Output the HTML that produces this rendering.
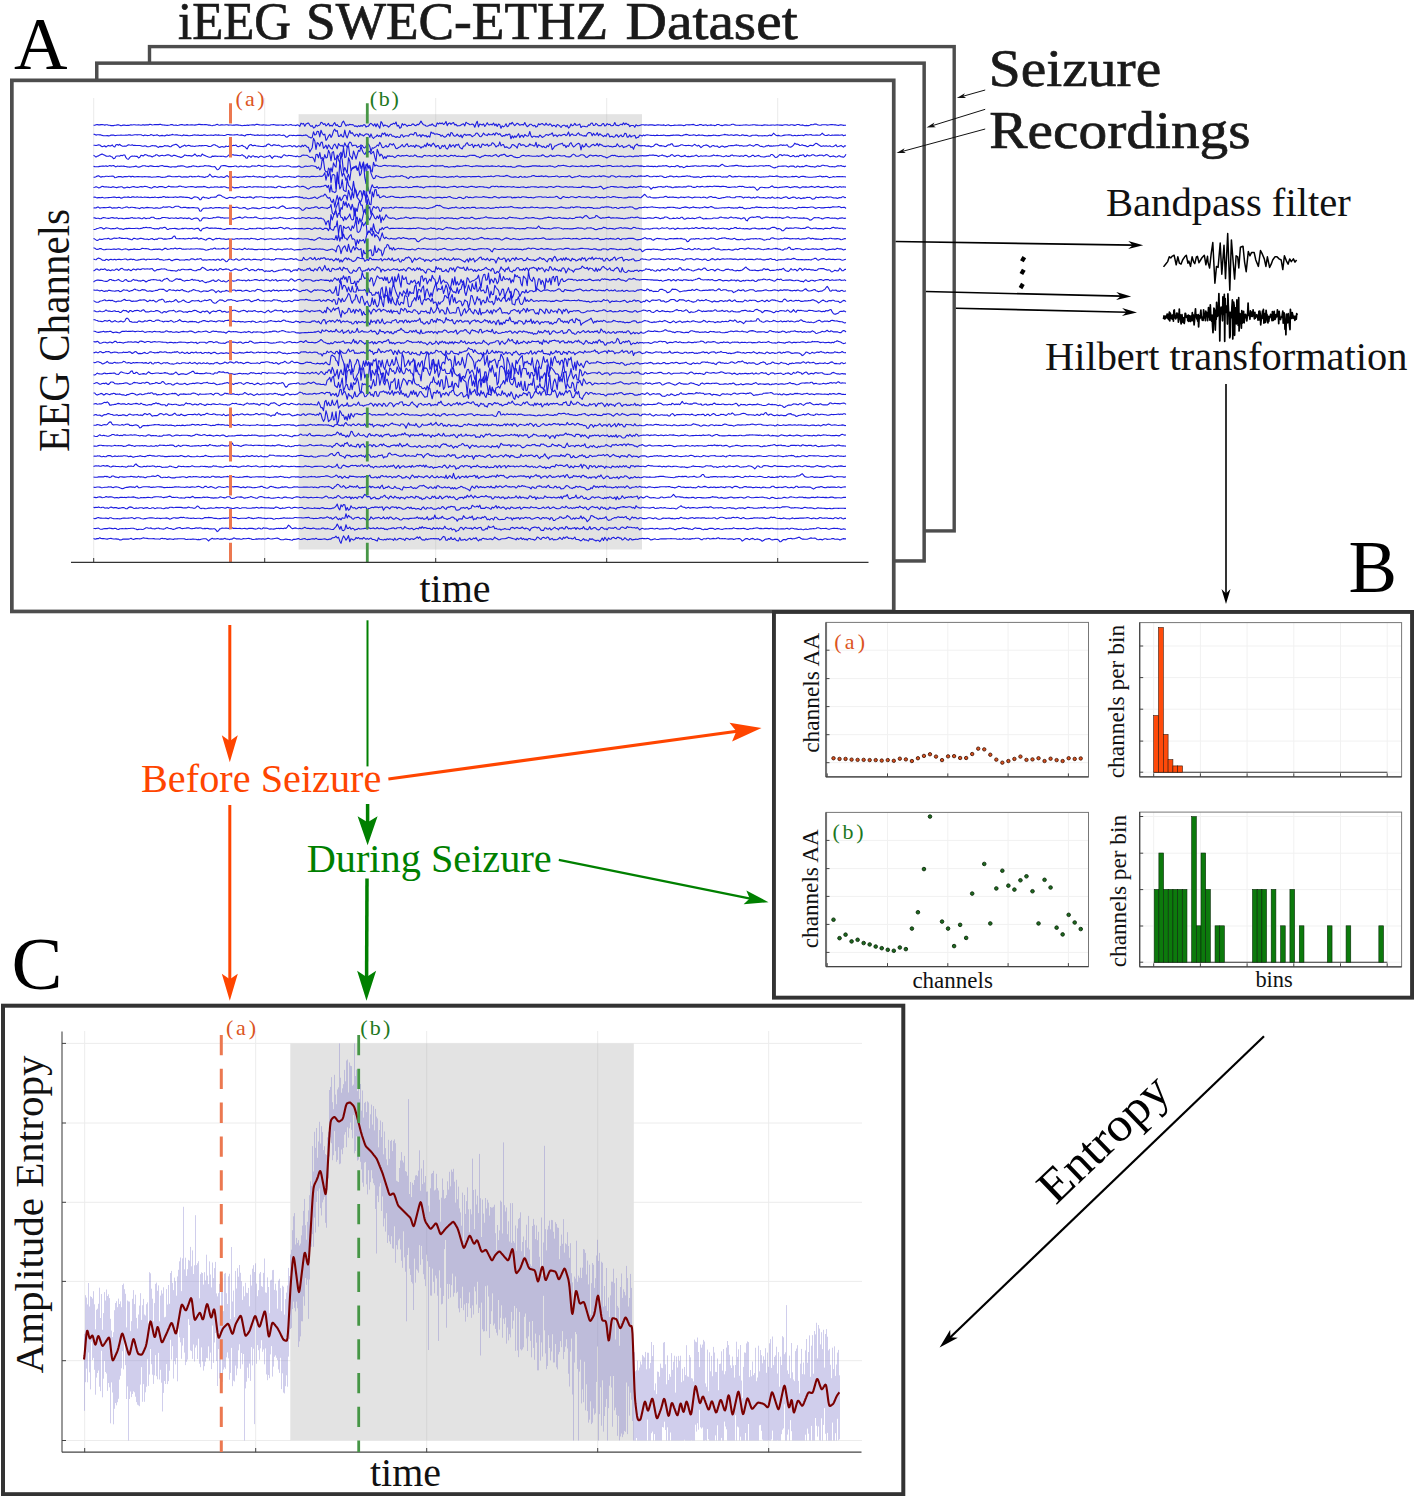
<!DOCTYPE html>
<html><head><meta charset="utf-8"><style>
html,body{margin:0;padding:0;background:#fff;overflow:hidden;}
svg{display:block;}
text{font-family:"Liberation Serif",serif;}
</style></head><body>
<svg width="1414" height="1496" viewBox="0 0 1414 1496">
<rect width="1414" height="1496" fill="#fff"/>
<rect x="149.50" y="46.60" width="804.70" height="484.30" fill="#fff" stroke="#4d4d4d" stroke-width="3.4"/>
<rect x="96.75" y="63.15" width="827.40" height="497.80" fill="#fff" stroke="#4d4d4d" stroke-width="3.5"/>
<rect x="11.85" y="80.35" width="881.90" height="531.10" fill="#fff" stroke="#4d4d4d" stroke-width="3.7"/>
<text x="178" y="38.5" font-size="53" fill="#1a1a1a" text-anchor="start" textLength="113" lengthAdjust="spacingAndGlyphs" stroke="#1a1a1a" stroke-width="0.7">iEEG</text>
<text x="306" y="38.5" font-size="53" fill="#1a1a1a" text-anchor="start" textLength="302" lengthAdjust="spacingAndGlyphs" stroke="#1a1a1a" stroke-width="0.7">SWEC-ETHZ</text>
<text x="625.6" y="38.5" font-size="53" fill="#1a1a1a" text-anchor="start" textLength="172" lengthAdjust="spacingAndGlyphs" stroke="#1a1a1a" stroke-width="0.7">Dataset</text>
<text x="14" y="69" font-size="74" fill="#000" text-anchor="start" textLength="53.5" lengthAdjust="spacingAndGlyphs" >A</text>
<text x="988.8" y="85.8" font-size="53" fill="#1a1a1a" text-anchor="start" textLength="172.4" lengthAdjust="spacingAndGlyphs" stroke="#1a1a1a" stroke-width="0.7">Seizure</text>
<text x="989.3" y="147.8" font-size="53" fill="#1a1a1a" text-anchor="start" textLength="261.3" lengthAdjust="spacingAndGlyphs" stroke="#1a1a1a" stroke-width="0.7">Recordings</text>
<line x1="93.70" y1="98.00" x2="93.70" y2="562.00" stroke="#ebebeb" stroke-width="1" />
<line x1="264.70" y1="98.00" x2="264.70" y2="562.00" stroke="#ebebeb" stroke-width="1" />
<line x1="435.70" y1="98.00" x2="435.70" y2="562.00" stroke="#ebebeb" stroke-width="1" />
<line x1="606.70" y1="98.00" x2="606.70" y2="562.00" stroke="#ebebeb" stroke-width="1" />
<line x1="777.70" y1="98.00" x2="777.70" y2="562.00" stroke="#ebebeb" stroke-width="1" />
<rect x="298.6" y="114.2" width="343.4" height="435.3" fill="#e3e3e3"/>
<line x1="435.70" y1="114.20" x2="435.70" y2="549.50" stroke="#d6d6d6" stroke-width="1" />
<line x1="606.70" y1="114.20" x2="606.70" y2="549.50" stroke="#d6d6d6" stroke-width="1" />
<g fill="none" stroke="#1c1ce0" stroke-width="1.1" stroke-linejoin="round">
<path d="M93.5 125.3l1.3-.1 1.2-.4 1.2-.3 1.3 .4 1.3 0 1.2-.3 1.2 0 1.3 .2 1.3 .3 1.2-.3 1.2-.1 1.3 .5 1.3 .1 1.2 .3 1.2 0 1.3 0 1.3-.3 1.2-.1 1.2-.3 1.3-.1 1.3 .4 1.2 .6 1.2-.4 1.3-.4 1.3 .1 1.2 .4 1.2-.1 1.3 0 1.3-.3 1.2-.4 1.2 .3 1.3-.2 1.3-.1 1.2 .3 1.2 0 1.3-.1 1.3 .1 1.2 .3 1.2-.4 1.3-.2 1.3 .4 1.2-.3 1.2 .1 1.3 0 1.3-.7 1.2 .3 1.2 .5 1.3-.2 1.3-.3 1.2 .1 1.2-.1 1.3 .1 1.3-.2 1.2 0 1.2 .5 1.3 .1 1.3 .1 1.2 .1 1.2 .2 1.3-.1 1.3-.3 1.2-.4 1.2 0 1.3 .7 1.3-.1 1.2-.2 1.2 .5 1.3-.2 1.3-.4 1.2-.4 1.2 .1 1.3 .4 1.3 .1 1.2-.2 1.2-.3 1.3 .4 1.3 0 1.2-.2 1.2 .1 1.3 .1 1.3 .1 1.2-.2 1.2-.2 1.3-.3 1.3 0 1.2 .2 1.2 0 1.3 .1 1.3-.2 1.2 .1 1.2 .1 1.3 .4 1.3-.1 1.2 .5 1.2 .2 1.3-.4 1.3-.1 1.2-.5 1.2-.4 1.3 .7 1.3 .2 1.2-.3 1.2 0 1.3 .1 1.3 0 1.2-.3 1.2 .1 1.3 .3 1.3-.1 1.2 0 1.2 .2 1.3-.2 1.3 .1 1.2-.3 1.2 .1 1.3 .2 1.3 .2 1.2 .1 1.2 .4 1.3-.3 1.3-.3 1.2 .3 1.2-.4 1.3 .3 1.3-.4 1.2 0 1.2-.3 1.3 .2 1.3 .2 1.2-.7 1.2-.2 1.3 .4 1.3 .3 1.2 .1 1.2 .1 1.3-.4 1.3 .3 1.2 .1 1.2 .2 1.3 0 1.3-.1 1.2-.5 1.2 0 1.3-.1 1.3 .2 1.2 .3 1.2 0 1.3 0 1.3-.1 1.2 0 1.2 .1 1.3 .3 1.3-.4 1.2-.5 1.2 .5 1.3 .3 1.3-.5 1.2-.2 1.2 .6 1.3 0 1.3 .1 1.2 .3 1.2-.8 1.3 .4 1.3 1.1 1.2-3.2 1.2 1 1.3-.7 1.3 2.8 1.2-2.2 1.2-.6 1.3-.4 1.3 2.1 1.2 1.4 1.2-.9 1.3 2.4 1.3-.6 1.2-2.4 1.2 1.2 1.3-.8 1.3-.5 1.2-2.7 1.2 .6 1.3 1.7 1.3-.9 1.2 2.3 1.2-1 1.3-1.5 1.3 2.7 1.2-.9 1.2 .9 1.3-1.9 1.3-1.6 1.2 2.9 1.2-.8 1.3 1.7 1.3 .2 1.2-.3 1.2-3.6 1.3-1.6 1.3 2.6 1.2 2.3 1.2-1.3 1.3 .5 1.3-.9 1.2 .4 1.2-.1 1.3 .4 1.3 1.5 1.2-.7 1.2 1.1 1.3-1.3 1.3 .9 1.2-1.1 1.2 .9 1.3-1.4 1.3-.1 1.2 2.3 1.2-.9 1.3-.1 1.3-2 1.2-.8 1.2 1.1 1.3 1.4 1.3-2 1.2 3 1.2-3.1 1.3 2.3 1.3 2.1 1.2-6.5 1.2 1.6 1.3 3 1.3-1.2 1.2 .6 1.2 .1 1.3 1.5 1.3-1.4 1.2-1.5 1.2 .1 1.3-1.2 1.3 .8 1.2-2 1.2 4.1 1.3-.8 1.3 2.9 1.2-.7 1.2-3.9 1.3 1.6 1.3-1.1 1.2 1.1 1.2 1.2 1.3-1.2 1.3 .2 1.2 .1 1.2-1.4 1.3 0 1.3 1.3 1.2 .3 1.2-1.3 1.3 .4 1.3-1.7 1.2-2 1.2 2 1.3 1.7 1.3 .2 1.2 1 1.2 .3 1.3-.6 1.3-.8 1.2 .3 1.2-1.4 1.3 1.6 1.3 .6 1.2 .4 1.2-3.5 1.3 1.1 1.3-1.1 1.2 .9 1.2-.9 1.3 1.6 1.3-1 1.2-2.1 1.2 4.2 1.3-2.2 1.3-.5 1.2 1.5 1.2-1.2 1.3-.6 1.3 2.4 1.2-.7 1.2 1.6 1.3-.1 1.3-.1 1.2-.7 1.2-.7 1.3-.6 1.3 2.2 1.2-3.7 1.2 1 1.3 .6 1.3 .9 1.2-.2 1.2-.5 1.3 .6 1.3 2.6 1.2-3.4 1.2-2.6 1.3 5.7 1.3-2.9 1.2 .5 1.2 .5 1.3-1.2 1.3 2.7 1.2-1.8 1.2-2 1.3 2.1 1.3 .1 1.2-.8 1.2 .9 1.3-2 1.3 2.6 1.2-1.6 1.2 2.5 1.3-2.5 1.3 .7 1.2 3.6 1.2-2.5 1.3 1.1 1.3-1.1 1.2-2 1.2 2.9 1.3-.6 1.3-2.8 1.2 .8 1.2-1.7 1.3 1.9 1.3 1.4 1.2-1.3 1.2-1.2 1.3 .8 1.3 1.3 1.2-.5 1.2-.3 1.3 .4 1.3-2.3 1.2 2.6 1.2 1.5 1.3-.9 1.3-1.5 1.2-.1 1.2 1 1.3 .7 1.3-.7 1.2 1.9 1.2-.5 1.3-2.9 1.3 1 1.2-.6 1.2-.6 1.3 1.2 1.3 .5 1.2-2 1.2 1.6 1.3 .5 1.3-1.5 1.2 .7 1.2 1.9 1.3-1.2 1.3 .3 1.2 1.5 1.2-2.4 1.3 .5 1.3 .9 1.2 1.5 1.2-1.8 1.3-.5 1.3 .1 1.2 1.3 1.2-1.2 1.3 2.7 1.3-1.3 1.2-2.8 1.2 1.8 1.3-.6 1.3-1.8 1.2 1.7 1.2 .1 1.3-.4 1.3-.7 1.2 3.4 1.2-1.2 1.3 0 1.3 .1 1.2 .4 1.2-.1 1.3-1.8 1.3 .4 1.2-2.1 1.2-.2 1.3 2.5 1.3-.2 1.2-1.9 1.2 1 1.3 1.4 1.3-.2 1.2 .2 1.2-1.7 1.3-.6 1.3 2.5 1.2-.6 1.2-1.8 1.3 1 1.3-.4 1.2 1.4 1.2 .2 1.3-.5 1.3-2.7 1.2 2.6 1.2 .2 1.3 .4 1.3-.9 1.2-.8 1.2 .8 1.3-2 1.3 1.7 1.2-1.4 1.2 1.2 1.3 0 1.3 2.2 1.2-1.1 1.2 0 1.3 0 1.3 1.8 1.2-2.6 1.2 .9 1.3 .1 1.3-.3 1.2-.5 1.2-.2 1.3 .1 1.3 .3 1.2-.2 1.2 .1 1.3 .1 1.3-.2 1.2 0 1.2 0 1.3 .2 1.3 .3 1.2-.2 1.2-.3 1.3-.2 1.3 .3 1.2 .1 1.2 .2 1.3-.4 1.3 .4 1.2 .3 1.2-.6 1.3-.2 1.3 .7 1.2 .1 1.2-.1 1.3-.1 1.3-.3 1.2 .2 1.2-.1 1.3-.2 1.3 .1 1.2-.1 1.2 .3 1.3 .3 1.3-.1 1.2-.8 1.2 .1 1.3 .1 1.3 0 1.2-.1 1.2-.2 1.3-.2 1.3 .7 1.2 .4 1.2-.1 1.3-.2 1.3-.6 1.2-.1 1.2 .6 1.3 .3 1.3-.4 1.2-.2 1.2 .8 1.3-.4 1.3-.1 1.2-.2 1.2 .3 1.3 .1 1.3 .3 1.2-.3 1.2-.8 1.3 0 1.3 .5 1.2 .4 1.2 .2 1.3-.4 1.3-.3 1.2 0 1.2 .2 1.3 .2 1.3-.2 1.2-.3 1.2-.5 1.3 0 1.3 .6 1.2 .3 1.2 0 1.3 .1 1.3 .1 1.2-.1 1.2 0 1.3-.3 1.3 0 1.2-.1 1.2 .1 1.3 .2 1.3 0 1.2-.2 1.2-.1 1.3-.2 1.3 .1 1.2 .3 1.2-.1 1.3 .2 1.3 0 1.2 .1 1.2 .3 1.3-.5 1.3-.2 1.2 .1 1.2 .1 1.3 .1 1.3 0 1.2-.1 1.2-.1 1.3 0 1.3 .2 1.2-.2 1.2-.1 1.3 .1 1.3 .1 1.2 0 1.2 .3 1.3-.4 1.3-.2 1.2 0 1.2 .1 1.3 .3 1.3-.1 1.2-.3 1.2 0 1.3 .3 1.3 .3 1.2-.5 1.2-.4 1.3 0 1.3 .4 1.2 .4 1.2-.4 1.3 .3 1.3 .6 1.2-.4 1.2 .2 1.3 0 1.3-.4 1.2-.6 1.2 .2 1.3-.2 1.3-.6 1.2 .1 1.2 .5 1.3 .4 1.3 .3 1.2-.2 1.2-.3 1.3-.1 1.3 .1 1.2 0 1.2 .3 1.3-.1 1.3-.3 1.2-.1 1.2-.1 1.3 .2 1.3 .2 1.2 0 1.2 .4 1.3 .1 1.3-.5 1.2-.1 1.2 .2 1.3 .4 1.3-.1 1.2 0"/>
<path d="M93.5 134.3l1.3 .1 1.2 .7 1.2-.3 1.3 0 1.3 .1 1.2 0 1.2 .5 1.3 .3 1.3 .1 1.2-.1 1.2-.1 1.3 .3 1.3-.2 1.2-.6 1.2-.1 1.3 .1 1.3 .5 1.2-.1 1.2-.2 1.3-.1 1.3 0 1.2-.2 1.2 .2 1.3 .1 1.3-.1 1.2-.2 1.2 .2 1.3-.4 1.3 .1 1.2 .2 1.2 .1 1.3-.2 1.3-.2 1.2 0 1.2 .1 1.3-.1 1.3 0 1.2-.1 1.2 .5 1.3 .5 1.3-.7 1.2 .2 1.2 .4 1.3-.1 1.3-.2 1.2-.7 1.2 .4 1.3 .6 1.3-.4 1.2-.1 1.2-.3 1.3 .8 1.3 .5 1.2-.5 1.2-.2 1.3 .3 1.3 .2 1.2-.7 1.2-.3 1.3 .6 1.3-.4 1.2-.1 1.2-.6 1.3 .4 1.3 .2 1.2-.3 1.2 .2 1.3 .3 1.3 0 1.2 .4 1.2 .1 1.3-.8 1.3 .3 1.2 .2 1.2 0 1.3 .4 1.3 0 1.2-.3 1.2-.1 1.3-.4 1.3-.2 1.2 .4 1.2-.1 1.3 0 1.3 .4 1.2-.1 1.2 0 1.3-.5 1.3 0 1.2 .3 1.2 .3 1.3-.3 1.3 0 1.2-.2 1.2 .2 1.3 .2 1.3-.5 1.2 0 1.2 .3 1.3-.3 1.3 .3 1.2 .1 1.2 0 1.3 .2 1.3 0 1.2-.4 1.2-.6 1.3 0 1.3 .4 1.2-.2 1.2 .3 1.3 0 1.3-.1 1.2-.1 1.2-.4 1.3 .6 1.3 .3 1.2-.4 1.2 .2 1.3 .4 1.3 .5 1.2-1 1.2-.4 1.3 0 1.3-.1 1.2-.1 1.2 .5 1.3 .1 1.3 .4 1.2-.1 1.2-.4 1.3 .2 1.3 .4 1.2-.4 1.2 0 1.3 .1 1.3-.2 1.2 .3 1.2 .4 1.3-.3 1.3-.6 1.2 .5 1.2-.2 1.3-.4 1.3 .2 1.2 .5 1.2-.2 1.3-.3 1.3 0 1.2 .4 1.2 .2 1.3-.4 1.3 .5 1.2 1.3 1.2 .2 1.3-1.1 1.3-.7 1.2-.1 1.2 .4 1.3-.2 1.3 .1 1.2 .2 1.2-.3 1.3-.1 1.3 .1 1.2 0 1.2 .3 1.3-.3 1.3-.2 1.2-.3 1.2 .6 1.3 1.4 1.3 .3 1.2 .7 1.2-.5 1.3-5.6 1.3 3.3 1.2-.5 1.2-3.3 1.3 .2 1.3 5.4 1.2-6.7 1.2 3.1 1.3 1.7 1.3-.9 1.2 6.3 1.2-1.6 1.3-2.7 1.3-1.8 1.2 3.1 1.2-2 1.3-4.6 1.3-1.6 1.2 2.2 1.2-.9 1.3 6 1.3-.4 1.2-1.8 1.2 2.3 1.3 .3 1.3-6.8 1.2 5.5 1.2 2.3 1.3-3.8 1.3-3.6 1.2 3 1.2-.9 1.3 2 1.3 1.6 1.2-1.9 1.2-.1 1.3 2.6 1.3-3.4 1.2 1.6 1.2-.2 1.3 1.2 1.3-1.2 1.2-.9 1.2 .1 1.3 .4 1.3 2.9 1.2-3.4 1.2 3.1 1.3 1.5 1.3-1.5 1.2-.4 1.2-1.7 1.3 1.6 1.3-1 1.2 1.5 1.2-3.9 1.3 1.2 1.3-1.5 1.2 3.2 1.2-1.8 1.3 2 1.3-2 1.2 0 1.2 2.1 1.3-.3 1.3 .7 1.2 .8 1.2-1 1.3 .8 1.3 .2 1.2-2.4 1.2-.4 1.3 2.4 1.3-1 1.2-.4 1.2 .1 1.3 .5 1.3-1.9 1.2-.4 1.2 .3 1.3 .6 1.3-2.4 1.2 .2 1.2 3.3 1.3-.2 1.3-1.2 1.2 2.3 1.2-2 1.3 .2 1.3 1.1 1.2-.8 1.2 1.7 1.3-1.2 1.3 1.2 1.2-5.1 1.2 1.1 1.3-.1 1.3 1.3 1.2-.3 1.2-.1 1.3 .6 1.3 .1 1.2 1.7 1.2-1.2 1.3 1.4 1.3 .7 1.2-.6 1.2-1.8 1.3-.7 1.3 2.2 1.2-3.8 1.2 .4 1.3 2.7 1.3 .7 1.2-.6 1.2-1.5 1.3 1.6 1.3 .8 1.2-1.7 1.2 2.8 1.3-2.6 1.3-1 1.2 1.4 1.2-.8 1.3 .2 1.3-.3 1.2 .7 1.2 1.4 1.3-.8 1.3-.8 1.2-1.8 1.2-.3 1.3 1.6 1.3 1.9 1.2 .2 1.2-1.3 1.3-2.4 1.3 1.7 1.2 .4 1.2 .5 1.3-1.9 1.3 1 1.2 .1 1.2 0 1.3-1.5 1.3 1.9 1.2-2.4 1.2 .5 1.3 1.4 1.3-1.1 1.2 1.8 1.2 1.1 1.3-1 1.3 .4 1.2-1.6 1.2 .9 1.3-1 1.3-.1 1.2 4.7 1.2-3 1.3 2.1 1.3-2 1.2 1.4 1.2-1.6 1.3-2 1.3 3.9 1.2-2 1.2-.2 1.3 1.9 1.3-2.8 1.2 1.1 1.2 .6 1.3-.4 1.3-4.3 1.2 4.3 1.2 1.5 1.3-1.1 1.3 .1 1.2 .7 1.2-.5 1.3 .7 1.3-2.2 1.2 1 1.2 1.4 1.3-.6 1.3-.9 1.2-1.4 1.2 .2 1.3 .7 1.3-1.2 1.2 0 1.2-1.4 1.3 3.4 1.3-1.1 1.2-.1 1.2 1.7 1.3-1.5 1.3-.4 1.2 1.1 1.2-.9 1.3-.5 1.3-.2 1.2 1.3 1.2-.9 1.3-2.8 1.3 4.3 1.2-1.6 1.2-.7 1.3 1.2 1.3 .1 1.2 .3 1.2-1.6 1.3-1 1.3 2.1 1.2-.2 1.2 .6 1.3 .6 1.3-.4 1.2 .7 1.2-2.4 1.3-1.3 1.3-.1 1.2 .4 1.2 2.8 1.3-2.5 1.3 2.1 1.2-.5 1.2-2.1 1.3 3.1 1.3-2 1.2 .9 1.2 .8 1.3 1.2 1.3-1.3 1.2 .9 1.2-2.5 1.3 .2 1.3 3 1.2-.6 1.2-.1 1.3 .9 1.3-.4 1.2-1.9 1.2 .2 1.3 2.1 1.3-1.3 1.2-1 1.2 1.8 1.3-.4 1.3-3.1 1.2 .3 1.2 3.7 1.3-.3 1.3-2 1.2 2.1 1.2-1 1.3-.3 1.3-.5 1.2 3.1 1.2-.8 1.3-.4 1.3-2.1 1.2 .4 1.2 .7 1.3-1.1 1.3 .7 1.2-.6 1.2-.4 1.3 .3 1.3 .3 1.2 .1 1.2 .1 1.3-.2 1.3 .3 1.2-.2 1.2-.3 1.3 .4 1.3 0 1.2-.1 1.2 .1 1.3-.5 1.3 .2 1.2 .5 1.2-.2 1.3 .1 1.3 0 1.2-.2 1.2 0 1.3-.3 1.3 .2 1.2-.2 1.2 0 1.3 0 1.3 .3 1.2 .2 1.2 .1 1.3-.6 1.3-.4 1.2-.3 1.2 .2 1.3 .5 1.3 .3 1.2-.1 1.2-.1 1.3-.4 1.3 .2 1.2 .6 1.2-.1 1.3-.6 1.3 .2 1.2 .1 1.2-.2 1.3 .4 1.3 .2 1.2 .2 1.2 .1 1.3-.5 1.3 .2 1.2 0 1.2-.1 1.3-.4 1.3 .1 1.2 .2 1.2 .4 1.3-.2 1.3 0 1.2-.4 1.2-.2 1.3-.2 1.3-.4 1.2 .3 1.2 .2 1.3 .2 1.3 .1 1.2-.4 1.2 .2 1.3 .5 1.3-.4 1.2-.2 1.2 0 1.3 .3 1.3 .5 1.2-.2 1.2-.7 1.3 .3 1.3 .5 1.2-.3 1.2 .1 1.3 .6 1.3 .2 1.2-.3 1.2-.7 1.3 0 1.3 0 1.2-.1 1.2 .2 1.3 .6 1.3-.2 1.2 .1 1.2 .1 1.3-.2 1.3-.1 1.2 .1 1.2 .3 1.3-.5 1.3-.5 1.2 .7 1.2-.7 1.3-1.8 1.3 1.2 1.2 .9 1.2 .3 1.3-.2 1.3 .4 1.2 .2 1.2-.2 1.3-.4 1.3-.3 1.2-.1 1.2 0 1.3-.2 1.3 .1 1.2 .1 1.2 .7 1.3 .1 1.3-.5 1.2 .4 1.2-.1 1.3-.2 1.3 .1 1.2-.2 1.2-.1 1.3 .6 1.3-.8 1.2-.6 1.2 .5 1.3 .1 1.3-.3 1.2-.1 1.2 .7 1.3 0 1.3-.1 1.2-.1 1.2 0 1.3 .1 1.3 .1 1.2-.8 1.2-1.3 1.3 1.3 1.3 .8 1.2 .2 1.2-.1 1.3-.6 1.3 .4 1.2 .3 1.2-.5 1.3 .2 1.3-.2 1.2 .1 1.2-.1 1.3 .1 1.3 .2 1.2-.3 1.2-.2 1.3 .9 1.3-.4 1.2-.2"/>
<path d="M93.5 145.3l1.3 0 1.2 .2 1.2-.3 1.3-.3 1.3 .1 1.2 1.1 1.2 .7 1.3-.5 1.3-.4 1.2 1.1 1.2-.9 1.3-.7 1.3 .5 1.2 0 1.2-1 1.3 1.6 1.3 .4 1.2-2.1 1.2-.3 1.3 .8 1.3-1 1.2 1.3 1.2 .5 1.3 .2 1.3-.3 1.2 .2 1.2-.7 1.3-.8 1.3 .3 1.2 .2 1.2-.4 1.3 .7 1.3-.3 1.2 .3 1.2 0 1.3 0 1.3 0 1.2 .3 1.2 .4 1.3 0 1.3-.5 1.2 .4 1.2 .7 1.3 0 1.3-.3 1.2-.5 1.2-.4 1.3 .1 1.3 .2 1.2 0 1.2 .9 1.3 .6 1.3-1 1.2 .2 1.2 0 1.3-.3 1.3-.7 1.2 .4 1.2-.3 1.3 .4 1.3 .6 1.2-.1 1.2-1.1 1.3-.5 1.3-.4 1.2-.4 1.2 .8 1.3 1.1 1.3 1.6 1.2-.7 1.2-.8 1.3-.3 1.3-.9 1.2 1.3 1.2-.6 1.3-.4 1.3 .3 1.2 .6 1.2-.1 1.3 .2 1.3 .2 1.2-.5 1.2 0 1.3-.1 1.3-.4 1.2 .4 1.2-.3 1.3 .2 1.3-.3 1.2 0 1.2 .2 1.3 .7 1.3 .1 1.2-.3 1.2-.7 1.3-.7 1.3 0 1.2 .7 1.2 .4 1.3 1.1 1.3 .4 1.2-.7 1.2-.1 1.3 .5 1.3-.1 1.2-1 1.2 .5 1.3 0 1.3-1.8 1.2 .6 1.2 .4 1.3-.3 1.3 .1 1.2-.5 1.2 1.4 1.3 .3 1.3-.6 1.2-.3 1.2-.6 1.3 1.3 1.3 .2 1.2 1.3 1.2 1 1.3-2.8 1.3-1.2 1.2-.5 1.2 1.1 1.3 0 1.3-.4 1.2 .5 1.2 .3 1.3 .1 1.3 .2 1.2 .2 1.2 0 1.3 .1 1.3-.6 1.2 .1 1.2-1.7 1.3-.5 1.3 .7 1.2 1 1.2 .1 1.3-.9 1.3 .1 1.2 .3 1.2 .3 1.3-.4 1.3 .6 1.2 .4 1.2 .9 1.3-.4 1.3-.6 1.2 .3 1.2-.1 1.3-.5 1.3-.1 1.2 .2 1.2 1.1 1.3-1 1.3-.2 1.2 1.2 1.2 0 1.3-1.1 1.3 .5 1.2 .6 1.2-1.7 1.3 1.3 1.3-1.5 1.2 .8 1.2 1.4 1.3 .2 1.3 4.7 1.2-2.4 1.2-2 1.3-9.4 1.3 2.7 1.2 8.5 1.2-6.9 1.3 .9 1.3 2.7 1.2-3.8 1.2-.3 1.3 6.2 1.3-1.3 1.2-1.9 1.2 3.9 1.3-4.2 1.3 1.6 1.2 2.1 1.2 .5 1.3-3.6 1.3-1.4 1.2 2.2 1.2 2.6 1.3-5.2 1.3 1.7 1.2 .6 1.2-.6 1.3 2.1 1.3-4.5 1.2 2.8 1.2 1.3 1.3-2.7 1.3-2.3 1.2 .7 1.2 3.2 1.3-.5 1.3-.1 1.2 0 1.2 2.2 1.3-.9 1.3-.4 1.2-1.3 1.2 .5 1.3 2.1 1.3 .5 1.2-1.7 1.2-2.4 1.3 .1 1.3 2.4 1.2 5.2 1.2-3.8 1.3 .5 1.3-1.1 1.2-.5 1.2-1.7 1.3 .9 1.3-3.7 1.2 2.3 1.2 2.9 1.3 .3 1.3-1.1 1.2-1.2 1.2 1.7 1.3-.6 1.3-2.8 1.2 .4 1.2 1 1.3-1.4 1.3 2.3 1.2 2.4 1.2 .2 1.3-1.1 1.3-.5 1.2-1 1.2-1.5 1.3 2.3 1.3-.2 1.2-2.1 1.2-.8 1.3 2.9 1.3-.3 1.2-.8 1.2 .9 1.3-.8 1.3 1.8 1.2-2.5 1.2 1.1 1.3-.1 1.3 .7 1.2 1.5 1.2-1.4 1.3 .3 1.3-2.1 1.2 1.8 1.2-3.7 1.3 2.5 1.3-1.1 1.2 2.2 1.2-2.4 1.3-1 1.3 2.2 1.2 1.7 1.2-1.5 1.3 0 1.3 3.2 1.2-.7 1.2-2.7 1.3 1.2 1.3-1.5 1.2 3 1.2 1 1.3-1.6 1.3-3.2 1.2 2.7 1.2-1.5 1.3-.6 1.3 2.4 1.2-2.7 1.2 .7 1.3-1.1 1.3 3.2 1.2 .8 1.2 .8 1.3-3 1.3-.1 1.2-2.2 1.2-1 1.3 2.2 1.3 .6 1.2-.6 1.2-.8 1.3 3.5 1.3-2.6 1.2 .8 1.2-.2 1.3-1.2 1.3 2.7 1.2 .3 1.2-3.4 1.3 .4 1.3 1 1.2-.3 1.2-1 1.3 2.2 1.3-1.1 1.2 .1 1.2-2.5 1.3 .5 1.3 1.6 1.2 2.1 1.2-1.1 1.3-.1 1.3-3.9 1.2 4 1.2-1.1 1.3-.3 1.3 3.1 1.2-.7 1.2 .2 1.3 1.1 1.3 0 1.2-1.2 1.2-2.5 1.3 .3 1.3 1 1.2 .7 1.2 1.6 1.3-4.2 1.3-.5 1.2 2.2 1.2-.7 1.3-.1 1.3 .7 1.2 1.3 1.2-.6 1.3-.3 1.3-2 1.2 1.1 1.2 0 1.3 .9 1.3 0 1.2-3.7 1.2 5.2 1.3-2.6 1.3 .7 1.2 .5 1.2 1.2 1.3-1 1.3 1.3 1.2 .2 1.2-2.1 1.3 1 1.3-2.6 1.2 0 1.2 5.6 1.3-1.5 1.3-2.1 1.2-.1 1.2-.9 1.3-.6 1.3-.4 1.2-.1 1.2-.8 1.3 2.7 1.3-.7 1.2 2.5 1.2-2 1.3 .8 1.3-2.7 1.2-1 1.2 2.4 1.3 1.9 1.3-.9 1.2-1.2 1.2-1 1.3-.6 1.3 .9 1.2 5.8 1.2-5.2 1.3 2.3 1.3-.8 1.2-2.8 1.2 2.4 1.3 1 1.3 .1 1.2-1.3 1.2-.9 1.3-.4 1.3 1.3 1.2-.6 1.2-1.7 1.3 2.7 1.3-2.2 1.2 1 1.2 .2 1.3 1.2 1.3 .1 1.2 .2 1.2-.6 1.3-.2 1.3 .8 1.2-.3 1.2 .8 1.3-.5 1.3-.4 1.2 .2 1.2-2.7 1.3 2 1.3 1.2 1.2-.8 1.2-.6 1.3 2.1 1.3-.7 1.2-.1 1.2-.7 1.3-1 1.3 .1 1.2 2.2 1.2-.6 1.3 2.5 1.3-3.5 1.2-1 1.2-.7 1.3 1.7 1.3-.2 1.2 .3 1.2-.3 1.3 .1 1.3-.1 1.2 .7 1.2-.2 1.3-.2 1.3 .4 1.2 .7 1.2-.5 1.3-.3 1.3-1.4 1.2-.7 1.2 .2 1.3 .9 1.3 .7 1.2-.3 1.2 .3 1.3 .1 1.3 .6 1.2-.1 1.2-1 1.3-.7 1.3 .2 1.2-1.1 1.2 0 1.3 2.1 1.3 .3 1.2 .1 1.2-.3 1.3 0 1.3-.5 1.2-.8 1.2-.1 1.3 .5 1.3 .3 1.2 .1 1.2-.1 1.3-.2 1.3 .2 1.2 .2 1.2 .5 1.3-1.1 1.3-.8 1.2 1.1 1.2 .7 1.3-.8 1.3 1 1.2 1.4 1.2-1.1 1.3-1 1.3-.3 1.2-.4 1.2 .3 1.3 .8 1.3 1.2 1.2-.4 1.2-1.1 1.3-.2 1.3 .8 1.2-.1 1.2-.2 1.3 1.2 1.3 .2 1.2-1.1 1.2-.4 1.3 .7 1.3 .7 1.2-.7 1.2 0 1.3-.8 1.3-.1 1.2-.1 1.2-.1 1.3 .3 1.3-.5 1.2-.4 1.2 .2 1.3 .1 1.3 .7 1.2-.4 1.2 .2 1.3 .6 1.3-.3 1.2 0 1.2-.1 1.3-.6 1.3-.5 1.2 .5 1.2 .4 1.3 .5 1.3-.8 1.2-.9 1.2 .1 1.3 .5 1.3 .9 1.2 .4 1.2 0 1.3 .6 1.3-.2 1.2-.9 1.2 0 1.3-.6 1.3 .9 1.2-.3 1.2 .3 1.3-.3 1.3 .1 1.2-.3 1.2 0 1.3 0 1.3-.7 1.2-.3 1.2 .7 1.3-.3 1.3 .2 1.2-.2 1.2-.3 1.3 1.9 1.3 .3 1.2 .1 1.2-.8 1.3-1.2 1.3-1.9 1.2 .9 1.2 0 1.3 .4 1.3 1 1.2-.3 1.2-.5 1.3 .8 1.3 .1 1.2 .3 1.2 .9 1.3-.4 1.3-1 1.2-.1 1.2 .5 1.3-.4 1.3-1.3 1.2-.8 1.2 .4 1.3 1 1.3 .8 1.2 .9 1.2-.2 1.3-.5 1.3 .5 1.2-.4 1.2 .3 1.3 .1 1.3-.4 1.2 .6 1.2 .4 1.3-.3 1.3-.9 1.2-.8 1.2 1.9 1.3-.2 1.3-.6 1.2-.5 1.2 .9 1.3 .8 1.3-1.4 1.2 .4"/>
<path d="M93.5 155.3l1.3 .8 1.2 1 1.2-.8 1.3-.4 1.3-.9 1.2-.6 1.2-.3 1.3 .6 1.3 .6 1.2 .8 1.2 .1 1.3 .1 1.3-.5 1.2 .6 1.2 .5 1.3 1.8 1.3-.5 1.2-2 1.2-.2 1.3 0 1.3 .1 1.2-.8 1.2 .4 1.3-.7 1.3 0 1.2 2.7 1.2 1.3 1.3 .2 1.3-1.8 1.2-.9 1.2-.5 1.3 .2 1.3-.2 1.2 .4 1.2 0 1.3 1.5 1.3-.6 1.2-2 1.2 .3 1.3 .3 1.3-1.3 1.2 .1 1.2 .5 1.3 .8 1.3-.1 1.2 .3 1.2 .8 1.3-.9 1.3-.4 1.2-.9 1.2 0 1.3 1.1 1.3 .2 1.2-.6 1.2-.2 1.3 .5 1.3 0 1.2-.6 1.2-.3 1.3-.2 1.3 .5 1.2 .9 1.2 .2 1.3-1.1 1.3 .2 1.2 .3 1.2 .5 1.3 .6 1.3 .1 1.2 .7 1.2-.7 1.3-.7 1.3-1.3 1.2 .4 1.2 .5 1.3-.2 1.3-.1 1.2 .6 1.2-.2 1.3-.6 1.3-1.3 1.2 1.2 1.2 1.1 1.3-.8 1.3 .4 1.2 .2 1.2-2.1 1.3 1 1.3 .4 1.2 .7 1.2 .4 1.3 .5 1.3 .3 1.2 0 1.2-1.2 1.3 .3 1.3-.3 1.2-.1 1.2 .4 1.3-.1 1.3 0 1.2 .1 1.2-.2 1.3 0 1.3 .5 1.2 .2 1.2-.5 1.3-1.1 1.3-1.1 1.2 0 1.2 .6 1.3 .1 1.3 .3 1.2-.2 1.2 .4 1.3 .1 1.3 .3 1.2-.5 1.2-.6 1.3 1.2 1.3 .3 1.2 1.7 1.2 .4 1.3-2.6 1.3 .6 1.2 1.1 1.2-1.4 1.3-.2 1.3 1.1 1.2-.3 1.2 .2 1.3 .8 1.3-1.2 1.2-.4 1.2 .4 1.3 .8 1.3 0 1.2-.5 1.2-.5 1.3 0 1.3-.8 1.2 1.4 1.2 1.6 1.3-1.7 1.3-.7 1.2 .2 1.2 .1 1.3 .7 1.3-.2 1.2 .9 1.2-.9 1.3-1.8 1.3-.2 1.2 1 1.2 .2 1.3-.6 1.3 .1 1.2 .1 1.2 .1 1.3 .6 1.3-.1 1.2 .6 1.2-.9 1.3 .8 1.3 0 1.2-.5 1.2-.9 1.3-.2 1.3 .2 1.2 0 1.2 .1 1.3 1 1.3 1 1.2 .1 1.2-.4 1.3 1.3 1.3 3.5 1.2-7.4 1.2-.2 1.3 3.5 1.3-5.2 1.2 6.2 1.2-1.3 1.3 2.2 1.3-5.1 1.2 3.4 1.2-.5 1.3-7.2 1.3 3.1 1.2 7.4 1.2-8.4 1.3-.8 1.3 8.2 1.2-1.2 1.2-2.1 1.3 .4 1.3-3 1.2-1.7 1.2 4.3 1.3-8.6 1.3 9.7 1.2-.6 1.2-9.7 1.3-1.5 1.3 9.9 1.2 1.4 1.2 2.2 1.3-8.3 1.3 3.9 1.2 4.3 1.2-4.4 1.3-4.4 1.3 1 1.2-5.4 1.2 4.3 1.3 2.7 1.3 1.5 1.2-2.2 1.2-1.9 1.3 1.8 1.3-.9 1.2 2.6 1.2-1.3 1.3-1.1 1.3 5.7 1.2 4.1 1.2-12 1.3 3.5 1.3 3.3 1.2-2 1.2 1.2 1.3 3.4 1.3-2.2 1.2 2 1.2-2.6 1.3 .2 1.3-.2 1.2 .6 1.2-.4 1.3 .6 1.3 .9 1.2-.9 1.2-1.1 1.3-.3 1.3 .8 1.2 .2 1.2-.8 1.3 .4 1.3-.1 1.2-.4 1.2 0 1.3 .6 1.3 .5 1.2-.7 1.2 .4 1.3-.1 1.3-1.2 1.2 .6 1.2 1.2 1.3 0 1.3-.2 1.2 .4 1.2 .3 1.3-1.4 1.3-.5 1.2 .4 1.2 .3 1.3-.3 1.3-.1 1.2 .7 1.2-.1 1.3-.4 1.3-.5 1.2 .4 1.2 .9 1.3-.4 1.3-.9 1.2 .9 1.2 0 1.3-.2 1.3-.7 1.2 .4 1.2 .6 1.3 .3 1.3-.6 1.2-.8 1.2 .3 1.3 .6 1.3-.9 1.2 .7 1.2 .6 1.3-.4 1.3 .2 1.2 .2 1.2-.1 1.3-.2 1.3 .4 1.2 .4 1.2-.9 1.3-.1 1.3-.7 1.2 0 1.2 .1 1.3 0 1.3-.2 1.2 .9 1.2 .6 1.3 0 1.3 1.1 1.2-.8 1.2-.7 1.3-.2 1.3-.8 1.2 .1 1.2 .4 1.3 .1 1.3-.4 1.2 .8 1.2-.1 1.3-.7 1.3-.5 1.2-.4 1.2 1.3 1.3 .9 1.3-1.3 1.2-.6 1.2 .2 1.3-.7 1.3 0 1.2 1.4 1.2 .6 1.3 0 1.3-.9 1.2-.3 1.2 .5 1.3 1.1 1.3 .3 1.2 .3 1.2 .2 1.3-.1 1.3-.3 1.2-1 1.2-.7 1.3-.2 1.3 .5 1.2 .3 1.2-.3 1.3-.3 1.3 .4 1.2 .1 1.2 .2 1.3 .1 1.3-.1 1.2 .1 1.2-.5 1.3 .6 1.3-.4 1.2 0 1.2-1.1 1.3 .2 1.3 1.1 1.2 .5 1.2 .2 1.3-.4 1.3-.9 1.2-.5 1.2 1.3 1.3-.5 1.3 .3 1.2-.4 1.2-.5 1.3 0 1.3 .3 1.2 .4 1.2 0 1.3-.3 1.3-.1 1.2 1.1 1.2 .1 1.3 .1 1.3 0 1.2-.6 1.2-1.4 1.3-.8 1.3 .8 1.2 1.3 1.2 .1 1.3 0 1.3-.8 1.2-.8 1.2 .1 1.3 .2 1.3 1 1.2 1.3 1.2 .1 1.3-1.2 1.3-.9 1.2-.2 1.2 .8 1.3 0 1.3-.4 1.2-.3 1.2 .7 1.3 .4 1.3-.8 1.2 0 1.2 .5 1.3 .8 1.3 0 1.2 .8 1.2 .3 1.3-1 1.3-.5 1.2-.7 1.2-.4 1.3 .3 1.3-.4 1.2 .8 1.2 .1 1.3 .6 1.3-.3 1.2 0 1.2-.2 1.3 0 1.3 .9 1.2-.4 1.2-.2 1.3-.3 1.3-.2 1.2 .3 1.2 .3 1.3 .1 1.3-.7 1.2 .1 1.2-.1 1.3 .4 1.3-.8 1.2 .4 1.2-.5 1.3 .4 1.3-.1 1.2 .1 1.2-.3 1.3 0 1.3-.5 1.2 .1 1.2-.1 1.3-.1 1.3 .6 1.2-.4 1.2 .6 1.3 .7 1.3-.7 1.2-.4 1.2-.5 1.3 .9 1.3 .1 1.2 .3 1.2 .8 1.3-.7 1.3-.1 1.2-1.2 1.2-.4 1.3 1.1 1.3 .8 1.2-.8 1.2-.4 1.3-.1 1.3 .7 1.2 .7 1.2-.2 1.3-.2 1.3-.9 1.2 .9 1.2 .4 1.3-.2 1.3 .3 1.2-.3 1.2-.3 1.3 .1 1.3-.4 1.2-.7 1.2 .6 1.3 .9 1.3-.3 1.2-.5 1.2 .4 1.3-.2 1.3-.1 1.2-.2 1.2 .3 1.3 .2 1.3 .1 1.2-.4 1.2 0 1.3-1 1.3 .6 1.2 .2 1.2-.3 1.3 .2 1.3 .1 1.2 .3 1.2 .5 1.3 .2 1.3-.4 1.2-.7 1.2 .6 1.3 .2 1.3-.2 1.2-.9 1.2-.4 1.3 1 1.3-.2 1.2 .1 1.2 .2 1.3 0 1.3 .4 1.2-.6 1.2 .2 1.3 .4 1.3-1 1.2-.1 1.2 .5 1.3 1.1 1.3-.1 1.2-.5 1.2-.9 1.3-.1 1.3 1.3 1.2-.4 1.2-.4 1.3-.4 1.3 .7 1.2 .7 1.2 0 1.3 .2 1.3-.1 1.2-.5 1.2-.2 1.3-.1 1.3 .1 1.2-1.7 1.2 0 1.3 .9 1.3 1.5 1.2 .7 1.2-.6 1.3-1.1 1.3-1.4 1.2 .3 1.2 .9 1.3-.7 1.3-.1 1.2 .4 1.2-.2 1.3 .4 1.3 .8 1.2 .3 1.2-.7 1.3-.4 1.3 1.1 1.2 .1 1.2-.6 1.3 .6 1.3-1.5 1.2 .2 1.2-.4 1.3-.1 1.3 1.7 1.2-.2 1.2-1.5 1.3 .8 1.3 .2 1.2-.4 1.2-.7 1.3 0 1.3 .7 1.2 .5 1.2-.1 1.3-.4 1.3-.4 1.2 .2 1.2-.2 1.3 .9 1.3-.5 1.2-.9 1.2 .2 1.3 .8 1.3 1 1.2 0 1.2-.4 1.3-.3 1.3 .6 1.2 .6 1.2-.4 1.3-.8 1.3-.1 1.2 1 1.2 .1 1.3 .4 1.3-1.2 1.2-1.8"/>
<path d="M93.5 166.4l1.3 .2 1.2 .1 1.2 0 1.3-.1 1.3-.2 1.2-.2 1.2-.2 1.3 .1 1.3 .1 1.2-.4 1.2 .6 1.3-.4 1.3-.5 1.2 .6 1.2-.3 1.3-.2 1.3 .7 1.2 .6 1.2-.8 1.3 .2 1.3 .1 1.2-.4 1.2 .2 1.3-.1 1.3 .3 1.2 .1 1.2 .4 1.3 .1 1.3 .1 1.2-.1 1.2-.3 1.3-.1 1.3-.2 1.2-.3 1.2 .6 1.3 .6 1.3-.4 1.2-.5 1.2-.5 1.3-.2 1.3 .1 1.2 .3 1.2 .1 1.3 .4 1.3-.7 1.2 0 1.2 .2 1.3 .3 1.3 .1 1.2 0 1.2-.1 1.3 .2 1.3-.6 1.2-.3 1.2-.2 1.3 .6 1.3 .3 1.2-.1 1.2 .1 1.3 .2 1.3 .4 1.2 .1 1.2-.3 1.3-.1 1.3 .2 1.2 0 1.2-.5 1.3-.4 1.3 .1 1.2-.2 1.2-.1 1.3 .2 1.3 .5 1.2 .4 1.2 .4 1.3-.4 1.3-.3 1.2 .1 1.2-.7 1.3-.2 1.3 .4 1.2 0 1.2 .6 1.3 0 1.3-.4 1.2-.2 1.2 .1 1.3-.1 1.3-.7 1.2 .2 1.2 .3 1.3-.1 1.3 .2 1.2 .3 1.2 .4 1.3 0 1.3-.3 1.2 1.6 1.2 1.7 1.3-.3 1.3-1.6 1.2-1.9 1.2-.2 1.3-.2 1.3 0 1.2 .3 1.2 .3 1.3 .4 1.3 0 1.2 0 1.2-.1 1.3 0 1.3-.5 1.2 0 1.2 .7 1.3 .3 1.3-.7 1.2-.3 1.2 .5 1.3 .3 1.3-.5 1.2 0 1.2 .6 1.3-.2 1.3 .3 1.2-.6 1.2-.7 1.3 .3 1.3 .1 1.2 .2 1.2-.3 1.3-.8 1.3 .3 1.2 .7 1.2 .2 1.3-.4 1.3-.6 1.2 .4 1.2 .1 1.3 .6 1.3 .2 1.2-.6 1.2 .2 1.3 .4 1.3 .1 1.2-.1 1.2 .1 1.3 0 1.3-.7 1.2-.1 1.2 0 1.3 .3 1.3-.1 1.2-.1 1.2-.3 1.3 0 1.3 .4 1.2 .5 1.2 .3 1.3-.1 1.3 0 1.2 0 1.2-.1 1.3-.8 1.3 .4 1.2 .9 1.2 0 1.3-.3 1.3-.7 1.2-.2 1.2 .4 1.3-.2 1.3-.1 1.2-.4 1.2 0 1.3 .2 1.3 .3 1.2 .3 1.2 1.9 1.3-1.5 1.3 2.9 1.2-1.9 1.2-8.7 1.3 1.3 1.3 9.4 1.2 2 1.2-.4 1.3 4.5 1.3-4.5 1.2-3.8 1.2 4.2 1.3-9.1 1.3 3 1.2 1.3 1.2-12.2 1.3 4.7 1.3 3.2 1.2-8.6 1.2 5.3 1.3 12.5 1.3-4.6 1.2 2.8 1.2 3.1 1.3-15.7 1.3 3.6 1.2 9.1 1.2-1.5 1.3-1.8 1.3-.2 1.2-1.1 1.2 2.4 1.3 .6 1.3-7 1.2 6.8 1.2-3.1 1.3-3.6 1.3 9.5 1.2-6.9 1.2 1.1 1.3 .9 1.3-.8 1.2 4.5 1.2 1.7 1.3-9.7 1.3 4 1.2-1.2 1.2 .5 1.3 .7 1.3 .1 1.2 .1 1.2-.4 1.3-.5 1.3-.2 1.2 .3 1.2 .5 1.3-.3 1.3 0 1.2 0 1.2 .5 1.3-.4 1.3 .2 1.2-.2 1.2 .1 1.3-.1 1.3 .5 1.2 .7 1.2-.2 1.3-.4 1.3 .1 1.2 .6 1.2-.1 1.3-.3 1.3-.4 1.2-.1 1.2 .4 1.3 .1 1.3-.4 1.2-.2 1.2-.2 1.3 .3 1.3 0 1.2 .4 1.2-.2 1.3-.1 1.3 .1 1.2 .3 1.2-.1 1.3 .1 1.3-.3 1.2-.7 1.2-.6 1.3 .7 1.3 .2 1.2 0 1.2-.2 1.3 .1 1.3-.1 1.2 0 1.2-.5 1.3 .5 1.3 1 1.2-.4 1.2 .1 1.3 .7 1.3-.3 1.2-.3 1.2 0 1.3-.1 1.3 .3 1.2-.7 1.2-.3 1.3 .2 1.3 .3 1.2-.1 1.2-.1 1.3-.5 1.3-.1 1.2-.2 1.2 .4 1.3 0 1.3 .5 1.2 .2 1.2 .1 1.3-.4 1.3 0 1.2-.3 1.2-.2 1.3 .4 1.3 0 1.2-.1 1.2 .4 1.3 .2 1.3-.3 1.2-.2 1.2-.1 1.3 .1 1.3 .4 1.2-.4 1.2-.2 1.3 .3 1.3 .1 1.2 .2 1.2-.3 1.3-.4 1.3 .5 1.2 .4 1.2-.3 1.3-.3 1.3 0 1.2 .6 1.2 0 1.3-.1 1.3 .1 1.2-.3 1.2 .7 1.3 .1 1.3 0 1.2-.4 1.2-.7 1.3-.2 1.3-.1 1.2 .3 1.2 .7 1.3-.2 1.3 .4 1.2-.2 1.2-.2 1.3 0 1.3-.2 1.2 0 1.2-.6 1.3 .1 1.3-.1 1.2 .1 1.2 .2 1.3 0 1.3-.2 1.2 .6 1.2-.1 1.3-.1 1.3 0 1.2 0 1.2 .1 1.3-.4 1.3-.1 1.2 .2 1.2 .1 1.3 .6 1.3 .4 1.2-.4 1.2-.6 1.3-.8 1.3 .5 1.2-.1 1.2-.3 1.3-.2 1.3 .4 1.2 .2 1.2 .3 1.3 .3 1.3 .2 1.2-.3 1.2-.6 1.3 .2 1.3 .3 1.2 .1 1.2 .1 1.3-.2 1.3-.1 1.2-.3 1.2 .2 1.3 .6 1.3-.4 1.2-.3 1.2 .6 1.3 0 1.3-.4 1.2-.4 1.2 .1 1.3 .3 1.3-.3 1.2-.3 1.2 0 1.3-.3 1.3 .5 1.2 .7 1.2 .1 1.3-.2 1.3-.2 1.2-.2 1.2-.1 1.3-.3 1.3 0 1.2 .2 1.2 .7 1.3 0 1.3-.3 1.2 0 1.2-.1 1.3 .2 1.3 0 1.2-.6 1.2 .2 1.3 .9 1.3-.1 1.2-.4 1.2-.2 1.3 .3 1.3 .3 1.2-.5 1.2-.1 1.3-.2 1.3 0 1.2-.1 1.2 0 1.3 .1 1.3 .2 1.2-.2 1.2 .2 1.3 .5 1.3-.1 1.2-.2 1.2-.3 1.3 .1 1.3 .4 1.2-.3 1.2 .2 1.3 .2 1.3-.3 1.2 .3 1.2 .2 1.3-.7 1.3-.1 1.2 .3 1.2-.4 1.3-.1 1.3 .2 1.2-.4 1.2 .3 1.3 .5 1.3 .6 1.2-.6 1.2 .1 1.3 0 1.3 .3 1.2-.8 1.2-.4 1.3 .4 1.3 1.2 1.2-.6 1.2 .1 1.3 .9 1.3-.4 1.2-.8 1.2-.3 1.3 .4 1.3-.1 1.2-.2 1.2-.1 1.3 0 1.3-.4 1.2 .1 1.2 .5 1.3-.3 1.3 .3 1.2-.1 1.2-.4 1.3 .1 1.3-.1 1.2-.1 1.2 .2 1.3 .4 1.3 .1 1.2-.5 1.2-.2 1.3 .2 1.3 .2 1.2-.2 1.2 .3 1.3 .4 1.3-.6 1.2-1 1.2-.7 1.3 .8 1.3 1 1.2 .2 1.2 .2 1.3-.2 1.3-.3 1.2 0 1.2-.3 1.3 .2 1.3-.3 1.2-.2 1.2-.2 1.3 .7 1.3 .1 1.2-.2 1.2 .5 1.3 .1 1.3-.2 1.2 .1 1.2 .4 1.3-.3 1.3 0 1.2-.1 1.2-.1 1.3 0 1.3-.3 1.2 .1 1.2 .3 1.3-.2 1.3-.3 1.2-.1 1.2 0 1.3 .4 1.3-.1 1.2-.4 1.2 .2 1.3-.2 1.3 .2 1.2 .7 1.2 .6 1.3 .6 1.3 .2 1.2-.7 1.2-.2 1.3-.8 1.3 0 1.2 .1 1.2-.2 1.3 0 1.3-.1 1.2 0 1.2 .5 1.3 .6 1.3-.8 1.2-.2 1.2 0 1.3-.1 1.3 1 1.2 .3 1.2-1.2 1.3 .1 1.3 .7 1.2-.2 1.2-.3 1.3 .3 1.3-.6 1.2-.7 1.2 .3 1.3 .5 1.3 .2 1.2 .3 1.2-.1 1.3 .2 1.3 .3 1.2-.3 1.2-1 1.3 .3 1.3 .4 1.2-.4 1.2-.8 1.3-.1 1.3 .6 1.2 0 1.2-.1 1.3 .5 1.3 .5 1.2 0 1.2-.2 1.3 .2 1.3 .2 1.2-.4 1.2-.6 1.3 0 1.3 .1 1.2-.4 1.2 .6 1.3 .2 1.3 .2 1.2-.5"/>
<path d="M93.5 177.3l1.3-.2 1.2-.3 1.2-.7 1.3-.4 1.3 .8 1.2 .7 1.2-.6 1.3 .1 1.3-.1 1.2-.4 1.2 .1 1.3 .2 1.3-.2 1.2-.1 1.2-.2 1.3 .2 1.3 1.5 1.2-.2 1.2-.5 1.3-.4 1.3-.1 1.2 .1 1.2 .6 1.3-.3 1.3-.4 1.2 .1 1.2 .1 1.3-.4 1.3-.1 1.2 .8 1.2-.7 1.3 .3 1.3 .4 1.2-.3 1.2-.1 1.3-.1 1.3 .3 1.2-.1 1.2 .2 1.3-.2 1.3-.1 1.2 .1 1.2 0 1.3 .2 1.3-.2 1.2 .4 1.2 .2 1.3-.3 1.3 0 1.2 0 1.2-.4 1.3-.1 1.3 .2 1.2 .6 1.2 .1 1.3-.2 1.3 0 1.2-.3 1.2-.5 1.3-.3 1.3-.1 1.2 .4 1.2 .4 1.3-.1 1.3 0 1.2-.1 1.2 .2 1.3-.6 1.3 .1 1.2 .6 1.2 .3 1.3-.3 1.3 0 1.2 0 1.2 .2 1.3-.1 1.3-.7 1.2-.1 1.2 .7 1.3-.1 1.3-.2 1.2 .1 1.2-.2 1.3-.5 1.3 .7 1.2 0 1.2 .2 1.3 .2 1.3 .4 1.2-.7 1.2-.1 1.3-.7 1.3-1.8 1.2 1.3 1.2 1.4 1.3 0 1.3-.6 1.2 .2 1.2 .4 1.3 .4 1.3-.2 1.2-.4 1.2 .2 1.3 .6 1.3-.4 1.2-.9 1.2-.6 1.3 1.2 1.3 .7 1.2-.6 1.2 .2 1.3 .2 1.3-.4 1.2 .1 1.2 .4 1.3 0 1.3-.4 1.2 0 1.2 .3 1.3-.5 1.3 .1 1.2-.6 1.2 0 1.3 .3 1.3 0 1.2 .2 1.2-.3 1.3-.4 1.3 .6 1.2 0 1.2 .4 1.3-.2 1.3-.3 1.2 .5 1.2 0 1.3 .5 1.3-.2 1.2-.6 1.2-.6 1.3 .1 1.3 .6 1.2-.1 1.2 0 1.3 .4 1.3-.6 1.2-.6 1.2 .1 1.3 .7 1.3 .3 1.2 .1 1.2-.1 1.3-.3 1.3-.3 1.2 .2 1.2 .3 1.3-.5 1.3-.1 1.2 .5 1.2 .1 1.3 .1 1.3 .3 1.2-.5 1.2-.6 1.3-.3 1.3 .5 1.2 .4 1.2 0 1.3-.4 1.3 0 1.2 .4 1.2-.3 1.3 .1 1.3 .4 1.2-.7 1.2 0 1.3 0 1.3 .1 1.2 .2 1.2-.2 1.3-.2 1.3-.3 1.2 .4 1.2-.1 1.3-1.1 1.3-2.4 1.2 7.3 1.2-5.2 1.3-6.9 1.3 1.5 1.2 13.1 1.2-7.5 1.3-.7 1.3 1.1 1.2 13.2 1.2-16.6 1.3 11.7 1.3-22.4 1.2 8.4 1.2 6.4 1.3-3.5 1.3 3.2 1.2 4.5 1.2-3 1.3-3.1 1.3 5.8 1.2-9.3 1.2-2.9 1.3 .4 1.3-1 1.2 0 1.2 3.1 1.3-2.6 1.3 7.9 1.2-1.9 1.2-7 1.3-3 1.3 13.9 1.2 5.9 1.2-20.2 1.3 4.7 1.3-.6 1.2 5.6 1.2 3.3 1.3 2.3 1.3-.5 1.2-2.6 1.2 .4 1.3 .4 1.3 .8 1.2 .2 1.2 .3 1.3 0 1.3-.5 1.2-.3 1.2-.1 1.3-.3 1.3-.5 1.2 .7 1.2 .1 1.3 .1 1.3-.2 1.2-.6 1.2 .1 1.3 0 1.3 .3 1.2-.8 1.2-.1 1.3 .9 1.3 .2 1.2 .3 1.2 1.1 1.3 .5 1.3-1.5 1.2-.6 1.2 .6 1.3 .6 1.3-.4 1.2-.4 1.2-.3 1.3 .4 1.3 .1 1.2-.5 1.2-.2 1.3-.1 1.3 .1 1.2-.2 1.2 .4 1.3 .6 1.3-.4 1.2-.4 1.2 0 1.3-.2 1.3 .3 1.2 .1 1.2 .4 1.3-.2 1.3 .2 1.2 .3 1.2 0 1.3-.5 1.3-.2 1.2 .5 1.2 .3 1.3-.3 1.3-.4 1.2 .2 1.2-.3 1.3 .5 1.3-.4 1.2-.5 1.2-.1 1.3 .6 1.3 .4 1.2 0 1.2-.6 1.3 .1 1.3 .3 1.2 0 1.2-.2 1.3-.2 1.3 0 1.2 .6 1.2-.5 1.3 0 1.3 0 1.2 0 1.2-.1 1.3-.3 1.3 .4 1.2 .6 1.2-.2 1.3-.3 1.3-.1 1.2 .1 1.2-.2 1.3-.1 1.3 .1 1.2-.6 1.2 .6 1.3 .3 1.3-.6 1.2-.4 1.2-.1 1.3 0 1.3 .4 1.2 .2 1.2 0 1.3 .1 1.3-.1 1.2-.7 1.2-.2 1.3 .7 1.3 .5 1.2 .3 1.2 .4 1.3-.2 1.3-.2 1.2 0 1.2 .4 1.3 .2 1.3-1 1.2-.2 1.2 1 1.3-.3 1.3-.4 1.2 .6 1.2 .1 1.3-.5 1.3-.1 1.2-.2 1.2-.8 1.3-.2 1.3 .4 1.2 .5 1.2 .1 1.3-.2 1.3 .1 1.2-.5 1.2 .2 1.3 .5 1.3-.4 1.2-.3 1.2 .4 1.3 .6 1.3-.1 1.2-.1 1.2-.2 1.3 0 1.3 0 1.2-.5 1.2 0 1.3 .7 1.3 .4 1.2-.5 1.2-.1 1.3 0 1.3 .2 1.2-.1 1.2 .1 1.3-.7 1.3-.1 1.2 1.2 1.2 .7 1.3-.6 1.3-.3 1.2-.2 1.2-.2 1.3-.4 1.3-.5 1.2 .8 1.2 .3 1.3-.1 1.3 .4 1.2-.5 1.2 .3 1.3 .4 1.3-.3 1.2-.5 1.2-.4 1.3 0 1.3 .4 1.2 .3 1.2-.2 1.3-.3 1.3-.3 1.2 .8 1.2-.7 1.3-.2 1.3 .3 1.2 .4 1.2 .3 1.3 .3 1.3-.1 1.2-1.2 1.2 0 1.3 .2 1.3 .5 1.2 .7 1.2-.4 1.3-.5 1.3-.2 1.2 .6 1.2 0 1.3 0 1.3 .1 1.2 .1 1.2-.3 1.3 .2 1.3 .3 1.2-1 1.2-.5 1.3 .8 1.3-.1 1.2 .5 1.2-.1 1.3-.7 1.3 .1 1.2-.2 1.2 .3 1.3 0 1.3 .2 1.2-.5 1.2-.3 1.3 .5 1.3 .6 1.2 .1 1.2-.1 1.3-.5 1.3 0 1.2 .4 1.2-.2 1.3 .1 1.3-.5 1.2 0 1.2 .2 1.3 .9 1.3 .4 1.2 0 1.2-.7 1.3 0 1.3-.7 1.2 0 1.2 .2 1.3 .6 1.3-.1 1.2-.4 1.2 0 1.3 .5 1.3-.2 1.2 0 1.2-.4 1.3 .1 1.3 0 1.2-.4 1.2-.2 1.3 .4 1.3-.1 1.2 .6 1.2 .1 1.3 .3 1.3-.1 1.2 .1 1.2-.2 1.3-.2 1.3 .6 1.2 .3 1.2-.6 1.3-.5 1.3 0 1.2 .2 1.2-.3 1.3 0 1.3 0 1.2 .2 1.2-.4 1.3-.2 1.3 .6 1.2 0 1.2-.4 1.3 0 1.3 .1 1.2 .5 1.2 .4 1.3-.3 1.3 .1 1.2-.1 1.2 .3 1.3-1.1 1.3-.5 1.2 .7 1.2 .7 1.3-.1 1.3-.5 1.2 .2 1.2 .2 1.3-.5 1.3-.1 1.2 .3 1.2 .3 1.3 0 1.3 .1 1.2 0 1.2-.1 1.3-.4 1.3 .2 1.2 .1 1.2-.1 1.3 .2 1.3 .3 1.2-.7 1.2 .1 1.3 .4 1.3 .3 1.2-.1 1.2-.1 1.3-.1 1.3 .1 1.2-.2 1.2-.1 1.3-.1 1.3-.7 1.2 .4 1.2 .1 1.3 .1 1.3 0 1.2-.4 1.2-.2 1.3 .6 1.3 .4 1.2-.1 1.2 .5 1.3-.5 1.3-.2 1.2 0 1.2 .5 1.3-.1 1.3 0 1.2-.2 1.2-.4 1.3 .2 1.3 0 1.2-.4 1.2 .4 1.3 .8 1.3-.3 1.2-.6 1.2-.2 1.3 .1 1.3 .2 1.2 .3 1.2 .1 1.3 .2 1.3 .1 1.2-.1 1.2 0 1.3-.2 1.3 0 1.2-.1 1.2-.4 1.3 0 1.3-.5 1.2 .2 1.2 .7 1.3-.3 1.3 .2 1.2-.6 1.2 .3 1.3 .7 1.3 .4 1.2-.4 1.2-.2 1.3-.5 1.3 .5 1.2-.2 1.2-.3 1.3 .1 1.3 0 1.2 .1 1.2-.1 1.3 .2 1.3-.1 1.2 .3"/>
<path d="M93.5 187.5l1.3-.2 1.2-.6 1.2 .4 1.3 .8 1.3-.2 1.2-.8 1.2-.6 1.3 .3 1.3 .4 1.2-.2 1.2 .2 1.3 .1 1.3 .1 1.2 .4 1.2-.7 1.3-.1 1.3 .4 1.2 .4 1.2 0 1.3-.5 1.3-.1 1.2-.2 1.2 0 1.3 1.1 1.3 0 1.2-.4 1.2-.4 1.3 .3 1.3 .2 1.2-.4 1.2-.4 1.3-.3 1.3 .4 1.2 .4 1.2 .1 1.3-.1 1.3-.5 1.2-.2 1.2 .3 1.3-.1 1.3-.5 1.2 .2 1.2 .3 1.3 .5 1.3 .3 1.2 .5 1.2-.3 1.3-.9 1.3-.3 1.2 .5 1.2 .4 1.3-.6 1.3-.4 1.2 .1 1.2 0 1.3 .4 1.3 .6 1.2-.1 1.2-.6 1.3-.8 1.3 .4 1.2 .4 1.2-.1 1.3 .1 1.3 .1 1.2 0 1.2-.1 1.3-.5 1.3-.4 1.2 .2 1.2 .5 1.3 .1 1.3 .4 1.2 .2 1.2-.4 1.3-.3 1.3 .1 1.2-.2 1.2 0 1.3 .1 1.3 .5 1.2 .2 1.2-.7 1.3 .2 1.3-.1 1.2 .1 1.2 0 1.3-.5 1.3 .2 1.2 .4 1.2 .4 1.3 .3 1.3-.1 1.2-.5 1.2 .1 1.3 0 1.3-.3 1.2 .1 1.2-.1 1.3 .3 1.3 0 1.2-.3 1.2 .2 1.3-.3 1.3 0 1.2 .4 1.2 .6 1.3 .1 1.3-.1 1.2-.1 1.2-.6 1.3 .5 1.3 .3 1.2-.3 1.2-.1 1.3 .2 1.3-.7 1.2-.3 1.2 .3 1.3-.1 1.3 .6 1.2-.1 1.2-.3 1.3-.3 1.3-.3 1.2 .5 1.2 .3 1.3-.4 1.3-.2 1.2 0 1.2 .2 1.3 0 1.3 .1 1.2-.1 1.2 .3 1.3-.1 1.3-.4 1.2 .5 1.2-.1 1.3-.2 1.3 .1 1.2-.1 1.2 .2 1.3-.1 1.3 .7 1.2 .1 1.2-.8 1.3-.7 1.3 0 1.2 .8 1.2 .1 1.3 .3 1.3 .3 1.2-.7 1.2-.3 1.3-.4 1.3 .3 1.2 .4 1.2 .1 1.3-.2 1.3-.3 1.2-.1 1.2-.8 1.3 .7 1.3 .6 1.2-.4 1.2-.5 1.3 .2 1.3 .5 1.2 .7 1.2 1 1.3 .5 1.3-1 1.2-.8 1.2-.3 1.3-.5 1.3 .3 1.2 .3 1.2-.2 1.3-.3 1.3 .5 1.2-.5 1.2-.3 1.3 0 1.3-.9 1.2-.2 1.2 2.4 1.3-2.2 1.3 6.7 1.2-7.2 1.2 6.7 1.3 .1 1.3 .9 1.2-1.1 1.2-13.6 1.3 1.1 1.3 9.9 1.2-1.9 1.2-7.5 1.3 10.6 1.3 .9 1.2 .6 1.2-12.9 1.3 6.5 1.3 1.6 1.2 2.5 1.2 1.6 1.3-9.6 1.3 9 1.2-.2 1.2 6.3 1.3-2.7 1.3-2.9 1.2 .3 1.2 5.5 1.3-4 1.3-1.6 1.2 11.4 1.2-16.9 1.3 3.4 1.3 4.9 1.2-5.5 1.2-3.5 1.3 2.4 1.3 .4 1.2-.1 1.2-1 1.3 1.9 1.3-.9 1.2 .2 1.2-.1 1.3-.1 1.3 .3 1.2-.2 1.2 0 1.3-.4 1.3-.3 1.2-.1 1.2 .6 1.3 .4 1.3-.4 1.2-.3 1.2-.1 1.3-.1 1.3-.2 1.2 .4 1.2 .3 1.3 .1 1.3-.2 1.2-.6 1.2 .4 1.3 .7 1.3-.6 1.2 .4 1.2-.4 1.3-.6 1.3 0 1.2 0 1.2-.2 1.3 .4 1.3 .4 1.2-.3 1.2 .4 1.3 .6 1.3-.7 1.2-.5 1.2 .1 1.3 0 1.3-.4 1.2 .3 1.2 0 1.3-.1 1.3-.2 1.2 .4 1.2-.4 1.3-.1 1.3 .5 1.2 .1 1.2 .5 1.3-.3 1.3-.2 1.2 .6 1.2 .2 1.3-.5 1.3-.2 1.2-.2 1.2-.1 1.3-.3 1.3-.2 1.2 .6 1.2 .6 1.3-.5 1.3-.2 1.2-.1 1.2-.3 1.3 .3 1.3 .4 1.2 .1 1.2 .4 1.3-.6 1.3-.2 1.2-.4 1.2 .1 1.3 .3 1.3 .2 1.2 .5 1.2-.3 1.3-.3 1.3-.2 1.2 .1 1.2 0 1.3 .2 1.3 .4 1.2-.1 1.2 .2 1.3 .5 1.3-.2 1.2-.9 1.2-.6 1.3 .1 1.3 .5 1.2-.5 1.2 0 1.3 .7 1.3-.3 1.2-.3 1.2 .2 1.3 0 1.3 .5 1.2-.1 1.2-.4 1.3 .2 1.3 0 1.2 .2 1.2 .1 1.3-.5 1.3 .4 1.2 .3 1.2 .1 1.3 0 1.3 .1 1.2-.5 1.2 0 1.3-.1 1.3 .4 1.2 .3 1.2-.2 1.3-.3 1.3 .2 1.2-.5 1.2 0 1.3-.1 1.3 .2 1.2-.1 1.2 .5 1.3 .1 1.3-.5 1.2 0 1.2-.2 1.3 .3 1.3 0 1.2 .4 1.2 .2 1.3-.9 1.3 0 1.2-.1 1.2 .4 1.3 .5 1.3-.6 1.2-.5 1.2-.2 1.3 0 1.3 .4 1.2 .3 1.2 .2 1.3 .1 1.3-.5 1.2-.2 1.2 .4 1.3 .3 1.3-.3 1.2 .1 1.2-.3 1.3 .4 1.3 .2 1.2 0 1.2 .2 1.3-.1 1.3 0 1.2 .1 1.2-1.2 1.3 .1 1.3 .3 1.2 .3 1.2-.2 1.3 .1 1.3 .2 1.2 .5 1.2-.1 1.3 .3 1.3-.3 1.2-.1 1.2-.1 1.3-.3 1.3-.6 1.2 0 1.2 1.3 1.3 1.4 1.3-.7 1.2-.5 1.2-.5 1.3-.2 1.3-.2 1.2-.5 1.2 0 1.3 .1 1.3 .3 1.2-.1 1.2 .3 1.3 .1 1.3-.2 1.2-.1 1.2 0 1.3 .3 1.3 .4 1.2 0 1.2 .4 1.3-.6 1.3-.3 1.2 0 1.2 .5 1.3-1 1.3 .4 1.2 .5 1.2-.5 1.3-.4 1.3-.2 1.2-.3 1.2 .8 1.3 0 1.3 .1 1.2 .2 1.2-.4 1.3-.1 1.3 .9 1.2 1.7 1.2-1.1 1.3-1 1.3 .5 1.2-.3 1.2-.3 1.3-.4 1.3 0 1.2-.2 1.2 .6 1.3 0 1.3-.1 1.2-.7 1.2 0 1.3 .7 1.3-.1 1.2 .2 1.2 .7 1.3-.2 1.3-.5 1.2-.2 1.2 .2 1.3-.2 1.3-.1 1.2 .2 1.2 .3 1.3-.4 1.3-.1 1.2 .3 1.2-.8 1.3-.3 1.3 .3 1.2-.1 1.2 .8 1.3 .4 1.3 0 1.2-.4 1.2-.7 1.3 .4 1.3 .2 1.2-.3 1.2-.3 1.3 .4 1.3 .3 1.2-.3 1.2-.3 1.3 .2 1.3-.3 1.2 .2 1.2 .2 1.3-.4 1.3-.3 1.2 .4 1.2-.2 1.3 .2 1.3 .2 1.2 0 1.2-.2 1.3 0 1.3 .1 1.2 .1 1.2 .6 1.3 .2 1.3 0 1.2-.2 1.2-.2 1.3 0 1.3-.1 1.2 .3 1.2-.2 1.3-.5 1.3-.3 1.2 .4 1.2-.2 1.3 .1 1.3 .7 1.2 .1 1.2 .2 1.3-.2 1.3-.2 1.2 .3 1.2-.4 1.3 .1 1.3 .5 1.2 1.4 1.2 1.3 1.3-.9 1.3-1.7 1.2-.4 1.2 0 1.3 .2 1.3 .1 1.2 .1 1.2 0 1.3-.1 1.3-.3 1.2-.7 1.2-.8 1.3 1.2 1.3 .6 1.2-.4 1.2 .4 1.3 .1 1.3-.3 1.2-.2 1.2-.1 1.3-.1 1.3-.1 1.2-.4 1.2 .1 1.3 .5 1.3 .3 1.2 .2 1.2-.5 1.3-.2 1.3-.4 1.2 .4 1.2-.2 1.3 .8 1.3 .4 1.2-.3 1.2-.7 1.3-.1 1.3 .3 1.2-.2 1.2 .3 1.3 .1 1.3-.4 1.2-.5 1.2 .2 1.3 .4 1.3 .5 1.2-.5 1.2-.4 1.3-.2 1.3 .7 1.2 .3 1.2 0 1.3-.2 1.3-.4 1.2 0 1.2-.4 1.3 .3 1.3 .5 1.2 .2 1.2 .2 1.3-.1 1.3-.8 1.2 0 1.2 .7 1.3-.2 1.3-.6 1.2 .5 1.2-.1 1.3-.1 1.3 .1 1.2 .1"/>
<path d="M93.5 197.4l1.3-.4 1.2 .5 1.2 .4 1.3-.3 1.3 0 1.2 .2 1.2-.5 1.3 .4 1.3 .3 1.2-.3 1.2 0 1.3-.1 1.3-.1 1.2 0 1.2-.3 1.3-.1 1.3 0 1.2 .5 1.2-.1 1.3-.3 1.3 .2 1.2 .8 1.2-.3 1.3-.6 1.3-.2 1.2 .1 1.2-.1 1.3-.2 1.3 .6 1.2 0 1.2-.7 1.3 .1 1.3 .4 1.2 0 1.2-.6 1.3 .5 1.3 .1 1.2-.4 1.2 .6 1.3-.2 1.3-.3 1.2 .3 1.2 .1 1.3 0 1.3 .4 1.2-.3 1.2-.3 1.3 .3 1.3-.5 1.2 .3 1.2 .2 1.3 .1 1.3-.3 1.2 .1 1.2-.3 1.3-.5 1.3 .2 1.2 .8 1.2-.5 1.3 .3 1.3-.1 1.2 0 1.2 0 1.3 .1 1.3-.4 1.2-.1 1.2 .5 1.3-.1 1.3-.4 1.2-.1 1.2 .3 1.3 0 1.3 .1 1.2 .2 1.2-.1 1.3 .2 1.3 .4 1.2 .7 1.2-.2 1.3-1.1 1.3-.4 1.2 .1 1.2 .2 1.3 .7 1.3 1.8 1.2-.1 1.2-2.1 1.3-.6 1.3 .8 1.2 .1 1.2 .1 1.3 .5 1.3-.4 1.2-.8 1.2 0 1.3 .1 1.3-.2 1.2 0 1.2-1.3 1.3-.7 1.3 0 1.2 .4 1.2 .9 1.3 .7 1.3 .5 1.2 .8 1.2 .1 1.3-.8 1.3-.5 1.2 .3 1.2 .1 1.3 .5 1.3-.1 1.2-.7 1.2-.5 1.3-.1 1.3 .1 1.2 .7 1.2-.1 1.3-.2 1.3 .5 1.2-.1 1.2-.2 1.3-.2 1.3-.3 1.2 .2 1.2 .7 1.3 .4 1.3-1 1.2-.5 1.2 .2 1.3 .1 1.3-.2 1.2-.1 1.2 .4 1.3 .2 1.3 .2 1.2 0 1.2 .1 1.3 .3 1.3 .3 1.2-.7 1.2-.1 1.3 .8 1.3-1 1.2 0 1.2 .4 1.3-.2 1.3 .2 1.2-.2 1.2-.4 1.3 .3 1.3 .1 1.2 .2 1.2 .1 1.3 .1 1.3-.2 1.2-.2 1.2-.5 1.3 .2 1.3-.3 1.2-.3 1.2 .2 1.3 .4 1.3-.2 1.2 .7 1.2-.3 1.3 .9 1.3-.1 1.2-.4 1.2 .5 1.3 .5 1.3-.2 1.2-.5 1.2 .1 1.3-.7 1.3-.5 1.2 1 1.2 .7 1.3-1 1.3-.5 1.2-1 1.2-.1 1.3-.1 1.3-1.9 1.2 1.2 1.2 2.1 1.3 1 1.3-.7 1.2 3.4 1.2 1.6 1.3-3.3 1.3 7.9 1.2-6.7 1.2-5.2 1.3 5.5 1.3-3.8 1.2 3.8 1.2-1.7 1.3-3.1 1.3-1 1.2 .4 1.2 4.7 1.3-9.9 1.3 4.9 1.2 4.7 1.2-8.3 1.3 6.5 1.3-10.1 1.2 4.9 1.2 4.9 1.3 1.4 1.3 2.3 1.2 .1 1.2-3.5 1.3-7.5 1.3 4.8 1.2 1.9 1.2-2.2 1.3 4.4 1.3 5.1 1.2 .3 1.2-13 1.3 5.1 1.3-7.1 1.2-.3 1.2 6.3 1.3-1 1.3 2.9 1.2-.3 1.2-.8 1.3-.7 1.3 .3 1.2 1.1 1.2 .2 1.3-.5 1.3-.1 1.2-.7 1.2 0 1.3 .4 1.3 .6 1.2 .2 1.2 0 1.3 0 1.3 .2 1.2 .1 1.2-.3 1.3 0 1.3-.1 1.2-.5 1.2 0 1.3 .2 1.3-.6 1.2 .2 1.2-.1 1.3 .1 1.3 .9 1.2-.4 1.2-.4 1.3-.1 1.3 0 1.2 .3 1.2 .9 1.3-.1 1.3-.3 1.2 .6 1.2-.3 1.3-.4 1.3-.3 1.2-.1 1.2 .5 1.3 .6 1.3 .1 1.2-.5 1.2-.2 1.3 0 1.3 0 1.2 .2 1.2 .3 1.3-.5 1.3-.2 1.2 .4 1.2-.3 1.3-.5 1.3-.3 1.2 .7 1.2 .6 1.3 .3 1.3 .2 1.2 .2 1.2-.2 1.3-.9 1.3-.2 1.2 .3 1.2 .7 1.3 .4 1.3-.5 1.2-1.4 1.2 .1 1.3 .8 1.3-.2 1.2 0 1.2 .4 1.3-.2 1.3-.6 1.2-.1 1.2 .1 1.3 .2 1.3 0 1.2 0 1.2-.1 1.3-.5 1.3 .3 1.2 .2 1.2 .2 1.3 .3 1.3-.1 1.2 .2 1.2 0 1.3-.8 1.3-.4 1.2 .5 1.2 .5 1.3 .4 1.3 0 1.2-.8 1.2-.1 1.3 .4 1.3 0 1.2 0 1.2-.6 1.3 .2 1.3 0 1.2 0 1.2 1.1 1.3-.5 1.3-.2 1.2 .2 1.2-.3 1.3-.2 1.3 .5 1.2-.1 1.2-.8 1.3 0 1.3 .3 1.2 .1 1.2 .3 1.3 .2 1.3-.1 1.2-.1 1.2 .3 1.3 .2 1.3-.5 1.2-.4 1.2 0 1.3-.2 1.3 0 1.2 0 1.2 .3 1.3 .1 1.3-.2 1.2 0 1.2 .5 1.3 0 1.3-.5 1.2 .2 1.2 0 1.3 .1 1.3-.3 1.2-.6 1.2 .1 1.3 1.2 1.3 .7 1.2 .3 1.2-1.4 1.3-.7 1.3 .5 1.2 .4 1.2-.2 1.3 .4 1.3-.5 1.2-.5 1.2 0 1.3 .3 1.3 .5 1.2 .1 1.2-.2 1.3-.8 1.3 0 1.2 .5 1.2 .2 1.3 0 1.3 .2 1.2-.4 1.2-.2 1.3 .1 1.3 .4 1.2 .7 1.2-.4 1.3 .1 1.3-.2 1.2-1.1 1.2 .5 1.3 .4 1.3 .2 1.2 0 1.2-.4 1.3 .7 1.3-.4 1.2-.2 1.2-.5 1.3-.1 1.3 .5 1.2 .4 1.2-.7 1.3-.4 1.3 .3 1.2 .3 1.2 .1 1.3 .4 1.3-.1 1.2 0 1.2 .3 1.3 .2 1.3-.1 1.2 0 1.2-.2 1.3-.7 1.3 .1 1.2 .3 1.2-.1 1.3-.3 1.3 .2 1.2 .2 1.2-.3 1.3 .2 1.3 .4 1.2-.1 1.2-1.1 1.3-1.2 1.3-1 1.2 1.4 1.2 1.3 1.3 .2 1.3-.4 1.2 .7 1.2 .2 1.3 .2 1.3-.1 1.2 .1 1.2-.2 1.3 .1 1.3-.5 1.2-.1 1.2 .1 1.3 0 1.3-.7 1.2-.3 1.2 .8 1.3 .4 1.3-.4 1.2 .1 1.2-.1 1.3-.1 1.3 .5 1.2-.2 1.2 .4 1.3 .2 1.3-.4 1.2-.6 1.2 .4 1.3 .1 1.3 .2 1.2-.4 1.2-.2 1.3-.1 1.3 .3 1.2 .4 1.2 .5 1.3-.6 1.3-.4 1.2 .1 1.2 .1 1.3-.1 1.3 0 1.2 .5 1.2-.2 1.3-.4 1.3 .1 1.2 .6 1.2 .3 1.3-.8 1.3-.6 1.2-.2 1.2 .6 1.3 .4 1.3-.2 1.2 .1 1.2 .5 1.3 .5 1.3 .1 1.2-.4 1.2-.3 1.3-.2 1.3-.1 1.2-.4 1.2-.4 1.3 .3 1.3-.1 1.2 .6 1.2 .2 1.3 .1 1.3-.1 1.2-.9 1.2 0 1.3 0 1.3-.2 1.2 .2 1.2 .3 1.3 1 1.3-.8 1.2 0 1.2 .2 1.3-.5 1.3 .3 1.2 .6 1.2 .1 1.3-.7 1.3 .8 1.2-.6 1.2-.8 1.3 .3 1.3 .7 1.2 0 1.2 0 1.3-.2 1.3 .2 1.2 .5 1.2-.1 1.3-.6 1.3 .6 1.2-.2 1.2-1 1.3 .8 1.3 .6 1.2-.3 1.2-.6 1.3 .3 1.3 .2 1.2 .5 1.2-.5 1.3-.5 1.3-.3 1.2-.4 1.2 .6 1.3 1.2 1.3-.1 1.2-.6 1.2-.4 1.3-.3 1.3 .1 1.2 1 1.2 .2 1.3-.8 1.3 .5 1.2 .7 1.2-.5 1.3-.4 1.3 .2 1.2-.3 1.2-.6 1.3 .3 1.3-.1 1.2 .7 1.2 1 1.3-.1 1.3-.4 1.2-1.6 1.2 .5 1.3 .1 1.3-.3 1.2-.3 1.2 .2 1.3 .4 1.3-.1 1.2-.6 1.2-.1 1.3 .5 1.3-.3 1.2 0 1.2 .4 1.3 .5 1.3 .1 1.2-.2 1.2 .7 1.3-.6 1.3-.3 1.2 .2 1.2-1 1.3-.1 1.3 .9 1.2-.1"/>
<path d="M93.5 208l1.3-.1 1.2 .1 1.2-.9 1.3 0 1.3 1.1 1.2-.5 1.2 0 1.3-.2 1.3 .1 1.2 .1 1.2-.2 1.3-.1 1.3-.3 1.2 .5 1.2 .6 1.3-.3 1.3-.2 1.2 .3 1.2-.1 1.3-.7 1.3 .3 1.2 .5 1.2 .2 1.3-.5 1.3-.2 1.2-.5 1.2-.1 1.3 .8 1.3 .1 1.2-.5 1.2-.1 1.3 .3 1.3 .1 1.2 .3 1.2 .1 1.3 .2 1.3 .4 1.2-.8 1.2-.2 1.3 .5 1.3-.1 1.2-.4 1.2-.2 1.3 .2 1.3 .2 1.2-.1 1.2 .1 1.3 .4 1.3-.1 1.2-.2 1.2-.1 1.3 .5 1.3-.1 1.2-.3 1.2-.5 1.3-.6 1.3 .4 1.2-.1 1.2 0 1.3-.3 1.3-.1 1.2 .5 1.2 .6 1.3-.3 1.3-.9 1.2-.4 1.2 .1 1.3 0 1.3 .8 1.2 .7 1.2-.1 1.3-.3 1.3-.2 1.2 .2 1.2 .5 1.3-.3 1.3 .3 1.2-.1 1.2-.2 1.3-.1 1.3 .2 1.2 .3 1.2-.1 1.3 .3 1.3 2.8 1.2 .3 1.2-1.9 1.3-1.1 1.3-.1 1.2-.1 1.2 .2 1.3-.1 1.3-.3 1.2-.3 1.2 .5 1.3 .1 1.3-.5 1.2-.2 1.2 .3 1.3-.2 1.3-.1 1.2 .2 1.2 .6 1.3-.4 1.3-.1 1.2 0 1.2 .2 1.3 .1 1.3 .5 1.2-.7 1.2-.7 1.3 .2 1.3 .1 1.2-.2 1.2-.2 1.3 .8 1.3 .4 1.2 0 1.2-.3 1.3-.4 1.3-.1 1.2 .9 1.2 .7 1.3-.1 1.3-.5 1.2-.2 1.2-.5 1.3 .1 1.3 .2 1.2 0 1.2 .3 1.3 .3 1.3-.1 1.2-.4 1.2-.5 1.3-.2 1.3 0 1.2 .4 1.2 .1 1.3 .4 1.3-.2 1.2-.7 1.2-.1 1.3-.4 1.3 .3 1.2 .6 1.2 .4 1.3 0 1.3-1 1.2-.7 1.2-.7 1.3 .4 1.3 1 1.2 .9 1.2 .3 1.3-.3 1.3-.1 1.2 .2 1.2-.6 1.3-.1 1.3 .5 1.2 0 1.2 0 1.3-.5 1.3 .5 1.2 .9 1.2 1.3 1.3-.2 1.3-1.1 1.2-1.2 1.2 0 1.3 .6 1.3 0 1.2-.5 1.2-.1 1.3 0 1.3-.7 1.2-.3 1.2 .2 1.3 1.4 1.3-.1 1.2-.8 1.2-.1 1.3 .3 1.3 .3 1.2 0 1.2 .6 1.3-1.1 1.3-.1 1.2-2.9 1.2 8.2 1.3 1.6 1.3-.2 1.2-6.2 1.2-3.2 1.3-3.4 1.3 12.6 1.2-6.3 1.2 1.6 1.3-8 1.3 4.3 1.2-3.7 1.2 5.6 1.3-3.8 1.3 2.6 1.2 3.7 1.2-5.7 1.3 4.7 1.3 7.1 1.2-7.7 1.2 3.2 1.3-7 1.3-4.1 1.2 4.9 1.2-.2 1.3 7.5 1.3-1.2 1.2-2.4 1.2-9.5 1.3 9 1.3-1.7 1.2 7.5 1.2-4.8 1.3-3 1.3 1 1.2 .8 1.2-1.6 1.3 .7 1.3 3.9 1.2-.2 1.2-3.3 1.3-.2 1.3 .7 1.2-.5 1.2 .2 1.3 0 1.3-.4 1.2-.3 1.2 .7 1.3 .2 1.3-1 1.2-.1 1.2 .4 1.3 .2 1.3-.2 1.2 .1 1.2-.2 1.3 .4 1.3 .2 1.2-.2 1.2 .2 1.3-.2 1.3 .3 1.2-.1 1.2-.3 1.3 0 1.3-.4 1.2 .1 1.2 .4 1.3 .5 1.3-.4 1.2 .1 1.2 .6 1.3-.6 1.3-.1 1.2 .4 1.2 .3 1.3-.1 1.3-.5 1.2-.2 1.2-.2 1.3-.7 1.3-.2 1.2-1.2 1.2-.3 1.3 .5 1.3-.3 1.2 .7 1.2 .8 1.3 .9 1.3 .1 1.2 .1 1.2 .3 1.3 .4 1.3-.7 1.2 .1 1.2-.6 1.3 .3 1.3-.2 1.2-.7 1.2 .8 1.3 .3 1.3 .2 1.2-.3 1.2-.5 1.3 .1 1.3 1.1 1.2-.5 1.2-.6 1.3 .1 1.3 .5 1.2-.3 1.2-.5 1.3 .1 1.3-.1 1.2 .9 1.2 .1 1.3-.3 1.3 0 1.2-.4 1.2 .3 1.3-.1 1.3 .4 1.2 0 1.2-.5 1.3-.1 1.3 .6 1.2 .2 1.2-.4 1.3 .1 1.3-.4 1.2-.5 1.2 .3 1.3 .4 1.3-.8 1.2-.1 1.2 .5 1.3-.1 1.3-.4 1.2 .2 1.2 .1 1.3-.2 1.3-.1 1.2-.6 1.2 .4 1.3 .7 1.3 .2 1.2 0 1.2-.2 1.3 .4 1.3-.2 1.2 .4 1.2 .2 1.3-.8 1.3-.2 1.2 .3 1.2 .1 1.3 .1 1.3-.1 1.2-.6 1.2-.1 1.3 .5 1.3 .2 1.2-.2 1.2-.1 1.3 .3 1.3 .3 1.2 0 1.2-.2 1.3 .1 1.3-.1 1.2-.5 1.2 0 1.3 .2 1.3 .4 1.2-.3 1.2 .1 1.3 .3 1.3 .2 1.2 0 1.2-.2 1.3-.3 1.3-.3 1.2-.5 1.2 .3 1.3 .4 1.3 .2 1.2 .3 1.2-.1 1.3-.1 1.3 .1 1.2-1 1.2 0 1.3 .8 1.3-.6 1.2-.3 1.2 0 1.3 .1 1.3 0 1.2 .8 1.2 0 1.3-.3 1.3 .3 1.2 .3 1.2-.6 1.3-.2 1.3 .3 1.2-.1 1.2 .1 1.3 .9 1.3-.2 1.2-.1 1.2-.2 1.3 .3 1.3-.1 1.2-.7 1.2-.4 1.3 .5 1.3-.6 1.2-.1 1.2 0 1.3 0 1.3 .4 1.2 0 1.2 .7 1.3 0 1.3-.5 1.2 0 1.2 .8 1.3 .2 1.3-.7 1.2-.3 1.2-.1 1.3 .3 1.3 .2 1.2-.6 1.2-.1 1.3 0 1.3-.5 1.2 .3 1.2 0 1.3 .9 1.3 1 1.2-.1 1.2 .1 1.3-.9 1.3-.5 1.2 .5 1.2-.5 1.3-.1 1.3-.3 1.2 .2 1.2 .3 1.3-.3 1.3 0 1.2-.3 1.2-.2 1.3 .5 1.3-.1 1.2 .3 1.2 0 1.3 .2 1.3 .2 1.2-.1 1.2-.1 1.3-.1 1.3 .5 1.2-.1 1.2-.6 1.3 0 1.3 0 1.2-.1 1.2 0 1.3 .1 1.3 .1 1.2 .5 1.2-.1 1.3 .3 1.3 .2 1.2-.5 1.2-.4 1.3-.1 1.3-.5 1.2 .2 1.2 .3 1.3 .3 1.3 .4 1.2-.5 1.2-.3 1.3-.4 1.3 .6 1.2 .1 1.2 .1 1.3 0 1.3 .4 1.2-.4 1.2-.1 1.3-.3 1.3-.5 1.2 .6 1.2 .2 1.3 0 1.3-.5 1.2-.5 1.2 .3 1.3 .7 1.3 .6 1.2-.2 1.2 .3 1.3-.1 1.3-.2 1.2 0 1.2-.3 1.3 .1 1.3 .1 1.2-.1 1.2 0 1.3-.4 1.3 .1 1.2 .4 1.2-.1 1.3 .3 1.3-.1 1.2-.3 1.2 .5 1.3-.7 1.3-.4 1.2 .7 1.2-.6 1.3 1 1.3 .6 1.2-.1 1.2-.4 1.3 0 1.3 .2 1.2-.6 1.2-.4 1.3 .3 1.3-.2 1.2-.5 1.2-.2 1.3 .5 1.3-.1 1.2 .1 1.2 .3 1.3 .1 1.3-.3 1.2 0 1.2 .5 1.3-.2 1.3-.3 1.2 0 1.2-.1 1.3-.4 1.3 .4 1.2 .6 1.2-.4 1.3 .5 1.3 .1 1.2-.5 1.2 .4 1.3 .3 1.3-.6 1.2-.2 1.2 .2 1.3 .4 1.3-.4 1.2 0 1.2-.1 1.3 .6 1.3 .2 1.2 .2 1.2-.6 1.3-.8 1.3 .2 1.2 .2 1.2-.4 1.3 .1 1.3 0 1.2 .1 1.2 .1 1.3-.1 1.3-.3 1.2-.2 1.2 0 1.3 .3 1.3 .8 1.2 .3 1.2-.7 1.3-.2 1.3 0 1.2 .4 1.2-.2 1.3 .2 1.3-.3 1.2-.1 1.2 0 1.3-.1 1.3 .2 1.2-.2 1.2-.5 1.3-.2 1.3 .3 1.2 0 1.2 0 1.3-.4 1.3 .2 1.2 .8 1.2-.1 1.3-.2 1.3 .1 1.2 1.1"/>
<path d="M93.5 217.9l1.3-.1 1.2 .7 1.2-.3 1.3 0 1.3 .6 1.2 0 1.2-.7 1.3-.6 1.3 .2 1.2 .3 1.2 .2 1.3 .2 1.3-.1 1.2-.5 1.2-.2 1.3 .3 1.3 .4 1.2-.4 1.2 0 1.3 .8 1.3-.4 1.2 0 1.2 .1 1.3 .4 1.3-.1 1.2-.4 1.2 .1 1.3 0 1.3-.1 1.2-.6 1.2-.1 1.3 .6 1.3-.1 1.2 .1 1.2-.2 1.3-.3 1.3 .4 1.2 .5 1.2 .1 1.3-.8 1.3 0 1.2 .9 1.2-.5 1.3 0 1.3 .1 1.2-1 1.2-.1 1.3 0 1.3 .9 1.2 .4 1.2 .1 1.3-.2 1.3 .3 1.2-.5 1.2-.7 1.3-.1 1.3 0 1.2 .2 1.2 .1 1.3 .3 1.3 .4 1.2-.5 1.2 0 1.3 .3 1.3 0 1.2-.5 1.2 .7 1.3-.1 1.3-.5 1.2-.2 1.2 .4 1.3 .5 1.3-.6 1.2 .3 1.2 .3 1.3-.7 1.3 .3 1.2 1 1.2 .2 1.3-.8 1.3-.3 1.2-.2 1.2 0 1.3 .9 1.3 2 1.2-.2 1.2-2 1.3-1 1.3 .1 1.2 .1 1.2 0 1.3 .4 1.3 .1 1.2-.2 1.2-.1 1.3-.6 1.3 .1 1.2-.1 1.2-.5 1.3-.1 1.3 .2 1.2 .7 1.2-.4 1.3 .5 1.3 .1 1.2-.1 1.2 0 1.3 0 1.3-.3 1.2 0 1.2 1.2 1.3 .2 1.3-.5 1.2-.6 1.2-.3 1.3-.3 1.3-.3 1.2 .7 1.2 .5 1.3-.6 1.3-.8 1.2 .1 1.2 .6 1.3 .2 1.3-.1 1.2-.1 1.2 .2 1.3 0 1.3-.7 1.2 0 1.2 .7 1.3 .5 1.3 .2 1.2 .3 1.2-.1 1.3-.3 1.3-.2 1.2-.2 1.2 .2 1.3 .3 1.3 .1 1.2 .5 1.2-.8 1.3-.3 1.3-.3 1.2 .4 1.2 .2 1.3-.2 1.3-.8 1.2 .3 1.2 .1 1.3 .4 1.3 .1 1.2 .4 1.2 .1 1.3-.2 1.3 0 1.2-.6 1.2-.2 1.3 .1 1.3 .8 1.2 .1 1.2-.4 1.3-.2 1.3 .5 1.2-.4 1.2-.6 1.3 .1 1.3 .3 1.2 .4 1.2-.3 1.3-.5 1.3 .1 1.2 .8 1.2-.3 1.3 .1 1.3 0 1.2-.9 1.2 .4 1.3 1 1.3-.4 1.2-.3 1.2 .6 1.3 .3 1.3 2.2 1.2 3.7 1.2-3.5 1.3-.7 1.3 7.3 1.2-13.4 1.2 5.4 1.3-4.1 1.3-4 1.2-1.1 1.2 6.7 1.3-4.3 1.3 .4 1.2 3.8 1.2 .1 1.3 3.3 1.3-4.2 1.2 3.1 1.2-1.6 1.3-1.4 1.3-2.8 1.2 4.6 1.2 1.4 1.3-.5 1.3-11.6 1.2 11.1 1.2-1.8 1.3 6.9 1.3-5.6 1.2 3.7 1.2-2.8 1.3-6 1.3-4 1.2 5.2 1.2 0 1.3 3.7 1.3 1.6 1.2-3 1.2-3.8 1.3 2.6 1.3 2.7 1.2 .6 1.2-2.9 1.3 2.5 1.3-3.6 1.2 7.7 1.2-5.5 1.3 3 1.3-2.4 1.2-3 1.2 1.6 1.3 1.5 1.3 .3 1.2 .3 1.2-.5 1.3 .1 1.3 .4 1.2 .8 1.2-.2 1.3-.4 1.3-.1 1.2-.6 1.2 .4 1.3-.3 1.3-.4 1.2-.5 1.2 .6 1.3 0 1.3 .7 1.2 .2 1.2-.6 1.3-.4 1.3 .3 1.2-.2 1.2 0 1.3 .2 1.3 .1 1.2 .1 1.2 .2 1.3-.2 1.3 0 1.2 .6 1.2 .5 1.3-.9 1.3-.1 1.2-.1 1.2 .2 1.3-.2 1.3 .1 1.2 .1 1.2-.1 1.3 0 1.3 .4 1.2-.9 1.2-.1 1.3 .5 1.3 .6 1.2-.6 1.2-.2 1.3-.2 1.3 .5 1.2-.1 1.2-.1 1.3 .8 1.3-.3 1.2-.1 1.2 .6 1.3-.4 1.3-.6 1.2-.4 1.2-.3 1.3 .4 1.3 .7 1.2-.3 1.2-.1 1.3 .3 1.3 .1 1.2-1 1.2-.2 1.3 .8 1.3 .7 1.2 .2 1.2-.2 1.3-.5 1.3 .4 1.2-.6 1.2 0 1.3-.2 1.3-.5 1.2-.5 1.2 .6 1.3 .5 1.3 0 1.2 0 1.2 .1 1.3 .2 1.3 .3 1.2-.1 1.2 .1 1.3-.5 1.3 .3 1.2 .2 1.2-.6 1.3-.2 1.3 .5 1.2 .6 1.2-.1 1.3-1 1.3-.7 1.2 .5 1.2 .1 1.3 .1 1.3 .3 1.2-.3 1.2 .4 1.3 .1 1.3 .4 1.2 .2 1.2-.1 1.3-.1 1.3-.5 1.2-.7 1.2 .3 1.3 .4 1.3-.1 1.2 0 1.2-.4 1.3 0 1.3 .5 1.2 .1 1.2 .1 1.3 .5 1.3 .1 1.2-.2 1.2 0 1.3-.5 1.3-.3 1.2 0 1.2-.4 1.3-.4 1.3 .4 1.2-.1 1.2 .7 1.3 .3 1.3-.4 1.2 .2 1.2 .2 1.3-.8 1.3 0 1.2 .6 1.2 0 1.3-.1 1.3 .3 1.2-.2 1.2 .5 1.3 0 1.3-.8 1.2 .4 1.2 .3 1.3-.1 1.3-.3 1.2-1 1.2 .2 1.3-.1 1.3-.2 1.2 0 1.2 1.1 1.3-.9 1.3-1.4 1.2-.5 1.2 .9 1.3 1.4 1.3 .9 1.2-.4 1.2-.3 1.3-.2 1.3-.2 1.2-2.1 1.2 .4 1.3 1.3 1.3 .7 1.2 .7 1.2-.6 1.3 0 1.3 .1 1.2-.4 1.2-.1 1.3-.4 1.3 .3 1.2 .8 1.2-.3 1.3 0 1.3 .1 1.2-.1 1.2-.2 1.3 .4 1.3 0 1.2 .4 1.2-.2 1.3 .4 1.3 0 1.2-.4 1.2 0 1.3-.4 1.3 .1 1.2-.7 1.2 0 1.3 .4 1.3-.1 1.2-.2 1.2-.5 1.3 .7 1.3 .6 1.2-.1 1.2 .2 1.3 .1 1.3 .1 1.2-.1 1.2-.5 1.3 0 1.3 0 1.2 .2 1.2 .2 1.3-.1 1.3-.7 1.2-.2 1.2 .5 1.3 .1 1.3 .7 1.2 0 1.2-.6 1.3 .1 1.3-1.1 1.2 0 1.2 .2 1.3 .9 1.3 .7 1.2 0 1.2-.3 1.3-.4 1.3 .4 1.2-.2 1.2-.5 1.3 .7 1.3-.1 1.2-1.1 1.2-.1 1.3 1.5 1.3 .6 1.2-.6 1.2-.6 1.3 0 1.3 .4 1.2 0 1.2-.4 1.3 .3 1.3 .2 1.2-.4 1.2-.5 1.3-.1 1.3-.5 1.2 .7 1.2 .4 1.3 .8 1.3-.3 1.2-.3 1.2 .2 1.3 .1 1.3 0 1.2 0 1.2-.2 1.3-.5 1.3 0 1.2 .3 1.2-.1 1.3-.1 1.3-.8 1.2-.3 1.2 .5 1.3 .2 1.3 .2 1.2-.1 1.2 .3 1.3 .2 1.3-.9 1.2-.5 1.2 .6 1.3 .5 1.3-.2 1.2-.2 1.2 .5 1.3-.1 1.3 .3 1.2 .7 1.2-.6 1.3-.7 1.3 .4 1.2 2.1 1.2 .7 1.3-2.2 1.3-1 1.2-.4 1.2-.3 1.3 .4 1.3-.1 1.2-.2 1.2-.5 1.3 .3 1.3 0 1.2 1.2 1.2 .3 1.3-.6 1.3-.2 1.2-.5 1.2 0 1.3 .2 1.3 .5 1.2-.1 1.2-.3 1.3 .4 1.3-.1 1.2-.3 1.2 .3 1.3 0 1.3-.3 1.2 .4 1.2 .6 1.3-.3 1.3-.3 1.2-.4 1.2-.7 1.3 .4 1.3 .7 1.2 .4 1.2-.4 1.3-.1 1.3-.2 1.2 .2 1.2 .1 1.3 .4 1.3-.1 1.2 0 1.2 .1 1.3-.3 1.3 .2 1.2 .1 1.2 .2 1.3 .5 1.3 1.2 1.2-.1 1.2-.8 1.3-1.1 1.3-.6 1.2 .2 1.2 .1 1.3-.3 1.3 .5 1.2 .3 1.2 .7 1.3-.4 1.3-.5 1.2-.4 1.2-.1 1.3 0 1.3 .5 1.2 .1 1.2-.2 1.3 .2 1.3-.1 1.2 .1 1.2 .7 1.3-.1 1.3-.7 1.2 0 1.2-.3 1.3 .4 1.3 .2 1.2-.4"/>
<path d="M93.5 229.5l1.3 0 1.2-.4 1.2-.6 1.3-.3 1.3-.4 1.2-.3 1.2 .5 1.3 1 1.3-.4 1.2-.8 1.2 .2 1.3 .2 1.3 .3 1.2 .4 1.2-.4 1.3 .1 1.3 .2 1.2-.6 1.2-.5 1.3 .7 1.3 .5 1.2-.2 1.2 .4 1.3 .4 1.3-.7 1.2-.4 1.2 .2 1.3-.2 1.3 0 1.2 .1 1.2 0 1.3 0 1.3 0 1.2-.2 1.2-.1 1.3 .4 1.3 .1 1.2-.3 1.2-.2 1.3-.7 1.3 .2 1.2-.4 1.2 .3 1.3 .1 1.3-.2 1.2 .3 1.2 .4 1.3 .3 1.3 .4 1.2-.1 1.2-.2 1.3 .5 1.3-1.1 1.2-.1 1.2 .3 1.3-.7 1.3-.3 1.2 .8 1.2 1.5 1.3-.1 1.3-.8 1.2 .1 1.2-.2 1.3 0 1.3-.1 1.2 .2 1.2 .3 1.3 .4 1.3-.3 1.2-.2 1.2-.4 1.3 .2 1.3-.3 1.2-.1 1.2 .4 1.3 .2 1.3-.2 1.2-.1 1.2-.1 1.3 .6 1.3 .1 1.2-.6 1.2-.2 1.3 .1 1.3 1.9 1.2 .7 1.2-2 1.3-.6 1.3-.2 1.2-.5 1.2-.3 1.3 .7 1.3 .3 1.2-.3 1.2 0 1.3 .2 1.3-.2 1.2-.1 1.2 .5 1.3-.2 1.3 .3 1.2-.2 1.2 .6 1.3 .3 1.3 .1 1.2-.5 1.2-.3 1.3 0 1.3 0 1.2 .1 1.2 0 1.3-.1 1.3-.1 1.2 .2 1.2 0 1.3 .5 1.3 0 1.2-.6 1.2 .1 1.3 .1 1.3 .4 1.2 .3 1.2-.1 1.3-.4 1.3-.7 1.2 .4 1.2-.1 1.3 .1 1.3 0 1.2 .1 1.2-.7 1.3 .1 1.3 .2 1.2 0 1.2 .7 1.3-.2 1.3-.6 1.2-.3 1.2 .3 1.3-.5 1.3 .3 1.2 .7 1.2-.4 1.3-.2 1.3 .4 1.2-.4 1.2 .4 1.3-.7 1.3-.4 1.2-.1 1.2 .4 1.3 .7 1.3 .4 1.2-1 1.2-.1 1.3 .3 1.3 .7 1.2 .5 1.2-.6 1.3 0 1.3-.2 1.2-.1 1.2 .4 1.3-.3 1.3 .1 1.2 0 1.2-.2 1.3 .6 1.3-.1 1.2-.4 1.2-.3 1.3 .2 1.3 .1 1.2 .7 1.2 .2 1.3-.8 1.3-.7 1.2 .3 1.2 .6 1.3-.1 1.3-.6 1.2 .3 1.2 1 1.3 0 1.3-1.2 1.2 .2 1.2 .2 1.3 2 1.3-3.2 1.2 1.7 1.2 .8 1.3 .4 1.3-3.8 1.2 .3 1.2-6 1.3 13.2 1.3-8.5 1.2-.1 1.2 12.1 1.3-11.2 1.3 1.6 1.2 .6 1.2-.9 1.3-.8 1.3 2.5 1.2 1.4 1.2-4.8 1.3 2.4 1.3-3.7 1.2-6.1 1.2 13.3 1.3 .6 1.3-1.1 1.2-3.2 1.2-5.9 1.3 3.7 1.3-2.2 1.2-1.9 1.2 12.7 1.3-3.5 1.3 .9 1.2-4.2 1.2 4 1.3-7.9 1.3 6.1 1.2 1.7 1.2 1.2 1.3 .9 1.3-4.7 1.2 .8 1.2-2.2 1.3 1.9 1.3-1.8 1.2-.3 1.2-.5 1.3 1.2 1.3 .8 1.2-.7 1.2 .2 1.3-.1 1.3 .2 1.2-.2 1.2-.1 1.3 .2 1.3-.1 1.2 .2 1.2-.5 1.3 .3 1.3 .2 1.2 0 1.2 .1 1.3 0 1.3-.2 1.2 .2 1.2-.1 1.3-.1 1.3 .1 1.2 .1 1.2-.6 1.3-.3 1.3 .6 1.2 0 1.2 .4 1.3 .2 1.3 .2 1.2-.1 1.2-.1 1.3-.2 1.3-.4 1.2-.5 1.2 .7 1.3-.2 1.3 .1 1.2 .9 1.2 0 1.3-.8 1.3 .3 1.2 .3 1.2 .5 1.3-.4 1.3-.8 1.2-.8 1.2-.2 1.3 .6 1.3-.2 1.2 .3 1.2 .4 1.3 .1 1.3 .2 1.2 .4 1.2-.2 1.3-.1 1.3-.8 1.2-.6 1.2 .8 1.3-.2 1.3 .6 1.2-.1 1.2-.5 1.3-.1 1.3-.2 1.2 .1 1.2 .5 1.3 .2 1.3-.5 1.2-.3 1.2 0 1.3 1 1.3-.6 1.2-.1 1.2 .5 1.3 .4 1.3 .1 1.2-.4 1.2-.7 1.3 .3 1.3 .2 1.2-.3 1.2-.3 1.3-.1 1.3 .2 1.2 .3 1.2 .2 1.3-.2 1.3 0 1.2 .3 1.2-.3 1.3-.6 1.3 .1 1.2 .2 1.2-.1 1.3 .2 1.3-.2 1.2 .2 1.2-.4 1.3 .3 1.3 .6 1.2 .3 1.2-.4 1.3 0 1.3 .4 1.2-.2 1.2-.1 1.3 0 1.3 .3 1.2-.6 1.2-.8 1.3 .2 1.3 .3 1.2-.2 1.2 .4 1.3-.1 1.3 .1 1.2 .3 1.2-.7 1.3-1.8 1.3 1.3 1.2 1.3 1.2-.6 1.3 .5 1.3 .1 1.2 .1 1.2 0 1.3-.2 1.3 .4 1.2 .1 1.2-.4 1.3-.5 1.3-.3 1.2 .3 1.2-.3 1.3-.1 1.3 .3 1.2 .2 1.2 .5 1.3 .4 1.3-.5 1.2 .1 1.2-.2 1.3 .3 1.3 .1 1.2-.1 1.2 .1 1.3-.3 1.3-.1 1.2-.1 1.2-.6 1.3 .1 1.3 .4 1.2-.2 1.2 .1 1.3 .5 1.3 .4 1.2-.4 1.2-1 1.3 .3 1.3-.1 1.2-.2 1.2 .6 1.3 .2 1.3 1 1.2 .1 1.2-.1 1.3-.7 1.3-.2 1.2 .2 1.2-.5 1.3-1.1 1.3 .4 1.2 .5 1.2 .6 1.3 0 1.3-.3 1.2 .1 1.2 .1 1.3 .3 1.3 .3 1.2-.6 1.2-.4 1.3-.1 1.3-.3 1.2-.2 1.2 .6 1.3-.1 1.3-.3 1.2 .3 1.2-.1 1.3 .4 1.3 .3 1.2 .2 1.2-.6 1.3-.9 1.3 .1 1.2 .6 1.2 .1 1.3 0 1.3 .6 1.2 0 1.2 .1 1.3 .4 1.3-.2 1.2-.3 1.2-.1 1.3 .2 1.3 .4 1.2-.6 1.2-.1 1.3-.3 1.3-.1 1.2 0 1.2-.1 1.3 .9 1.3-.3 1.2-.4 1.2-.5 1.3 .4 1.3 0 1.2-.2 1.2-.4 1.3 .8 1.3 .5 1.2-.2 1.2-.5 1.3 0 1.3 1.2 1.2-.3 1.2-1 1.3 .3 1.3 .3 1.2 0 1.2 .1 1.3-.1 1.3-.3 1.2-.2 1.2-.2 1.3 .9 1.3-.4 1.2-.2 1.2-.4 1.3 .6 1.3-.4 1.2-.5 1.2 .3 1.3 .6 1.3-.1 1.2-.4 1.2-.4 1.3 .3 1.3 .3 1.2 .5 1.2-.4 1.3-.4 1.3 .4 1.2 .3 1.2-.2 1.3-.5 1.3 .1 1.2 .3 1.2 .7 1.3 .2 1.3-.7 1.2 0 1.2-.3 1.3 .1 1.3 .5 1.2 0 1.2-.3 1.3 .9 1.3 0 1.2-1.2 1.2 .3 1.3-.2 1.3-.7 1.2-.1 1.2 1 1.3 0 1.3-.4 1.2 .4 1.2 .2 1.3-.2 1.3 .5 1.2-.5 1.2 .1 1.3 .3 1.3 .2 1.2-.2 1.2-.6 1.3 0 1.3-.2 1.2 .3 1.2 .4 1.3 .1 1.3 0 1.2-.2 1.2-.3 1.3 .4 1.3-.5 1.2 .5 1.2 .3 1.3-.2 1.3 0 1.2-1.1 1.2-.4 1.3 0 1.3 0 1.2 .6 1.2 1 1.3-.4 1.3 .2 1.2 .6 1.2 1.4 1.3-.2 1.3-1.2 1.2-1.3 1.2-.2 1.3 .5 1.3-.3 1.2-.1 1.2 .3 1.3 0 1.3-.5 1.2-.1 1.2 .3 1.3 .1 1.3 .2 1.2 .4 1.2-.2 1.3-.1 1.3 .1 1.2-.8 1.2-.7 1.3 .1 1.3 1 1.2 .6 1.2 0 1.3-.4 1.3-.1 1.2-.1 1.2 .6 1.3-.1 1.3 0 1.2-.1 1.2 .3 1.3 .4 1.3-.8 1.2-.1 1.2 .1 1.3 .1 1.3 .2 1.2-.5 1.2-.6 1.3-.3 1.3 .6 1.2 .2 1.2-.3 1.3 .4 1.3 .2 1.2-.1 1.2 0 1.3 .6 1.3-.2 1.2 0"/>
<path d="M93.5 238.6l1.3 .5 1.2 .8 1.2 .6 1.3-.6 1.3-.9 1.2 .4 1.2 .1 1.3-.5 1.3-.2 1.2 0 1.2-.2 1.3-.3 1.3 .8 1.2 .1 1.2-.3 1.3-.6 1.3-.3 1.2 .4 1.2-.1 1.3-.3 1.3-.4 1.2 .8 1.2-.2 1.3 .3 1.3 0 1.2-.3 1.2 0 1.3 .7 1.3 .2 1.2 .5 1.2 .1 1.3-1.4 1.3 .1 1.2 .4 1.2 .3 1.3-.2 1.3-.5 1.2-.2 1.2 .3 1.3 .4 1.3 .4 1.2-.1 1.2-.1 1.3 .5 1.3-.3 1.2-.6 1.2-.2 1.3 1 1.3 .1 1.2-.5 1.2 .3 1.3-1.2 1.3 0 1.2 0 1.2 .4 1.3 .6 1.3-.3 1.2 .2 1.2-.1 1.3-.2 1.3-.2 1.2-.2 1.2-.3 1.3-1.9 1.3-.1 1.2 2.3 1.2 .4 1.3 0 1.3-.2 1.2 .1 1.2 0 1.3-.2 1.3 .6 1.2-.3 1.2-.1 1.3-.3 1.3 .1 1.2 .4 1.2-.5 1.3-.4 1.3 .4 1.2-.3 1.2-.2 1.3 1.3 1.3-.3 1.2-.7 1.2 .6 1.3 .4 1.3 .6 1.2 .3 1.2-1.1 1.3-.6 1.3-.1 1.2 .5 1.2 .8 1.3 .3 1.3-.8 1.2-.7 1.2 .2 1.3-.1 1.3-.2 1.2 .6 1.2 .1 1.3-.3 1.3 .4 1.2 .3 1.2-.2 1.3-.3 1.3 .4 1.2-.1 1.2-.2 1.3 .2 1.3-.1 1.2-.4 1.2-.1 1.3 .4 1.3-.1 1.2-.4 1.2 .3 1.3 0 1.3 .1 1.2 0 1.2-.4 1.3 .4 1.3 .2 1.2-.8 1.2 .2 1.3 .2 1.3 .1 1.2 .3 1.2 .5 1.3-.1 1.3-.4 1.2-.5 1.2 .1 1.3 .1 1.3 .9 1.2-.3 1.2-.4 1.3 0 1.3-.3 1.2 .1 1.2 .3 1.3 .2 1.3 0 1.2 0 1.2-.6 1.3 0 1.3 .4 1.2 .2 1.2-.3 1.3 0 1.3-.5 1.2 .1 1.2 .6 1.3-.2 1.3-.7 1.2 .1 1.2 .2 1.3 .3 1.3-.1 1.2 .4 1.2-.6 1.3-.2 1.3 .3 1.2 .1 1.2 .2 1.3 0 1.3-.2 1.2-.1 1.2 0 1.3 .2 1.3 .6 1.2 .1 1.2-.2 1.3 .7 1.3 0 1.2-.5 1.2-1 1.3-.6 1.3-.5 1.2 1 1.2 .4 1.3 .1 1.3 .2 1.2-.5 1.2 .5 1.3 .2 1.3-.4 1.2 0 1.2-.2 1.3 .7 1.3 .1 1.2-4 1.2 4.7 1.3-6 1.3 6.9 1.2-4 1.2 1.7 1.3-4.9 1.3 4.1 1.2 .1 1.2 1.8 1.3-2.4 1.3-1.9 1.2-1 1.2 4.4 1.3-.4 1.3 1.1 1.2 6.5 1.2-6.6 1.3 3.7 1.3-3.8 1.2 1.4 1.2-.4 1.3-1.1 1.3 3.6 1.2-4.9 1.2-5.3 1.3-.5 1.3-.6 1.2 1.9 1.2 2.1 1.3-4.6 1.3 5.9 1.2-2.5 1.2 1.2 1.3 1.5 1.3 3.6 1.2-3.7 1.2-4.4 1.3 4.6 1.3 1.3 1.2-1.5 1.2 1 1.3 .6 1.3 .2 1.2-.8 1.2 .4 1.3 .3 1.3-.1 1.2 .3 1.2-.9 1.3-.5 1.3 .2 1.2 .8 1.2-.6 1.3-.5 1.3 .6 1.2 .2 1.2 0 1.3 .7 1.3-.2 1.2-.3 1.2 .2 1.3-.2 1.3-.1 1.2 1.1 1.2 1.8 1.3 .4 1.3-1.2 1.2-1 1.2-.5 1.3-.4 1.3-1 1.2 .6 1.2 .4 1.3 0 1.3 .7 1.2-.2 1.2-.3 1.3 .1 1.3-.3 1.2 .2 1.2-.4 1.3-.6 1.3 .1 1.2 .5 1.2 .1 1.3-.1 1.3 .6 1.2 .1 1.2-.7 1.3-.3 1.3 .3 1.2 .4 1.2 .3 1.3-.2 1.3-.2 1.2-.4 1.2-.1 1.3 .2 1.3 .2 1.2 .5 1.2-.5 1.3-.4 1.3 .7 1.2 .4 1.2-.9 1.3-.6 1.3 .4 1.2 .5 1.2 .2 1.3 .6 1.3-.3 1.2-.2 1.2-.4 1.3 .2 1.3-1 1.2-.5 1.2 .2 1.3 .6 1.3 .7 1.2-.1 1.2-.4 1.3 .2 1.3 .4 1.2 .1 1.2 .1 1.3-.4 1.3-.1 1.2-.3 1.2 .2 1.3 .3 1.3 0 1.2 1 1.2 .1 1.3-.7 1.3-.8 1.2-.6 1.2 .2 1.3 .4 1.3 .5 1.2 .6 1.2-.5 1.3-.6 1.3 .3 1.2 .3 1.2 .1 1.3 .2 1.3 .3 1.2-.5 1.2-.1 1.3 .1 1.3-.4 1.2-.1 1.2-.1 1.3 0 1.3 .1 1.2 .3 1.2 .1 1.3-.2 1.3-.3 1.2-.3 1.2 .3 1.3 .2 1.3-.3 1.2 0 1.2-.4 1.3-.4 1.3 .7 1.2 .9 1.2-.1 1.3-.2 1.3 .4 1.2-.3 1.2-.3 1.3 .2 1.3 .2 1.2-.2 1.2 0 1.3 0 1.3-.2 1.2 .2 1.2-.2 1.3-.6 1.3 0 1.2 .3 1.2 0 1.3-.2 1.3 .2 1.2 .5 1.2-.1 1.3-.4 1.3 .3 1.2-.4 1.2 .2 1.3 .5 1.3 .2 1.2-.3 1.2-.4 1.3-.1 1.3-.3 1.2 .2 1.2 .4 1.3-.4 1.3-.1 1.2 .4 1.2 .4 1.3-.1 1.3-.3 1.2 .1 1.2-.6 1.3 .4 1.3 1 1.2 0 1.2-.3 1.3 .2 1.3-.4 1.2-.6 1.2 .2 1.3 .4 1.3-.5 1.2-.2 1.2 .5 1.3-.1 1.3 .4 1.2 .1 1.2-.9 1.3-.1 1.3 1 1.2 .4 1.2-.9 1.3 0 1.3 0 1.2 .3 1.2-.5 1.3-.4 1.3 .2 1.2-.1 1.2 .1 1.3 0 1.3 .6 1.2 .5 1.2 .4 1.3-.3 1.3-.1 1.2-.1 1.2-.6 1.3-.4 1.3-.8 1.2 .6 1.2 .7 1.3-.1 1.3-.3 1.2 .3 1.2 .9 1.3 .6 1.3-1 1.2-.6 1.2-.4 1.3 .3 1.3 0 1.2 .1 1.2 .3 1.3 0 1.3 0 1.2 .7 1.2-.3 1.3-.4 1.3-.5 1.2 .1 1.2 .2 1.3 .1 1.3-.3 1.2 0 1.2-.2 1.3 .3 1.3 0 1.2-.3 1.2 .3 1.3 .5 1.3-.1 1.2 .8 1.2 1.7 1.3-.2 1.3-1.7 1.2-.8 1.2 .1 1.3-.2 1.3 .4 1.2-.6 1.2 .1 1.3-.2 1.3 .5 1.2 .2 1.2-.2 1.3-.2 1.3-.4 1.2 .1 1.2 .4 1.3 0 1.3-.3 1.2-.6 1.2 .3 1.3 0 1.3 .4 1.2 .6 1.2 .2 1.3-.6 1.3-.4 1.2-.1 1.2-.3 1.3-.1 1.3-.3 1.2 .5 1.2 .5 1.3-.2 1.3 .5 1.2 .1 1.2 .1 1.3-.7 1.3-.1 1.2 1 1.2 .2 1.3 0 1.3 .2 1.2-.5 1.2-.1 1.3 .5 1.3 .3 1.2-.4 1.2-.5 1.3 .3 1.3-.3 1.2-.3 1.2-.1 1.3 .2 1.3-.1 1.2-.3 1.2 .5 1.3-.2 1.3-.3 1.2 .5 1.2 .1 1.3 .9 1.3 .1 1.2-.4 1.2-.5 1.3 .1 1.3 .2 1.2-1.3 1.2-.5 1.3 .4 1.3 .6 1.2 0 1.2 .3 1.3 .1 1.3-.1 1.2-.4 1.2 .1 1.3-.2 1.3-.6 1.2 .5 1.2 0 1.3 .1 1.3 .4 1.2 0 1.2-.4 1.3 .3 1.3-.1 1.2 .2 1.2-.1 1.3-.4 1.3 .8 1.2 0 1.2-.3 1.3-.2 1.3 .2 1.2-.2 1.2-.5 1.3-.5 1.3 .6 1.2 .6 1.2-.7 1.3 .4 1.3 .5 1.2-.2 1.2 .2 1.3 0 1.3 .2 1.2 .1 1.2 .2 1.3-1 1.3 0 1.2-.1 1.2 .2 1.3 .1 1.3-.5 1.2 0 1.2 .5 1.3-.1 1.3 .2 1.2 0 1.2-.3 1.3 .1 1.3 .4 1.2 .7 1.2-.3 1.3-.5 1.3-.4 1.2 .2"/>
<path d="M93.5 247.8l1.3 .4 1.2 1 1.2 .2 1.3-.1 1.3-.8 1.2 .1 1.2 .6 1.3 .5 1.3 0 1.2-.3 1.2-.1 1.3 0 1.3 0 1.2 .2 1.2-.3 1.3-.2 1.3 .1 1.2 .4 1.2-.5 1.3-.3 1.3 .4 1.2 .5 1.2 .1 1.3-.4 1.3-.3 1.2-.1 1.2 .4 1.3 .6 1.3-.3 1.2-.2 1.2 .1 1.3-.4 1.3-.2 1.2 .6 1.2-.3 1.3 .3 1.3 0 1.2-.5 1.2-.8 1.3 .3 1.3 .3 1.2-.3 1.2 .2 1.3 .2 1.3 .6 1.2 .3 1.2-.1 1.3-.5 1.3 .2 1.2-.5 1.2 .5 1.3-.3 1.3-.1 1.2 .6 1.2 .3 1.3-.7 1.3-1 1.2 .2 1.2 1 1.3-.2 1.3-.2 1.2-.5 1.2 .2 1.3 .2 1.3-.8 1.2 .3 1.2 .6 1.3-.5 1.3-.1 1.2 .1 1.2 .7 1.3-.1 1.3 .1 1.2-.1 1.2-.1 1.3 0 1.3 .2 1.2-.3 1.2 .1 1.3 0 1.3 0 1.2-.2 1.2-.1 1.3 .3 1.3-.2 1.2 .3 1.2-.1 1.3 .3 1.3 .5 1.2 .5 1.2-.3 1.3-.4 1.3-.4 1.2-.4 1.2 .4 1.3-.6 1.3-.6 1.2 1 1.2 0 1.3-.2 1.3 .2 1.2 0 1.2-.4 1.3-.4 1.3 .8 1.2 0 1.2-.3 1.3-.7 1.3-.1 1.2 .1 1.2 .5 1.3 .3 1.3 .3 1.2 .2 1.2 .1 1.3-.4 1.3-.1 1.2 .4 1.2 .5 1.3-.8 1.3-.9 1.2 .9 1.2 .4 1.3-.6 1.3 .4 1.2-.1 1.2-.1 1.3 .4 1.3 .2 1.2-.1 1.2 .1 1.3-.3 1.3-.1 1.2 .3 1.2-.2 1.3 .3 1.3-.3 1.2 .2 1.2 .2 1.3-.3 1.3-.5 1.2-.3 1.2 .1 1.3 .6 1.3 .2 1.2 .5 1.2-.9 1.3-.1 1.3 .2 1.2 .3 1.2 .4 1.3-.6 1.3-.2 1.2 0 1.2-.3 1.3 .4 1.3 .1 1.2-.5 1.2 .4 1.3 .6 1.3 .3 1.2-.4 1.2-.2 1.3 .1 1.3-.2 1.2 .4 1.2-.4 1.3-.5 1.3-.2 1.2 .2 1.2 .1 1.3-.5 1.3-.1 1.2 .5 1.2 .5 1.3-.2 1.3 .2 1.2-.6 1.2 .2 1.3 .2 1.3-.4 1.2 .5 1.2-.2 1.3 .2 1.3 .5 1.2 .5 1.2 .1 1.3-.5 1.3-.1 1.2-.5 1.2-.2 1.3 .7 1.3 .5 1.2 1.7 1.2-4.9 1.3-1.8 1.3 2.2 1.2 6.2 1.2-4.4 1.3-2.2 1.3-1.3 1.2 3.4 1.2 2.2 1.3-7.2 1.3 5.6 1.2 2.6 1.2-3.6 1.3-2.4 1.3 3.6 1.2-2.6 1.2 .7 1.3 1.6 1.3-.1 1.2-1 1.2 9.4 1.3-7.8 1.3 3.6 1.2-.4 1.2-4 1.3 1.9 1.3-1.2 1.2-.3 1.2 6 1.3-.8 1.3-9.3 1.2 6.8 1.2-.8 1.3-3.4 1.3 1.9 1.2-.2 1.2 5.9 1.3-3 1.3-4.8 1.2-.5 1.2-3.2 1.3 .8 1.3 3.8 1.2-1.1 1.2 2.2 1.3-2.5 1.3 2.4 1.2-.9 1.2-.3 1.3-.5 1.3 .6 1.2-.5 1.2 .3 1.3 .1 1.3 .3 1.2 .2 1.2 .4 1.3-.2 1.3 .1 1.2 0 1.2-.6 1.3 .5 1.3 .4 1.2-.2 1.2-1 1.3-.4 1.3 .4 1.2 .3 1.2-.3 1.3-.1 1.3 .1 1.2 .3 1.2 .4 1.3-.3 1.3-.1 1.2 0 1.2 .2 1.3 .3 1.3-.5 1.2 .1 1.2 1 1.3-.2 1.3-.8 1.2 .4 1.2-.5 1.3-.5 1.3-.1 1.2 .7 1.2 .5 1.3 .1 1.3 .1 1.2 .3 1.2-.2 1.3-.3 1.3-.3 1.2-.4 1.2-.1 1.3 .5 1.3 .5 1.2-.6 1.2 .2 1.3 .6 1.3-.4 1.2-.2 1.2-.3 1.3-.4 1.3-.3 1.2 .6 1.2 .2 1.3 .4 1.3 0 1.2 .1 1.2-.5 1.3-.3 1.3 0 1.2-.4 1.2 .2 1.3 0 1.3 .3 1.2-.2 1.2-.3 1.3 .6 1.3 .2 1.2 1.7 1.2 .9 1.3-2.6 1.3-.9 1.2 .5 1.2 .4 1.3 .2 1.3-.1 1.2-.2 1.2-.3 1.3-.1 1.3 .7 1.2 0 1.2-.6 1.3 .1 1.3 .4 1.2 0 1.2-.3 1.3 .2 1.3 .1 1.2-.3 1.2-.2 1.3 .5 1.3 0 1.2-.1 1.2 .6 1.3-.5 1.3-.4 1.2 .3 1.2-.7 1.3-.6 1.3 .6 1.2 .4 1.2-.8 1.3 .1 1.3 .2 1.2 .4 1.2 .5 1.3 0 1.3-.4 1.2-.6 1.2 .2 1.3 .7 1.3-.1 1.2-.3 1.2-.3 1.3 .3 1.3 .4 1.2-.3 1.2 .5 1.3 .2 1.3 .1 1.2-.4 1.2-.4 1.3 0 1.3-.3 1.2 0 1.2 .5 1.3 0 1.3-.6 1.2-.2 1.2-.1 1.3 .1 1.3 .6 1.2 .2 1.2-.2 1.3 .1 1.3 .2 1.2-.1 1.2-.2 1.3-.1 1.3-.3 1.2-.2 1.2-.2 1.3 .3 1.3 .2 1.2 0 1.2 .1 1.3 .1 1.3 .4 1.2 .1 1.2 .1 1.3-.6 1.3 0 1.2 .2 1.2 .7 1.3 .1 1.3 0 1.2 .1 1.2-1 1.3-.1 1.3 .1 1.2 0 1.2 .9 1.3-.3 1.3-.9 1.2-.1 1.2 .3 1.3 0 1.3 .1 1.2 .3 1.2 .3 1.3 .1 1.3-.3 1.2-.1 1.2-.1 1.3 .6 1.3-.3 1.2-.1 1.2 0 1.3-.4 1.3-.7 1.2 .1 1.2 1.2 1.3-.3 1.3 .6 1.2 .2 1.2-.1 1.3-.2 1.3-.8 1.2 .8 1.2 1.9 1.3-.7 1.3-1.1 1.2-.4 1.2-.1 1.3 0 1.3 0 1.2 .2 1.2-.3 1.3-.2 1.3 .1 1.2 .3 1.2-.2 1.3 .4 1.3 .1 1.2 .3 1.2 .1 1.3-.6 1.3-.1 1.2-.5 1.2 .2 1.3 0 1.3 .4 1.2 0 1.2-.4 1.3 .2 1.3 .1 1.2-.5 1.2-.5 1.3 .1 1.3-.2 1.2-.5 1.2 .5 1.3 .7 1.3 .1 1.2 .4 1.2-.4 1.3-.7 1.3 .4 1.2 .7 1.2 .1 1.3-.3 1.3-1 1.2 .6 1.2 .3 1.3-.7 1.3 .4 1.2 .6 1.2 .1 1.3 0 1.3-.3 1.2-.2 1.2 0 1.3 .4 1.3-.2 1.2-.6 1.2-.6 1.3-.4 1.3 .5 1.2 1 1.2-.2 1.3-.2 1.3 .6 1.2 .5 1.2 0 1.3-.4 1.3 0 1.2 .1 1.2 0 1.3-.4 1.3 .3 1.2 .4 1.2 .1 1.3-.2 1.3-.7 1.2-.1 1.2 .5 1.3-.1 1.3-1 1.2 0 1.2 0 1.3 .3 1.3 .3 1.2-.2 1.2-.7 1.3-.2 1.3 .7 1.2 .2 1.2-.2 1.3 0 1.3 .4 1.2 .2 1.2-.3 1.3-.6 1.3 .5 1.2 .3 1.2 .3 1.3 .2 1.3-.5 1.2 0 1.2-.3 1.3-.3 1.3 .4 1.2 .2 1.2 0 1.3-.5 1.3-.1 1.2-.2 1.2 .2 1.3 .7 1.3-.3 1.2 .7 1.2 .4 1.3-.2 1.3-1 1.2 .1 1.2-.3 1.3-1.3 1.3-.2 1.2 2 1.2 .2 1.3 .2 1.3-.5 1.2-.6 1.2 .1 1.3 .1 1.3 .1 1.2 .5 1.2 .5 1.3 0 1.3-.5 1.2-.5 1.2 .3 1.3 .3 1.3-.1 1.2 0 1.2-.5 1.3 .1 1.3 .3 1.2-.4 1.2 .6 1.3-.2 1.3-.1 1.2-.4 1.2-.1 1.3 .3 1.3 .4 1.2 .7 1.2 .1 1.3-.5 1.3-.2 1.2 .1 1.2-.4 1.3-.1 1.3 .6 1.2-.7 1.2-.7 1.3 .5 1.3 .2 1.2 0 1.2 .3 1.3 .7 1.3-.5 1.2-.2"/>
<path d="M93.5 258.9l1.3 .5 1.2 .4 1.2-1.1 1.3-.6 1.3 .4 1.2 .6 1.2 1 1.3 .2 1.3 .2 1.2-1.1 1.2 .1 1.3 .9 1.3-.9 1.2-.3 1.2 .6 1.3-.2 1.3-.4 1.2 .7 1.2-.4 1.3-.3 1.3 .2 1.2 .3 1.2-.2 1.3-.2 1.3-.3 1.2 0 1.2 .9 1.3-.1 1.3-.4 1.2-.3 1.2 .5 1.3-.4 1.3 .6 1.2 .5 1.2 0 1.3-.4 1.3-.2 1.2-.3 1.2-.1 1.3-.3 1.3 .4 1.2 .7 1.2-.9 1.3 0 1.3 .2 1.2 .1 1.2-.3 1.3 .1 1.3-.1 1.2 .3 1.2-.8 1.3 .2 1.3 .8 1.2-.2 1.2 .3 1.3 .4 1.3-.2 1.2-.3 1.2 .1 1.3-.4 1.3-.1 1.2 1.1 1.2 .3 1.3-.7 1.3-.4 1.2-.2 1.2-.2 1.3 .3 1.3 .8 1.2-.3 1.2 0 1.3 0 1.3 .1 1.2-.5 1.2 0 1.3 .4 1.3-.1 1.2-1 1.2-.2 1.3 .4 1.3 .6 1.2-.1 1.2-.7 1.3 .3 1.3-.5 1.2-.1 1.2 1.4 1.3 .1 1.3-.4 1.2 .4 1.2-.1 1.3-.3 1.3-.2 1.2 .5 1.2-.3 1.3-.2 1.3 .6 1.2 0 1.2-.9 1.3 .1 1.3 1 1.2-.2 1.2-1.1 1.3 .3 1.3 1.1 1.2 1.3 1.2-.2 1.3-1.8 1.3-1 1.2 .2 1.2 .9 1.3 .2 1.3-.4 1.2-.8 1.2 .4 1.3 1.1 1.3-.2 1.2-.4 1.2-.8 1.3 0 1.3 .7 1.2 .2 1.2-.5 1.3-.2 1.3 .3 1.2 .6 1.2-.2 1.3-.4 1.3-.1 1.2 .1 1.2 .4 1.3-.1 1.3 0 1.2 .7 1.2-.9 1.3-.7 1.3 .1 1.2 .4 1.2 0 1.3-.3 1.3 .5 1.2 .4 1.2-.3 1.3 .5 1.3-.5 1.2-1.1 1.2 .3 1.3 0 1.3 .1 1.2 0 1.2 .2 1.3 0 1.3 .3 1.2 .4 1.2-.4 1.3-.2 1.3-.3 1.2-.3 1.2 .1 1.3 .8 1.3-.4 1.2-.4 1.2 .8 1.3 .6 1.3 .1 1.2 .2 1.2 0 1.3-3 1.3 1.9 1.2 .4 1.2 .2 1.3-1 1.3-1.1 1.2 .1 1.2 1.5 1.3-.1 1.3-1.9 1.2 2.5 1.2-.4 1.3-1.1 1.3 1.3 1.2-1.8 1.2 .7 1.3-.9 1.3 .2 1.2 1.7 1.2-.5 1.3-.3 1.3 1.2 1.2-1 1.2 .3 1.3 1.7 1.3-1 1.2-1.6 1.2 1.7 1.3-1.5 1.3 3.5 1.2-2.4 1.2 2.2 1.3-1.8 1.3-1.7 1.2-.6 1.2 2 1.3-1.7 1.3 1.6 1.2 0 1.2 1.5 1.3 .2 1.3-.7 1.2-.9 1.2-2.4 1.3 .2 1.3 .7 1.2 .2 1.2 .2 1.3-.4 1.3 3.1 1.2-1.1 1.2-.9 1.3 1.1 1.3-2.8 1.2 .7 1.2 1.4 1.3-.4 1.3 .2 1.2 0 1.2 .2 1.3 .1 1.3-.5 1.2-.9 1.2 2.4 1.3-1.3 1.3-.7 1.2 .9 1.2 0 1.3-1.6 1.3 1.3 1.2 .8 1.2-2.3 1.3 3.1 1.3-.7 1.2-.1 1.2-.7 1.3-1 1.3 3.2 1.2 .2 1.2-2.4 1.3 .9 1.3-1.3 1.2-1.6 1.2 .5 1.3-1.2 1.3 1.1 1.2 1.1 1.2 3.4 1.3-2.3 1.3-2.1 1.2 1.9 1.2-.4 1.3-1.2 1.3-.7 1.2 1 1.2 .6 1.3 .1 1.3 2.1 1.2-2.1 1.2 .8 1.3-.4 1.3 .9 1.2 .8 1.2-1.4 1.3-.9 1.3-.2 1.2 1.6 1.2-.5 1.3 .2 1.3-1.3 1.2-.8 1.2 1.2 1.3 .3 1.3-1.9 1.2 1.5 1.2 .6 1.3-1 1.3 1.5 1.2-.1 1.2-.8 1.3-1.6 1.3 2.1 1.2-1.2 1.2 .6 1.3-.7 1.3 .5 1.2 .6 1.2 .8 1.3 .6 1.3 .9 1.2-1.8 1.2-1.3 1.3 3 1.3-3.9 1.2 2.2 1.2-1 1.3-.9 1.3 3.6 1.2-1.5 1.2-.5 1.3-1.4 1.3-1.1 1.2-.5 1.2 2.7 1.3-1.1 1.3 1 1.2 .3 1.2-1.7 1.3 1.7 1.3 .9 1.2-1.9 1.2 .5 1.3 0 1.3 .8 1.2 2.9 1.2-3.2 1.3-2.5 1.3 1.8 1.2 .1 1.2 .1 1.3-1.4 1.3 .2 1.2 3.7 1.2-2.5 1.3-.6 1.3 2.6 1.2-1.4 1.2-1.6 1.3-.2 1.3 2.1 1.2-2.9 1.2 1.7 1.3 .4 1.3-.7 1.2-.3 1.2 .2 1.3 1.9 1.3-.2 1.2-.3 1.2-2.4 1.3 1.6 1.3 .3 1.2 .4 1.2 0 1.3-.2 1.3 1 1.2-.5 1.2-1.3 1.3 .1 1.3-1.7 1.2 .8 1.2 1.3 1.3-1 1.3 1.2 1.2 1.1 1.2 1 1.3-2.5 1.3-.7 1.2-.1 1.2 2.8 1.3-3.5 1.3-1.4 1.2 1.8 1.2 2.9 1.3-1.4 1.3-.2 1.2-1.2 1.2 2.1 1.3-2.4 1.3 2.2 1.2-2.6 1.2 1.8 1.3-.5 1.3 1.4 1.2 .7 1.2-2.8 1.3 1.3 1.3-.3 1.2 1.7 1.2-.4 1.3-1 1.3-.8 1.2 1.6 1.2-2.8 1.3 1.5 1.3-1.1 1.2 3.1 1.2-1.1 1.3-1.3 1.3-.5 1.2 1 1.2-2.1 1.3 2.8 1.3-1 1.2-.9 1.2 .6 1.3 .3 1.3-.8 1.2 1.3 1.2-1 1.3 2.7 1.3-.1 1.2-2.4 1.2-.2 1.3 1.7 1.3 .9 1.2-1.5 1.2 .2 1.3-1.8 1.3-.7 1.2 3.2 1.2-1.3 1.3-.7 1.3-.5 1.2-.4 1.2 0 1.3 3.6 1.3-1.2 1.2-.3 1.2 0 1.3 .9 1.3-.7 1.2 0 1.2-.7 1.3-.1 1.3 1.7 1.2 .3 1.2-.1 1.3-.3 1.3-.3 1.2-1.2 1.2-.3 1.3 .6 1.3 0 1.2 .1 1.2 .4 1.3 .2 1.3 0 1.2-.7 1.2-.5 1.3 0 1.3 .3 1.2-.1 1.2 .2 1.3-.3 1.3-.1 1.2 .6 1.2 .1 1.3 .1 1.3 .1 1.2-.4 1.2-.5 1.3 0 1.3 .6 1.2-.2 1.2-.6 1.3 .6 1.3-.1 1.2-.7 1.2 .5 1.3 0 1.3 .5 1.2 .4 1.2-.3 1.3 .7 1.3-.2 1.2-1.1 1.2-.1 1.3 .2 1.3-.3 1.2-.2 1.2 .5 1.3 .8 1.3-.1 1.2-.8 1.2 0 1.3 0 1.3 .5 1.2 .1 1.2 .4 1.3-.5 1.3-.3 1.2 .2 1.2 1.1 1.3 .1 1.3-.5 1.2-.8 1.2-.6 1.3 .4 1.3 .9 1.2-.2 1.2-.8 1.3 .2 1.3 .6 1.2-.5 1.2-.3 1.3 0 1.3 .3 1.2-.2 1.2-.1 1.3 .1 1.3-.1 1.2 0 1.2 .2 1.3 .3 1.3-.3 1.2-.1 1.2 .6 1.3 .1 1.3-.6 1.2-.1 1.2 .4 1.3-.4 1.3-.3 1.2 1.1 1.2-.3 1.3-.2 1.3 .1 1.2 0 1.2 0 1.3 .2 1.3 .1 1.2-.6 1.2-.3 1.3 .5 1.3-.2 1.2 0 1.2 .7 1.3 .1 1.3 0 1.2-.4 1.2-.3 1.3 .2 1.3-.7 1.2-.1 1.2 .9 1.3 0 1.3-.1 1.2 .8 1.2 .3 1.3-.7 1.3-.1 1.2-.2 1.2 .2 1.3 0 1.3-.1 1.2-.4 1.2-.3 1.3 .2 1.3 .2 1.2 .2 1.2-.8 1.3-.3 1.3 .2 1.2 .7 1.2 .4 1.3-.2 1.3 .3 1.2-.2 1.2-.1 1.3 .2 1.3 .2 1.2-.5 1.2 .4 1.3-.3 1.3 .2 1.2 .4 1.2-.8 1.3-.3 1.3-.7 1.2 .1 1.2 1.3 1.3 .5 1.3-.8 1.2-.5 1.2 0 1.3-.4 1.3 .6 1.2 .5 1.2-.1 1.3-.4 1.3-.1 1.2 .5 1.2-.1 1.3-.1 1.3 .3 1.2-.1 1.2-.3 1.3 0 1.3 0 1.2 .6 1.2 .4 1.3-.2 1.3-.5 1.2-.3"/>
<path d="M93.5 271l1.3-.7 1.2-1.2 1.2-.1 1.3 1 1.3 .1 1.2-1.1 1.2 .4 1.3 .1 1.3-.8 1.2 1.1 1.2 .7 1.3-.8 1.3 .7 1.2 .3 1.2-1 1.3 .5 1.3-.1 1.2-1 1.2 0 1.3 1.4 1.3-1 1.2-1 1.2-.1 1.3 1 1.3 .6 1.2-.2 1.2 .4 1.3-1 1.3 .9 1.2 .7 1.2-1 1.3-.8 1.3 .5 1.2 .6 1.2-1.1 1.3 .1 1.3 .5 1.2-.2 1.2-.7 1.3 .1 1.3 .3 1.2-.1 1.2-.1 1.3 .1 1.3 .1 1.2-.3 1.2-.2 1.3 1.6 1.3 .9 1.2-.7 1.2-.9 1.3 .1 1.3-.2 1.2-.5 1.2 .1 1.3 0 1.3-.1 1.2 .4 1.2 .7 1.3 .2 1.3 .1 1.2 .3 1.2-.1 1.3 .2 1.3 .1 1.2 .5 1.2-.5 1.3-1.2 1.3 .8 1.2-.6 1.2-.6 1.3 0 1.3 .6 1.2-.1 1.2 .1 1.3-.2 1.3-.2 1.2-.1 1.2 .6 1.3 .6 1.3 .3 1.2 0 1.2-.8 1.3-.5 1.3 .2 1.2-.9 1.2-1.5 1.3 .5 1.3 .7 1.2 1 1.2 .9 1.3-.1 1.3-.7 1.2-.2 1.2 .3 1.3 .8 1.3-1.2 1.2-.1 1.2 1.4 1.3-.5 1.3-1.6 1.2 .3 1.2 .8 1.3 0 1.3-.4 1.2-.3 1.2 .3 1.3 .1 1.3 1 1.2 .7 1.2-.9 1.3-.4 1.3-.8 1.2 .2 1.2 .4 1.3 .8 1.3-.3 1.2 .6 1.2-1 1.3-.3 1.3-.6 1.2-.5 1.2 .6 1.3 1.4 1.3 .4 1.2-.8 1.2-.3 1.3 .3 1.3 .9 1.2 .1 1.2-1.1 1.3-.7 1.3 1 1.2-.4 1.2-.1 1.3 1.1 1.3 1.1 1.2-.9 1.2 .5 1.3-.3 1.3 .4 1.2-.6 1.2-.5 1.3 1.4 1.3 .1 1.2-.6 1.2-.3 1.3-.5 1.3-.2 1.2-.2 1.2 0 1.3-.5 1.3-.5 1.2 1.1 1.2-.2 1.3-.2 1.3 .4 1.2 1.8 1.2-.7 1.3-1.1 1.3 0 1.2-.3 1.2 .9 1.3-2.3 1.3 .5 1.2 1.4 1.2-.7 1.3 1 1.3-.6 1.2 0 1.2-1.4 1.3 .6 1.3-1.2 1.2 2.4 1.2-.3 1.3 1 1.3-2.3 1.2 .5 1.2 1.3 1.3-2.7 1.3-.9 1.2 2.2 1.2 1.7 1.3-2.3 1.3-3.2 1.2 3.5 1.2 1.2 1.3-1.7 1.3 2.8 1.2 .4 1.2-3.2 1.3 .1 1.3 1.1 1.2 .1 1.2-.8 1.3 .4 1.3-2 1.2 2.4 1.2 1 1.3-3.4 1.3 1 1.2 .6 1.2-.5 1.3 2.5 1.3 1.8 1.2 .6 1.2-.6 1.3-2.8 1.3 1.1 1.2 .6 1.2-1.4 1.3-2.5 1.3-.4 1.2 3 1.2 1.1 1.3-.5 1.3 .1 1.2-1.2 1.2 .3 1.3-1.9 1.3 2.6 1.2-1.2 1.2-1.1 1.3 .8 1.3 1.1 1.2-1.9 1.2-1.6 1.3 1 1.3 .3 1.2 3.9 1.2-2.8 1.3 .3 1.3 1.5 1.2-.5 1.2-1 1.3-.5 1.3 1.4 1.2-.4 1.2-.5 1.3-.8 1.3 .4 1.2 .6 1.2-1 1.3 1.5 1.3 .3 1.2-1.1 1.2 .8 1.3-1.5 1.3 1.1 1.2 1.2 1.2-2.2 1.3-1.3 1.3 .4 1.2 1.2 1.2 .9 1.3-1.6 1.3 2.1 1.2-.7 1.2-2.2 1.3 1.9 1.3-1.7 1.2 2.5 1.2-.9 1.3 .9 1.3 1.9 1.2 .9 1.2-3.6 1.3-.5 1.3 .5 1.2 1 1.2 1.2 1.3-.5 1.3 .9 1.2-5.7 1.2 2.9 1.3-1.5 1.3 1.5 1.2-.9 1.2 3 1.3 0 1.3-.7 1.2-1.4 1.2 2 1.3 .7 1.3-3.8 1.2-.5 1.2 2.2 1.3-2 1.3 3.7 1.2-2.7 1.2-2.1 1.3 .1 1.3 1.2 1.2-.3 1.2 .6 1.3-1.4 1.3 2.9 1.2 .6 1.2-3.6 1.3 3 1.3-.3 1.2-.6 1.2 .4 1.3 1.8 1.3-1.7 1.2 1.8 1.2-.5 1.3-1.6 1.3 1 1.2 .2 1.2-.9 1.3-.1 1.3-1.2 1.2-.9 1.2 1.4 1.3 .8 1.3 .1 1.2 1.4 1.2-2.8 1.3 1 1.3 4.1 1.2-.3 1.2-1.7 1.3 1.3 1.3-2.4 1.2-3.4 1.2 2 1.3 .7 1.3 2.1 1.2-3.1 1.2 1 1.3-2.5 1.3 3.8 1.2 .5 1.2 .8 1.3-2.2 1.3 .8 1.2-1.7 1.2-1.4 1.3 .1 1.3 2.5 1.2-.7 1.2 .7 1.3-1.7 1.3 1.8 1.2-2.3 1.2 .3 1.3 2.9 1.3-3.1 1.2-.1 1.2-.2 1.3-.7 1.3 1 1.2 .1 1.2 2.7 1.3-3.4 1.3 1.7 1.2-1 1.2-.6 1.3 1.8 1.3 2.4 1.2-2.8 1.2 1 1.3 .7 1.3-4.2 1.2 .7 1.2 2.4 1.3 .4 1.3-2.1 1.2 2.1 1.2-.6 1.3 1.5 1.3-1.2 1.2 1.6 1.2-3.2 1.3-.4 1.3 1.5 1.2 3.7 1.2-2.2 1.3-2.8 1.3 1.8 1.2 .2 1.2 .4 1.3 1.7 1.3-2.3 1.2-.7 1.2 0 1.3 .1 1.3-.6 1.2-.3 1.2-2.2 1.3 1.2 1.3 .9 1.2 .3 1.2-1.2 1.3 2.7 1.3-2 1.2 .3 1.2 .2 1.3 1.9 1.3 .8 1.2-3.3 1.2 3.5 1.3-2.5 1.3 1.4 1.2-1.4 1.2-1.9 1.3-.6 1.3 1.6 1.2 .5 1.2 1.5 1.3-.9 1.3-1.2 1.2 2.3 1.2 0 1.3 .8 1.3-2.1 1.2-.7 1.2-.9 1.3 1.5 1.3 3 1.2 .2 1.2-4.4 1.3 3.5 1.3 1.1 1.2 .4 1.2-.9 1.3-1.4 1.3 .6 1.2 .7 1.2-.6 1.3 .5 1.3-1.1 1.2 .1 1.2-.5 1.3 1.5 1.3-1.2 1.2 .3 1.2 .3 1.3-.6 1.3-.3 1.2-1.3 1.2 .5 1.3 .2 1.3 0 1.2 1.1 1.2-.9 1.3 .8 1.3 .6 1.2 .2 1.2-1.4 1.3 .3 1.3 .9 1.2-1 1.2-.7 1.3 .6 1.3 0 1.2 .3 1.2-.7 1.3-1.1 1.3 .9 1.2 .5 1.2-.3 1.3 1.1 1.3-.7 1.2-.5 1.2 .8 1.3-1.3 1.3-1.4 1.2 .8 1.2 1.6 1.3-.1 1.3 .5 1.2-.3 1.2-1 1.3 .4 1.3 .4 1.2 .2 1.2 .8 1.3 .2 1.3-.7 1.2-.4 1.2-.3 1.3-.7 1.3 .4 1.2 .8 1.2-.5 1.3-1.4 1.3-.2 1.2 1.1 1.2 1.3 1.3 .1 1.3-.5 1.2-.5 1.2 0 1.3 .4 1.3 1.1 1.2-1 1.2-.9 1.3 .2 1.3 .6 1.2 .4 1.2 .3 1.3 .2 1.3-.7 1.2-.8 1.2 .1 1.3-.3 1.3 .8 1.2 .1 1.2-.5 1.3 1 1.3 .2 1.2 .2 1.2-.6 1.3 .3 1.3 0 1.2-.2 1.2-.4 1.3-1 1.3-1.2 1.2-.8 1.2 1.5 1.3 .8 1.3 1 1.2 0 1.2 .1 1.3-.2 1.3-.1 1.2 .3 1.2 .2 1.3 0 1.3-.3 1.2-.3 1.2 .3 1.3-1.6 1.3 .2 1.2 .9 1.2-.7 1.3 .3 1.3 1.1 1.2 .1 1.2-.4 1.3 .2 1.3-.2 1.2-.2 1.2-.6 1.3 .7 1.3-.9 1.2 .5 1.2-.7 1.3-.7 1.3 1.7 1.2 .8 1.2 .3 1.3 .4 1.3-1.4 1.2-1.6 1.2 1.3 1.3 .2 1.3-.7 1.2 .5 1.2 1.2 1.3-1.4 1.3-1.4 1.2 .6 1.2 1.6 1.3-.7 1.3-1 1.2 .3 1.2 .8 1.3-.4 1.3 0 1.2 .5 1.2-.1 1.3 .1 1.3 .5 1.2 0 1.2-.4 1.3-1.2 1.3 0 1.2-.2 1.2-.1 1.3 .1 1.3 .7 1.2 .3 1.2 .6 1.3-.5 1.3 .3 1.2 1.4 1.2 .5 1.3-.8 1.3-.9 1.2 .4 1.2 .3 1.3-.3 1.3-2.4 1.2 1.2 1.2 1.4 1.3-.2 1.3-1.3 1.2 .1"/>
<path d="M93.5 282.1l1.3-1.2 1.2-.5 1.2-.4 1.3 .1 1.3 .3 1.2 0 1.2 .1 1.3 .5 1.3 .2 1.2 .2 1.2 0 1.3-.9 1.3-1 1.2 0 1.2 .8 1.3 .1 1.3 .4 1.2-.3 1.2-.4 1.3-.7 1.3 1 1.2 .7 1.2 .4 1.3-.3 1.3-1.3 1.2-.4 1.2 1.2 1.3 .7 1.3-.1 1.2 0 1.2-1.1 1.3-.8 1.3 .9 1.2-.2 1.2 .1 1.3 .8 1.3-.1 1.2 .2 1.2-.7 1.3-.1 1.3 .7 1.2 1 1.2-.8 1.3-.8 1.3 0 1.2-.6 1.2-.1 1.3-.1 1.3 .2 1.2-.1 1.2 .6 1.3 0 1.3-.3 1.2 1 1.2 .2 1.3-1.4 1.3-.7 1.2-.3 1.2-.5 1.3 1.3 1.3 1.4 1.2 0 1.2 .4 1.3-.8 1.3-.8 1.2-.9 1.2-.1 1.3 .6 1.3-.3 1.2 .3 1.2 1 1.3 .4 1.3 .3 1.2-.6 1.2-.2 1.3 .2 1.3-.3 1.2-.4 1.2-.6 1.3 1 1.3-.4 1.2 .4 1.2 .1 1.3 .1 1.3 1.1 1.2-.5 1.2-.5 1.3 1.1 1.3 .8 1.2 .3 1.2-.7 1.3-.1 1.3-.5 1.2-.3 1.2-.9 1.3-.2 1.3 1.3 1.2 .1 1.2-.7 1.3-1.1 1.3 .8 1.2 .9 1.2 .2 1.3-.8 1.3 .7 1.2 .6 1.2-.6 1.3-.9 1.3-.6 1.2 0 1.2 .8 1.3 .4 1.3-.1 1.2-.2 1.2-.9 1.3-.1 1.3 .3 1.2 .1 1.2 .4 1.3-.3 1.3-.1 1.2 .9 1.2-.7 1.3-.6 1.3 .9 1.2-.2 1.2-.3 1.3-.2 1.3-.5 1.2 .1 1.2 .3 1.3 .4 1.3 .3 1.2-.6 1.2 .3 1.3 .4 1.3-.6 1.2-.8 1.2 .7 1.3 0 1.3 .9 1.2-.2 1.2-1.1 1.3 .8 1.3-.4 1.2-.4 1.2 1.5 1.3-.4 1.3-.4 1.2 .2 1.2-.5 1.3 0 1.3 .2 1.2-.2 1.2 .6 1.3 .6 1.3-1.3 1.2-1.1 1.2 .5 1.3 .9 1.3 1 1.2-.4 1.2-1 1.3-.3 1.3-.3 1.2 .9 1.2 1.1 1.3-.3 1.3-1.2 1.2-.3 1.2 .4 1.3 0 1.3 0 1.2 .2 1.2 .9 1.3 .4 1.3-.4 1.2-.7 1.2 0 1.3 .4 1.3-.7 1.2-.4 1.2 .5 1.3 0 1.3 .4 1.2-.3 1.2 .3 1.3-.2 1.3 1.4 1.2-1.9 1.2 1.8 1.3-1.8 1.3-1.9 1.2 1.1 1.2 1.5 1.3-1.9 1.3 4 1.2-4.5 1.2 1.1 1.3-3.3 1.3 3.5 1.2-2.2 1.2 5.2 1.3-5.8 1.3 .1 1.2 6.8 1.2 .1 1.3 0 1.3-2.5 1.2 5.6 1.2-5.5 1.3 1 1.3-3.1 1.2 .6 1.2-7.2 1.3 4.2 1.3 2 1.2-.5 1.2-.9 1.3 2 1.3 2.4 1.2-4 1.2 .9 1.3 7.5 1.3-3.1 1.2-3.6 1.2-3.4 1.3 1.3 1.3 1.4 1.2-.5 1.2-.2 1.3 2.6 1.3-3.7 1.2 3.7 1.2-3.2 1.3 5.7 1.3-.8 1.2-2.3 1.2-3.1 1.3 9.3 1.3-9.4 1.2 5.1 1.2-2.5 1.3-5.5 1.3 7.8 1.2 5.5 1.2-11.5 1.3 3.8 1.3-.5 1.2-1.9 1.2 6.2 1.3 .7 1.3 .2 1.2-3.5 1.2 2 1.3-1.4 1.3-1 1.2 3.8 1.2-.6 1.3-2 1.3 5 1.2-10 1.2-.6 1.3 5.5 1.3-3.1 1.2 0 1.2 5.8 1.3-2.8 1.3-2.1 1.2 2.2 1.2-6 1.3 3.2 1.3 .7 1.2 5.1 1.2-.6 1.3-2.8 1.3-5.3 1.2 8.3 1.2-2.3 1.3-1.6 1.3 2.3 1.2-.2 1.2 .7 1.3 2.2 1.3 4.3 1.2-3.5 1.2-7.3 1.3 6.5 1.3-8.1 1.2 8.3 1.2-3.6 1.3 3.4 1.3-1.3 1.2-4.4 1.2 3.5 1.3-2 1.3 7.7 1.2-2.9 1.2-7.9 1.3 1.4 1.3 3.3 1.2-.6 1.2-1 1.3 0 1.3-.9 1.2-1 1.2-.7 1.3-3.1 1.3 6.8 1.2 5.8 1.2-8.6 1.3-4.3 1.3-.6 1.2 6.1 1.2-.6 1.3-6.6 1.3 11.1 1.2-5.2 1.2 1.2 1.3 2.6 1.3-4.7 1.2 1.6 1.2 4.1 1.3-2.3 1.3-8.1 1.2 6.7 1.2 .6 1.3-4.3 1.3 3 1.2-.3 1.2-.6 1.3 1.4 1.3-1.7 1.2 4.8 1.2-3.3 1.3 2.3 1.3-7.7 1.2 2.5 1.2-1.3 1.3 2 1.3-.3 1.2 6.2 1.2 2.6 1.3-9.9 1.3 1.6 1.2 1.1 1.2 6.8 1.3-14 1.3 7.1 1.2 1.4 1.2 1.3 1.3-4.2 1.3 2.9 1.2 11.1 1.2-5.9 1.3-6.5 1.3 .2 1.2 5.5 1.2-4.3 1.3 2.4 1.3 6.8 1.2-11 1.2 3.5 1.3 .1 1.3-3.7 1.2 6.5 1.2-7.3 1.3-1.1 1.3 5.3 1.2-5.2 1.2-.2 1.3 9.3 1.3-2.7 1.2-3.5 1.2-.7 1.3 2.8 1.3 0 1.2-1.1 1.2-.7 1.3-.6 1.3 .1 1.2 .2 1.2-.1 1.3 .8 1.3-.3 1.2 0 1.2 1.1 1.3-.8 1.3-.2 1.2 .7 1.2-1.1 1.3 .2 1.3 .7 1.2 0 1.2-.1 1.3-.8 1.3-.4 1.2 .7 1.2 .7 1.3 .1 1.3-.4 1.2-.1 1.2 0 1.3-.4 1.3 1.1 1.2-1.2 1.2-.8 1.3 .6 1.3-.6 1.2 .6 1.2 0 1.3 .2 1.3 .7 1.2-.4 1.2-.3 1.3-.3 1.3 .3 1.2 .4 1.2-.7 1.3-.7 1.3 .7 1.2 .8 1.2 0 1.3 .1 1.3 .6 1.2 .6 1.2-.9 1.3-1.5 1.3-.3 1.2 .5 1.2-.1 1.3-.7 1.3 .3 1.2 1 1.2 .1 1.3-.1 1.3 .4 1.2-.4 1.2-.2 1.3 0 1.3 0 1.2 0 1.2 .1 1.3 .1 1.3 .1 1.2 .1 1.2-.1 1.3 .3 1.3 0 1.2 0 1.2-.1 1.3 .4 1.3 .2 1.2-.4 1.2 1 1.3-.2 1.3-.5 1.2-.1 1.2-.5 1.3-.3 1.3 .1 1.2 1.2 1.2-.7 1.3-.6 1.3 .6 1.2 .7 1.2-1.2 1.3-.1 1.3 .8 1.2-.3 1.2 .6 1.3-.9 1.3-.1 1.2 .2 1.2 .2 1.3 .3 1.3-.2 1.2-.2 1.2 .8 1.3-.8 1.3-.3 1.2-.5 1.2-.2 1.3-.8 1.3 .2 1.2 1.1 1.2 .2 1.3 .3 1.3-.3 1.2 0 1.2 .2 1.3-.3 1.3 .5 1.2-.3 1.2-.2 1.3 .7 1.3 .4 1.2-.1 1.2-.1 1.3-.9 1.3 0 1.2 .3 1.2 .7 1.3 .3 1.3-.5 1.2 .1 1.2-.1 1.3 .5 1.3-.1 1.2-.9 1.2 .2 1.3 .1 1.3-.1 1.2 1 1.2-1.1 1.3 .3 1.3 1 1.2 .1 1.2-.6 1.3-.4 1.3 .5 1.2-.7 1.2 0 1.3 .2 1.3 .4 1.2-.1 1.2-.6 1.3 .2 1.3 1 1.2 .2 1.2-.8 1.3-1 1.3 .4 1.2-.4 1.2 0 1.3-.7 1.3 .3 1.2 .5 1.2 .2 1.3-.5 1.3-.1 1.2 .7 1.2 .2 1.3 .7 1.3 .1 1.2-.9 1.2-1.1 1.3 .4 1.3 .1 1.2-.5 1.2 1.1 1.3 .3 1.3-.2 1.2-.2 1.2 0 1.3 0 1.3-.3 1.2 .3 1.2 .3 1.3 .4 1.3-.1 1.2-.5 1.2 .1 1.3 .1 1.3 .5 1.2 .5 1.2-.1 1.3 .6 1.3-1.4 1.2-.7 1.2 1.1 1.3 .6 1.3-.4 1.2-.8 1.2-.1 1.3 .4 1.3 .6 1.2-.7 1.2-.2 1.3-.3 1.3-.4 1.2-.1 1.2 .6 1.3 .5 1.3-.8 1.2-.3 1.2 .1 1.3 0 1.3 1 1.2-.4 1.2-.4 1.3 .5 1.3 0 1.2-.2 1.2-.1 1.3 0 1.3-.6 1.2 1 1.2-.1 1.3-.1 1.3-.4 1.2 1.1"/>
<path d="M93.5 289.9l1.3 .4 1.2 0 1.2-.3 1.3 .5 1.3 .4 1.2-.5 1.2 .1 1.3 .7 1.3 .2 1.2-.7 1.2 .6 1.3-1.1 1.3 .2 1.2 .3 1.2 .2 1.3 .1 1.3 .2 1.2-.3 1.2-.1 1.3-.3 1.3 1.1 1.2-.1 1.2-.7 1.3-1.1 1.3 .3 1.2 .2 1.2-.1 1.3 1.1 1.3 .2 1.2-.8 1.2 0 1.3-.9 1.3-.7 1.2 .8 1.2 .2 1.3 .6 1.3 .2 1.2-.6 1.2-.6 1.3 .3 1.3-.1 1.2 .8 1.2 .7 1.3-.1 1.3-.4 1.2 .3 1.2 .3 1.3-.4 1.3-.3 1.2-.4 1.2 .2 1.3-.9 1.3-.3 1.2 0 1.2 .1 1.3-.2 1.3 .9 1.2 1 1.2 .3 1.3-1.4 1.3-.4 1.2 .4 1.2 .3 1.3-.2 1.3 .4 1.2 .4 1.2-.9 1.3 .4 1.3 .2 1.2-.6 1.2-.5 1.3 1.1 1.3 .3 1.2 .3 1.2 .6 1.3 .2 1.3-1 1.2 0 1.2-.8 1.3-.7 1.3 .5 1.2 .5 1.2 .3 1.3-.1 1.3 .8 1.2 .4 1.2-.5 1.3-.5 1.3 .1 1.2 .1 1.2 .3 1.3-.1 1.3-.9 1.2-.5 1.2-.1 1.3 .4 1.3 1.1 1.2 1.3 1.2-1.2 1.3-.8 1.3 1.3 1.2 .3 1.2-.9 1.3 0 1.3-.1 1.2-.8 1.2 .3 1.3 .5 1.3 .2 1.2-.4 1.2-.8 1.3-.2 1.3 0 1.2 1.1 1.2-.7 1.3-.1 1.3 .1 1.2-.1 1.2 .9 1.3-.2 1.3-.4 1.2-.4 1.2 .2 1.3 .5 1.3 .7 1.2-.4 1.2-.5 1.3 0 1.3 .6 1.2-1.1 1.2-.8 1.3 .1 1.3 .3 1.2 .3 1.2 .6 1.3 .9 1.3-.4 1.2-.3 1.2 .1 1.3-.6 1.3 .2 1.2 .9 1.2-1.1 1.3-.6 1.3 1 1.2-.4 1.2-.1 1.3 .9 1.3-.6 1.2-.4 1.2 .5 1.3-.2 1.3-.3 1.2 0 1.2 .6 1.3-.7 1.3-.4 1.2 1.4 1.2-.9 1.3-1.1 1.3 .4 1.2 .3 1.2 .3 1.3 1 1.3 .6 1.2-.5 1.2-.7 1.3-.3 1.3 .3 1.2-.8 1.2 0 1.3 1 1.3 .8 1.2 .8 1.2-.8 1.3-1.1 1.3-.7 1.2 .8 1.2-.6 1.3 .1 1.3 .2 1.2-.2 1.2 0 1.3 .4 1.3 .2 1.2 1.1 1.2-.8 1.3-.3 1.3-1 1.2 1.8 1.2 1.7 1.3-.1 1.3-2.7 1.2-3.8 1.2 8.6 1.3 .3 1.3-10.2 1.2-4.2 1.2 8.3 1.3-3.9 1.3 .1 1.2 2.2 1.2 4.2 1.3-4.9 1.3 3.9 1.2 1.1 1.2-6 1.3 5.8 1.3 .2 1.2 .1 1.2-5.7 1.3 4.4 1.3-.7 1.2 .1 1.2 .1 1.3 0 1.3-.7 1.2 1.5 1.2 4.6 1.3-7.7 1.3 4.4 1.2 .1 1.2 2.9 1.3-.6 1.3 .2 1.2-3 1.2 1.5 1.3-1.6 1.3 7.5 1.2-10.4 1.2-1.7 1.3 9.9 1.3 .4 1.2-11 1.2 5.5 1.3 9.4 1.3-13.8 1.2 8.7 1.2-8.3 1.3-4.5 1.3 5 1.2 3.7 1.2 3 1.3 3 1.3-6.3 1.2 1.7 1.2 2.4 1.3-5.3 1.3 1.8 1.2 1.8 1.2-5.6 1.3 7.5 1.3-5 1.2 2.3 1.2-.9 1.3 .8 1.3-7.4 1.2-1.2 1.2 10.7 1.3-6.3 1.3 .5 1.2 2.3 1.2-4.4 1.3-1.8 1.3 13 1.2-8.1 1.2-1.9 1.3 4.3 1.3 3.8 1.2-4.3 1.2 3.7 1.3-6.3 1.3-3.8 1.2-3.9 1.2 8.7 1.3-2.6 1.3 .8 1.2 .2 1.2-3.7 1.3 7.7 1.3-4.1 1.2-4.5 1.2 3.3 1.3 8.5 1.3-4.2 1.2-4.7 1.2 2.8 1.3 1.5 1.3-.2 1.2 1.3 1.2-5.6 1.3 5.9 1.3-3.8 1.2-.4 1.2-4.3 1.3-2.6 1.3 9.8 1.2 3.3 1.2-4.9 1.3-5.6 1.3 4.6 1.2 1.7 1.2-7.8 1.3 4.7 1.3 1 1.2-7.5 1.2 10 1.3-1.1 1.3-3.7 1.2 4.3 1.2-.7 1.3-.6 1.3 3 1.2-.4 1.2-7.3 1.3 5.1 1.3 7.6 1.2-6.8 1.2 3.5 1.3-.2 1.3-9.1 1.2 2.2 1.2 1.5 1.3 1.3 1.3 5.3 1.2-2.6 1.2-3.9 1.3 .3 1.3 9 1.2-4.9 1.2-2.6 1.3-3.3 1.3 5.3 1.2-1.6 1.2 6.7 1.3-2.8 1.3-5.8 1.2-.6 1.2 1.5 1.3 1.3 1.3 4.9 1.2-2.5 1.2-2.4 1.3 .3 1.3 1.1 1.2-3.2 1.2 3 1.3-.6 1.3-1.3 1.2-.2 1.2 .1 1.3 .9 1.3-.4 1.2-1.4 1.2-1.1 1.3 1 1.3 1 1.2 .6 1.2-.4 1.3-.9 1.3 .2 1.2 0 1.2-.6 1.3 .5 1.3 .6 1.2 .3 1.2-.6 1.3 .6 1.3-.4 1.2-.3 1.2-.8 1.3-.7 1.3 .1 1.2 1.3 1.2 1.2 1.3 .1 1.3-2 1.2 .2 1.2 .6 1.3-.2 1.3 .4 1.2-.2 1.2 .5 1.3 .2 1.3-.6 1.2-.6 1.2-.4 1.3 .1 1.3-.7 1.2 .7 1.2 .7 1.3 .6 1.3-.5 1.2-.4 1.2 .8 1.3 0 1.3-.2 1.2-.9 1.2-.3 1.3 .9 1.3-.1 1.2 .2 1.2 .6 1.3-.9 1.3 .2 1.2 .1 1.2 .3 1.3-.3 1.3 .5 1.2-1.1 1.2-.5 1.3 1.1 1.3 .5 1.2-.8 1.2 .6 1.3-.1 1.3-.9 1.2 1.2 1.2 .4 1.3-.4 1.3 .1 1.2 0 1.2-.9 1.3 1.3 1.3-.1 1.2-.8 1.2-.1 1.3 .7 1.3 .1 1.2-.2 1.2 0 1.3-.1 1.3 .5 1.2-.4 1.2-.9 1.3 0 1.3-.4 1.2-.1 1.2 .3 1.3 .5 1.3 .2 1.2-.1 1.2-1.6 1.3 .5 1.3 1.6 1.2-.7 1.2 .7 1.3 .6 1.3-.3 1.2 .1 1.2 .1 1.3-.3 1.3-1.7 1.2-.1 1.2-.1 1.3 .7 1.3 .5 1.2 .5 1.2 1.6 1.3-.2 1.3-.6 1.2-1.2 1.2-1.5 1.3 .3 1.3 0 1.2 0 1.2 .6 1.3 .9 1.3 1 1.2-.4 1.2-.2 1.3-.3 1.3-.3 1.2 .4 1.2-.5 1.3-.3 1.3 .1 1.2 .1 1.2-1.1 1.3 .8 1.3 .2 1.2-1 1.2 0 1.3 .7 1.3 .5 1.2 .2 1.2-.2 1.3-.3 1.3 .1 1.2-.4 1.2 .5 1.3-.4 1.3-.2 1.2 .2 1.2-.4 1.3 .2 1.3 .8 1.2 0 1.2-.8 1.3-1 1.3 .2 1.2 1.4 1.2-.2 1.3-.6 1.3 .1 1.2-.1 1.2 .8 1.3 .4 1.3-.2 1.2 0 1.2 .4 1.3 1.5 1.3-.5 1.2-.9 1.2-.5 1.3-.9 1.3 .6 1.2 .3 1.2-.7 1.3-.2 1.3 1.4 1.2-.1 1.2-.4 1.3-.4 1.3-.6 1.2 .1 1.2 0 1.3 .1 1.3 1 1.2 .5 1.2-.5 1.3-.1 1.3 .1 1.2 0 1.2-.2 1.3-.3 1.3-.4 1.2-.2 1.2 .5 1.3 .5 1.3 0 1.2-.2 1.2-.2 1.3-.4 1.3-.2 1.2 .5 1.2 0 1.3 .7 1.3-.9 1.2-.2 1.2 .6 1.3-.6 1.3 0 1.2 .2 1.2-.2 1.3 .1 1.3 .6 1.2-.2 1.2 .5 1.3-.4 1.3-.2 1.2 .6 1.2-.9 1.3 .1 1.3 .8 1.2 .1 1.2-.1 1.3-.7 1.3-1.1 1.2-.2 1.2 1.4 1.3 .7 1.3 0 1.2-.3 1.2-.3 1.3-.6 1.3-.3 1.2 1.2 1.2 .3 1.3 .8 1.3-.5 1.2-.2 1.2-.1 1.3-.9 1.3-.6 1.2-1.8 1.2-1.3 1.3 1.7 1.3 2.6 1.2 .6 1.2-1.3 1.3 .3 1.3 0 1.2-.3 1.2 1.1 1.3-.1 1.3 .4 1.2-.9 1.2-.1 1.3 .9 1.3 0 1.2-.5"/>
<path d="M93.5 300.6l1.3 .8 1.2 .7 1.2 .2 1.3 0 1.3-1 1.2-.3 1.2-.2 1.3-.5 1.3-.5 1.2 .9 1.2 0 1.3-.3 1.3 0 1.2 .2 1.2-.3 1.3 .7 1.3 .4 1.2 .5 1.2-.7 1.3-.1 1.3 .1 1.2 .1 1.2-.7 1.3-.8 1.3-.4 1.2 1.1 1.2 0 1.3-.3 1.3 0 1.2 .9 1.2 .3 1.3-.3 1.3 .1 1.2-.2 1.2 .1 1.3-.6 1.3-.6 1.2 .2 1.2-.1 1.3-.2 1.3 .1 1.2 .6 1.2 1.1 1.3-.3 1.3-1.2 1.2 .6 1.2-.1 1.3-.4 1.3 1.1 1.2 .8 1.2-.7 1.3-1.1 1.3-.4 1.2-.2 1.2-.6 1.3 .8 1.3 2.1 1.2 .3 1.2-.7 1.3 .2 1.3-.7 1.2 .8 1.2-.4 1.3-.2 1.3-1 1.2-.8 1.2 1.3 1.3 1.5 1.3-.5 1.2-.4 1.2-.8 1.3-.6 1.3 1 1.2 .8 1.2 .5 1.3 .2 1.3-.4 1.2-.9 1.2-.7 1.3 .2 1.3 .3 1.2-.3 1.2 0 1.3-.3 1.3 1.1 1.2 .3 1.2-.8 1.3-.3 1.3-.6 1.2 .5 1.2-.1 1.3-.4 1.3-.6 1.2 .4 1.2 1.7 1.3 1.2 1.3 .5 1.2-.3 1.2-1.2 1.3-.9 1.3-1.1 1.2 .3 1.2-.1 1.3 .7 1.3 .9 1.2-.4 1.2-1.1 1.3-.2 1.3 0 1.2-.4 1.2 .6 1.3 .2 1.3 .2 1.2 .6 1.2 .3 1.3-.4 1.3-.2 1.2 0 1.2-.3 1.3-.1 1.3-.6 1.2 0 1.2 .5 1.3-.6 1.3 .8 1.2 1.1 1.2 0 1.3-.7 1.3-.5 1.2 .1 1.2-.9 1.3-.3 1.3 1.3 1.2 .2 1.2 0 1.3-.4 1.3 .9 1.2-.6 1.2 .1 1.3-.1 1.3 0 1.2 .5 1.2-.3 1.3-1.2 1.3 .2 1.2 .1 1.2 0 1.3 .8 1.3-.2 1.2 .5 1.2 .8 1.3-.4 1.3-.5 1.2 .4 1.2-.1 1.3-.8 1.3 .2 1.2 .7 1.2 .3 1.3-1.1 1.3-.6 1.2 .3 1.2 .1 1.3 0 1.3-.6 1.2-.1 1.2 .1 1.3 0 1.3 .2 1.2-.7 1.2 .3 1.3 .7 1.3-.3 1.2 .5 1.2 .3 1.3 0 1.3 0 1.2-.5 1.2 .1 1.3-.5 1.3-.2 1.2 1.8 1.2-.6 1.3-.9 1.3 .9 1.2 .2 1.2-1.5 1.3 0 1.3 .7 1.2 .3 1.2 1.2 1.3-2.4 1.3 .5 1.2 4.4 1.2-.1 1.3-6.1 1.3 1.2 1.2 3 1.2-4 1.3 3.1 1.3-.3 1.2-2.3 1.2-2.1 1.3-3.5 1.3 1.8 1.2 5 1.2 3.2 1.3-3 1.3-.4 1.2-5.4 1.2 2.4 1.3 4.7 1.3 1.6 1.2-6.2 1.2-.7 1.3 4.5 1.3 4.5 1.2-2.8 1.2-1.4 1.3 3.8 1.3 1.7 1.2-2 1.2-6.8 1.3 6.8 1.3-5.2 1.2 5.1 1.2 2.5 1.3-1.7 1.3-6.5 1.2-2.5 1.2 6.8 1.3 3.6 1.3-12.5 1.2 1.9 1.2-.8 1.3 7.8 1.3-5.2 1.2 5.8 1.2-6.5 1.3 4.6 1.3 2.4 1.2 1.1 1.2-6.8 1.3 5.4 1.3 1.4 1.2-2.9 1.2 .3 1.3 1.3 1.3-8.2 1.2 .1 1.2 1.1 1.3 9.6 1.3 .4 1.2-.9 1.2-4.5 1.3-1.2 1.3-2.7 1.2 3.3 1.2-7.6 1.3 6.3 1.3-4.1 1.2 6.9 1.2 2.3 1.3-4.6 1.3-.9 1.2 1.1 1.2-1.4 1.3-.4 1.3 1.3 1.2 1.9 1.2-3.7 1.3 5.4 1.3-1.4 1.2 .3 1.2 4.8 1.3-5.2 1.3 2.3 1.2-2.1 1.2-.4 1.3-1.4 1.3-4.8 1.2 .4 1.2 2.2 1.3-1.5 1.3 8.3 1.2-7.6 1.2-2.8 1.3 7.6 1.3-4.5 1.2 5.6 1.2-.6 1.3-1.6 1.3-.1 1.2 .5 1.2 4.5 1.3-1.8 1.3-4.2 1.2 1.1 1.2 .4 1.3 6.8 1.3-5.1 1.2-7.6 1.2 .3 1.3 4.8 1.3 4.1 1.2-3.3 1.2-4.8 1.3 3.5 1.3-1.3 1.2 6.2 1.2-4 1.3-.8 1.3 2.8 1.2-.7 1.2-5.6 1.3 4.6 1.3 .8 1.2-.1 1.2-.7 1.3 3.5 1.3-2.4 1.2-6.9 1.2 4.9 1.3-2.5 1.3 2.2 1.2 1.4 1.2-2.5 1.3-1.6 1.3 .2 1.2 4.1 1.2-1.2 1.3-2.5 1.3 2.4 1.2-7.2 1.2 10.8 1.3 .2 1.3 .7 1.2-5.3 1.2 .3 1.3-3.1 1.3 6 1.2 1.7 1.2-.2 1.3-2.8 1.3-4.4 1.2 4.4 1.2-1.7 1.3 1.6 1.3-.5 1.2-1.7 1.2 .8 1.3 1.4 1.3-.1 1.2-.5 1.2-.2 1.3 .8 1.3-.6 1.2-.3 1.2 .2 1.3 .2 1.3-.3 1.2-.1 1.2 .7 1.3-.2 1.3 0 1.2 .8 1.2-.7 1.3 .3 1.3-.3 1.2-.8 1.2 .1 1.3 .5 1.3 .4 1.2 .1 1.2-.5 1.3-.7 1.3-.2 1.2 .4 1.2 0 1.3-.2 1.3 .5 1.2 0 1.2-.2 1.3 0 1.3-.1 1.2 .4 1.2-.2 1.3-.8 1.3 1 1.2-.2 1.2 .2 1.3 .4 1.3-.2 1.2 .6 1.2 0 1.3-.4 1.3 1 1.2 .1 1.2-.7 1.3-.4 1.3-.1 1.2 .6 1.2-.7 1.3 0 1.3 .2 1.2 .5 1.2-.6 1.3-1.5 1.3 .6 1.2 .4 1.2-.7 1.3 .8 1.3 2 1.2-.9 1.2-.8 1.3 .5 1.3-.1 1.2-.5 1.2 .3 1.3 .3 1.3 .2 1.2-.3 1.2-.4 1.3-.4 1.3-.3 1.2 1 1.2 1.2 1.3-.5 1.3-1 1.2 .5 1.2-.2 1.3-1 1.3-.3 1.2 1.4 1.2-.9 1.3 .1 1.3 .8 1.2 1.1 1.2-.4 1.3-.8 1.3 .3 1.2-1.5 1.2 .2 1.3 .9 1.3 .7 1.2-1 1.2-.9 1.3 .1 1.3 .1 1.2 .2 1.2-.1 1.3-.5 1.3-.1 1.2 1.4 1.2 0 1.3-.3 1.3 .9 1.2 .6 1.2-.7 1.3-.4 1.3-1 1.2-.6 1.2-.1 1.3 0 1.3 .4 1.2 1.1 1.2 .5 1.3-1 1.3-1 1.2 .4 1.2-.1 1.3 .1 1.3 .7 1.2 .8 1.2-.6 1.3-.5 1.3 .6 1.2 .4 1.2 .6 1.3 .2 1.3-.3 1.2-.3 1.2-1.5 1.3-.2 1.3 1.1 1.2-.5 1.2 0 1.3 .4 1.3-.5 1.2-.7 1.2 .6 1.3 .3 1.3 .5 1.2 .4 1.2 .8 1.3-.9 1.3-.4 1.2 .9 1.2-.2 1.3 .1 1.3-1 1.2-.2 1.2 .3 1.3 .8 1.3-.7 1.2 0 1.2 .4 1.3-1 1.3-.4 1.2 1.1 1.2 .5 1.3-.9 1.3-.7 1.2 1.3 1.2 .6 1.3-.3 1.3 .2 1.2-.2 1.2 .4 1.3-.4 1.3-1.5 1.2 .4 1.2 .8 1.3-.2 1.3-.9 1.2 .5 1.2-.3 1.3-.1 1.3 0 1.2 .5 1.2 .9 1.3 .2 1.3-.6 1.2-.4 1.2-.5 1.3 .8 1.3 .6 1.2-.9 1.2-.7 1.3 1.3 1.3-.2 1.2-1 1.2-.5 1.3 .4 1.3-.1 1.2 .7 1.2 .1 1.3 .4 1.3 .6 1.2-.3 1.2 .2 1.3-1.9 1.3-.8 1.2 .9 1.2 1.3 1.3 0 1.3-.6 1.2-.4 1.2 .8 1.3 .3 1.3-.6 1.2-.4 1.2 .4 1.3-.4 1.3 .5 1.2 .6 1.2 0 1.3-.1 1.3-.5 1.2 .1 1.2 .1 1.3-.5 1.3 .2 1.2-.3 1.2-.6 1.3 .1 1.3 .7 1.2 .3 1.2 .8 1.3 1.3 1.3-.9 1.2-.9 1.2-.8 1.3-.3 1.3 1 1.2 .6 1.2 0 1.3-1 1.3-.1 1.2 .3 1.2-.6 1.3-.1 1.3 .7 1.2 .4 1.2 0 1.3 .1 1.3 1.2 1.2-.3 1.2-1.1 1.3-.8 1.3 .2 1.2 1"/>
<path d="M93.5 311l1.3-.1 1.2 .7 1.2 .2 1.3-.2 1.3-.5 1.2 .4 1.2 .2 1.3-.2 1.3-.6 1.2-1 1.2 .8 1.3 .4 1.3 0 1.2 .4 1.2 0 1.3-.5 1.3-.2 1.2 .7 1.2 0 1.3-.2 1.3 1.1 1.2 .1 1.2-1.3 1.3-1 1.3 .6 1.2-.3 1.2 1 1.3 .9 1.3-1.8 1.2 0 1.2 1 1.3-.2 1.3-.9 1.2 .1 1.2-.3 1.3 .2 1.3 .7 1.2 0 1.2-.9 1.3-.6 1.3 1.3 1.2 1.1 1.2-.4 1.3 .3 1.3-.6 1.2-.4 1.2 .3 1.3 .2 1.3-.2 1.2-.7 1.2-.1 1.3 .5 1.3 .7 1.2 1 1.2 .3 1.3-1.1 1.3-.4 1.2 .9 1.2-.7 1.3-.6 1.3-.4 1.2 0 1.2 .1 1.3-.6 1.3 .9 1.2 1 1.2-.4 1.3-.6 1.3-.4 1.2 .3 1.2 .5 1.3 .7 1.3-.2 1.2-.2 1.2 .7 1.3-1 1.3-.2 1.2 .4 1.2-.5 1.3-.6 1.3-.2 1.2 .1 1.2 .9 1.3 .4 1.3 .6 1.2 .2 1.2-1.3 1.3 0 1.3 .7 1.2-.9 1.2-.1 1.3 1.2 1.3 1.4 1.2-1.4 1.2-.8 1.3-.5 1.3 .5 1.2 .3 1.2-.8 1.3-.4 1.3-.3 1.2 .6 1.2 1.3 1.3-.5 1.3-.3 1.2 .8 1.2 .1 1.3-.3 1.3-.5 1.2 .1 1.2-.9 1.3-.3 1.3 0 1.2 .5 1.2 .3 1.3 .8 1.3-.2 1.2-.7 1.2-.3 1.3-.3 1.3 .1 1.2 .7 1.2 .8 1.3-1.2 1.3 .4 1.2-.2 1.2 .5 1.3-.8 1.3-.2 1.2 .7 1.2 .4 1.3 .3 1.3-.4 1.2-.2 1.2 .4 1.3 .6 1.3 .5 1.2-1 1.2-.9 1.3-.6 1.3 1.4 1.2 .6 1.2-.7 1.3-.6 1.3-.9 1.2 0 1.2 .6 1.3 .1 1.3 0 1.2-.5 1.2 .4 1.3 1.6 1.3-.7 1.2-.7 1.2 1.1 1.3 .2 1.3-.9 1.2 .5 1.2-.1 1.3-.9 1.3-.3 1.2 .9 1.2-.5 1.3 .3 1.3 .5 1.2-.3 1.2 .2 1.3-.4 1.3-1.1 1.2 .5 1.2 .3 1.3 .3 1.3 .8 1.2-1.2 1.2-.1 1.3 .6 1.3 .1 1.2-.4 1.2-.1 1.3-.2 1.3-.3 1.2 .8 1.2 1.4 1.3 .2 1.3-2.4 1.2 2.4 1.2-5.6 1.3 1.7 1.3 .9 1.2 2.2 1.2-1.7 1.3-2.4 1.3 2.5 1.2-1.9 1.2 .2 1.3-1.4 1.3 5.9 1.2 4.1 1.2-6.7 1.3 1.8 1.3 1.4 1.2-1.2 1.2-.5 1.3-3.8 1.3 .5 1.2 3.6 1.2-.6 1.3-2.4 1.3 4 1.2-4.1 1.2 1.1 1.3 1.3 1.3-2.7 1.2 1.4 1.2 5 1.3-3.8 1.3 2.8 1.2 .1 1.2 2.7 1.3-7.6 1.3 2 1.2 2.5 1.2-3.1 1.3-1.9 1.3 .7 1.2 2 1.2-1.5 1.3-1.1 1.3-.1 1.2 2.6 1.2-1.5 1.3-.8 1.3 .5 1.2 .6 1.2 1.5 1.3-1.4 1.3 1.8 1.2-2.7 1.2 3.5 1.3-2.5 1.3 .8 1.2 0 1.2-.4 1.3 2.4 1.3 .4 1.2-5.5 1.2 1 1.3 1.6 1.3-2.7 1.2 1 1.2 3.2 1.3-1.4 1.3 .4 1.2 .8 1.2 .1 1.3-2.3 1.3-.4 1.2 1.3 1.2 .4 1.3 2.7 1.3-.6 1.2-2.5 1.2 .3 1.3 .3 1.3 0 1.2-.8 1.2 2.3 1.3-.8 1.3 1.3 1.2-6.2 1.2 2.7 1.3 2.9 1.3-1.1 1.2-1.7 1.2-3.2 1.3 1.7 1.3 4.2 1.2-2.8 1.2-.3 1.3 1.2 1.3 3 1.2 0 1.2-6.8 1.3 3 1.3 3.1 1.2 0 1.2-.5 1.3-.2 1.3 .4 1.2-.1 1.2-5.1 1.3-.6 1.3 4.6 1.2 4.1 1.2-1.4 1.3-4 1.3-1.9 1.2 4.5 1.2-1.6 1.3-1.7 1.3-1.5 1.2 2.8 1.2 1.3 1.3 1.5 1.3-4.3 1.2 1 1.2 2.3 1.3 1.6 1.3-6.1 1.2 6.5 1.2-2.4 1.3 .4 1.3-.3 1.2-.6 1.2-2.3 1.3 2.1 1.3 1.3 1.2-2.8 1.2 3.7 1.3-4.2 1.3 .5 1.2 1.8 1.2-1.8 1.3-.8 1.3-1.8 1.2 1.6 1.2 4 1.3-.5 1.3-.2 1.2 .5 1.2-.5 1.3 1.5 1.3-.9 1.2-2.5 1.2-.1 1.3-.8 1.3-.2 1.2 1 1.2 1.1 1.3-1.6 1.3 3.5 1.2-2.7 1.2-.2 1.3-2.2 1.3 1.4 1.2 2.5 1.2-4.2 1.3 3 1.3-1 1.2-.4 1.2 0 1.3-.2 1.3 3 1.2 1.4 1.2-1.4 1.3 1.7 1.3-5.3 1.2 .4 1.2 1.3 1.3 1.5 1.3 1.4 1.2-4.8 1.2 1.1 1.3 2.8 1.3 .4 1.2-3.4 1.2 1.1 1.3 1.2 1.3-1 1.2 0 1.2 2 1.3-4.1 1.3 .7 1.2 1.2 1.2 3.1 1.3-4.2 1.3 1.6 1.2-2.2 1.2 1.1 1.3 3.1 1.3-1.9 1.2-.1 1.2 .3 1.3-.9 1.3 .1 1.2 .3 1.2-.5 1.3-.1 1.3 .9 1.2 1 1.2 .4 1.3-.2 1.3-.3 1.2-.6 1.2-.8 1.3 .1 1.3 .2 1.2-.4 1.2 0 1.3-.6 1.3 .8 1.2 .3 1.2 .4 1.3-.6 1.3-.3 1.2 0 1.2-.3 1.3-.7 1.3 .2 1.2 1.1 1.2 .5 1.3-.3 1.3-.4 1.2-.3 1.2 1.1 1.3 .2 1.3-.5 1.2 .3 1.2 .1 1.3-.3 1.3-1 1.2 .5 1.2 .5 1.3-.6 1.3-.4 1.2 0 1.2 .6 1.3 .4 1.3 .4 1.2-.2 1.2 .5 1.3-.7 1.3-.9 1.2 .4 1.2 1.2 1.3-.5 1.3-.4 1.2-.2 1.2-.5 1.3-.6 1.3 .3 1.2 .3 1.2 .8 1.3-.9 1.3 0 1.2 1.2 1.2 .6 1.3 .2 1.3-.9 1.2-.9 1.2-.5 1.3 1.1 1.3 .4 1.2-.5 1.2-.6 1.3 .4 1.3 .4 1.2 .3 1.2-.5 1.3 .3 1.3 .4 1.2-.2 1.2-.1 1.3-.4 1.3-.6 1.2-.7 1.2-.3 1.3 1 1.3-.1 1.2 0 1.2 .8 1.3-.1 1.3-.6 1.2-.9 1.2 .7 1.3 1.6 1.3 .7 1.2-.9 1.2 .3 1.3 .1 1.3-.2 1.2-.5 1.2-.5 1.3-1 1.3 .5 1.2 .4 1.2 .8 1.3-.8 1.3 .5 1.2 0 1.2-.3 1.3-.3 1.3 .3 1.2-.2 1.2 .2 1.3-.3 1.3-.9 1.2 .1 1.2 1.3 1.3-.1 1.3-.1 1.2-.1 1.2-.8 1.3 1 1.3 .2 1.2-.6 1.2 0 1.3 1 1.3 .2 1.2-.9 1.2-.4 1.3 .9 1.3 .1 1.2 .2 1.2 .1 1.3-.3 1.3 .2 1.2-.8 1.2-.6 1.3 .1 1.3-.3 1.2 .1 1.2 .7 1.3 .2 1.3-.4 1.2 .3 1.2 .3 1.3 0 1.3-1.5 1.2-.4 1.2-.3 1.3 1.1 1.3 .3 1.2 .6 1.2 1.4 1.3-.9 1.3-1.3 1.2 .1 1.2 0 1.3 .3 1.3 .2 1.2 .4 1.2 .5 1.3 .7 1.3-.3 1.2-1.4 1.2 .5 1.3 .1 1.3-.8 1.2-.3 1.2 .2 1.3 0 1.3 .4 1.2 .2 1.2-1.3 1.3 .5 1.3 1.4 1.2 .3 1.2-.9 1.3-1.7 1.3 1.8 1.2 .9 1.2-1.9 1.3-.1 1.3 .3 1.2-.3 1.2 .4 1.3 .1 1.3 .4 1.2-.2 1.2 .4 1.3-1.1 1.3 .1 1.2 .1 1.2 0 1.3 .4 1.3 .3 1.2 .2 1.2-.2 1.3-.3 1.3 .1 1.2 .6 1.2 0 1.3-.4 1.3 .4 1.2-1.1 1.2 .4 1.3-.3 1.3-.9 1.2-.2 1.2 2.4 1.3 1.9 1.3 .3 1.2 0 1.2-.6 1.3-.6 1.3-1.4 1.2-.1 1.2 0 1.3-.5 1.3 .4 1.2 .8"/>
<path d="M93.5 319.6l1.3 .2 1.2 .4 1.2 .3 1.3 .8 1.3-.1 1.2 .2 1.2 .3 1.3-.4 1.3-.8 1.2 .2 1.2 .5 1.3-.6 1.3-.3 1.2 1.3 1.2 .3 1.3-.4 1.3-.9 1.2 .7 1.2 .4 1.3 .3 1.3-.6 1.2-.3 1.2 .5 1.3 .3 1.3-.8 1.2-2.3 1.2-.7 1.3 1 1.3 2.3 1.2 .2 1.2 .7 1.3-.1 1.3-.1 1.2 .2 1.2 .1 1.3-1.4 1.3 .1 1.2 .6 1.2 .2 1.3-.2 1.3-1 1.2 .4 1.2 .2 1.3-.8 1.3-.3 1.2 .3 1.2 .8 1.3 .2 1.3-.3 1.2-1 1.2-.2 1.3 .1 1.3 .6 1.2 .3 1.2 .2 1.3 .7 1.3-.7 1.2 .1 1.2 .1 1.3 .2 1.3-.6 1.2-.6 1.2 .7 1.3 1.1 1.3-.2 1.2-.5 1.2-.2 1.3-.7 1.3-1.1 1.2 1.3 1.2 .7 1.3 .1 1.3-.4 1.2 .3 1.2 .5 1.3 .1 1.3-.7 1.2 .2 1.2-.2 1.3 .4 1.3-.3 1.2 .2 1.2 .8 1.3 .2 1.3-.9 1.2-.1 1.2-.6 1.3-.5 1.3 0 1.2 .6 1.2 .2 1.3 .3 1.3-.7 1.2-.2 1.2 .2 1.3 .5 1.3-.1 1.2 .5 1.2-.7 1.3-.5 1.3 0 1.2 .5 1.2-.2 1.3 .7 1.3-.9 1.2-.3 1.2 0 1.3-.4 1.3 .9 1.2 1.2 1.2-.9 1.3-.3 1.3 .4 1.2 .3 1.2 .1 1.3-.5 1.3 .3 1.2 .3 1.2-.4 1.3 .2 1.3 .5 1.2-.3 1.2-.1 1.3-.3 1.3 0 1.2 .6 1.2-1.1 1.3 .2 1.3 .5 1.2 .8 1.2-.2 1.3-.3 1.3-.6 1.2 0 1.2 .6 1.3 .3 1.3-.5 1.2 .3 1.2-.1 1.3-1 1.3-.1 1.2-.3 1.2 .4 1.3 .3 1.3 .1 1.2 .2 1.2-.1 1.3-.6 1.3 .7 1.2-.1 1.2-.8 1.3-.7 1.3 .2 1.2 1.1 1.2-.1 1.3 .2 1.3 .5 1.2 0 1.2 .6 1.3-.1 1.3-.7 1.2-.7 1.2 .6 1.3-.1 1.3 1.3 1.2-.9 1.2-.3 1.3-.1 1.3 .3 1.2 .4 1.2 0 1.3 0 1.3 .2 1.2-.3 1.2-1.1 1.3 .1 1.3-.3 1.2 1.1 1.2 .3 1.3-1 1.3 1.6 1.2 1 1.2-2.6 1.3-1.6 1.3 .3 1.2 4 1.2-2.1 1.3-.6 1.3-.8 1.2 1.5 1.2-1.5 1.3 .7 1.3 1.3 1.2-1.4 1.2-1.3 1.3 1.5 1.3-1.2 1.2 2.9 1.2-1.4 1.3-.6 1.3 1 1.2-.4 1.2-.6 1.3 .9 1.3 .6 1.2-.5 1.2 2.1 1.3-.3 1.3-1.9 1.2-.7 1.2 2.6 1.3-2.3 1.3 .8 1.2 .2 1.2-1 1.3 .6 1.3 .8 1.2-1.3 1.2-.3 1.3 1.3 1.3 2.1 1.2-4.7 1.2 2.5 1.3-1.2 1.3-.2 1.2 2.6 1.2-3.6 1.3 .1 1.3 3.2 1.2-1.1 1.2-3.3 1.3 3.9 1.3 1.2 1.2-1.4 1.2-.8 1.3 .4 1.3 0 1.2 1 1.2-2.4 1.3 0 1.3-.7 1.2-.5 1.2 3 1.3 .2 1.3-2.3 1.2 .7 1.2-.6 1.3 2.3 1.3-2.7 1.2-.2 1.2 2.5 1.3-1.6 1.3 1.7 1.2-1.1 1.2-.8 1.3 .9 1.3-1.2 1.2 1.1 1.2-1.2 1.3-.1 1.3-2 1.2 4.1 1.2-.4 1.3 2 1.3 0 1.2-1.5 1.2-.9 1.3 2.4 1.3-.7 1.2-3.4 1.2-.6 1.3 3 1.3-1.7 1.2 2.1 1.2-4.1 1.3 1.8 1.3-.8 1.2 1.1 1.2 .2 1.3 2.3 1.3-1.3 1.2-4.2 1.2 2.4 1.3-.4 1.3 1.2 1.2-.2 1.2-1.1 1.3 3.5 1.3 1 1.2-2.3 1.2-1.3 1.3 1.4 1.3-1.4 1.2-.1 1.2 1.8 1.3-.1 1.3-1.2 1.2 .5 1.2-.4 1.3 .2 1.3 3 1.2-2.1 1.2-1.1 1.3-.4 1.3-.6 1.2 1.9 1.2-1.2 1.3 .3 1.3 1.2 1.2 .6 1.2-.7 1.3-.8 1.3-1.7 1.2 1.6 1.2-.6 1.3 2.3 1.3-2.2 1.2 2.5 1.2-.2 1.3-1.8 1.3 1 1.2 2.7 1.2-3.6 1.3-1.2 1.3 4.8 1.2-2.2 1.2 2 1.3-2.6 1.3 1.3 1.2-3.2 1.2 .3 1.3 .3 1.3-3.6 1.2 3.8 1.2 .9 1.3-.6 1.3 2.9 1.2-2 1.2 1.5 1.3-2.9 1.3 0 1.2 .5 1.2 .6 1.3 2.4 1.3-.7 1.2-3.5 1.2 2.1 1.3-.8 1.3 .3 1.2-2.5 1.2 4.4 1.3-2.6 1.3 2.6 1.2-1.6 1.2-1.1 1.3 1.3 1.3 2.2 1.2-2.1 1.2-.3 1.3 .8 1.3-1.1 1.2 .2 1.2 .3 1.3-.6 1.3 2.4 1.2-1.6 1.2 2 1.3-.8 1.3-1.4 1.2 .8 1.2-1.9 1.3-2.5 1.3 .3 1.2 2.4 1.2-.3 1.3 1.8 1.3-1.5 1.2 1.1 1.2-1.1 1.3 2.1 1.3-2.9 1.2-.3 1.2-.9 1.3 3.1 1.3 .5 1.2-4.4 1.2 .8 1.3 1.3 1.3-.4 1.2 5.2 1.2-1.8 1.3-.7 1.3-.8 1.2-.9 1.2-.2 1.3-1 1.3-.5 1.2-1.3 1.2 2.5 1.3 2.7 1.3-2 1.2 .9 1.2-1.5 1.3 .7 1.3 0 1.2-.6 1.2 .8 1.3-1.3 1.3 .4 1.2 1 1.2 .6 1.3-.4 1.3 .1 1.2 0 1.2-.5 1.3-1.1 1.3 .4 1.2 .5 1.2 .2 1.3 .4 1.3-.5 1.2 .3 1.2 .4 1.3-.2 1.3 1 1.2-.4 1.2-.1 1.3 .2 1.3-.2 1.2-.5 1.2-.7 1.3-.3 1.3 0 1.2 .3 1.2 1.6 1.3 0 1.3-.8 1.2 .2 1.2-.5 1.3-.7 1.3-.6 1.2 .4 1.2 .2 1.3 .4 1.3 .7 1.2 .2 1.2 .3 1.3-.5 1.3-.2 1.2 .4 1.2-.5 1.3 0 1.3-.8 1.2 .4 1.2 .4 1.3-.9 1.3-.5 1.2 .6 1.2 .5 1.3 .8 1.3 .3 1.2 0 1.2-.8 1.3-.9 1.3 1 1.2 .8 1.2-.7 1.3-.4 1.3-.5 1.2 .5 1.2 1 1.3-.7 1.3-.1 1.2 .1 1.2-.8 1.3 .4 1.3 .5 1.2-.3 1.2-.6 1.3-.3 1.3 .5 1.2 .3 1.2 .1 1.3 .6 1.3-.2 1.2 0 1.2-.5 1.3-1.2 1.3 .4 1.2 .9 1.2 .7 1.3-1.1 1.3 .1 1.2 .4 1.2 0 1.3-.1 1.3 .9 1.2-.2 1.2-.8 1.3 .3 1.3 .4 1.2-.2 1.2-.9 1.3 .6 1.3-.3 1.2-.3 1.2 .6 1.3-.3 1.3-1.3 1.2 .2 1.2 .5 1.3 .2 1.3-1.2 1.2 .9 1.2 1.4 1.3 .1 1.3-1 1.2 .5 1.2 .6 1.3 1.3 1.3-1.4 1.2-1.4 1.2 .4 1.3-.1 1.3 0 1.2-.3 1.2 .3 1.3 .1 1.3-.3 1.2 0 1.2-2.2 1.3 0 1.3 2 1.2 .3 1.2 .9 1.3 .3 1.3-.5 1.2-.8 1.2-.2 1.3 .4 1.3 .5 1.2-.2 1.2-.3 1.3-.8 1.3 .3 1.2 .6 1.2 .3 1.3 .2 1.3-.5 1.2-.5 1.2 1.1 1.3-.5 1.3-.1 1.2 .5 1.2-.8 1.3-.1 1.3 .8 1.2-.7 1.2 .3 1.3 .5 1.3 .2 1.2-.6 1.2-.4 1.3 .4 1.3-1 1.2-.7 1.2 .8 1.3 1 1.3-.1 1.2 .5 1.2 .4 1.3-.3 1.3 .5 1.2-.4 1.2 .4 1.3 .2 1.3-.5 1.2-.4 1.2-.9 1.3-.5 1.3-.1 1.2 1.1 1.2 .5 1.3-.3 1.3-.5 1.2 .1 1.2-.2 1.3 .6 1.3-.1 1.2-1 1.2-.2 1.3 .3 1.3 .3 1.2 .1 1.2-.1 1.3 .5 1.3 .2 1.2 .2 1.2-.1 1.3 .8 1.3 .5 1.2-.4"/>
<path d="M93.5 331.3l1.3-.1 1.2 .6 1.2 .5 1.3 .1 1.3-.3 1.2-.2 1.2-.2 1.3-.5 1.3 .7 1.2 0 1.2-.3 1.3 .1 1.3-.4 1.2 .1 1.2 1 1.3 .2 1.3-.4 1.2-.1 1.2 .3 1.3 .3 1.3 .2 1.2-.9 1.2-.7 1.3 .1 1.3 0 1.2-.4 1.2 .5 1.3-.2 1.3 .1 1.2 0 1.2-.4 1.3 .3 1.3 .3 1.2 0 1.2-.4 1.3 .1 1.3 .2 1.2 0 1.2-.4 1.3 .5 1.3 .8 1.2-.1 1.2-.6 1.3 .1 1.3-.3 1.2 .2 1.2 .5 1.3-.7 1.3-.1 1.2 .3 1.2 0 1.3 0 1.3-.1 1.2 .6 1.2-.2 1.3 .1 1.3-.3 1.2-.9 1.2 .1 1.3 .7 1.3 .2 1.2-.3 1.2 .5 1.3 .2 1.3-.1 1.2-.4 1.2 .1 1.3 .5 1.3-.2 1.2-.4 1.2-.2 1.3-.2 1.3 .3 1.2 .1 1.2 .1 1.3-.3 1.3-.6 1.2 .1 1.2 .3 1.3 .7 1.3 .7 1.2-.2 1.2-.6 1.3-.6 1.3 .3 1.2 .3 1.2-.2 1.3-.3 1.3-.2 1.2-.2 1.2 .4 1.3 .7 1.3 .3 1.2-.4 1.2-.9 1.3-.2 1.3 .5 1.2-.3 1.2 .4 1.3 .3 1.3 0 1.2 0 1.2 .3 1.3-.1 1.3 .4 1.2 .7 1.2-.9 1.3-1.1 1.3 .2 1.2 .5 1.2-.2 1.3-.2 1.3 .2 1.2-.2 1.2 .4 1.3 .4 1.3 0 1.2 .4 1.2-.4 1.3-.2 1.3-.4 1.2 .7 1.2-.5 1.3-.5 1.3 .3 1.2 1 1.2 0 1.3-.9 1.3 .2 1.2 .1 1.2-.2 1.3 .1 1.3 0 1.2 .1 1.2 .3 1.3 .6 1.3-.6 1.2-.5 1.2 .3 1.3-.2 1.3-.4 1.2 .3 1.2-.5 1.3-.3 1.3-.1 1.2 .3 1.2 .7 1.3 0 1.3-.7 1.2-.3 1.2-.5 1.3 .3 1.3 .5 1.2 .5 1.2 .2 1.3 .1 1.3 .1 1.2-.2 1.2-.3 1.3 0 1.3 .3 1.2 .7 1.2 .2 1.3 0 1.3 .2 1.2-.2 1.2-.2 1.3 .1 1.3-.3 1.2 .1 1.2 .2 1.3-.4 1.3 .1 1.2-.2 1.2 .2 1.3-.3 1.3-.3 1.2 .2 1.2-.5 1.3-.5 1.3 1.2 1.2 .7 1.2-3.2 1.3 1.3 1.3 .2 1.2-1.4 1.2 .5 1.3 1.2 1.3 0 1.2-1.1 1.2 1.4 1.3-.7 1.3 .6 1.2-2.6 1.2 1.6 1.3 1.2 1.3 .3 1.2-1.1 1.2-1.3 1.3 3.6 1.3-1.5 1.2 .2 1.2-1.2 1.3-.9 1.3 3 1.2-.1 1.2-2.2 1.3 1.7 1.3-.3 1.2-.8 1.2-3.1 1.3 3.8 1.3 .1 1.2-.6 1.2-1.1 1.3 1.4 1.3-.1 1.2 .2 1.2 .3 1.3-.3 1.3-.9 1.2-1 1.2 1.9 1.3-.6 1.3-.3 1.2 1.3 1.2 2 1.3-.9 1.3-3.9 1.2 1.9 1.2 .1 1.3-.1 1.3 1.9 1.2-1.3 1.2-.7 1.3 .3 1.3 1.5 1.2-1.7 1.2 2.3 1.3 0 1.3-2.3 1.2 .9 1.2-1.7 1.3-.3 1.3-.3 1.2-1.8 1.2 1.6 1.3 .5 1.3 1.8 1.2 .2 1.2 .2 1.3-.1 1.3-1.7 1.2-.1 1.2 1.7 1.3-1.7 1.3 1.1 1.2-1.8 1.2 2.6 1.3 0 1.3 1.4 1.2-4.2 1.2 3.6 1.3-.1 1.3-.3 1.2-1.1 1.2 .3 1.3-.8 1.3 1.1 1.2-1.2 1.2 .4 1.3 1.4 1.3-1.4 1.2 .3 1.2 1.8 1.3-2.5 1.3 .7 1.2-.2 1.2 .3 1.3-1.5 1.3-.7 1.2 .5 1.2 1.5 1.3 .9 1.3-.9 1.2-.3 1.2 .1 1.3 .7 1.3-1.4 1.2-1 1.2 4.2 1.3-1.3 1.3-1.4 1.2-.8 1.2 .4 1.3-.2 1.3-1.3 1.2 .3 1.2 1.8 1.3 .8 1.3 1.5 1.2-2.8 1.2-1.4 1.3 1 1.3-.3 1.2 1.2 1.2 0 1.3 1.2 1.3-3.4 1.2-.2 1.2 3.7 1.3-1.1 1.3-.6 1.2-.4 1.2-.7 1.3 1.3 1.3-.2 1.2 .6 1.2-2.6 1.3 3.5 1.3 .8 1.2-2.2 1.2 1.2 1.3 .9 1.3-.3 1.2-.1 1.2-.7 1.3 .1 1.3-.2 1.2-.8 1.2 .9 1.3-1 1.3-.5 1.2 .3 1.2 2.1 1.3-.6 1.3-1.4 1.2 1 1.2 1.1 1.3-1.8 1.3-.6 1.2 .6 1.2 .8 1.3-1.5 1.3 .7 1.2 .3 1.2-.1 1.3 1.2 1.3-.7 1.2 1.1 1.2-.9 1.3 1.9 1.3-1 1.2 .7 1.2-.5 1.3-2.9 1.3 2 1.2-1.2 1.2 1.5 1.3-.7 1.3-2 1.2 .9 1.2 .9 1.3-1.2 1.3 3.6 1.2-.7 1.2-2 1.3-1 1.3 .5 1.2 1.2 1.2 .6 1.3-.7 1.3-.1 1.2-1.3 1.2-.5 1.3 3.1 1.3-.7 1.2 .1 1.2-1 1.3-2.5 1.3 .3 1.2 1.5 1.2 1.8 1.3-.1 1.3 1.3 1.2-.3 1.2-1.7 1.3-.8 1.3 1.4 1.2-.7 1.2-.8 1.3-.9 1.3 1.6 1.2 .3 1.2-.9 1.3-.7 1.3 1.6 1.2-.3 1.2-.6 1.3 1 1.3-1.4 1.2 .7 1.2-1.1 1.3 2.3 1.3-.4 1.2-3.7 1.2 1.4 1.3 1.8 1.3-.9 1.2 2 1.2-.2 1.3-1.4 1.3 1.3 1.2 .3 1.2-.8 1.3-.9 1.3 1.6 1.2 0 1.2-1.4 1.3 .4 1.3-.6 1.2 .8 1.2-.9 1.3 1.4 1.3-.7 1.2 .6 1.2-1.7 1.3-.2 1.3 1.5 1.2 1.8 1.2-.8 1.3-1.2 1.3 1.6 1.2-.9 1.2 0 1.3 .9 1.3-.7 1.2-1.2 1.2 1.2 1.3 .3 1.3-.6 1.2-.6 1.2-.6 1.3-.8 1.3 .6 1.2 .1 1.2 .1 1.3-.1 1.3-.6 1.2 .6 1.2 0 1.3 .4 1.3-.1 1.2-.2 1.2-.3 1.3-.3 1.3-1 1.2 0 1.2 .9 1.3 .5 1.3-.3 1.2 .4 1.2 .7 1.3-.1 1.3 .8 1.2-.8 1.2-.5 1.3 .3 1.3 0 1.2 .3 1.2 .3 1.3 .3 1.3-.1 1.2-.3 1.2 .1 1.3 .2 1.3-1.2 1.2-.6 1.2 0 1.3 .5 1.3 .1 1.2 .5 1.2-.1 1.3 .1 1.3 .5 1.2-.2 1.2-.1 1.3 .2 1.3-.4 1.2 0 1.2 .6 1.3 0 1.3-1 1.2-.1 1.2 .4 1.3-.2 1.3 .3 1.2 .4 1.2-.2 1.3-.1 1.3-.1 1.2 .6 1.2 .3 1.3 0 1.3-.2 1.2-.3 1.2 .1 1.3-.6 1.3-.3 1.2-.5 1.2 .2 1.3 .6 1.3-.5 1.2-.3 1.2 .1 1.3 .4 1.3 .3 1.2-.3 1.2-.5 1.3 .8 1.3-.1 1.2 .4 1.2 .4 1.3-.9 1.3-.7 1.2 0 1.2-.3 1.3 .3 1.3 .3 1.2 .6 1.2 .3 1.3-.2 1.3-.1 1.2 .1 1.2-.1 1.3-.1 1.3 .2 1.2 .5 1.2 .1 1.3-.8 1.3-1.1 1.2 .2 1.2 .7 1.3 .1 1.3 .1 1.2 .5 1.2-.5 1.3 .7 1.3-.3 1.2-.1 1.2-.9 1.3 .1 1.3 .4 1.2 1.1 1.2-.5 1.3-.5 1.3 .4 1.2-.8 1.2 0 1.3 0 1.3-.6 1.2 .8 1.2 .1 1.3 .3 1.3-.1 1.2-.5 1.2 1.1 1.3-.5 1.3-.3 1.2 .8 1.2-.4 1.3-.1 1.3 .2 1.2-.2 1.2-1.1 1.3 .6 1.3 .8 1.2 1.3 1.2-.3 1.3-.4 1.3-.3 1.2-.6 1.2-.6 1.3 .5 1.3-.1 1.2-.7 1.2-.8 1.3 1.3 1.3 .2 1.2-.9 1.2 .5 1.3 .6 1.3-.1 1.2 .1 1.2-.2 1.3 .6 1.3 .3 1.2 0 1.2-1.3 1.3-.7 1.3 .3 1.2 1.1"/>
<path d="M93.5 341.5l1.3 .4 1.2 0 1.2-.7 1.3 .8 1.3 1.3 1.2-.1 1.2-.4 1.3-.6 1.3 0 1.2 .2 1.2 .5 1.3-.3 1.3-.6 1.2 .3 1.2 .7 1.3-.7 1.3-1 1.2 .1 1.2 1.3 1.3-.2 1.3-.3 1.2 .3 1.2 .3 1.3 .3 1.3-.5 1.2-.4 1.2-.1 1.3-.4 1.3 .3 1.2-.2 1.2 .3 1.3 .2 1.3-.4 1.2-.1 1.2 .6 1.3 .2 1.3-1.4 1.2-.1 1.2 .3 1.3 .3 1.3 .8 1.2-.6 1.2-.4 1.3 0 1.3 .3 1.2 .7 1.2-.4 1.3-.4 1.3-.2 1.2 .5 1.2 0 1.3-.2 1.3-.1 1.2 .3 1.2 .1 1.3 .1 1.3 0 1.2 .1 1.2 .6 1.3-.2 1.3-.3 1.2-.2 1.2 .3 1.3 .4 1.3-.5 1.2 .3 1.2 .1 1.3-.5 1.3-.3 1.2 .1 1.2 .1 1.3 0 1.3 0 1.2 .3 1.2 .4 1.3-.3 1.3-.1 1.2-.4 1.2 .1 1.3 .4 1.3 .1 1.2-.5 1.2 1.4 1.3-.5 1.3-.9 1.2 0 1.2 .1 1.3-.1 1.3 .1 1.2 .8 1.2-.2 1.3-1 1.3-.4 1.2 .1 1.2 .1 1.3 .9 1.3-.3 1.2-.5 1.2 .1 1.3 1 1.3 .1 1.2 .2 1.2 0 1.3-.1 1.3 .4 1.2-.8 1.2-.7 1.3-.2 1.3 .5 1.2-.6 1.2 .4 1.3 0 1.3 .2 1.2 .2 1.2 .4 1.3-.5 1.3-.4 1.2 .1 1.2 1.1 1.3 0 1.3-.7 1.2-.2 1.2 .2 1.3-.1 1.3-1.3 1.2 .2 1.2 .7 1.3 .8 1.3 .4 1.2-.3 1.2 0 1.3-.1 1.3-.4 1.2 0 1.2 .1 1.3 0 1.3-.1 1.2-.2 1.2 .1 1.3 .3 1.3 .4 1.2 .1 1.2 .1 1.3-.3 1.3 .1 1.2-.3 1.2-.5 1.3-.1 1.3-.2 1.2 .1 1.2 0 1.3 .7 1.3 .4 1.2-.4 1.2-.6 1.3-.3 1.3-.2 1.2 .4 1.2 .8 1.3-.3 1.3-.2 1.2 .4 1.2 0 1.3-.4 1.3-.7 1.2-.3 1.2 .5 1.3 .7 1.3-1.2 1.2-.7 1.2 1.3 1.3 .5 1.3 .1 1.2-.1 1.2-.2 1.3 .4 1.3 .3 1.2-.3 1.2-.3 1.3-.7 1.3-.9 1.2-1.2 1.2 .9 1.3 1.6 1.3 .3 1.2 .6 1.2 .7 1.3-.2 1.3 .5 1.2-1.3 1.2 1.2 1.3-.8 1.3-1.5 1.2 .6 1.2 .7 1.3-.7 1.3 .5 1.2-.5 1.2-.5 1.3-.6 1.3 2.2 1.2-.3 1.2-.3 1.3 .1 1.3-.1 1.2 1 1.2-1.6 1.3-2.7 1.3 3.5 1.2-1.6 1.2 2.6 1.3-1 1.3-2.3 1.2 .2 1.2 1.4 1.3 .6 1.3 1.4 1.2-1.2 1.2-1.2 1.3 .8 1.3 .5 1.2-.8 1.2-.7 1.3 2.4 1.3-2 1.2 1.9 1.2-.7 1.3-1.5 1.3 0 1.2 .4 1.2 1.1 1.3-1.5 1.3-.2 1.2 0 1.2-1.2 1.3-.6 1.3 3.8 1.2-1.2 1.2 1.4 1.3-1.1 1.3 1.7 1.2-1.1 1.2-.5 1.3-.3 1.3 0 1.2 1.2 1.2-.8 1.3 .5 1.3-.6 1.2-.7 1.2-1.4 1.3 .4 1.3 .9 1.2-.3 1.2 1.1 1.3-.4 1.3 0 1.2 .1 1.2 .1 1.3-1 1.3 1.6 1.2-1.6 1.2 1.2 1.3 .7 1.3-.5 1.2 .7 1.2 1.3 1.3-1.1 1.3-1.6 1.2 .5 1.2 1.9 1.3-.7 1.3-.6 1.2-2.1 1.2 1.4 1.3 1.9 1.3-2.6 1.2 .9 1.2-1.7 1.3 1.8 1.3-1.2 1.2 1.8 1.2-.8 1.3 1.3 1.3-2 1.2 1.2 1.2-1.4 1.3 2.2 1.3-2.1 1.2 .7 1.2 0 1.3 .7 1.3-.6 1.2-2.2 1.2 1.5 1.3 .6 1.3-1.4 1.2 2.7 1.2-.2 1.3-1.5 1.3 .9 1.2 .6 1.2-1.1 1.3 .3 1.3-1 1.2 2.2 1.2-.8 1.3-.5 1.3 .2 1.2 .7 1.2-.6 1.3-2.8 1.3 1.9 1.2 .4 1.2 1.2 1.3 1.2 1.3-1.7 1.2-.5 1.2 .2 1.3-.6 1.3 0 1.2-1.3 1.2-.2 1.3 0 1.3 4 1.2-2.6 1.2-1 1.3 1.8 1.3 1.1 1.2-1.6 1.2-.9 1.3-2.8 1.3 2.3 1.2-.4 1.2-1.2 1.3 2.8 1.3 .3 1.2 1.5 1.2-3.6 1.3 3.2 1.3-.3 1.2-1.2 1.2 .8 1.3-2 1.3 .9 1.2 .8 1.2 .9 1.3-2.2 1.3 1.2 1.2-.3 1.2-1.4 1.3 .6 1.3 0 1.2 .2 1.2-.3 1.3-.3 1.3 2.4 1.2-1.3 1.2 2.3 1.3-4.7 1.3 2.3 1.2-1.2 1.2 1.6 1.3 .9 1.3-2.6 1.2 .8 1.2-1.1 1.3 0 1.3-.4 1.2 .9 1.2 .1 1.3-.3 1.3 2.3 1.2-1.4 1.2-.6 1.3-.3 1.3 2.2 1.2-.4 1.2 .3 1.3-1.9 1.3 1.3 1.2-1 1.2 1.8 1.3-.5 1.3-1.3 1.2-.5 1.2 1.1 1.3-1.8 1.3 2.2 1.2-.3 1.2 1.3 1.3 1.1 1.3-1.8 1.2-2.2 1.2 1.1 1.3 1.8 1.3-.7 1.2 .9 1.2 .1 1.3-2 1.3 1.4 1.2-1.6 1.2 1.9 1.3-3 1.3-.4 1.2 2.4 1.2-.8 1.3 1 1.3 2.6 1.2-.2 1.2-2 1.3-.1 1.3 .2 1.2-1 1.2-.4 1.3 1.7 1.3-.6 1.2-.8 1.2-3.6 1.3 1.1 1.3 3.8 1.2 .6 1.2-1.4 1.3-.9 1.3 1.1 1.2-1.4 1.2 .9 1.3-1.6 1.3 1.1 1.2 3.2 1.2-1 1.3-.9 1.3 .8 1.2-.3 1.2-1.2 1.3 1.2 1.3-1 1.2 .3 1.2-.2 1.3 .6 1.3-.3 1.2 0 1.2-.1 1.3-.1 1.3 .6 1.2 .2 1.2-.5 1.3-.6 1.3-.6 1.2 .3 1.2 .4 1.3-.8 1.3-.4 1.2 0 1.2 .7 1.3-.4 1.3 0 1.2 .6 1.2 1.3 1.3-.6 1.3-.4 1.2-.2 1.2 .5 1.3-.5 1.3-.4 1.2-.2 1.2 .6 1.3 .3 1.3-.7 1.2 .5 1.2 .5 1.3-.2 1.3 .1 1.2 0 1.2-.1 1.3-.7 1.3 .3 1.2 .4 1.2 0 1.3 0 1.3-.5 1.2 .5 1.2-.6 1.3 0 1.3-.3 1.2-.7 1.2 .3 1.3 .3 1.3 1.2 1.2 .2 1.2-1 1.3-.3 1.3 .6 1.2-.2 1.2-.2 1.3-.3 1.3 .1 1.2 .7 1.2 .5 1.3 .4 1.3-.6 1.2-.4 1.2 .5 1.3-.9 1.3 .3 1.2 .4 1.2-.5 1.3 .3 1.3 .8 1.2-.3 1.2-.8 1.3 .1 1.3-.2 1.2 .2 1.2-.2 1.3 .4 1.3 .5 1.2-.5 1.2-.2 1.3 .3 1.3-.3 1.2 .4 1.2 .1 1.3-.4 1.3-.1 1.2 .1 1.2 .6 1.3-.3 1.3 0 1.2 .1 1.2-.1 1.3-.7 1.3 0 1.2 .6 1.2-.1 1.3-.2 1.3 0 1.2 .4 1.2-.5 1.3-.7 1.3 .8 1.2 .3 1.2 .5 1.3 0 1.3-.1 1.2 .2 1.2-.3 1.3-.8 1.3 .4 1.2 .1 1.2 .3 1.3 .1 1.3 .4 1.2-.8 1.2-.1 1.3-.5 1.3 0 1.2 .7 1.2 .3 1.3-.6 1.3 .1 1.2 .2 1.2-.3 1.3-.1 1.3 .3 1.2-.5 1.2-.1 1.3 0 1.3 .3 1.2 .6 1.2-.4 1.3-.3 1.3 .2 1.2-.1 1.2-.8 1.3 .3 1.3-.1 1.2 .1 1.2-.1 1.3 .2 1.3 .6 1.2 .2 1.2-.4 1.3 .1 1.3 .5 1.2-.2 1.2-.1 1.3-.3 1.3 .4 1.2 .4 1.2-.8 1.3 .6 1.3-1 1.2-.3 1.2-.8 1.3 .7 1.3 .3 1.2 .5 1.2 .8 1.3 .6 1.3-.3 1.2-.5"/>
<path d="M93.5 352.6l1.3 0 1.2-.6 1.2 .6 1.3 .1 1.3-1.1 1.2 .1 1.2 .9 1.3 0 1.3-.3 1.2-.7 1.2 .1 1.3-.2 1.3 .6 1.2 .9 1.2-.4 1.3-.3 1.3-.2 1.2 .2 1.2 .1 1.3 .6 1.3-.3 1.2 0 1.2 0 1.3-.6 1.3 .4 1.2-.1 1.2 .1 1.3-.6 1.3-.2 1.2 .8 1.2 1 1.3-.8 1.3-1 1.2-.1 1.2 1.2 1.3 1 1.3-.4 1.2 .2 1.2-.1 1.3-.8 1.3-.3 1.2 .9 1.2 .2 1.3-.6 1.3-1 1.2-.1 1.2 .5 1.3 .2 1.3 .4 1.2-.1 1.2-.4 1.3 .3 1.3-.9 1.2 .1 1.2 .3 1.3 0 1.3-.4 1.2 .2 1.2 .8 1.3 0 1.3-.3 1.2 .4 1.2-.5 1.3-.2 1.3-.3 1.2 .3 1.2-.7 1.3 .9 1.3 .8 1.2-.4 1.2-.7 1.3 .6 1.3 .8 1.2-.4 1.2-.9 1.3 1.3 1.3 0 1.2-1.1 1.2-.1 1.3 .6 1.3-.4 1.2-.6 1.2 1.1 1.3-.2 1.3-.2 1.2-.3 1.2 1.2 1.3-.2 1.3-.8 1.2 0 1.2 .4 1.3-.5 1.3 .3 1.2 1.1 1.2-.8 1.3-.6 1.3-.2 1.2 .8 1.2 .7 1.3 .1 1.3-.6 1.2-.4 1.2 .3 1.3 .3 1.3-.1 1.2-.6 1.2 .2 1.3 .5 1.3-1.1 1.2 0 1.2-.1 1.3 .4 1.3 .6 1.2 0 1.2-.1 1.3-.1 1.3-.7 1.2 .6 1.2-.1 1.3 .5 1.3-.5 1.2-.4 1.2-.3 1.3 .4 1.3-.1 1.2-.6 1.2 .4 1.3 .7 1.3 .1 1.2-.2 1.2-.6 1.3-.2 1.3 .7 1.2-.5 1.2 .1 1.3 .2 1.3-.1 1.2-.3 1.2 .7 1.3 .5 1.3-.6 1.2-.1 1.2-.3 1.3 .5 1.3-.2 1.2 .5 1.2-.1 1.3-1.3 1.3 .2 1.2 .7 1.2 .5 1.3 .3 1.3-.5 1.2 .6 1.2 .4 1.3-.6 1.3 .2 1.2-.3 1.2-.5 1.3-.1 1.3 .4 1.2-.4 1.2-.1 1.3 1 1.3-.5 1.2-1.1 1.2 .1 1.3-.2 1.3 .1 1.2-.1 1.2 1 1.3-.1 1.3-.6 1.2 .5 1.2 .2 1.3-.5 1.3-.2 1.2 .2 1.2 .1 1.3 1.4 1.3 .2 1.2-.3 1.2 2.2 1.3-2.6 1.3 .5 1.2-.4 1.2-2.3 1.3 1.4 1.3-.5 1.2-.8 1.2 1.3 1.3 .7 1.3 .7 1.2-2.3 1.2-.4 1.3 2.6 1.3-2.4 1.2-.3 1.2 1.2 1.3 1 1.3 0 1.2-.2 1.2-1.8 1.3-2.3 1.3 2.8 1.2-.4 1.2-1.2 1.3-.1 1.3 3.4 1.2-.7 1.2 .7 1.3-.5 1.3 .3 1.2-1.3 1.2 .8 1.3-1 1.3 1.4 1.2-.4 1.2-.4 1.3-1.2 1.3-1.4 1.2 1.9 1.2-.5 1.3 3.3 1.3-1.9 1.2 0 1.2-.1 1.3-3.8 1.3 1.7 1.2 2.4 1.2-1.6 1.3 .8 1.3 .4 1.2-1.2 1.2-.6 1.3 .8 1.3-1.3 1.2-.3 1.2 1.9 1.3 2.8 1.3-3.7 1.2 1.3 1.2 2.5 1.3-4.6 1.3 3 1.2 .1 1.2-.3 1.3-1.8 1.3 1.1 1.2 .8 1.2-.4 1.3-1 1.3 2.6 1.2 .5 1.2-2.6 1.3 1.4 1.3 .2 1.2-.8 1.2 1.8 1.3 .1 1.3 .4 1.2-3.7 1.2 2 1.3 .2 1.3-.3 1.2-1.5 1.2 .6 1.3 2.1 1.3-.6 1.2-1.8 1.2 1.6 1.3-.8 1.3-.3 1.2-2.3 1.2 .2 1.3 1.5 1.3-.2 1.2-.5 1.2 1.9 1.3 1 1.3 1.3 1.2-4.8 1.2 3.1 1.3 .1 1.3-.3 1.2-2.6 1.2 .2 1.3 1.9 1.3 .4 1.2 .1 1.2 .1 1.3 1 1.3-2.9 1.2 1.2 1.2-1 1.3-.2 1.3-.8 1.2 .1 1.2-.8 1.3-2.5 1.3 1.1 1.2 .5 1.2 .1 1.3 2.9 1.3-2.7 1.2 2 1.2 1 1.3 1 1.3 0 1.2-.9 1.2 2.3 1.3-1.2 1.3 0 1.2 .1 1.2-4.1 1.3 3.7 1.3-.3 1.2-1.1 1.2-1.9 1.3 2.2 1.3 .6 1.2-2 1.2 1.8 1.3-1.6 1.3 .8 1.2 0 1.2 0 1.3 2.4 1.3-.9 1.2-1.8 1.2 1.9 1.3-1 1.3 0 1.2 1.3 1.2 1.3 1.3-2.9 1.3 .2 1.2-1.6 1.2 1.7 1.3 1.7 1.3 .7 1.2-1.7 1.2 .2 1.3 0 1.3 .5 1.2-1 1.2-.5 1.3 1.3 1.3-1.7 1.2-1.6 1.2 3.7 1.3-.9 1.3-1.5 1.2 2.2 1.2-2.1 1.3-1.1 1.3 .7 1.2 .3 1.2-1.9 1.3 3.5 1.3 .1 1.2 0 1.2 .5 1.3-.2 1.3 1.3 1.2-3.8 1.2 2.6 1.3-.8 1.3-.6 1.2-2.1 1.2 2.3 1.3-1.3 1.3 .5 1.2 2.4 1.2-.1 1.3-2.9 1.3 1.5 1.2-.5 1.2 2 1.3-3 1.3 .2 1.2 1.4 1.2 .1 1.3-1 1.3 2.7 1.2-1.4 1.2-.4 1.3-.8 1.3-.6 1.2 .6 1.2 .2 1.3 .8 1.3-2.4 1.2 1.3 1.2 .1 1.3-.5 1.3 .6 1.2-.5 1.2-.6 1.3-.1 1.3-1.2 1.2 2 1.2-.4 1.3 2.1 1.3-.7 1.2-.8 1.2 0 1.3-.6 1.3-.6 1.2 .4 1.2 2 1.3-3.1 1.3 1.3 1.2-.3 1.2-.3 1.3 .5 1.3 2.4 1.2-1.1 1.2 0 1.3 .3 1.3-.7 1.2-1 1.2-1.1 1.3 2.4 1.3-1 1.2-.6 1.2 .1 1.3 2.2 1.3-.3 1.2-1.7 1.2-.4 1.3 4.6 1.3-2.7 1.2 .2 1.2-.4 1.3-.7 1.3-.1 1.2 .9 1.2 .9 1.3-.3 1.3-.3 1.2-1.1 1.2 0 1.3 .7 1.3 0 1.2 .3 1.2 .4 1.3-.5 1.3-.5 1.2-.6 1.2 .3 1.3 .3 1.3-.3 1.2 0 1.2 1 1.3 0 1.3-.4 1.2 .2 1.2-.1 1.3-.5 1.3-1 1.2 1.6 1.2 .5 1.3-.4 1.3-.7 1.2 .4 1.2-.6 1.3 .5 1.3 .5 1.2 .1 1.2 .4 1.3-.6 1.3-.7 1.2 0 1.2 .8 1.3-.1 1.3-.3 1.2 .1 1.2-.5 1.3 .6 1.3 .7 1.2-.4 1.2 .3 1.3-.5 1.3 0 1.2-.4 1.2-.4 1.3-.3 1.3 .9 1.2-.3 1.2 0 1.3 1.2 1.3-.8 1.2-.7 1.2-.1 1.3-.3 1.3 .4 1.2 1.2 1.2-.7 1.3-.4 1.3 .1 1.2-.9 1.2 .8 1.3 .3 1.3 0 1.2 0 1.2 .7 1.3 .2 1.3-.4 1.2 .7 1.2-.5 1.3-.1 1.3-.2 1.2-.6 1.2-.4 1.3 .2 1.3 .2 1.2 .4 1.2 .3 1.3-.4 1.3 .7 1.2-.2 1.2-.6 1.3 0 1.3 .1 1.2 .5 1.2-.5 1.3-1 1.3 .9 1.2 .6 1.2 .6 1.3-1.1 1.3-.2 1.2 .5 1.2 0 1.3 .6 1.3 .3 1.2-1.2 1.2-.5 1.3 .6 1.3 .7 1.2-.3 1.2-.5 1.3 .2 1.3 .6 1.2-.2 1.2-.2 1.3-.7 1.3-.3 1.2 1.2 1.2-.1 1.3-.9 1.3 .5 1.2-.6 1.2-.4 1.3 .2 1.3 .3 1.2 .9 1.2 .3 1.3-.2 1.3-.3 1.2 0 1.2-.2 1.3 .3 1.3 .4 1.2 .8 1.2 1.4 1.3-.7 1.3-1.3 1.2-1.5 1.2 .2 1.3 .6 1.3 .9 1.2-.7 1.2-.8 1.3 .7 1.3 .1 1.2-.5 1.2-.6 1.3 .4 1.3-.3 1.2-.7 1.2 .8 1.3 0 1.3 .8 1.2 0 1.2-.7 1.3 .3 1.3 .4 1.2-.1 1.2 0 1.3-.1 1.3-1.1 1.2 .5 1.2 .2 1.3 .4 1.3-.2 1.2-.3 1.2-.8 1.3 1 1.3 .3 1.2-.2"/>
<path d="M93.5 362.4l1.3 .3 1.2-.4 1.2-.6 1.3 .1 1.3 .6 1.2 .3 1.2 1.2 1.3-.1 1.3-.8 1.2-.5 1.2-1.1 1.3 1.3 1.3 .4 1.2-.1 1.2 .5 1.3-.7 1.3-.5 1.2 .7 1.2-.2 1.3 .2 1.3-.2 1.2 0 1.2-.4 1.3-1.1 1.3 .4 1.2 1 1.2 .4 1.3-.6 1.3 .2 1.2 .7 1.2-.3 1.3-.6 1.3 .5 1.2-.4 1.2 0 1.3 .1 1.3 0 1.2 0 1.2-.2 1.3 .8 1.3-.4 1.2-.3 1.2 .7 1.3 .2 1.3-1.2 1.2 0 1.2 1.5 1.3 .2 1.3-1.5 1.2 .4 1.2-.4 1.3-.1 1.3 .7 1.2 .8 1.2-.5 1.3-.6 1.3 0 1.2 .3 1.2-.5 1.3 .6 1.3 .6 1.2 .2 1.2-.1 1.3 .3 1.3-.4 1.2-.4 1.2-.7 1.3 .5 1.3 .6 1.2-.3 1.2-.8 1.3 .1 1.3 0 1.2 .4 1.2 0 1.3 .2 1.3-1.2 1.2 1 1.2 .3 1.3-.6 1.3-.5 1.2 .9 1.2 .8 1.3-1.1 1.3-.3 1.2 1 1.2-.2 1.3-.7 1.3 .5 1.2 .2 1.2-.8 1.3 .8 1.3 .6 1.2-.7 1.2 .4 1.3 .1 1.3-1.1 1.2-.1 1.2-.3 1.3 .9 1.3 .6 1.2-.2 1.2-.3 1.3-.4 1.3-1 1.2 .5 1.2 .8 1.3-.4 1.3-1.1 1.2 .3 1.2 .3 1.3 .7 1.3-.4 1.2-.9 1.2 .1 1.3 1.1 1.3-.3 1.2-.3 1.2 .6 1.3 .8 1.3-.6 1.2-.6 1.2-.2 1.3 0 1.3 .5 1.2 .6 1.2-.2 1.3-.1 1.3 0 1.2 0 1.2-.4 1.3 .5 1.3 .3 1.2-1.2 1.2-.1 1.3 .1 1.3-.1 1.2-.5 1.2-.1 1.3 .3 1.3 .6 1.2 .2 1.2-.3 1.3 1 1.3-.2 1.2-.7 1.2 .7 1.3 1 1.3-.8 1.2-.7 1.2-.2 1.3-.4 1.3-.9 1.2 .8 1.2 .9 1.3 .2 1.3-.4 1.2-1.2 1.2-.5 1.3 1.1 1.3 .5 1.2-.3 1.2-.1 1.3 .5 1.3 .6 1.2 .2 1.2-.1 1.3 .1 1.3-.5 1.2-.9 1.2-.1 1.3 .4 1.3-.2 1.2 .1 1.2 .9 1.3 .2 1.3 .3 1.2 .2 1.2-.9 1.3 .4 1.3 .4 1.2-.3 1.2-.3 1.3 .9 1.3-1.2 1.2-1 1.2 1.7 1.3 .9 1.3 0 1.2-8.4 1.2-1.2 1.3 1.3 1.3 .7 1.2 3.6 1.2 .7 1.3 4.3 1.3-15.8 1.2 4.9 1.2 4.2 1.3 3.3 1.3 6.1 1.2 5 1.2-9.3 1.3 4.2 1.3-8.9 1.2 3 1.2 9.1 1.3 .1 1.3-6.5 1.2-1.6 1.2-4.2 1.3 1.7 1.3 6.8 1.2 2.2 1.2-2.6 1.3-6.3 1.3 5.6 1.2-6.2 1.2 5.1 1.3-3.7 1.3 7 1.2-6 1.2 3 1.3-6 1.3 1.3 1.2-2.3 1.2 12.1 1.3-10.2 1.3 .4 1.2 5.9 1.2-6.9 1.3 6.6 1.3 2.9 1.2-5.7 1.2-4.3 1.3 5.8 1.3 .9 1.2-3 1.2-3.8 1.3 5.8 1.3-1.4 1.2-7.1 1.2 4.6 1.3 4.2 1.3 3.1 1.2 2.6 1.2-18 1.3 3.9 1.3 9.7 1.2-1.7 1.2-2.2 1.3-3 1.3 5.4 1.2-3.5 1.2 0 1.3-3.1 1.3 5.1 1.2 8 1.2-6.2 1.3-3.1 1.3 4.3 1.2-4.6 1.2-1.5 1.3 10.7 1.3-10.3 1.2-4.9 1.2-4.3 1.3 1.1 1.3 16.2 1.2-2.1 1.2-7.1 1.3-.2 1.3 6.7 1.2-2.6 1.2 4.7 1.3-8.9 1.3 8.5 1.2-1.5 1.2-3.8 1.3-1 1.3 1.9 1.2-9.7 1.2 3.9 1.3 2.2 1.3-1.1 1.2 1.5 1.2 8.6 1.3-2.5 1.3-11 1.2 9.6 1.2-1.9 1.3-2.2 1.3 3.8 1.2-1.3 1.2-6.5 1.3 5.2 1.3 5.5 1.2-5.5 1.2-7.8 1.3-1.8 1.3 2.9 1.2 1.2 1.2 1.9 1.3 2.5 1.3 7.7 1.2-7.1 1.2-.2 1.3-1.9 1.3 1.2 1.2-1.6 1.2-2 1.3-5.1 1.3 12.7 1.2-3.2 1.2-6.4 1.3 11.7 1.3-6.4 1.2 1.6 1.2-1.5 1.3-.7 1.3-1.1 1.2 4.2 1.2 4.7 1.3-7.4 1.3-.1 1.2-6.4 1.2 2.2 1.3 3 1.3 11.5 1.2 7.3 1.2-20.6 1.3 3.7 1.3 4.1 1.2 12.3 1.2-14.8 1.3 4.8 1.3 6 1.2-13.3 1.2 3.5 1.3-3.2 1.3-2.1 1.2-1.6 1.2-1.4 1.3 11.5 1.3-5.3 1.2 1.1 1.2-1.7 1.3 2.7 1.3-.3 1.2 1.6 1.2-7.4 1.3 9.3 1.3 4.8 1.2-7 1.2-4.9 1.3 1.9 1.3 6.1 1.2 .8 1.2-5.7 1.3-6.4 1.3 5.5 1.2-.1 1.2-2.7 1.3 6.1 1.3 5.3 1.2-12.9 1.2 8.2 1.3-7 1.3-2.8 1.2 4 1.2 2.4 1.3-1.6 1.3 3.9 1.2-4.2 1.2-.7 1.3 4.5 1.3-6.3 1.2 1.4 1.2 6.9 1.3-8 1.3 1.4 1.2-2.8 1.2 7.5 1.3 5 1.3-7.5 1.2 8.4 1.2-9.6 1.3 3.7 1.3 1.2 1.2-2.5 1.2 2.2 1.3 2.1 1.3-3.6 1.2-2.7 1.2-.2 1.3 1.8 1.3 .9 1.2-1 1.2 .2 1.3-.2 1.3 .2 1.2-.1 1.2-1.5 1.3 .5 1.3 .5 1.2 .2 1.2 .7 1.3 .3 1.3-.1 1.2-.4 1.2-.6 1.3 .7 1.3-.6 1.2 0 1.2 .1 1.3-.6 1.3 .5 1.2 .5 1.2 .3 1.3 0 1.3 .5 1.2-1.4 1.2 .3 1.3 .8 1.3 1.6 1.2 0 1.2-.9 1.3 0 1.3-.1 1.2-1.1 1.2 .5 1.3 .3 1.3-.7 1.2-.4 1.2-.2 1.3 .4 1.3 1.1 1.2-.3 1.2-.2 1.3-.1 1.3-.5 1.2 0 1.2 .5 1.3-.6 1.3-.3 1.2-.2 1.2 .6 1.3 1 1.3-.2 1.2-.1 1.2-.6 1.3 0 1.3 .6 1.2 0 1.2-.4 1.3-.7 1.3-.1 1.2 1.3 1.2-.2 1.3 0 1.3-.3 1.2-.5 1.2-.3 1.3 .7 1.3-.5 1.2-.3 1.2 .1 1.3 .9 1.3 .2 1.2-.3 1.2-.2 1.3-.1 1.3-.4 1.2-.4 1.2 1 1.3 .5 1.3 .4 1.2 .4 1.2-1.1 1.3-.7 1.3 .9 1.2-.1 1.2-.4 1.3 .5 1.3 .2 1.2-1 1.2-.7 1.3-.1 1.3 0 1.2 .5 1.2-.6 1.3 .9 1.3 0 1.2 .2 1.2 .4 1.3-.4 1.3 1.1 1.2 .5 1.2-1.5 1.3-.8 1.3-.3 1.2 1 1.2-.1 1.3 .1 1.3 .5 1.2-.4 1.2 .4 1.3-.3 1.3-.4 1.2-.8 1.2-.1 1.3 .6 1.3 .8 1.2-.4 1.2-.6 1.3-.8 1.3 .4 1.2-.1 1.2-1 1.3 1.1 1.3 1 1.2-.4 1.2 1.2 1.3-.8 1.3 0 1.2 .3 1.2-.3 1.3-.1 1.3 .5 1.2 1 1.2 .1 1.3-.4 1.3-.8 1.2-.6 1.2-.3 1.3-.4 1.3 .5 1.2 1.5 1.2 .5 1.3-.6 1.3-.1 1.2-.4 1.2-1.3 1.3 .4 1.3 .9 1.2-.1 1.2 .3 1.3 .4 1.3-.5 1.2-1.1 1.2 .5 1.3 .5 1.3-.1 1.2 .4 1.2 .7 1.3 .4 1.3-1.4 1.2 .5 1.2-.9 1.3 .6 1.3-.2 1.2-.5 1.2 .1 1.3 0 1.3 .2 1.2 0 1.2-.8 1.3-.5 1.3 .8 1.2 .8 1.2-1.2 1.3-.2 1.3 1 1.2-.2 1.2-.2 1.3-.3 1.3 .8 1.2 .9 1.2-.4 1.3 0 1.3-.5 1.2 .2 1.2 0 1.3 .2 1.3-.8 1.2 .5 1.2 .4 1.3-.1 1.3-.8 1.2-.6 1.2-.2 1.3 1 1.3 .8 1.2-.3 1.2 .3 1.3 .1 1.3 .2 1.2-1.2 1.2-.1 1.3 .9 1.3-.4 1.2-.4"/>
<path d="M93.5 374.9l1.3 .1 1.2-.9 1.2-1 1.3 .6 1.3 .2 1.2 .1 1.2 .1 1.3-.7 1.3-.4 1.2 .8 1.2-.2 1.3-.1 1.3-.3 1.2 .2 1.2-.2 1.3-.1 1.3 0 1.2 1.1 1.2 .1 1.3 .2 1.3-1.6 1.2-1.1 1.2 .4 1.3 .5 1.3 .3 1.2 .2 1.2 .4 1.3-.1 1.3-.8 1.2-1.5 1.2-.3 1.3 2.6 1.3 0 1.2-1.2 1.2 .3 1.3 1.3 1.3 .5 1.2-.4 1.2-.1 1.3-.3 1.3 .3 1.2 .4 1.2-1.2 1.3-1.3 1.3 .9 1.2 .8 1.2 .1 1.3-.1 1.3-.3 1.2-.2 1.2 0 1.3 0 1.3 .5 1.2-.1 1.2-.1 1.3-.3 1.3-.4 1.2 .3 1.2 .2 1.3 .6 1.3 .6 1.2-.4 1.2 .2 1.3-.2 1.3-1 1.2-.9 1.2 1.4 1.3 1.2 1.3-.2 1.2-.6 1.2 .1 1.3-.2 1.3 .5 1.2 .2 1.2-.3 1.3-.6 1.3-.8 1.2-.4 1.2-.9 1.3 0 1.3 1.9 1.2 .1 1.2-.3 1.3 .4 1.3 .1 1.2-.1 1.2 .1 1.3 .1 1.3-.3 1.2-.6 1.2 .3 1.3 .2 1.3-.1 1.2 .6 1.2 .2 1.3 .2 1.3-1.4 1.2 .2 1.2 .2 1.3-1.3 1.3-.3 1.2 .7 1.2-.2 1.3-.2 1.3 .9 1.2 0 1.2-.4 1.3 .6 1.3 1.3 1.2-.9 1.2 .4 1.3 .5 1.3 .1 1.2-.4 1.2 0 1.3-.5 1.3-.3 1.2 .3 1.2 .5 1.3-.5 1.3 .2 1.2-.2 1.2 .6 1.3-.1 1.3-.8 1.2-.6 1.2 .5 1.3-.3 1.3 .5 1.2 .5 1.2-.3 1.3-.3 1.3 .2 1.2 .7 1.2-1.6 1.3 0 1.3 .2 1.2 .2 1.2 .7 1.3-.8 1.3 .2 1.2 0 1.2 0 1.3 .3 1.3-.1 1.2-.2 1.2-.3 1.3-.1 1.3 .5 1.2 .2 1.2-.2 1.3 .2 1.3 .9 1.2-.6 1.2-1.3 1.3 .7 1.3-.2 1.2-.5 1.2 .1 1.3 .8 1.3 0 1.2-1.2 1.2 .5 1.3 .4 1.3 .4 1.2-.1 1.2 .2 1.3-.2 1.3 .6 1.2-.4 1.2-.8 1.3 .3 1.3 1 1.2-1 1.2-.6 1.3 .9 1.3-.2 1.2-.8 1.2 1.1 1.3 1.1 1.3-1.4 1.2-1.5 1.2 .8 1.3 1.7 1.3 .6 1.2-2.5 1.2 .6 1.3-2.6 1.3-.4 1.2 3.8 1.2-6.2 1.3 3.1 1.3 5.7 1.2-2 1.2-4.5 1.3 9.4 1.3-6.2 1.2-3.1 1.2 4.3 1.3 .9 1.3-11 1.2 19.7 1.2-11.9 1.3-1.7 1.3-.4 1.2 5.1 1.2-6 1.3 8.8 1.3 2.8 1.2-2.7 1.2-2.8 1.3-2 1.3-7.7 1.2 15 1.2-10.5 1.3-1.8 1.3 10.2 1.2-3.6 1.2 2.5 1.3 .4 1.3-14.8 1.2 17.9 1.2-10.1 1.3 2.7 1.3 2.2 1.2-5.9 1.2 4.2 1.3-7.5 1.3 3.7 1.2 5.2 1.2-1.5 1.3-.5 1.3 9.1 1.2-12.2 1.2 3.5 1.3 2 1.3-7.4 1.2 1.1 1.2 2.5 1.3-.9 1.3 3.3 1.2-1.6 1.2-5.4 1.3 3.5 1.3 2.4 1.2-4.9 1.2 4.2 1.3 1.9 1.3-1.1 1.2-4.6 1.2 .9 1.3 1.8 1.3-1.5 1.2 3.5 1.2 .2 1.3 4 1.3-17.2 1.2 11.4 1.2-1.4 1.3 4.2 1.3 0 1.2 6.8 1.2-10.9 1.3-2.8 1.3 1.1 1.2-.6 1.2 1.3 1.3 3.8 1.3 2.5 1.2-4.4 1.2-5 1.3-6.8 1.3 14.2 1.2-2.8 1.2-2.4 1.3 8.9 1.3-4.2 1.2-6.1 1.2 3.3 1.3 .4 1.3-1.3 1.2 4 1.2 .4 1.3-.1 1.3-.1 1.2-4.6 1.2 7.8 1.3-8.2 1.3 5.2 1.2 .9 1.2 1.5 1.3-1.5 1.3 4.7 1.2 2.8 1.2-5 1.3-.9 1.3 2 1.2-4.1 1.2-4.2 1.3-.5 1.3 4.3 1.2-2.2 1.2-1.2 1.3 3.2 1.3 5.9 1.2 .6 1.2-12.9 1.3 5.9 1.3-4.1 1.2 12.3 1.2-1.9 1.3 3.4 1.3-10.9 1.2 .4 1.2 8.6 1.3-6.3 1.3-6.6 1.2 4.4 1.2-6.9 1.3 6.4 1.3 4.8 1.2-4.1 1.2 12.5 1.3-2.7 1.3-14.9 1.2-1.2 1.2 .3 1.3 1.9 1.3 2.4 1.2 3.4 1.2-.3 1.3-4 1.3 4.1 1.2 5.5 1.2 .1 1.3-.8 1.3-10.4 1.2 .2 1.2 3.8 1.3 2.1 1.3-9.2 1.2 12.1 1.2-7.9 1.3-1.6 1.3 1 1.2-.3 1.2 6.2 1.3-2.5 1.3 6.1 1.2-5.8 1.2 0 1.3 3.9 1.3-1.6 1.2-7.6 1.2 12.4 1.3-12.7 1.3 15.4 1.2-6.3 1.2 2.3 1.3-3.3 1.3-2.3 1.2 6.7 1.2-14.7 1.3 11.7 1.3-5.8 1.2-3.4 1.2 1.3 1.3 1.6 1.3 2.1 1.2 1.9 1.2-.4 1.3 1.3 1.3 3.9 1.2-2.1 1.2-4.8 1.3-9 1.3 9.7 1.2-1.4 1.2 11.4 1.3-5.1 1.3-2.8 1.2-6.3 1.2 6.7 1.3 3.6 1.3-3.4 1.2-1 1.2 5.4 1.3 .3 1.3-10.7 1.2 1.3 1.2 5.2 1.3-1.2 1.3-3.1 1.2 .9 1.2 1.6 1.3-.5 1.3-.1 1.2-.5 1.2-.2 1.3 0 1.3-.1 1.2 .3 1.2 .6 1.3-1.5 1.3 .2 1.2 1.3 1.2 1 1.3-.5 1.3-1.1 1.2 .1 1.2-.3 1.3 .4 1.3 1.9 1.2-.7 1.2-1.4 1.3 .2 1.3-.4 1.2 .2 1.2 .2 1.3-.1 1.3-.2 1.2 0 1.2 .5 1.3 .4 1.3-.2 1.2-.6 1.2 .2 1.3 .1 1.3 .1 1.2-.5 1.2-1.3 1.3 .9 1.3 .6 1.2-.7 1.2-.3 1.3 0 1.3 1.5 1.2 .3 1.2 .4 1.3 0 1.3-1.3 1.2-.4 1.2 1 1.3-.1 1.3-.1 1.2-.9 1.2 .1 1.3 .5 1.3 .1 1.2 .1 1.2-.2 1.3-.5 1.3-.2 1.2-.2 1.2 .8 1.3 .7 1.3 .1 1.2 0 1.2-.3 1.3-.9 1.3 .5 1.2 1 1.2-.1 1.3-.7 1.3-.1 1.2 0 1.2 .1 1.3-.1 1.3 0 1.2-.5 1.2 .2 1.3 .1 1.3 .2 1.2 .4 1.2 .5 1.3-.6 1.3-1 1.2-.5 1.2 .3 1.3 1.1 1.3 .5 1.2-.7 1.2 .3 1.3 .1 1.3-.3 1.2 .4 1.2 .1 1.3 .7 1.3-.6 1.2-1.6 1.2-.1 1.3 .5 1.3 .3 1.2 .3 1.2-.5 1.3-.3 1.3 .4 1.2 .4 1.2-.3 1.3-.3 1.3-.3 1.2-.7 1.2 .3 1.3 .6 1.3 .6 1.2 .2 1.2-.4 1.3 0 1.3 .1 1.2 .4 1.2 .7 1.3-.8 1.3-.3 1.2 .9 1.2 .6 1.3-.7 1.3-.6 1.2 .8 1.2-.5 1.3 .1 1.3-.3 1.2-.1 1.2 .6 1.3-.3 1.3 .1 1.2-.4 1.2-.4 1.3 1.2 1.3-.3 1.2-.9 1.2 .9 1.3 .2 1.3-.6 1.2-.8 1.2 0 1.3 .7 1.3-.1 1.2-.3 1.2 1.3 1.3 .6 1.3-.9 1.2-.9 1.2-.3 1.3 .3 1.3 1.1 1.2-.4 1.2-.2 1.3-.1 1.3-.2 1.2-.1 1.2 .8 1.3 .5 1.3-.5 1.2-.7 1.2-.1 1.3-.2 1.3 .8 1.2 .8 1.2-.5 1.3-1.6 1.3 .9 1.2-.3 1.2-1.2 1.3 .3 1.3 .6 1.2 .1 1.2 1.5 1.3-.8 1.3-1.1 1.2-.4 1.2 .8 1.3 1.5 1.3-.4 1.2-.6 1.2 .1 1.3 .6 1.3-1.2 1.2-.2 1.2 .5 1.3 0 1.3-.1 1.2-.2 1.2 0 1.3 .9 1.3 .4 1.2 .2 1.2 .1 1.3-.2 1.3 0 1.2-.5 1.2-.9 1.3-.4 1.3 .7 1.2 .4 1.2 .4 1.3-.1 1.3 .5 1.2-.5 1.2-.3 1.3 .4 1.3 0 1.2 .2"/>
<path d="M93.5 383.7l1.3-.4 1.2-.5 1.2-.2 1.3 .9 1.3 .7 1.2-.1 1.2-.6 1.3-.1 1.3 .2 1.2-.7 1.2 1.2 1.3 .4 1.3-1.3 1.2-1.2 1.2 0 1.3 .4 1.3 1.2 1.2 .2 1.2 .1 1.3 .1 1.3-.4 1.2 .1 1.2-.2 1.3-.1 1.3-.4 1.2-.1 1.2 .1 1.3 .8 1.3 .6 1.2-.4 1.2-.3 1.3-1.1 1.3-.2 1.2 .4 1.2 0 1.3 .5 1.3 .1 1.2 .1 1.2-.7 1.3 0 1.3 .4 1.2-.8 1.2-.2 1.3 .5 1.3 1.4 1.2-.1 1.2-.4 1.3-.1 1.3-.2 1.2-.9 1.2 .4 1.3 .7 1.3-.1 1.2-.5 1.2-1.4 1.3 .3 1.3 1.5 1.2 1 1.2-.2 1.3-.5 1.3 .1 1.2 .1 1.2 1.1 1.3 .1 1.3-1 1.2-.4 1.2-.6 1.3 .8 1.3 .5 1.2-.2 1.2 .2 1.3-.5 1.3-.6 1.2 .8 1.2 .7 1.3-.4 1.3-.6 1.2 .1 1.2-.4 1.3-.2 1.3 .4 1.2-.5 1.2-.3 1.3 .2 1.3 .2 1.2 .5 1.2-.3 1.3-.6 1.3-.1 1.2 0 1.2-.5 1.3 1.1 1.3 0 1.2 .2 1.2 0 1.3-.6 1.3 .6 1.2 .9 1.2 .3 1.3-.2 1.3-.4 1.2-.1 1.2-.1 1.3-.4 1.3-.4 1.2-.1 1.2-.5 1.3 .5 1.3 1 1.2-.1 1.2-.1 1.3 .6 1.3-.6 1.2-.5 1.2 .3 1.3-.9 1.3 .1 1.2-.1 1.2 .9 1.3 .8 1.3-.6 1.2-1 1.2-.3 1.3 .3 1.3 .8 1.2-.1 1.2-.1 1.3 .9 1.3 .3 1.2-.5 1.2-1 1.3 .3 1.3 .8 1.2 .6 1.2-1 1.3 .2 1.3 0 1.2-.2 1.2-.5 1.3-.4 1.3 .5 1.2 .6 1.2-.7 1.3-.7 1.3 .2 1.2 .4 1.2 .7 1.3-.3 1.3-.4 1.2 0 1.2-.6 1.3 .6 1.3 2.6 1.2 1.5 1.2-.8 1.3-2 1.3-.4 1.2-.2 1.2-.2 1.3-.2 1.3 0 1.2 .2 1.2-.7 1.3-.1 1.3 1.3 1.2-.2 1.2-.3 1.3 .4 1.3-.2 1.2-.3 1.2-.6 1.3-.7 1.3 .6 1.2 .6 1.2-.8 1.3-.6 1.3 .6 1.2 1.1 1.2 .3 1.3-.3 1.3 .3 1.2 .3 1.2 .1 1.3-.2 1.3 .7 1.2-.1 1.2-4.7 1.3-.8 1.3-2.1 1.2 4.6 1.2-4.5 1.3-1.3 1.3 9.4 1.2 1 1.2 1.2 1.3-5.3 1.3 5.5 1.2-4.2 1.2-5.6 1.3 13.1 1.3-3.6 1.2-3 1.2-.1 1.3 4.8 1.3 .7 1.2-7.1 1.2 6.7 1.3-7.1 1.3 2 1.2-1.9 1.2-4.8 1.3 4.6 1.3 8.9 1.2 1.8 1.2-9.8 1.3 1.4 1.3-.8 1.2 .6 1.2 2.8 1.3-.8 1.3-.9 1.2 3.2 1.2-4.2 1.3-5.1 1.3 6.4 1.2-.9 1.2-11.9 1.3 1.4 1.3 10.7 1.2-5.4 1.2-6.7 1.3 9.6 1.3 2.2 1.2-4.2 1.2-1.5 1.3 4.3 1.3 6.5 1.2-8.2 1.2 .6 1.3-1.6 1.3-2.5 1.2 10.9 1.2-1.5 1.3-8.5 1.3 11.2 1.2-3.7 1.2-4.7 1.3-3.5 1.3 1.4 1.2 1.8 1.2 3.3 1.3-4.6 1.3 .2 1.2 .4 1.2 3.1 1.3-6.9 1.3 5.9 1.2 1 1.2 1 1.3-.6 1.3 2 1.2 0 1.2 1.9 1.3 .3 1.3-1.2 1.2 2.4 1.2-4 1.3 3.7 1.3-5.2 1.2-2.4 1.2 .6 1.3-5.7 1.3 5.4 1.2 .4 1.2 1.9 1.3-3.8 1.3 5.8 1.2-6.8 1.2-.1 1.3 9.8 1.3-2.3 1.2-11.5 1.2 4.3 1.3 7.5 1.3-1.3 1.2 .6 1.2-5.4 1.3 8.6 1.3-6.7 1.2 .1 1.2 2.5 1.3 1.4 1.3-13.8 1.2 7.3 1.2-3.8 1.3 3 1.3 1 1.2 1.2 1.2 11 1.3-12.7 1.3-3.7 1.2-2.1 1.2 11.1 1.3-4.9 1.3 5.7 1.2-11.6 1.2 18.3 1.3-11.9 1.3-2.5 1.2 8.3 1.2-7.1 1.3-3.3 1.3 5.8 1.2-7 1.2 9.5 1.3 8.2 1.3-7.8 1.2 7.5 1.2-6 1.3 4 1.3 2.2 1.2-5.4 1.2-.3 1.3-1.2 1.3 1.9 1.2-3.5 1.2-1.1 1.3-3.1 1.3 3.6 1.2-6.2 1.2 3.8 1.3-8.8 1.3 8.9 1.2 2.2 1.2 .9 1.3-2.5 1.3-5 1.2 8.9 1.2 1.2 1.3-5.1 1.3 4.2 1.2-5.6 1.2 7.7 1.3 1.8 1.3-9.2 1.2 9.4 1.2-.5 1.3-6.1 1.3 .9 1.2-1.8 1.2 2.2 1.3-7.9 1.3 9.8 1.2 4.5 1.2-6 1.3 1.7 1.3-4 1.2 4.1 1.2-.2 1.3 2.1 1.3-4 1.2-11.7 1.2 20.3 1.3-9.2 1.3-9.9 1.2 13.4 1.2 2.5 1.3-8.6 1.3-3.4 1.2 4.1 1.2 6.4 1.3-12.9 1.3 5.2 1.2-3.2 1.2 3.4 1.3-9.6 1.3 10.2 1.2 6.7 1.2-5.8 1.3 2.6 1.3 1.9 1.2-.1 1.2-5.6 1.3 1.7 1.3 7.6 1.2-2.1 1.2-7.5 1.3 .9 1.3-2.5 1.2 3.3 1.2 2 1.3-6.8 1.3 1.9 1.2 2.7 1.2 .5 1.3-1.3 1.3-.3 1.2 .9 1.2 1.7 1.3-.7 1.3-1.2 1.2 .3 1.2 .3 1.3 .4 1.3-.2 1.2-.4 1.2 0 1.3 .1 1.3 .5 1.2-.5 1.2-.7 1.3 .2 1.3 .7 1.2 .3 1.2 0 1.3-.4 1.3 .2 1.2-.8 1.2-.2 1.3-.2 1.3-.7 1.2 0 1.2 .7 1.3 .9 1.3 .5 1.2-.5 1.2 .3 1.3 .3 1.3-.1 1.2-.8 1.2-.5 1.3 .6 1.3-.3 1.2-.5 1.2 .1 1.3 1.3 1.3-.1 1.2-.1 1.2 0 1.3 .4 1.3-.3 1.2-1.2 1.2 .5 1.3 .3 1.3-.5 1.2 .8 1.2 .7 1.3-.8 1.3-.1 1.2-.4 1.2 0 1.3-.4 1.3-.1 1.2 1.1 1.2 1.3 1.3-.2 1.3-.8 1.2-.5 1.2-.5 1.3-.3 1.3 .2 1.2 .7 1.2 .4 1.3 .5 1.3 .6 1.2-.3 1.2-.8 1.3-.7 1.3-.7 1.2 1 1.2 .2 1.3 .3 1.3 0 1.2-.1 1.2 .2 1.3-.2 1.3-.8 1.2-.5 1.2 .6 1.3 .1 1.3 .7 1.2 .4 1.2 .1 1.3 .9 1.3-.5 1.2-1.6 1.2-.5 1.3 .9 1.3 .3 1.2-.7 1.2-.2 1.3 .2 1.3 .4 1.2 0 1.2-.6 1.3 0 1.3 .2 1.2-.4 1.2 .3 1.3 .4 1.3 .8 1.2-.3 1.2 0 1.3-.1 1.3-.2 1.2-.1 1.2 .4 1.3-.1 1.3-.5 1.2 .3 1.2-.5 1.3-.4 1.3 1 1.2 .9 1.2-.2 1.3-.1 1.3-.4 1.2-.5 1.2 .9 1.3 0 1.3-.4 1.2-.3 1.2-.2 1.3 .2 1.3 .4 1.2 .1 1.2-.1 1.3-.9 1.3-.3 1.2-.5 1.2 1 1.3 .9 1.3-.8 1.2 .2 1.2 .1 1.3 .1 1.3 .3 1.2-.3 1.2-.2 1.3-.2 1.3 1 1.2 .1 1.2-.8 1.3 .2 1.3-.3 1.2-.4 1.2 .5 1.3 .4 1.3-.4 1.2-.1 1.2 0 1.3 .2 1.3 .1 1.2-.4 1.2-.2 1.3-.4 1.3-.7 1.2 .8 1.2 .3 1.3-.1 1.3 .5 1.2 .6 1.2 .1 1.3-.2 1.3-.8 1.2-.4 1.2-.3 1.3 0 1.3 .1 1.2-.2 1.2 0 1.3 .1 1.3 0 1.2-.7 1.2 0 1.3 1.6 1.3-.3 1.2-.3 1.2 .5 1.3 .2 1.3 .1 1.2-.1 1.2-.2 1.3-.6 1.3 .5 1.2 .2 1.2-.5 1.3 .1 1.3-.7 1.2-.4 1.2 .8 1.3-.5 1.3 0 1.2 .7 1.2-1.1 1.3-.6 1.3 1 1.2 .5 1.2-.3 1.3 .1 1.3 0 1.2 .2"/>
<path d="M93.5 393l1.3 0 1.2 1.5 1.2 .6 1.3-.5 1.3-.5 1.2-.7 1.2 .3 1.3 1.3 1.3-.4 1.2-1.1 1.2 .2 1.3 .6 1.3 .5 1.2-.9 1.2 0 1.3-.7 1.3 .3 1.2 1 1.2-.5 1.3 .2 1.3-.3 1.2 .5 1.2 .5 1.3-.1 1.3 .5 1.2 .2 1.2-1 1.3 .1 1.3-.6 1.2-.4 1.2-.4 1.3 .3 1.3 .5 1.2 .8 1.2 .3 1.3-.6 1.3-.6 1.2 .1 1.2 .8 1.3-.3 1.3-.6 1.2-.2 1.2-.1 1.3-.6 1.3 .5 1.2-.7 1.2 0 1.3 1.4 1.3-.3 1.2-.1 1.2 1.3 1.3-.6 1.3 .2 1.2 0 1.2-.5 1.3-.8 1.3 .3 1.2 .5 1.2 .5 1.3-.5 1.3-.2 1.2-.2 1.2-.4 1.3 .4 1.3-.4 1.2 .2 1.2 1.1 1.3 .9 1.3-1.3 1.2-.4 1.2 .4 1.3-.4 1.3 .2 1.2 .3 1.2-.2 1.3-.1 1.3 .1 1.2-.1 1.2-.8 1.3-.2 1.3 .2 1.2 .5 1.2 .4 1.3 .9 1.3-1.3 1.2 .3 1.2 .1 1.3 0 1.3 .1 1.2-.2 1.2-.1 1.3 0 1.3-.2 1.2-.2 1.2 .7 1.3 .7 1.3-1.4 1.2-.4 1.2 .1 1.3 .3 1.3 1.1 1.2 .5 1.2-.3 1.3-.6 1.3-1.2 1.2 .5 1.2-.2 1.3 .5 1.3 .1 1.2 .3 1.2-.4 1.3-.2 1.3 .6 1.2 .2 1.2-.2 1.3 .6 1.3-.6 1.2 0 1.2 0 1.3-.6 1.3-1.2 1.2 .7 1.2 .9 1.3 .6 1.3-.8 1.2 0 1.2 .6 1.3 .9 1.3-.3 1.2-.5 1.2-1 1.3 1.1 1.3 .1 1.2-.6 1.2-.1 1.3 0 1.3-.1 1.2 0 1.2 .6 1.3-.5 1.3-.4 1.2 .1 1.2 .4 1.3-.3 1.3-.6 1.2 .3 1.2 .1 1.3 1.1 1.3-.6 1.2 .9 1.2-.2 1.3 .4 1.3-1 1.2-.8 1.2-.1 1.3 .4 1.3 1.1 1.2-.3 1.2-.3 1.3-.1 1.3 .5 1.2-.4 1.2-.2 1.3-1 1.3-1 1.2 .4 1.2 .3 1.3 1.3 1.3-.5 1.2 .6 1.2 .1 1.3-.2 1.3-.2 1.2 .1 1.2 .2 1.3-.6 1.3-.3 1.2 .8 1.2-.3 1.3-.1 1.3-.3 1.2-.8 1.2 0 1.3 .7 1.3 .7 1.2-1.5 1.2-.2 1.3 .4 1.3-.3 1.2 3.3 1.2-1.8 1.3-.1 1.3 1.5 1.2-2 1.2 3.5 1.3-1.5 1.3-5.5 1.2-.6 1.2 5.8 1.3-2.4 1.3-1.2 1.2 3 1.2 4.9 1.3-5.7 1.3 2.3 1.2-.1 1.2 2.8 1.3-2.1 1.3-4.8 1.2 4.8 1.2 .3 1.3-1.9 1.3-1.7 1.2-1.3 1.2 0 1.3 1.2 1.3 3.7 1.2-.3 1.2-1.7 1.3-1.4 1.3-1.2 1.2 3.1 1.2-1.1 1.3 2.4 1.3-4.9 1.2-.2 1.2 4.7 1.3 0 1.3-3.9 1.2-.5 1.2 .1 1.3-1 1.3 1.6 1.2-.7 1.2 2 1.3-2 1.3 2.7 1.2-1.6 1.2-2.5 1.3 4.9 1.3-3.4 1.2 1.3 1.2-1.4 1.3-.1 1.3 2.7 1.2-4 1.2 3.9 1.3-1 1.3 2.8 1.2-2.4 1.2 3.4 1.3-.2 1.3-2.7 1.2-3.1 1.2 3.4 1.3-4.1 1.3 4.1 1.2-2.5 1.2 4.7 1.3-2.3 1.3-2.7 1.2-.1 1.2 2.1 1.3 1.7 1.3 1.8 1.2-.5 1.2 .1 1.3-9 1.3 .5 1.2 5.8 1.2 4.7 1.3-6.2 1.3-.2 1.2 1 1.2-3.1 1.3 2.9 1.3-1.4 1.2 5.5 1.2-3.2 1.3-.6 1.3 1.3 1.2-2.5 1.2 1.3 1.3 2.1 1.3-3.6 1.2 .2 1.2-2 1.3 .2 1.3 3.9 1.2 .4 1.2 1.2 1.3-.9 1.3-1.1 1.2-1.4 1.2 .2 1.3 4.2 1.3-.5 1.2-1.1 1.2-1.5 1.3 4.5 1.3-9.7 1.2 6.1 1.2-3.1 1.3-.1 1.3-2.2 1.2 4.4 1.2 1.7 1.3-2.5 1.3 3 1.2-5.4 1.2 3.4 1.3-1.9 1.3 3.7 1.2 1.7 1.2-4.7 1.3 1.6 1.3-.2 1.2 1.1 1.2-5.6 1.3 .4 1.3 1.2 1.2 1 1.2 3.6 1.3-2.1 1.3 1.1 1.2 .5 1.2-4.7 1.3 3.6 1.3-1.4 1.2 2.1 1.2 1.9 1.3-3.3 1.3 2.3 1.2-4 1.2 2 1.3 4.3 1.3 1.1 1.2-4.9 1.2 1.9 1.3 1.3 1.3-2.9 1.2 1.1 1.2-.8 1.3-2.3 1.3 1 1.2-.1 1.2 2 1.3-3.7 1.3 .7 1.2 5.7 1.2-1.1 1.3-2.3 1.3-3.1 1.2-.4 1.2 1.5 1.3 1.1 1.3-2.4 1.2 3.8 1.2-3.1 1.3-.9 1.3-1.8 1.2 5.5 1.2-.6 1.3 0 1.3 .6 1.2-.6 1.2-4.1 1.3 1.3 1.3-1.7 1.2 2.9 1.2 4.7 1.3-2.8 1.3-3.1 1.2 3.3 1.2-1.9 1.3 2.2 1.3-2.5 1.2-2.4 1.2 2.6 1.3-2 1.3-.4 1.2 2.5 1.2 4.3 1.3 .2 1.3-2.2 1.2-3.8 1.2 2.5 1.3-2.8 1.3 6.3 1.2 .4 1.2 1.3 1.3-3.4 1.3-1.6 1.2-2.1 1.2 .6 1.3 1.7 1.3-1.8 1.2-.2 1.2 .4 1.3 1.2 1.3-.7 1.2 .8 1.2-.2 1.3-.3 1.3 .1 1.2 .7 1.2 0 1.3-.1 1.3 1 1.2 .5 1.2-1.3 1.3-.5 1.3 0 1.2-.1 1.2 .1 1.3 .8 1.3-1.7 1.2 0 1.2 .9 1.3-1 1.3-.2 1.2-.4 1.2 .6 1.3 1.2 1.3 .5 1.2-.7 1.2-.2 1.3 0 1.3-.6 1.2 .2 1.2 0 1.3 .8 1.3 .9 1.2-.2 1.2 .3 1.3-.9 1.3 .3 1.2-.7 1.2-.4 1.3 .4 1.3 .5 1.2-.9 1.2-.9 1.3 .9 1.3 1.3 1.2-.3 1.2-.6 1.3-.5 1.3 .5 1.2 .2 1.2-.3 1.3-.2 1.3 .2 1.2 1.1 1.2 1.2 1.3 .1 1.3 .1 1.2-.7 1.2-1.1 1.3 .6 1.3 0 1.2-1.3 1.2 .3 1.3 .8 1.3 .6 1.2-.3 1.2-.7 1.3 .2 1.3-1.2 1.2-1 1.2 1.4 1.3 .1 1.3 .2 1.2 .2 1.2-.6 1.3-.5 1.3 .2 1.2 0 1.2 0 1.3 .4 1.3-.2 1.2-1.2 1.2 .3 1.3 .4 1.3-.6 1.2 .5 1.2 0 1.3 .2 1.3 1.2 1.2-.5 1.2-.1 1.3-.3 1.3-.2 1.2 1 1.2 .7 1.3-.9 1.3 .2 1.2 .1 1.2 .3 1.3 .4 1.3 .5 1.2-1 1.2-.9 1.3-.2 1.3 .6 1.2 0 1.2-.6 1.3 .6 1.3 0 1.2 .6 1.2-.8 1.3-.9 1.3-.1 1.2 .6 1.2 .5 1.3-.3 1.3-.4 1.2-.2 1.2 0 1.3 .1 1.3 .1 1.2 .6 1.2-.8 1.3 .1 1.3-.6 1.2 .3 1.2 1.1 1.3 1.2 1.3-.2 1.2-.5 1.2 .2 1.3-.1 1.3-.5 1.2 0 1.2 0 1.3-1.1 1.3 0 1.2-.1 1.2 0 1.3-.1 1.3-.2 1.2-.4 1.2 .6 1.3 1 1.3 .2 1.2-.2 1.2 0 1.3 .6 1.3-.8 1.2 1 1.2 .1 1.3-1.2 1.3 .5 1.2 .7 1.2-.3 1.3 0 1.3-.7 1.2 0 1.2 .5 1.3-.1 1.3-.9 1.2 .2 1.2-.2 1.3 .4 1.3 0 1.2 .5 1.2 .1 1.3-.5 1.3-.2 1.2-.1 1.2-.4 1.3 .8 1.3 .4 1.2-.5 1.2 .1 1.3 .4 1.3 .2 1.2-.7 1.2 0 1.3-.1 1.3 .2 1.2 .1 1.2 .2 1.3 0 1.3-.2 1.2 .2 1.2 .1 1.3 .2 1.3-1.1 1.2 .9 1.2-.7 1.3-.1 1.3 .3 1.2 .4 1.2-.2 1.3-.7 1.3 .2 1.2 .3 1.2 .5 1.3 0 1.3 .1 1.2-.1"/>
<path d="M93.5 404.3l1.3-.5 1.2-.2 1.2 .6 1.3-.2 1.3-.3 1.2 .4 1.2-.5 1.3-.9 1.3-.4 1.2 .5 1.2-.9 1.3 1 1.3 2.2 1.2 0 1.2-.3 1.3-.1 1.3-.5 1.2 .2 1.2-.8 1.3-.2 1.3 .4 1.2 .4 1.2-.3 1.3-.2 1.3 .2 1.2 .6 1.2-.3 1.3-.6 1.3 .7 1.2 .1 1.2-.1 1.3-.6 1.3 0 1.2-.3 1.2 .2 1.3 .6 1.3 .1 1.2-1.2 1.2 .8 1.3 .7 1.3 0 1.2 .6 1.2 .1 1.3-.5 1.3-.3 1.2 .5 1.2-.8 1.3-.7 1.3 .1 1.2-.8 1.2 .8 1.3-.2 1.3 .6 1.2 .7 1.2 .2 1.3-.2 1.3 0 1.2 1.2 1.2-.5 1.3-1.7 1.3 .5 1.2 0 1.2 .6 1.3-.3 1.3-.3 1.2 0 1.2 .6 1.3 .3 1.3 .4 1.2-.4 1.2-.3 1.3 .5 1.3-1.2 1.2-1.3 1.2 .8 1.3 .1 1.3-.2 1.2 .4 1.2 1 1.3-.1 1.3-.8 1.2 .2 1.2 .8 1.3-.4 1.3-1 1.2 .1 1.2 .8 1.3 .3 1.3 .6 1.2-.3 1.2-1.1 1.3 .4 1.3 .1 1.2 .2 1.2-.7 1.3-.1 1.3 .2 1.2 .4 1.2 0 1.3-.3 1.3-.4 1.2 .5 1.2-.1 1.3 .5 1.3 0 1.2-.2 1.2 .6 1.3-.1 1.3-.1 1.2-.8 1.2-.7 1.3 .1 1.3 .2 1.2-.4 1.2 .7 1.3 .3 1.3 .1 1.2 0 1.2 .4 1.3 .4 1.3-.9 1.2-.6 1.2-.8 1.3 .8 1.3 .4 1.2-.4 1.2 .2 1.3-.5 1.3 .3 1.2 .5 1.2-.3 1.3 1 1.3 .2 1.2-1.4 1.2-.2 1.3 .1 1.3 .4 1.2 .3 1.2 .5 1.3 .7 1.3-1.2 1.2-1.2 1.2 .1 1.3-.3 1.3 0 1.2 .8 1.2 .9 1.3 .8 1.3 .3 1.2-1.3 1.2-.3 1.3-.5 1.3-.4 1.2 .6 1.2 .5 1.3 .4 1.3-.3 1.2-1.1 1.2 .2 1.3 .6 1.3 .2 1.2 .4 1.2 0 1.3-.9 1.3 .2 1.2 .7 1.2 0 1.3-.7 1.3-.3 1.2 .9 1.2-.3 1.3 .1 1.3 .2 1.2-.9 1.2 .8 1.3 .3 1.3-.2 1.2 .4 1.2 0 1.3-3.2 1.3 2.6 1.2 3.4 1.2-.3 1.3 3.2 1.3-9 1.2-1.4 1.2 5.3 1.3-3.5 1.3 3.5 1.2-.2 1.2-5.3 1.3 4.6 1.3 .4 1.2-2.3 1.2-2.8 1.3 8.2 1.3-1.9 1.2-1.2 1.2-.8 1.3 1.9 1.3-.8 1.2 0 1.2-2.6 1.3 3.5 1.3-.5 1.2 .3 1.2-.6 1.3-1.4 1.3 .1 1.2 1.2 1.2-1.1 1.3-2.3 1.3 3.1 1.2 .2 1.2 0 1.3 1 1.3-1.1 1.2-.1 1.2-.4 1.3 .1 1.3-1.1 1.2-.6 1.2 1 1.3 2.1 1.3-2.3 1.2 .3 1.2 1.9 1.3-2.2 1.3 0 1.2 1 1.2 1.5 1.3-3.2 1.3 .7 1.2 2.4 1.2-.3 1.3-1.8 1.3-1.5 1.2 .1 1.2 1 1.3 3 1.3-1.7 1.2-1 1.2-.5 1.3 .6 1.3-1.9 1.2-.3 1.2-.3 1.3 3.9 1.3-1.2 1.2 .1 1.2 .7 1.3 .6 1.3-.8 1.2-2 1.2-1.2 1.3 2.3 1.3 .7 1.2 1 1.2 1.5 1.3-3 1.3-.5 1.2-.5 1.2 1.5 1.3 .4 1.3-1 1.2 .4 1.2 .3 1.3-1.4 1.3 .1 1.2 2.4 1.2-1.3 1.3 .6 1.3-.9 1.2 .2 1.2 .7 1.3-3 1.3 .6 1.2-1.8 1.2 2.9 1.3 .9 1.3 .8 1.2-.5 1.2-.3 1.3-1.5 1.3 1 1.2 1.4 1.2-.8 1.3-1.4 1.3 .8 1.2-.9 1.2-1.1 1.3 2.6 1.3-2.1 1.2 1.5 1.2 .5 1.3-1.3 1.3-.2 1.2-.2 1.2-1.2 1.3 .4 1.3 .5 1.2 .7 1.2-1.6 1.3-.1 1.3 2.3 1.2 .7 1.2-.7 1.3 2.4 1.3-1.6 1.2-1.9 1.2 1.2 1.3-.5 1.3 2.4 1.2-.2 1.2 1.1 1.3-3.5 1.3 0 1.2 .2 1.2 1.3 1.3-1.4 1.3-1.2 1.2 1.2 1.2-.8 1.3 .6 1.3 1.5 1.2-.9 1.2 1.8 1.3-.7 1.3-.8 1.2 0 1.2 0 1.3-2.2 1.3 1 1.2-.2 1.2-2 1.3 2.2 1.3 1.2 1.2 .5 1.2-.9 1.3 .6 1.3 .5 1.2 .3 1.2-1.1 1.3-2 1.3 1.5 1.2-1.6 1.2-.5 1.3 2.3 1.3 .8 1.2 .5 1.2-.7 1.3 1.2 1.3-2.7 1.2 2 1.2-2 1.3 1.2 1.3 .5 1.2-1.4 1.2 3.6 1.3-1.5 1.3-1.6 1.2 .9 1.2-1.8 1.3 2.5 1.3-1.4 1.2-.6 1.2 .8 1.3-1 1.3 .7 1.2-.4 1.2-.4 1.3 1.2 1.3 .5 1.2-.4 1.2 .5 1.3-2.5 1.3 .1 1.2-.9 1.2 3.2 1.3 .5 1.3 0 1.2-4.4 1.2 2.2 1.3 1.4 1.3-.5 1.2-.1 1.2-2 1.3 .5 1.3 1.4 1.2 .4 1.2 1.3 1.3-1.5 1.3 1.6 1.2-.1 1.2 .4 1.3-.3 1.3-2.1 1.2 1.4 1.2-.4 1.3-.8 1.3 0 1.2 2.6 1.2-1.6 1.3-1.7 1.3 .8 1.2-1.1 1.2 .4 1.3 1.4 1.3 2.1 1.2-2 1.2-1.2 1.3 2.4 1.3-1.8 1.2-.1 1.2 1 1.3-.2 1.3 1.5 1.2-2.1 1.2-.4 1.3-.8 1.3 0 1.2 1.9 1.2 1.4 1.3-1.5 1.3 0 1.2-.6 1.2 1.4 1.3-.5 1.3 .4 1.2-1.1 1.2 .4 1.3 .2 1.3-1.8 1.2 2.4 1.2-1 1.3 .3 1.3 .9 1.2-.1 1.2-1.7 1.3 0 1.3 1 1.2-.1 1.2-.5 1.3 0 1.3 .1 1.2 0 1.2 .2 1.3-.5 1.3 .2 1.2-.1 1.2-.5 1.3-1 1.3 .4 1.2 .2 1.2 .9 1.3 .7 1.3-.3 1.2 0 1.2 .4 1.3-.6 1.3-.1 1.2 .4 1.2-1.6 1.3 .7 1.3 .8 1.2-.6 1.2 .3 1.3-.3 1.3 .6 1.2-1.5 1.2-1.8 1.3 1.7 1.3 .8 1.2-.9 1.2 .4 1.3 .6 1.3 .1 1.2-.2 1.2 .3 1.3-1.1 1.3-.1 1.2 .1 1.2 .6 1.3 .6 1.3-.1 1.2-.3 1.2 1.4 1.3-.3 1.3-.7 1.2-.3 1.2 1.1 1.3-.2 1.3-.3 1.2-.3 1.2 .4 1.3-1.3 1.3-.3 1.2 1.2 1.2 .1 1.3-.2 1.3 .3 1.2 0 1.2-.5 1.3 0 1.3 .8 1.2-.3 1.2 .2 1.3-.4 1.3-.1 1.2 .5 1.2-.1 1.3-.3 1.3-.5 1.2-.6 1.2 1 1.3 1.7 1.3-.4 1.2-1.3 1.2 .5 1.3-.1 1.3-.1 1.2 .7 1.2-.1 1.3-.6 1.3-.2 1.2 .2 1.2 .4 1.3-.3 1.3 0 1.2 .2 1.2-.9 1.3 .3 1.3 .5 1.2 .1 1.2 .5 1.3 .2 1.3 0 1.2-.3 1.2-.4 1.3-.9 1.3 .4 1.2 .3 1.2-.2 1.3 .3 1.3-.1 1.2 .2 1.2 .5 1.3 .5 1.3-.7 1.2 .4 1.2 .3 1.3 1.3 1.3 .4 1.2-1.3 1.2-.5 1.3-.6 1.3-.1 1.2 .3 1.2-.7 1.3-.7 1.3 .1 1.2 .1 1.2 .6 1.3-.1 1.3-1 1.2 .1 1.2 .9 1.3 .8 1.3-1 1.2-.9 1.2-.4 1.3 .2 1.3-.8 1.2 .8 1.2 .8 1.3 .6 1.3 0 1.2-.4 1.2 .1 1.3 .2 1.3-.7 1.2 0 1.2 .8 1.3 .2 1.3 0 1.2-.1 1.2 .2 1.3-.7 1.3-1.3 1.2-.1 1.2 .8 1.3 0 1.3-.5 1.2 .3 1.2 .1 1.3-.1 1.3 .4 1.2-.4 1.2-.2 1.3-.2 1.3 .2 1.2 1"/>
<path d="M93.5 415.4l1.3-.6 1.2-.3 1.2 .8 1.3-.1 1.3-.2 1.2 .9 1.2 .3 1.3-1.2 1.3-.4 1.2 .1 1.2-.8 1.3-.3 1.3 .5 1.2 .4 1.2 0 1.3 .8 1.3 0 1.2-.4 1.2-.1 1.3 .8 1.3-.4 1.2 .2 1.2-.5 1.3 0 1.3 .2 1.2 .6 1.2-.1 1.3-1 1.3-.5 1.2 .5 1.2 .4 1.3 .1 1.3-.4 1.2 .1 1.2-.4 1.3 .8 1.3 0 1.2-.3 1.2 .7 1.3-1.1 1.3-1 1.2 .5 1.2 .7 1.3-.6 1.3-.5 1.2 1.3 1.2 1.3 1.3-.4 1.3-.2 1.2 0 1.2 0 1.3-.9 1.3-.9 1.2-.3 1.2 .4 1.3 1 1.3-.4 1.2-.7 1.2 .3 1.3 1 1.3 .4 1.2-.4 1.2-.1 1.3-1 1.3-.9 1.2 1.2 1.2 1 1.3-.2 1.3 .3 1.2-1.3 1.2 .6 1.3 .7 1.3 .2 1.2-.2 1.2-.6 1.3-.3 1.3 0 1.2 0 1.2 .1 1.3 0 1.3-.5 1.2 .6 1.2 .2 1.3-1.1 1.3 .7 1.2 1.1 1.2-.8 1.3-.2 1.3 0 1.2-1 1.2-.4 1.3 .8 1.3 .3 1.2 .2 1.2 0 1.3-.8 1.3 .3 1.2 .7 1.2 .2 1.3-.2 1.3 .1 1.2 .2 1.2 .5 1.3-1.4 1.3 1.1 1.2 .5 1.2-.6 1.3 0 1.3-.9 1.2 0 1.2 .6 1.3 .9 1.3-.8 1.2-.1 1.2-.5 1.3 .7 1.3-.5 1.2-.5 1.2-.2 1.3 .6 1.3 .6 1.2-.5 1.2-.4 1.3 .3 1.3 .5 1.2 0 1.2-.2 1.3-.1 1.3-.4 1.2-.7 1.2 .1 1.3 1 1.3 .1 1.2-.8 1.2-.1 1.3 .1 1.3 .1 1.2 0 1.2 .9 1.3 0 1.3 .4 1.2 1 1.2-1.1 1.3-.2 1.3 .4 1.2-2 1.2-1 1.3 1.6 1.3-.3 1.2 .8 1.2 .6 1.3-.7 1.3 .4 1.2-.5 1.2-.1 1.3-.4 1.3 .3 1.2 .9 1.2 .9 1.3-.1 1.3-.4 1.2-.1 1.2-.9 1.3 .3 1.3 .4 1.2 .4 1.2-1.3 1.3-.5 1.3 1.3 1.2 .4 1.2-1 1.3-.4 1.3-.3 1.2 .3 1.2 .6 1.3-.4 1.3 .9 1.2 .2 1.2-1.2 1.3 1 1.3-2.2 1.2 1.1 1.2 4.5 1.3 2.9 1.3-2.3 1.2-8.4 1.2 4.1 1.3 6.8 1.3-1.3 1.2-.9 1.2-7.4 1.3 8 1.3-.6 1.2-7.9 1.2 12.5 1.3-2.9 1.3-10.5 1.2 1.9 1.2 2.9 1.3-.3 1.3 4.4 1.2-3.1 1.2 3.9 1.3-6.2 1.3 4.8 1.2-5.6 1.2 2.3 1.3 1.4 1.3-3 1.2 0 1.2-.5 1.3 .9 1.3-.1 1.2 .4 1.2 .2 1.3-1.2 1.3-.5 1.2 .4 1.2-.1 1.3 .6 1.3-.5 1.2 .8 1.2 .7 1.3-.4 1.3-.2 1.2 .8 1.2-.4 1.3-.5 1.3 .2 1.2 .3 1.2-.1 1.3 .1 1.3-.1 1.2-1.3 1.2-.5 1.3 1.9 1.3 .1 1.2-.3 1.2 .7 1.3-.4 1.3-1.2 1.2 0 1.2 1.1 1.3 .4 1.3-.3 1.2-.4 1.2-1.3 1.3 .2 1.3 1.1 1.2 0 1.2-.5 1.3 .5 1.3 .7 1.2-.3 1.2-.1 1.3 .1 1.3 .2 1.2-.5 1.2 .2 1.3 .5 1.3 .1 1.2 .5 1.2-1 1.3-.1 1.3 .4 1.2-.5 1.2-1 1.3 .3 1.3 1.2 1.2 .1 1.2-.3 1.3-1.4 1.3 .8 1.2 1.2 1.2-.3 1.3-.4 1.3 1.3 1.2-.6 1.2-1.5 1.3-.3 1.3-.3 1.2 1.3 1.2 .7 1.3-1 1.3 .1 1.2 .1 1.2-.2 1.3-.6 1.3 .8 1.2 .7 1.2 .4 1.3-.8 1.3-.3 1.2 0 1.2-.5 1.3 .3 1.3 .7 1.2-.2 1.2-.8 1.3-.2 1.3-.1 1.2-.3 1.2 .3 1.3 1.4 1.3 .2 1.2-.8 1.2-.4 1.3 .4 1.3-.1 1.2 .7 1.2 0 1.3-.1 1.3-.4 1.2 .3 1.2 .3 1.3-.3 1.3 .1 1.2-.3 1.2-.2 1.3 .9 1.3 .6 1.2 .2 1.2-2.2 1.3-2.7 1.3 .2 1.2 3.2 1.2-.2 1.3-.8 1.3 1 1.2-.3 1.2-1.1 1.3 .9 1.3 0 1.2-.5 1.2 .3 1.3 .3 1.3-.6 1.2 .7 1.2 .4 1.3-1 1.3 .4 1.2-.6 1.2 .7 1.3 .4 1.3 .4 1.2-.1 1.2-.2 1.3-.1 1.3-.1 1.2 .2 1.2 .2 1.3 .1 1.3 .2 1.2 .4 1.2-.2 1.3-.8 1.3 .1 1.2 .6 1.2-.1 1.3-.6 1.3 .2 1.2-.4 1.2-.6 1.3 .6 1.3 .5 1.2-.3 1.2 .4 1.3 .1 1.3-1 1.2 .8 1.2-.5 1.3-1.4 1.3 .1 1.2 .5 1.2-.5 1.3-.2 1.3 .1 1.2 .8 1.2-.2 1.3-.4 1.3 1.2 1.2-.4 1.2 .4 1.3 .5 1.3-.2 1.2 .3 1.2 .1 1.3-.8 1.3-.1 1.2 .1 1.2-.7 1.3-.2 1.3-.3 1.2 1.2 1.2 .4 1.3 .7 1.3-.9 1.2-.5 1.2 0 1.3 .6 1.3-.7 1.2 .1 1.2 1 1.3 0 1.3-.1 1.2 .4 1.2-.4 1.3-1.3 1.3 .4 1.2 0 1.2-.7 1.3 0 1.3 .4 1.2 .4 1.2 1.1 1.3 .6 1.3-1.3 1.2-1.1 1.2-.4 1.3 1.3 1.3 .5 1.2-.5 1.2-1.3 1.3 .8 1.3 .2 1.2 .6 1.2 .6 1.3-.2 1.3-.8 1.2-.2 1.2-.1 1.3-.2 1.3 .3 1.2 0 1.2-.4 1.3 .4 1.3 1.2 1.2 .2 1.2-1.4 1.3-.2 1.3-.1 1.2 .5 1.2 .2 1.3 0 1.3-1.1 1.2 1 1.2 .7 1.3 .7 1.3-.9 1.2-.6 1.2 .5 1.3 .2 1.3-.1 1.2-.4 1.2-.1 1.3 .6 1.3-.2 1.2 .1 1.2-.4 1.3 1.2 1.3-.1 1.2-1.5 1.2-.8 1.3 .7 1.3 1.6 1.2-.8 1.2-.6 1.3 .1 1.3-.1 1.2 .3 1.2-.5 1.3-.1 1.3 0 1.2 .6 1.2-.3 1.3 0 1.3 .6 1.2-.7 1.2-.3 1.3 .9 1.3 .3 1.2 .3 1.2-1 1.3-.1 1.3 .3 1.2-.1 1.2-.3 1.3-.2 1.3 1.4 1.2-.1 1.2-1.3 1.3 .2 1.3 1.4 1.2-.7 1.2-.8 1.3-.7 1.3 .7 1.2 .9 1.2 .3 1.3-.1 1.3-.4 1.2-.8 1.2 .3 1.3-.1 1.3 .5 1.2 .6 1.2-.9 1.3-1 1.3 .6 1.2-.2 1.2-1.1 1.3 1 1.3 1.2 1.2-.1 1.2-.3 1.3 0 1.3-.2 1.2-.5 1.2-.5 1.3-.3 1.3 .3 1.2 .6 1.2 .7 1.3 .1 1.3-.2 1.2 .1 1.2 .2 1.3-.1 1.3 .5 1.2-.5 1.2-.7 1.3 1 1.3 .2 1.2-1.3 1.2 .2 1.3 .3 1.3-1.6 1.2-.5 1.2 1.9 1.3 .8 1.3-1 1.2-.2 1.2 .7 1.3 .8 1.3 .1 1.2-.3 1.2-.6 1.3 .7 1.3 .2 1.2-.5 1.2 .1 1.3 .4 1.3 0 1.2 0 1.2-1.1 1.3-.6 1.3 0 1.2-.3 1.2 1.2 1.3 .1 1.3 .3 1.2 1.2 1.2-.2 1.3-.7 1.3-.2 1.2-.2 1.2-.4 1.3-.5 1.3 .7 1.2-.2 1.2-.6 1.3-.5 1.3 1 1.2 .4 1.2 0 1.3 .4 1.3-.4 1.2-1 1.2 0 1.3 .8 1.3-.2 1.2-.3 1.2-.1 1.3 .3 1.3 .3 1.2 0 1.2 .4 1.3 0 1.3-.3 1.2-.5 1.2 .1 1.3 .1 1.3-.1 1.2 0 1.2-.3 1.3-.2 1.3 .6 1.2-.6 1.2 .4 1.3-.7 1.3 .1 1.2 .6"/>
<path d="M93.5 425.2l1.3 .1 1.2-.1 1.2-.7 1.3 .2 1.3 .4 1.2 .5 1.2-.3 1.3-.6 1.3-.1 1.2 .4 1.2-.4 1.3-1.6 1.3-1.1 1.2 .2 1.2 2.1 1.3 .8 1.3-.2 1.2 0 1.2-.1 1.3 .3 1.3 .3 1.2-.3 1.2-.4 1.3 .6 1.3-.4 1.2-.6 1.2-.1 1.3 .1 1.3 1.3 1.2-.1 1.2 .2 1.3-.2 1.3-.4 1.2-.1 1.2 .3 1.3 .8 1.3 2 1.2-.4 1.2-1.4 1.3-.7 1.3 .1 1.2 .2 1.2-.4 1.3 .2 1.3-.3 1.2 0 1.2-.3 1.3-.1 1.3-.3 1.2 .2 1.2-.1 1.3-.1 1.3 .3 1.2 .4 1.2-.3 1.3 .4 1.3-.2 1.2-.3 1.2 .1 1.3 .5 1.3-.4 1.2 0 1.2 .3 1.3 .1 1.3 .6 1.2-.3 1.2-.6 1.3 .3 1.3-.1 1.2 .4 1.2-.7 1.3 .3 1.3 .4 1.2-.6 1.2-.2 1.3 .2 1.3-.1 1.2-.1 1.2-.8 1.3 .3 1.3 .4 1.2 .2 1.2-.5 1.3-.1 1.3 .7 1.2 0 1.2-.6 1.3-.1 1.3 0 1.2-.3 1.2 .6 1.3 .2 1.3 .3 1.2 .5 1.2-.4 1.3-.2 1.3 .3 1.2-.7 1.2-.2 1.3-.2 1.3 .3 1.2 .2 1.2-.3 1.3 .1 1.3 .4 1.2 .1 1.2-.1 1.3 .3 1.3 .1 1.2-.6 1.2-.4 1.3 .6 1.3 .3 1.2-.1 1.2-.4 1.3-.4 1.3 .4 1.2 .6 1.2-.2 1.3-.4 1.3 .1 1.2 .3 1.2 0 1.3 0 1.3 .3 1.2-.3 1.2-.1 1.3 0 1.3 .1 1.2-.2 1.2-.5 1.3 .4 1.3 .3 1.2 .1 1.2 0 1.3-.4 1.3 .2 1.2 .3 1.2-.1 1.3-.3 1.3-.2 1.2 .3 1.2 .4 1.3 .2 1.3-.2 1.2 0 1.2 0 1.3-.1 1.3 0 1.2-.7 1.2 0 1.3-.1 1.3 .4 1.2-.1 1.2-.5 1.3 .2 1.3 .1 1.2 .3 1.2 0 1.3-.2 1.3 .6 1.2 .6 1.2-.3 1.3-.4 1.3-.1 1.2-.3 1.2 .1 1.3-.2 1.3 .3 1.2 .7 1.2-.8 1.3 0 1.3-.7 1.2 0 1.2 .7 1.3-.1 1.3-.1 1.2 .5 1.2-.5 1.3-.3 1.3 .3 1.2-.1 1.2 .1 1.3 .2 1.3-.1 1.2-.2 1.2 .4 1.3-.3 1.3 .8 1.2-.2 1.2 1 1.3 .1 1.3-1.7 1.2-.1 1.2-.9 1.3 1.2 1.3 .3 1.2 .3 1.2-.9 1.3 1.3 1.3-2.5 1.2-1.1 1.2 2 1.3 .7 1.3-.5 1.2 1.3 1.2-1.5 1.3-.5 1.3 1.2 1.2 .4 1.2-.8 1.3-1 1.3 .6 1.2 1.2 1.2-.7 1.3 .5 1.3-1.5 1.2 2.4 1.2-1.5 1.3-.6 1.3-.3 1.2 1.1 1.2-.9 1.3 2.9 1.3-1.5 1.2-.3 1.2-.8 1.3 .7 1.3-.2 1.2 1.2 1.2-1 1.3 1.8 1.3-2.4 1.2-.1 1.2 .7 1.3 .6 1.3-1.1 1.2-.9 1.2-.7 1.3 1.3 1.3 0 1.2 .3 1.2 .1 1.3 .4 1.3 .8 1.2-1.9 1.2 0 1.3 .3 1.3 1.3 1.2 2.6 1.2-3 1.3-2.3 1.3 2.2 1.2-.4 1.2 .5 1.3-.2 1.3 .7 1.2-2.3 1.2 2.3 1.3 1.3 1.3 .2 1.2-1 1.2-2.2 1.3 1.1 1.3 .2 1.2-.2 1.2 .2 1.3-1 1.3 .1 1.2-1.5 1.2 2.4 1.3-.6 1.3-.9 1.2-1.5 1.2 2.1 1.3 1.2 1.3-.7 1.2-1.6 1.2 .5 1.3 2.4 1.3-1.2 1.2 1.1 1.2 0 1.3-1.8 1.3 .4 1.2 1.6 1.2-.7 1.3-.4 1.3-.1 1.2 .9 1.2-1.2 1.3 1.3 1.3 .5 1.2-.2 1.2 .1 1.3-1.5 1.3-.7 1.2 .6 1.2 .4 1.3-1.6 1.3 .9 1.2 0 1.2 .5 1.3 .2 1.3 .5 1.2-1.1 1.2 1.5 1.3-1.9 1.3-.4 1.2 .9 1.2-.4 1.3 1.3 1.3-1.4 1.2 1 1.2-1.2 1.3 1.8 1.3-.9 1.2 .4 1.2-1.5 1.3 .9 1.3 0 1.2-.3 1.2 1.3 1.3-1.2 1.3 1.4 1.2-.7 1.2 .5 1.3-1.1 1.3-.8 1.2 1.7 1.2-1.8 1.3 1 1.3 .4 1.2-1.2 1.2 2 1.3-2.5 1.3 .7 1.2 .2 1.2 2.2 1.3-1 1.3-1.2 1.2 0 1.2 .4 1.3 .2 1.3 .5 1.2-.5 1.2-1 1.3 1.2 1.3-2 1.2 .4 1.2 .9 1.3 1.9 1.3-1.9 1.2-.4 1.2 1.9 1.3 .5 1.3-.3 1.2-1.1 1.2-.7 1.3-.9 1.3 1.5 1.2 .1 1.2 .3 1.3-1 1.3-.3 1.2 1 1.2-.5 1.3-1.1 1.3 .1 1.2 .7 1.2-.2 1.3-.4 1.3 1.6 1.2-1.1 1.2 .2 1.3 .2 1.3 .4 1.2-.3 1.2-2.3 1.3 1.8 1.3 .4 1.2-.1 1.2-1.1 1.3 .5 1.3 1.3 1.2-.5 1.2-1.4 1.3 .2 1.3 1.3 1.2-.3 1.2 .1 1.3 1 1.3-.2 1.2 .7 1.2 2.1 1.3 0 1.3-2.5 1.2-1.2 1.2 .6 1.3 2.1 1.3-2.2 1.2 .9 1.2-.5 1.3-.5 1.3-1.2 1.2 1.5 1.2 1.1 1.3-1.4 1.3-.1 1.2 .1 1.2 1.4 1.3-2 1.3-.2 1.2 2.8 1.2-1.1 1.3-.8 1.3-1.4 1.2 3.2 1.2-1.4 1.3-2 1.3 2 1.2-1.1 1.2 .2 1.3 2.2 1.3 .2 1.2-2.5 1.2 .1 1.3 .2 1.3 .1 1.2-.2 1.2 .9 1.3 .2 1.3-2 1.2 1.7 1.2 .4 1.3-.1 1.3-.7 1.2 .4 1.2 .3 1.3 .1 1.3-.3 1.2-.8 1.2-.3 1.3 .6 1.3-.1 1.2-.2 1.2 .5 1.3-.1 1.3-.6 1.2-.1 1.2 .2 1.3-.1 1.3 .7 1.2-.1 1.2 .1 1.3 .1 1.3-.5 1.2 0 1.2 .7 1.3-.3 1.3 0 1.2 .4 1.2 .2 1.3-.9 1.3 0 1.2 .4 1.2 .4 1.3 .1 1.3-.4 1.2-.4 1.2 .4 1.3 0 1.3-.2 1.2-.7 1.2 .6 1.3 .2 1.3 0 1.2-.1 1.2-.7 1.3-.8 1.3 .5 1.2 .2 1.2 .5 1.3 .1 1.3 .8 1.2 .5 1.2-.5 1.3-.7 1.3-.1 1.2 .4 1.2 .4 1.3 .2 1.3-.7 1.2-.5 1.2 0 1.3 .5 1.3 .3 1.2-.6 1.2 .2 1.3 .2 1.3 0 1.2 .1 1.2-.2 1.3-.8 1.3-.5 1.2 .2 1.2 .5 1.3 .5 1.3 .2 1.2-.2 1.2 .4 1.3 .5 1.3-.4 1.2-.4 1.2-.4 1.3-.2 1.3 .4 1.2 0 1.2-.2 1.3 .1 1.3 0 1.2 .1 1.2-.5 1.3 .1 1.3 .1 1.2-.5 1.2-.2 1.3 .2 1.3 .5 1.2 .1 1.2-.4 1.3-.2 1.3-.1 1.2 .1 1.2 .6 1.3 .3 1.3 0 1.2 .1 1.2 .3 1.3-.3 1.3-.3 1.2 0 1.2 .2 1.3 0 1.3 .7 1.2-.1 1.2-1.2 1.3 .5 1.3 .4 1.2 0 1.2-.3 1.3-.4 1.3 .5 1.2 .1 1.2-.2 1.3-.3 1.3 0 1.2 0 1.2 .4 1.3-.3 1.3-.3 1.2 .4 1.2 .1 1.3-.3 1.3 .1 1.2-.1 1.2 .3 1.3 0 1.3 .2 1.2-.3 1.2 .2 1.3 .5 1.3-.1 1.2-.4 1.2-.2 1.3 0 1.3 .3 1.2 .4 1.2-.5 1.3-.2 1.3 .5 1.2 .3 1.2-.7 1.3-.7 1.3 .4 1.2 .3 1.2-.6 1.3-.5 1.3 .5 1.2 .5 1.2 .2 1.3-.3 1.3-.1 1.2 .1 1.2 .3 1.3 .2 1.3-.2 1.2-.1 1.2-.3 1.3 .2 1.3 .5 1.2-.1"/>
<path d="M93.5 435.7l1.3 .6 1.2 .2 1.2 0 1.3-.9 1.3-.8 1.2 .7 1.2 .2 1.3-.5 1.3 .4 1.2 .2 1.2 .4 1.3 .1 1.3-.6 1.2-.5 1.2-.7 1.3 0 1.3 .6 1.2 .1 1.2-.3 1.3 .4 1.3 .3 1.2-.3 1.2 .5 1.3-.9 1.3 0 1.2 .2 1.2 .1 1.3 .1 1.3-.3 1.2-.2 1.2 .4 1.3-.2 1.3-.2 1.2 .2 1.2 .3 1.3 .2 1.3 .5 1.2-.5 1.2 0 1.3 .4 1.3 .1 1.2 .1 1.2-.8 1.3-.6 1.3 .3 1.2 .9 1.2-.3 1.3 0 1.3 .2 1.2-.3 1.2 .5 1.3 .3 1.3-.4 1.2 .4 1.2-.2 1.3-1 1.3 .1 1.2 .1 1.2-.2 1.3-.2 1.3-.1 1.2 .7 1.2 .7 1.3-.2 1.3-.5 1.2-.4 1.2 0 1.3 .1 1.3 .6 1.2-.4 1.2-.2 1.3 .1 1.3-.1 1.2 0 1.2 0 1.3 .4 1.3 0 1.2 .6 1.2-.3 1.3-.4 1.3-.4 1.2-.8 1.2 0 1.3 .6 1.3 .2 1.2 .4 1.2-.3 1.3-.5 1.3-.1 1.2 .7 1.2 .3 1.3-.2 1.3-.3 1.2 .3 1.2 .3 1.3 .4 1.3-.3 1.2-.4 1.2-.2 1.3 .3 1.3 .5 1.2-.5 1.2-.4 1.3 0 1.3 .6 1.2 .8 1.2 .1 1.3-.7 1.3 .1 1.2 0 1.2-.2 1.3 .2 1.3-.1 1.2-.4 1.2-.2 1.3 .1 1.3 0 1.2-.3 1.2 .2 1.3 .4 1.3-.1 1.2-.1 1.2 .2 1.3-.6 1.3 .4 1.2-.1 1.2-.3 1.3 .1 1.3-.1 1.2 .2 1.2 .1 1.3 .5 1.3 .2 1.2-.2 1.2 0 1.3 .1 1.3 .1 1.2-.2 1.2-.4 1.3 .2 1.3-.3 1.2-.4 1.2 .3 1.3-.1 1.3 .4 1.2 .3 1.2 .1 1.3-.4 1.3-.8 1.2-.1 1.2 .5 1.3 .5 1.3-.4 1.2-.3 1.2 .6 1.3 .2 1.3 .4 1.2 .4 1.2 .1 1.3-1 1.3-.3 1.2 .3 1.2 .1 1.3-.3 1.3-.9 1.2-.5 1.2 .9 1.3 .3 1.3-.3 1.2 0 1.2 .8 1.3-1.4 1.3-1.1 1.2 2 1.2 .3 1.3 .3 1.3 0 1.2-.7 1.2 .2 1.3 0 1.3 0 1.2 .3 1.2-.1 1.3 .4 1.3 .3 1.2-.8 1.2-.8 1.3 .6 1.3-.2 1.2 .6 1.2-.3 1.3-.9 1.3 .2 1.2-.7 1.2-2 1.3 1 1.3 1.9 1.2-1.8 1.2 2.4 1.3-.4 1.3 .4 1.2 1.7 1.2-2 1.3 1.7 1.3-1.8 1.2-3.7 1.2 .2 1.3 3.1 1.3 1.4 1.2 .1 1.2-1 1.3-2 1.3 2 1.2 .3 1.2 .2 1.3-1.1 1.3 1.3 1.2 .9 1.2 .4 1.3-2.8 1.3-.9 1.2 2.2 1.2-.6 1.3 .6 1.3 .2 1.2-1.5 1.2 .3 1.3 .6 1.3 1.2 1.2-1.6 1.2 2.1 1.3-1.4 1.3-.8 1.2-.4 1.2 .2 1.3-.7 1.3 1.5 1.2 1.1 1.2-.9 1.3 .7 1.3-1.5 1.2 1.5 1.2-.9 1.3-.7 1.3 0 1.2 .4 1.2-1.4 1.3 1 1.3-1.8 1.2 1.9 1.2 0 1.3 .3 1.3 1.7 1.2-2.2 1.2 .8 1.3-.9 1.3 1.4 1.2-1 1.2 .5 1.3 .4 1.3-1.7 1.2 .9 1.2-1.5 1.3 2.6 1.3-1.3 1.2 1.2 1.2-.8 1.3-.5 1.3 .9 1.2 1.9 1.2-2.5 1.3 .7 1.3 .7 1.2-1.2 1.2 .2 1.3-1.7 1.3 1.3 1.2 .8 1.2 .2 1.3-2.7 1.3 2.5 1.2 .5 1.2-.6 1.3 0 1.3 .5 1.2-1.2 1.2 .6 1.3-1.3 1.3 1 1.2 1.7 1.2 .7 1.3-2.7 1.3 .5 1.2-1.5 1.2 2.2 1.3-.2 1.3-.3 1.2-1.6 1.2 1.6 1.3-.5 1.3 0 1.2 .7 1.2-.2 1.3-.8 1.3 .1 1.2 2.4 1.2-.7 1.3 .3 1.3 .5 1.2-2.5 1.2 .4 1.3 1.8 1.3-1.6 1.2-1.6 1.2 1.1 1.3-.9 1.3-.4 1.2 1.6 1.2 .7 1.3-.5 1.3-.1 1.2-.9 1.2 .8 1.3-.2 1.3 1.3 1.2-.5 1.2-.5 1.3 .4 1.3-.8 1.2-.2 1.2 .1 1.3 .5 1.3-.1 1.2-1.1 1.2 .7 1.3 .3 1.3-1 1.2 1.3 1.2-1 1.3 2.2 1.3-2 1.2 .5 1.2 .6 1.3 0 1.3-1.2 1.2 .2 1.2 .2 1.3 2.6 1.3-.5 1.2-1.1 1.2-.2 1.3-1.8 1.3 .6 1.2 .1 1.2 .9 1.3 .5 1.3-.2 1.2-.6 1.2 .5 1.3-.5 1.3 1.2 1.2-2 1.2 1.1 1.3 .3 1.3 2.5 1.2-2.3 1.2-.4 1.3 .1 1.3 2.4 1.2-3 1.2-.4 1.3 1.1 1.3-1.2 1.2 .3 1.2 0 1.3 0 1.3-1.1 1.2-1 1.2 1.7 1.3-.7 1.3 .9 1.2-.4 1.2 .7 1.3 .9 1.3 .6 1.2-2.4 1.2 .1 1.3-.2 1.3 .7 1.2 2 1.2-2 1.3 1.3 1.3-1.4 1.2 1.4 1.2 1.2 1.3 .9 1.3-2.9 1.2 1 1.2-1 1.3 .3 1.3-.8 1.2 .8 1.2-.4 1.3-.2 1.3 1.5 1.2-.9 1.2-.5 1.3-.1 1.3 .9 1.2-.6 1.2-.5 1.3 1.7 1.3 0 1.2-1.3 1.2 1.5 1.3-1 1.3 .9 1.2-2 1.2 2.8 1.3-1.7 1.3-.1 1.2 .6 1.2 1.4 1.3 .3 1.3-.2 1.2-1.6 1.2-1.2 1.3 1.2 1.3-1.9 1.2 1.2 1.2 1.1 1.3-1.4 1.3 .9 1.2-2.1 1.2 .4 1.3 1.8 1.3-.4 1.2-.3 1.2-.3 1.3-.2 1.3 .2 1.2-.1 1.2-.4 1.3 .4 1.3 .7 1.2-.8 1.2 .3 1.3-.2 1.3-.4 1.2 .3 1.2 .5 1.3 .1 1.3-.3 1.2-.4 1.2 .4 1.3 .5 1.3-.6 1.2-.1 1.2 .4 1.3-.3 1.3-.4 1.2 .2 1.2 .1 1.3-.2 1.3 .3 1.2 .3 1.2 0 1.3 .5 1.3-.3 1.2-.3 1.2-.1 1.3 .2 1.3-.7 1.2 .3 1.2 .1 1.3 .5 1.3 .3 1.2-.3 1.2-.1 1.3 0 1.3-.1 1.2-.1 1.2 .1 1.3 0 1.3-.2 1.2 .5 1.2-.6 1.3-.3 1.3 .6 1.2-.2 1.2-.1 1.3-.3 1.3 .1 1.2 .8 1.2 .4 1.3-.7 1.3-.6 1.2-.4 1.2 0 1.3 .9 1.3 .2 1.2 .1 1.2 .2 1.3-.1 1.3 .1 1.2-.1 1.2 0 1.3-.4 1.3-.1 1.2 .3 1.2 .1 1.3-.2 1.3 .1 1.2 0 1.2 .1 1.3-.1 1.3-.4 1.2 0 1.2 .5 1.3 0 1.3 .1 1.2-.7 1.2-.1 1.3 .1 1.3-.2 1.2 .1 1.2-.1 1.3 .1 1.3 0 1.2 .1 1.2 0 1.3 .3 1.3-.3 1.2 .2 1.2 .4 1.3 .1 1.3-.5 1.2-.1 1.2 .1 1.3-.4 1.3 .9 1.2 .2 1.2-.6 1.3 .2 1.3 .2 1.2 .1 1.2 .2 1.3 .2 1.3-.7 1.2-.7 1.2 .1 1.3 .4 1.3 .2 1.2 .2 1.2 .3 1.3-.6 1.3-.4 1.2 .3 1.2 .4 1.3 .1 1.3-.1 1.2-.7 1.2 0 1.3 .3 1.3 .2 1.2 .6 1.2-.2 1.3-.2 1.3-.6 1.2 0 1.2 .1 1.3 .3 1.3 0 1.2 .1 1.2 .2 1.3-.6 1.3 .3 1.2 .4 1.2-.6 1.3-.4 1.3 .4 1.2 .2 1.2-.4 1.3-.4 1.3 .2 1.2 0 1.2 .5 1.3-.3 1.3 .1 1.2 .4 1.2-.1 1.3-.1 1.3 .1 1.2-.3 1.2 .2 1.3 .4 1.3-.3 1.2-.8 1.2-.6 1.3 .5 1.3 .4 1.2-.1"/>
<path d="M93.5 446.1l1.3-.1 1.2 .2 1.2-.1 1.3-.5 1.3-.4 1.2 0 1.2 .4 1.3 0 1.3 .2 1.2-.1 1.2 .2 1.3-.1 1.3-.1 1.2 .4 1.2-.1 1.3-.3 1.3-.4 1.2 .5 1.2 0 1.3-.3 1.3 .2 1.2-.1 1.2 .1 1.3 .7 1.3-.2 1.2-.1 1.2-.7 1.3-.5 1.3 .2 1.2 .5 1.2-.1 1.3 .5 1.3 .4 1.2-.6 1.2 0 1.3-.1 1.3 .2 1.2-.2 1.2-.2 1.3 .6 1.3-.5 1.2 .1 1.2 .6 1.3-.1 1.3 .1 1.2-.5 1.2 .3 1.3 .2 1.3-.2 1.2-.5 1.2 .6 1.3-.5 1.3-.7 1.2 .2 1.2 .1 1.3 .1 1.3 0 1.2 .4 1.2-.4 1.3 .1 1.3-.4 1.2-.1 1.2 .1 1.3 .3 1.3 1.1 1.2 .3 1.2-.7 1.3-.8 1.3 .8 1.2 .3 1.2-.8 1.3-.4 1.3 0 1.2 .1 1.2 .3 1.3 0 1.3 .5 1.2 .2 1.2-.2 1.3-.1 1.3-.2 1.2 .1 1.2-.2 1.3-.1 1.3 .4 1.2 .1 1.2-.6 1.3 0 1.3-.1 1.2-.2 1.2 .7 1.3-.3 1.3-1.1 1.2 .5 1.2 .3 1.3 .5 1.3-.2 1.2 .3 1.2 .3 1.3-.4 1.3 .2 1.2-.8 1.2-.1 1.3 .4 1.3 .4 1.2-.1 1.2 .2 1.3-.2 1.3-1 1.2-1.9 1.2 .2 1.3 2.1 1.3 .3 1.2-.2 1.2 0 1.3 .3 1.3 .4 1.2 .4 1.2-.6 1.3-.4 1.3-.4 1.2-.2 1.2 .2 1.3 .2 1.3 .1 1.2-.3 1.2 .5 1.3 .1 1.3-.3 1.2-.1 1.2 .1 1.3 .1 1.3-.2 1.2 .4 1.2-.1 1.3-.2 1.3 0 1.2 .3 1.2-.1 1.3 .1 1.3 .1 1.2 .2 1.2-.5 1.3 .2 1.3 .3 1.2-.4 1.2-.4 1.3-.3 1.3 .3 1.2 .5 1.2 0 1.3 .1 1.3 .3 1.2 .6 1.2-.3 1.3-.6 1.3 .7 1.2 .4 1.2-.5 1.3-.1 1.3-.7 1.2 0 1.2 .3 1.3-.6 1.3-.1 1.2 .7 1.2 0 1.3 .2 1.3 0 1.2-.2 1.2-.1 1.3-.5 1.3-.7 1.2 .2 1.2 .8 1.3 .3 1.3-.2 1.2-.3 1.2 .1 1.3-.2 1.3 0 1.2-.3 1.2 .2 1.3 .8 1.3-.1 1.2-.1 1.2 .5 1.3 0 1.3-.3 1.2 .1 1.2 1.3 1.3-1.5 1.3-.4 1.2-1.9 1.2-.2 1.3 1.4 1.3 .8 1.2 1 1.2-1.6 1.3 1.6 1.3-3.2 1.2 .4 1.2-1.3 1.3 2.7 1.3 1.2 1.2-1.6 1.2 1.4 1.3 .1 1.3 .4 1.2 .5 1.2-2.9 1.3 .2 1.3 3.4 1.2-2.5 1.2-.7 1.3-.6 1.3 3 1.2-.3 1.2 .1 1.3-1.4 1.3-.6 1.2 .2 1.2 1.6 1.3-2 1.3 .6 1.2 1.6 1.2-.6 1.3-.2 1.3-1.4 1.2-.4 1.2 1.6 1.3-1.9 1.3 1.4 1.2 .3 1.2 1.1 1.3-.3 1.3 .5 1.2-1.3 1.2-.1 1.3-.4 1.3-.1 1.2 1.2 1.2-1.4 1.3 1.4 1.3-2.9 1.2 1.6 1.2 1.9 1.3-1.4 1.3 .3 1.2-.6 1.2-1.5 1.3 1.9 1.3 .8 1.2 .4 1.2 .1 1.3 0 1.3-.8 1.2 .6 1.2 .9 1.3-1.4 1.3-.7 1.2 1.4 1.2 .7 1.3-.7 1.3 0 1.2 .2 1.2-1.7 1.3 .8 1.3-.3 1.2 .6 1.2 1.1 1.3-1.1 1.3-1 1.2 1.1 1.2-.9 1.3 1.1 1.3 1 1.2-2.2 1.2-1.1 1.3-.6 1.3 .6 1.2-.3 1.2 1.6 1.3 .2 1.3 .5 1.2-1.2 1.2 1.2 1.3 1.7 1.3-1.5 1.2-.3 1.2 1.2 1.3-1.8 1.3-.4 1.2-.3 1.2-1.4 1.3 .5 1.3 1.7 1.2-.1 1.2-.7 1.3 1.4 1.3 2 1.2-2 1.2-1.4 1.3 .8 1.3 .7 1.2-1.1 1.2 1.3 1.3 .6 1.3-.5 1.2-.8 1.2 .2 1.3-.1 1.3 1 1.2-.7 1.2-.7 1.3 .8 1.3 .5 1.2 .6 1.2-1.9 1.3 1 1.3-.1 1.2 0 1.2-1.1 1.3 2.5 1.3-2 1.2-2.8 1.2 1.1 1.3 1 1.3-.3 1.2 .3 1.2 .1 1.3-.7 1.3 .2 1.2 2 1.2-1.9 1.3 .1 1.3 .8 1.2 .2 1.2-1.3 1.3 .4 1.3 0 1.2 1.1 1.2 1.3 1.3 0 1.3-.7 1.2-1 1.2-1 1.3 .5 1.3 .2 1.2 .1 1.2-1.1 1.3 .1 1.3-.3 1.2 1.3 1.2-.2 1.3 .2 1.3 .4 1.2-2 1.2 .1 1.3-.1 1.3 1.2 1.2 0 1.2 1.3 1.3 .1 1.3-.3 1.2-.1 1.2-2.2 1.3 .7 1.3 .8 1.2-.1 1.2 .9 1.3-1.9 1.3 .9 1.2 .1 1.2 1.5 1.3 .4 1.3 .4 1.2-2.6 1.2-2.1 1.3 3 1.3 .4 1.2-.7 1.2-.1 1.3 0 1.3 1.2 1.2-1.6 1.2 .4 1.3-.6 1.3 .9 1.2 .5 1.2-1.3 1.3 .6 1.3-2 1.2 3.3 1.2 .5 1.3 .2 1.3-1.5 1.2-.5 1.2 1.1 1.3-1.5 1.3 1.3 1.2 .6 1.2 .3 1.3-1.5 1.3 1 1.2-1 1.2 .1 1.3 0 1.3-.2 1.2-1.4 1.2 .6 1.3 .8 1.3 .3 1.2 .6 1.2-2.2 1.3 .2 1.3 .2 1.2-.9 1.2 1.3 1.3-.1 1.3-.8 1.2-.1 1.2 1.2 1.3-1.5 1.3-.2 1.2 1.8 1.2-1.6 1.3-.3 1.3 1.2 1.2-.5 1.2 .2 1.3 .5 1.3 1 1.2-.2 1.2 1.1 1.3-1.3 1.3-.6 1.2-.1 1.2-.7 1.3 .8 1.3 .6 1.2 .3 1.2-.3 1.3-.6 1.3-.3 1.2 .6 1.2 .3 1.3 .1 1.3-.2 1.2 0 1.2-.1 1.3-.1 1.3 0 1.2 .3 1.2 .3 1.3-.2 1.3-.5 1.2-.2 1.2 .4 1.3-.4 1.3 .1 1.2 .1 1.2 .3 1.3 .6 1.3 .4 1.2-.4 1.2-.4 1.3 0 1.3-.1 1.2-.2 1.2 .2 1.3 .1 1.3 0 1.2-.8 1.2 .3 1.3 .3 1.3 .4 1.2-.2 1.2-.4 1.3 .1 1.3 .5 1.2-.5 1.2-.1 1.3 .3 1.3-.1 1.2 0 1.2 0 1.3 .5 1.3-.2 1.2 .1 1.2-.4 1.3-.4 1.3 .1 1.2-.1 1.2 .2 1.3-.4 1.3-.3 1.2 .7 1.2-.2 1.3 .2 1.3-.3 1.2 0 1.2 .7 1.3-.1 1.3-.3 1.2-.3 1.2 .3 1.3 .8 1.3 .7 1.2-.6 1.2-.4 1.3-.1 1.3-.3 1.2-.5 1.2 .2 1.3 .2 1.3 .1 1.2 .5 1.2 .2 1.3-.4 1.3-.4 1.2-.1 1.2 .3 1.3 0 1.3-.2 1.2 .3 1.2 .1 1.3-.2 1.3-.1 1.2 0 1.2-.1 1.3 .2 1.3 .4 1.2 .6 1.2 0 1.3-.7 1.3-.2 1.2 .4 1.2-.3 1.3-.5 1.3 .1 1.2-.3 1.2-.1 1.3-.4 1.3-.2 1.2 1 1.2 0 1.3-.2 1.3-.2 1.2-.2 1.2 .8 1.3-.2 1.3-.1 1.2 .5 1.2 .2 1.3 .2 1.3-.4 1.2-.7 1.2 .1 1.3-.2 1.3 .2 1.2 .2 1.2-.3 1.3 0 1.3 .6 1.2 .1 1.2-1.1 1.3 0 1.3 .5 1.2 .2 1.2 .3 1.3-.6 1.3 .1 1.2-.2 1.2 .8 1.3 0 1.3-.6 1.2 0 1.2 .9 1.3 .3 1.3-.1 1.2-.4 1.2-.2 1.3 .3 1.3-.1 1.2-.1 1.2-.1 1.3-.2 1.3-.2 1.2-.2 1.2-.2 1.3 .2 1.3 .6 1.2 .1 1.2-.7 1.3-.2 1.3 .3 1.2 .4 1.2 .1 1.3 0 1.3 .1 1.2 .1"/>
<path d="M93.5 456.2l1.3-.1 1.2 .2 1.2-.4 1.3 .1 1.3-.1 1.2 .7 1.2 .1 1.3-.4 1.3 .4 1.2 .1 1.2-.9 1.3-.3 1.3 0 1.2 .3 1.2 .8 1.3-.2 1.3-.6 1.2 .3 1.2 .3 1.3-.5 1.3 .2 1.2-.1 1.2 .2 1.3-.5 1.3-.1 1.2 .3 1.2 0 1.3 .7 1.3-.3 1.2-.3 1.2 .8 1.3 .4 1.3-.5 1.2-.3 1.2-.1 1.3-.2 1.3-.3 1.2 0 1.2 .5 1.3 .1 1.3 .1 1.2-.2 1.2-.8 1.3 0 1.3-.3 1.2 .2 1.2 .4 1.3-.2 1.3 .4 1.2 .2 1.2-.2 1.3-.3 1.3 0 1.2 .5 1.2-.3 1.3 .2 1.3 .4 1.2 0 1.2 0 1.3-.3 1.3 .1 1.2-.1 1.2-.3 1.3 .4 1.3-.1 1.2-.3 1.2 .4 1.3 0 1.3-.5 1.2-.3 1.2 .2 1.3 .6 1.3 .2 1.2 .2 1.2-.7 1.3-.4 1.3 .8 1.2 .1 1.2 .1 1.3 0 1.3 0 1.2-.2 1.2-.4 1.3 .4 1.3 .2 1.2-.2 1.2-.1 1.3 .1 1.3-.9 1.2-.2 1.2 .5 1.3 .5 1.3 .1 1.2 .1 1.2 .1 1.3 0 1.3-.5 1.2 .1 1.2-.1 1.3-.1 1.3 .1 1.2 .1 1.2 .1 1.3-.1 1.3-.4 1.2 .1 1.2 .1 1.3 .1 1.3-.2 1.2-.2 1.2-.1 1.3 .4 1.3 0 1.2 .2 1.2-.2 1.3-.1 1.3 .9 1.2-.1 1.2-.4 1.3 0 1.3 .2 1.2-.7 1.2-.2 1.3 .7 1.3 0 1.2-.5 1.2-.3 1.3 .7 1.3 .1 1.2-.5 1.2 .1 1.3 .7 1.3-.4 1.2-.6 1.2 .8 1.3 .3 1.3-.3 1.2 .3 1.2 .1 1.3-.8 1.3-1.1 1.2 .2 1.2 .1 1.3 0 1.3 .4 1.2 .3 1.2-.1 1.3 0 1.3 0 1.2 .2 1.2-.1 1.3-.1 1.3 .1 1.2 .4 1.2-.5 1.3-.3 1.3 .5 1.2 .2 1.2 .4 1.3-.4 1.3-.1 1.2 .3 1.2-.7 1.3-.3 1.3 .1 1.2-.3 1.2 .2 1.3 .3 1.3 .6 1.2-.2 1.2 .2 1.3 .4 1.3-.4 1.2-.5 1.2 .3 1.3 .8 1.3 0 1.2 .1 1.2-.4 1.3-.6 1.3 0 1.2-.4 1.2 0 1.3 .2 1.3 .1 1.2 .3 1.2-.3 1.3-.3 1.3-1.3 1.2-.7 1.2-.1 1.3 1.9 1.3 .1 1.2-1.4 1.2-1.7 1.3-.3 1.3 3.2 1.2 .2 1.2 .6 1.3 .3 1.3 1.7 1.2-2.4 1.2-.9 1.3 .7 1.3-.2 1.2 1.5 1.2-.3 1.3-.2 1.3-.5 1.2-.1 1.2 1.1 1.3-1.4 1.3 .1 1.2-.7 1.2 1.4 1.3-.6 1.3 1.7 1.2-2.3 1.2-.6 1.3 0 1.3 .7 1.2 2 1.2-.2 1.3-.8 1.3 1 1.2-.5 1.2 0 1.3-1.5 1.3 .5 1.2-.5 1.2-.3 1.3 3.1 1.3-1.3 1.2 .3 1.2-.5 1.3-3 1.3-.6 1.2 1.2 1.2 .9 1.3-.2 1.3-.4 1.2 0 1.2 .9 1.3 .3 1.3 .8 1.2-.5 1.2 .4 1.3-.7 1.3-1.3 1.2 1.8 1.2-.1 1.3-.6 1.3 .6 1.2 .2 1.2-.4 1.3 .1 1.3 .5 1.2-.1 1.2-2.2 1.3 .6 1.3 0 1.2-.2 1.2 1 1.3 2.2 1.3-2.2 1.2-.9 1.2-1 1.3 .2 1.3 1.6 1.2-.1 1.2 .9 1.3-1.1 1.3 1.1 1.2 .2 1.2-.5 1.3 1.1 1.3-1 1.2-.1 1.2 .3 1.3-.4 1.3 .9 1.2 0 1.2-1.5 1.3-.8 1.3 1.4 1.2 .7 1.2-1.6 1.3 .2 1.3-.4 1.2 2.8 1.2 .6 1.3-.1 1.3-.8 1.2 .1 1.2-1.3 1.3-.7 1.3 2.3 1.2-1.5 1.2-.8 1.3 1.1 1.3 .1 1.2-.2 1.2-.5 1.3 3.4 1.3-2.6 1.2-1.1 1.2 1 1.3-.8 1.3-.4 1.2 1 1.2-.2 1.3 .4 1.3 .9 1.2-.7 1.2-1.1 1.3-.2 1.3-.9 1.2 2.2 1.2 .8 1.3-1.2 1.3-.3 1.2 .6 1.2 .4 1.3-.6 1.3-.6 1.2-.7 1.2 .8 1.3 1.1 1.3-1.6 1.2-.9 1.2 1.6 1.3-.5 1.3 1.8 1.2-2 1.2 .2 1.3 .4 1.3 1.2 1.2 .1 1.2 .4 1.3-.6 1.3 .1 1.2-3 1.2 1.8 1.3 .4 1.3-.8 1.2-.3 1.2 1.1 1.3-1 1.3 .2 1.2-.7 1.2 .4 1.3 1.1 1.3 .4 1.2-1.4 1.2 0 1.3 1.9 1.3 1.2 1.2-2 1.2 .3 1.3-.9 1.3-2.1 1.2 2.4 1.2 1.2 1.3 1.5 1.3-2 1.2 .1 1.2-1.3 1.3 0 1.3 .2 1.2-.2 1.2 .4 1.3 0 1.3 .4 1.2-1.9 1.2 1.3 1.3-.3 1.3 1.1 1.2-1.6 1.2-1.1 1.3 .6 1.3 .5 1.2 2.6 1.2-.3 1.3-1.8 1.3 1.7 1.2 .4 1.2-.4 1.3-.7 1.3-1.2 1.2 .5 1.2-1.2 1.3 1.8 1.3-.8 1.2 2 1.2-.3 1.3-.2 1.3-2 1.2 .4 1.2 1 1.3-.4 1.3-.1 1.2 .2 1.2-.5 1.3-.7 1.3 .2 1.2 .1 1.2-.2 1.3-.6 1.3 1.3 1.2-.8 1.2-.6 1.3 1 1.3 1.4 1.2-.6 1.2-1 1.3-.9 1.3 1.3 1.2 .2 1.2 .6 1.3-.3 1.3 1.5 1.2-1.8 1.2-.3 1.3 .7 1.3-.4 1.2 .6 1.2 .7 1.3-2.4 1.3 .1 1.2 .9 1.2 1.2 1.3-1 1.3 .2 1.2 .2 1.2-.1 1.3 1.2 1.3-1.1 1.2-.4 1.2-.1 1.3 0 1.3-.2 1.2 .6 1.2 .7 1.3 0 1.3-.5 1.2-.1 1.2 .1 1.3-.5 1.3-.2 1.2 .2 1.2-.4 1.3 .6 1.3-.4 1.2 .1 1.2 .3 1.3 .1 1.3 .5 1.2-.3 1.2-.1 1.3-.5 1.3-.3 1.2 0 1.2 .6 1.3 .1 1.3 .2 1.2-.7 1.2 .1 1.3 .4 1.3 .2 1.2 .1 1.2-.1 1.3-.2 1.3-.2 1.2-.3 1.2 .4 1.3 .1 1.3-.8 1.2-.3 1.2 .3 1.3 .5 1.3 .8 1.2-.4 1.2-.2 1.3 .1 1.3 .4 1.2 0 1.2-.4 1.3-.7 1.3 .1 1.2 .5 1.2 .1 1.3 .3 1.3-.6 1.2-.2 1.2 0 1.3 0 1.3-.3 1.2 .8 1.2 0 1.3 0 1.3-.1 1.2 .2 1.2-.5 1.3 0 1.3 .7 1.2 .4 1.2-1 1.3-.3 1.3-.4 1.2 .5 1.2 .3 1.3-.2 1.3 0 1.2 .1 1.2-.2 1.3-.2 1.3 .2 1.2 .1 1.2 .3 1.3 0 1.3-.2 1.2 .1 1.2-.2 1.3 .1 1.3 .3 1.2 .1 1.2 0 1.3 .3 1.3-.3 1.2-.2 1.2-.3 1.3-.1 1.3 .1 1.2 .1 1.2 .3 1.3 .2 1.3 0 1.2-.1 1.2-.2 1.3-.4 1.3-.1 1.2 .1 1.2 .2 1.3 .3 1.3 .1 1.2-.1 1.2-.1 1.3-.3 1.3 .1 1.2 .2 1.2 .4 1.3 0 1.3-.3 1.2-.4 1.2 .3 1.3-.4 1.3 0 1.2-.4 1.2 .2 1.3 0 1.3 .9 1.2 .4 1.2-.5 1.3 .2 1.3 .1 1.2-.4 1.2-.6 1.3 0 1.3 .4 1.2 .4 1.2 .1 1.3-.8 1.3-.3 1.2 .2 1.2 .1 1.3 .1 1.3-.1 1.2 .2 1.2-.2 1.3 0 1.3 .5 1.2 0 1.2 .2 1.3-.2 1.3 0 1.2 .2 1.2 .1 1.3-.3 1.3-.6 1.2-.2 1.2 .4 1.3 .2 1.3 .2 1.2 .1 1.2-.6 1.3-.1 1.3 .5 1.2-.1 1.2 .2 1.3 .1 1.3-.2 1.2-.3"/>
<path d="M93.5 466.6l1.3-.6 1.2-.1 1.2 .1 1.3-.3 1.3 .6 1.2 0 1.2-.5 1.3-.2 1.3 .5 1.2-.2 1.2-.3 1.3 .4 1.3 .7 1.2 .4 1.2-.7 1.3-.3 1.3 .1 1.2 .2 1.2 .1 1.3 0 1.3 .3 1.2 0 1.2-.5 1.3 .4 1.3 0 1.2 .6 1.2-.5 1.3-.7 1.3 .1 1.2-.2 1.2 .3 1.3 .2 1.3-1.7 1.2-.9 1.2 1.4 1.3 .9 1.3 .4 1.2 .3 1.2 .1 1.3-.6 1.3 0 1.2 .4 1.2-.8 1.3 .2 1.3 .2 1.2-.1 1.2-.4 1.3 .1 1.3 .4 1.2 .5 1.2-.5 1.3 .1 1.3-.1 1.2 .4 1.2 .7 1.3-.2 1.3-.1 1.2-.1 1.2 .2 1.3-.5 1.3-.7 1.2 .1 1.2 .6 1.3 .2 1.3 .5 1.2 .1 1.2-.3 1.3-1.3 1.3 .2 1.2 .4 1.2-.1 1.3-.1 1.3 .3 1.2 .1 1.2-.3 1.3 .1 1.3 .1 1.2-.4 1.2-.5 1.3 .5 1.3 .4 1.2 .1 1.2-.1 1.3 .1 1.3-.2 1.2-.3 1.2-.1 1.3 .3 1.3-.1 1.2 .2 1.2 0 1.3 .5 1.3-.3 1.2 .1 1.2-.5 1.3-.6 1.3 .5 1.2-.3 1.2 .5 1.3 .3 1.3 .1 1.2-.1 1.2 .4 1.3-.1 1.3-.6 1.2-.3 1.2 .2 1.3 .1 1.3-.4 1.2-.2 1.2 .7 1.3-.3 1.3 .2 1.2-.2 1.2 .6 1.3 .2 1.3-.2 1.2-.3 1.2-.4 1.3-.2 1.3 .3 1.2 .2 1.2-.6 1.3-.1 1.3 .4 1.2 .4 1.2-.1 1.3-.2 1.3-.1 1.2-.4 1.2 .4 1.3 .6 1.3 .2 1.2-.3 1.2-.1 1.3-.1 1.3-.2 1.2 .1 1.2 .1 1.3 0 1.3 .5 1.2-.4 1.2-.8 1.3 .4 1.3 .4 1.2-.4 1.2 .2 1.3 .5 1.3 .2 1.2-1 1.2-.2 1.3 .3 1.3 0 1.2 .1 1.2 .2 1.3 .1 1.3 .2 1.2-.5 1.2 .2 1.3-.2 1.3 0 1.2 .5 1.2-.3 1.3 .1 1.3-.1 1.2 .2 1.2 .1 1.3-.1 1.3-.7 1.2-.1 1.2 .6 1.3-.2 1.3 .2 1.2 .4 1.2 .3 1.3-.5 1.3-.3 1.2 0 1.2 0 1.3-.1 1.3 0 1.2 0 1.2 0 1.3 .4 1.3 .7 1.2-.1 1.2-.8 1.3-.6 1.3 .4 1.2 .2 1.2 1 1.3-.5 1.3-.2 1.2-.9 1.2-1.8 1.3 3.5 1.3 .4 1.2 .3 1.2-2.1 1.3-1.1 1.3 .4 1.2 .9 1.2 .2 1.3 .3 1.3-.7 1.2-.7 1.2-.1 1.3 .4 1.3-.3 1.2-.1 1.2 1.1 1.3-.7 1.3 .5 1.2-1.3 1.2-.3 1.3 1.9 1.3-1 1.2 .1 1.2 .7 1.3-1.7 1.3 1.2 1.2 1.2 1.2-.5 1.3 1.4 1.3-1.5 1.2-.3 1.2 .8 1.3 0 1.3 .1 1.2-.9 1.2 .4 1.3 .3 1.3-1.4 1.2 1.1 1.2 .9 1.3-1.5 1.3 .7 1.2-.9 1.2 .6 1.3-1.4 1.3 2.1 1.2 1.3 1.2-1.9 1.3-1.2 1.3 3.1 1.2-1.5 1.2-.7 1.3-.5 1.3 1.3 1.2 .1 1.2-.2 1.3-.4 1.3-.4 1.2 1.3 1.2-2 1.3 1.6 1.3-.2 1.2-.7 1.2-.6 1.3 .7 1.3-.9 1.2 .3 1.2 .9 1.3-1.4 1.3 2 1.2-2 1.2 1.7 1.3 .2 1.3 .6 1.2-1.1 1.2 .5 1.3 1.3 1.3-1.1 1.2 .3 1.2-.1 1.3-.8 1.3-.1 1.2 .5 1.2 .4 1.3-1.9 1.3-.4 1.2 1.6 1.2 1.5 1.3-.6 1.3-2.4 1.2 1.3 1.2 .3 1.3-1.1 1.3 .5 1.2 3.1 1.2-1.3 1.3 .4 1.3-1.6 1.2-.7 1.2-.5 1.3 1.4 1.3-1.3 1.2 .1 1.2-.2 1.3 1 1.3-.6 1.2 2.1 1.2-1.4 1.3-.3 1.3-.1 1.2 .5 1.2-1.7 1.3 1.3 1.3 .3 1.2 .8 1.2-.8 1.3-.2 1.3 .1 1.2 1.4 1.2-1.9 1.3 1.3 1.3 .3 1.2-.6 1.2 .4 1.3 0 1.3-1.6 1.2-.1 1.2 2 1.3-1.6 1.3-.8 1.2 2.3 1.2-1.4 1.3-.3 1.3-.5 1.2 2.4 1.2-1.4 1.3-1 1.3 1.1 1.2-.3 1.2-.1 1.3-.2 1.3 1 1.2-.4 1.2-.5 1.3 .8 1.3-.8 1.2-.4 1.2 .5 1.3 .4 1.3-.3 1.2-1.2 1.2 1.6 1.3-.3 1.3 .8 1.2-.7 1.2-.5 1.3 1.4 1.3-.8 1.2 1.1 1.2-.2 1.3-.9 1.3-.9 1.2 .7 1.2 1 1.3 .2 1.3-.9 1.2 1.9 1.2-1.4 1.3 .3 1.3 .8 1.2-1.6 1.2-.5 1.3 .2 1.3 .7 1.2-2.6 1.2 .6 1.3 .8 1.3-.8 1.2 .3 1.2 0 1.3 1 1.3-.2 1.2-.9 1.2-.8 1.3 2.4 1.3 .9 1.2-1.9 1.2 1.1 1.3 .8 1.3-1.9 1.2 .6 1.2 0 1.3 .2 1.3-.8 1.2-1.7 1.2 3.9 1.3-3.4 1.3 .6 1.2 .7 1.2 2 1.3 .9 1.3-3.4 1.2 .2 1.2 1.5 1.3-1.1 1.3-.3 1.2 1.8 1.2-.1 1.3-1.7 1.3 1 1.2-1.1 1.2 .7 1.3 .3 1.3 1.6 1.2-2.1 1.2 .8 1.3 0 1.3 .6 1.2 .4 1.2-1.9 1.3 .3 1.3 .5 1.2 .3 1.2-1.1 1.3 1.4 1.3-1.6 1.2 1 1.2 0 1.3-1.3 1.3 1.2 1.2-1.1 1.2 1.3 1.3 .4 1.3 .5 1.2-2.4 1.2 .4 1.3 0 1.3 1.1 1.2-1 1.2 .1 1.3-.2 1.3 .5 1.2 .1 1.2-.3 1.3 0 1.3 .5 1.2-.1 1.2-.8 1.3-.5 1.3 .5 1.2 .1 1.2-.1 1.3 .4 1.3 0 1.2 .1 1.2-.1 1.3 .2 1.3-.3 1.2 .4 1.2 .5 1.3-.7 1.3 .3 1.2 .4 1.2-.7 1.3-.2 1.3 .1 1.2 .5 1.2-.1 1.3-.2 1.3-.2 1.2 0 1.2 .3 1.3 .3 1.3 .2 1.2 .1 1.2-.2 1.3 .1 1.3-.1 1.2 .5 1.2 .2 1.3-.3 1.3-.3 1.2-.3 1.2-.4 1.3-.4 1.3 .5 1.2 .1 1.2 0 1.3 0 1.3 .1 1.2 .2 1.2 .3 1.3-.1 1.3-.5 1.2-.7 1.2-.1 1.3 .3 1.3-.1 1.2-.2 1.2 .5 1.3 .9 1.3-.3 1.2 0 1.2 .7 1.3-.4 1.3-.5 1.2 .1 1.2-.2 1.3-.5 1.3 .7 1.2 .5 1.2-.3 1.3-.8 1.3-.1 1.2 .3 1.2 .2 1.3 .1 1.3-.1 1.2-.6 1.2 0 1.3 .3 1.3 .7 1.2 .4 1.2-.3 1.3-.1 1.3-.1 1.2-.1 1.2-.4 1.3-.5 1.3 .2 1.2 .3 1.2 .5 1.3 .8 1.3 1.3 1.2-1.2 1.2-1.7 1.3 0 1.3 1 1.2 .2 1.2-.2 1.3-1.3 1.3-.2 1.2 .3 1.2 0 1.3 .3 1.3 .4 1.2 .1 1.2 .2 1.3-.7 1.3-.5 1.2 .4 1.2 .4 1.3-.2 1.3 .2 1.2 0 1.2-.2 1.3 .3 1.3 0 1.2 .1 1.2 .3 1.3-.2 1.3-.1 1.2-.6 1.2-.3 1.3 .1 1.3 .7 1.2-.2 1.2-.5 1.3 .1 1.3 .1 1.2 .5 1.2 .2 1.3-.5 1.3-.4 1.2 0 1.2 .6 1.3-.1 1.3 .1 1.2 .5 1.2 0 1.3 0 1.3-.4 1.2-.6 1.2-.4 1.3 .6 1.3 .3 1.2-.1 1.2 .6 1.3-.1 1.3 .1 1.2-.7 1.2-.4 1.3-.1 1.3 .5 1.2 .6 1.2 .2 1.3-.3 1.3-.3 1.2-.1 1.2 .5 1.3-.7 1.3 0 1.2-.2 1.2 .2 1.3 .4 1.3-.1 1.2-.2"/>
<path d="M93.5 477l1.3 .3 1.2-.1 1.2 0 1.3-.3 1.3 0 1.2-.2 1.2 .2 1.3 0 1.3-.7 1.2 .4 1.2-.2 1.3 .6 1.3 .6 1.2-.6 1.2-1 1.3 0 1.3 .9 1.2 .2 1.2 .2 1.3 .4 1.3-1 1.2 0 1.2 .2 1.3 .2 1.3 0 1.2-.1 1.2-.2 1.3-.1 1.3-.1 1.2-.2 1.2 .1 1.3 .4 1.3-.2 1.2 .5 1.2-.1 1.3-.8 1.3 .8 1.2-.2 1.2 .1 1.3 .1 1.3 .6 1.2-.1 1.2-.8 1.3 0 1.3 0 1.2-.3 1.2-.5 1.3 .1 1.3 .4 1.2-.2 1.2-1 1.3 .3 1.3 .9 1.2 1 1.2 .2 1.3-.4 1.3-.1 1.2 .2 1.2 .1 1.3-.7 1.3 .4 1.2 .5 1.2 .2 1.3 0 1.3 0 1.2-.6 1.2-.1 1.3 0 1.3-.1 1.2 0 1.2-.4 1.3 0 1.3 .3 1.2 .6 1.2-.1 1.3-.8 1.3-.1 1.2 .3 1.2 .1 1.3-.5 1.3 .2 1.2-.1 1.2 .2 1.3 .2 1.3 .3 1.2-.1 1.2-.7 1.3 .2 1.3 .7 1.2-.3 1.2-.3 1.3 .1 1.3 .5 1.2-.5 1.2-.6 1.3 0 1.3 .6 1.2 .2 1.2-.2 1.3-.2 1.3 .2 1.2 .5 1.2-.2 1.3-.3 1.3-.2 1.2 .1 1.2-.4 1.3 .3 1.3-.1 1.2-.1 1.2 .2 1.3-.1 1.3 .4 1.2 .3 1.2-.1 1.3 .3 1.3-.4 1.2 .2 1.2 0 1.3-.4 1.3-.3 1.2 0 1.2-.2 1.3 .3 1.3 .4 1.2 .5 1.2-.6 1.3 0 1.3 0 1.2-.3 1.2 0 1.3 .2 1.3 0 1.2-.1 1.2 .2 1.3-.4 1.3 .2 1.2 .5 1.2 0 1.3 .1 1.3 .2 1.2-.4 1.2 0 1.3-.1 1.3-.3 1.2 .1 1.2 .2 1.3-.2 1.3-.4 1.2-.1 1.2 .4 1.3 .1 1.3 .5 1.2-.1 1.2-.1 1.3 .5 1.3-.1 1.2-.7 1.2-.1 1.3 0 1.3 0 1.2 .3 1.2-.4 1.3 .2 1.3 .4 1.2 .1 1.2-.4 1.3-.4 1.3 .1 1.2 .3 1.2 .2 1.3-.3 1.3-.1 1.2-.4 1.2 .2 1.3 .1 1.3-.1 1.2 .6 1.2-.1 1.3-.3 1.3 .1 1.2-.4 1.2 0 1.3 0 1.3-.3 1.2-.5 1.2 .2 1.3 .4 1.3 .4 1.2 .6 1.2-.1 1.3-.5 1.3-.4 1.2-1.3 1.2 .7 1.3 1.8 1.3-1.1 1.2 .3 1.2 1.6 1.3-1.2 1.3-1 1.2 1.4 1.2 .1 1.3 .3 1.3-2.1 1.2 .6 1.2 0 1.3-.1 1.3 .4 1.2 .2 1.2 .2 1.3-.4 1.3 0 1.2 .5 1.2-.7 1.3 .8 1.3-.7 1.2-.1 1.2 .8 1.3-1.1 1.3-1 1.2 2.2 1.2 .3 1.3 .1 1.3-.8 1.2-.2 1.2 1.3 1.3-1.3 1.3 1 1.2-1.9 1.2-.4 1.3 1 1.3 .3 1.2-1 1.2 1.4 1.3-.3 1.3-.6 1.2 .2 1.2 1.4 1.3-1 1.3-.2 1.2 .7 1.2-.9 1.3-1 1.3 .7 1.2 .4 1.2 1.5 1.3-.2 1.3-.1 1.2-1.5 1.2 .6 1.3 .6 1.3 1.5 1.2-2.3 1.2-1.7 1.3 1.2 1.3 1.4 1.2-1.1 1.2 1.1 1.3-1.7 1.3 .6 1.2 .4 1.2 0 1.3 .8 1.3-1 1.2-.6 1.2-.2 1.3 1.2 1.3 .9 1.2-1.6 1.2-.9 1.3 1.8 1.3 .4 1.2-.3 1.2-1.4 1.3 1.6 1.3-.3 1.2-.7 1.2 .7 1.3-.2 1.3 1.1 1.2-3.1 1.2 3.5 1.3-1.5 1.3-1.5 1.2 1.3 1.2 1.2 1.3-4.8 1.3 4.6 1.2 1.1 1.2-1.5 1.3-1.4 1.3 2.4 1.2-1.4 1.2-.8 1.3 .4 1.3 .7 1.2-1.7 1.2 2 1.3-1 1.3-.7 1.2 .5 1.2-.1 1.3-.7 1.3-.5 1.2 2.5 1.2-2 1.3 2.7 1.3-.6 1.2-1.2 1.2 .3 1.3-.9 1.3 1.1 1.2 .6 1.2-.4 1.3 .2 1.3-1.3 1.2 .8 1.2-1.3 1.3 .6 1.3-.2 1.2 1.2 1.2-2.5 1.3 1.7 1.3-.9 1.2-.4 1.2 .6 1.3-.4 1.3 1.5 1.2 .4 1.2 1 1.3-1 1.3-1 1.2-.2 1.2 .3 1.3 .8 1.3-1.1 1.2 .9 1.2-.4 1.3-.5 1.3 0 1.2-.4 1.2 .5 1.3-.3 1.3 .2 1.2 1.1 1.2-.7 1.3-.3 1.3 2.2 1.2-2.5 1.2 .8 1.3 0 1.3-1.1 1.2-.9 1.2 1.5 1.3-.3 1.3 .2 1.2 2.2 1.2-1.3 1.3-.4 1.3-.6 1.2 .3 1.2 1.7 1.3-1.6 1.3-1.1 1.2 .9 1.2 1.2 1.3-.5 1.3 .4 1.2-.5 1.2-.5 1.3-.5 1.3 1.3 1.2-1.1 1.2 .1 1.3-.8 1.3 2.3 1.2-2.3 1.2-.8 1.3 2.5 1.3 1.1 1.2-1 1.2 .4 1.3-1.9 1.3 .7 1.2-.4 1.2 .8 1.3-.3 1.3-.4 1.2 1.7 1.2-2.1 1.3-.4 1.3 1.5 1.2-.3 1.2 1.4 1.3 .3 1.3-1.1 1.2 1.1 1.2-1.1 1.3 0 1.3-.2 1.2 1.6 1.2-1.4 1.3-1.1 1.3 .9 1.2-1.9 1.2 2.1 1.3 1.7 1.3-.7 1.2-1.4 1.2-.5 1.3 .4 1.3 2 1.2-.5 1.2 .1 1.3-1 1.3 .8 1.2-.1 1.2-1.1 1.3 2.1 1.3-1.3 1.2-1.1 1.2 .8 1.3 .1 1.3-1.4 1.2 .1 1.2 .7 1.3 1.1 1.3 .9 1.2-1.5 1.2 .8 1.3-.6 1.3-.9 1.2 1 1.2 .1 1.3-.6 1.3 .7 1.2 0 1.2-.3 1.3-.6 1.3-.1 1.2 .4 1.2-.1 1.3 .2 1.3-.3 1.2 .3 1.2 0 1.3 0 1.3-.1 1.2-.2 1.2-.1 1.3-.2 1.3-.2 1.2-.1 1.2 .1 1.3 0 1.3 .3 1.2 .3 1.2 0 1.3 .3 1.3 0 1.2 .2 1.2 0 1.3 .2 1.3-.2 1.2-.7 1.2 .1 1.3-.5 1.3 .1 1.2 .2 1.2-.3 1.3 .2 1.3-.2 1.2-.1 1.2 .7 1.3 .2 1.3-.5 1.2 0 1.2 .1 1.3-.4 1.3 0 1.2 .7 1.2 .1 1.3-.2 1.3-.3 1.2-.6 1.2-1.6 1.3 0 1.3 2.2 1.2 .4 1.2 .2 1.3 .1 1.3-.3 1.2-.4 1.2 .2 1.3-.3 1.3-.1 1.2 .1 1.2 .5 1.3-.3 1.3 0 1.2 .1 1.2 0 1.3-.2 1.3-.3 1.2 .4 1.2 0 1.3 .2 1.3 .3 1.2-.3 1.2-.1 1.3 .6 1.3-1 1.2 .1 1.2-.4 1.3 .3 1.3 .3 1.2 .5 1.2 .2 1.3-.2 1.3-.9 1.2 0 1.2 .4 1.3 0 1.3-.7 1.2 .4 1.2 0 1.3 0 1.3 .3 1.2 .2 1.2-.2 1.3-.3 1.3-.1 1.2 .1 1.2 .3 1.3 .5 1.3 .2 1.2 0 1.2-.2 1.3-.7 1.3 .5 1.2 .3 1.2-.3 1.3 .3 1.3 .1 1.2-.4 1.2-.2 1.3 .2 1.3-.8 1.2 0 1.2 .8 1.3 0 1.3-.8 1.2 .2 1.2 .6 1.3-.4 1.3 .3 1.2 0 1.2-.2 1.3 0 1.3 .1 1.2-.4 1.2-.8 1.3 .3 1.3-.5 1.2-1.1 1.2-.7 1.3 1.5 1.3 1.5 1.2 .2 1.2 .4 1.3-.1 1.3-.2 1.2-.3 1.2-.1 1.3 .5 1.3 .3 1.2-.3 1.2 0 1.3 .2 1.3 .1 1.2-.1 1.2 .1 1.3-.2 1.3-.6 1.2-.1 1.2-.1 1.3-.1 1.3 0 1.2-.4 1.2 .4 1.3 .8 1.3 .3 1.2-.4 1.2-.4 1.3 .2 1.3 0 1.2 0 1.2 0 1.3 .3 1.3 0 1.2-.3"/>
<path d="M93.5 486.9l1.3 .6 1.2-.3 1.2-.2 1.3 0 1.3 .1 1.2 .5 1.2 .1 1.3-.2 1.3-.3 1.2 0 1.2 .1 1.3-.6 1.3 .3 1.2-.2 1.2 .7 1.3 .1 1.3-.6 1.2-.2 1.2 .2 1.3 .2 1.3 .6 1.2 .4 1.2 .6 1.3-.4 1.3-.6 1.2-.4 1.2 0 1.3-.3 1.3-.2 1.2 0 1.2 .2 1.3 0 1.3 .5 1.2-1 1.2-.5 1.3 1.6 1.3 .1 1.2-.4 1.2-.4 1.3-.3 1.3 0 1.2 0 1.2 0 1.3 .2 1.3 0 1.2 .5 1.2 0 1.3-.4 1.3 .2 1.2-.2 1.2-.2 1.3 0 1.3 .1 1.2 0 1.2 .2 1.3 .5 1.3 0 1.2-.1 1.2-.1 1.3 .1 1.3-.1 1.2 .1 1.2-.1 1.3-.1 1.3-.4 1.2-.1 1.2 .2 1.3-.1 1.3 .1 1.2 .3 1.2 0 1.3 0 1.3 .2 1.2-.4 1.2-.3 1.3 .5 1.3 .1 1.2-.3 1.2-.3 1.3 .2 1.3 .3 1.2-.3 1.2-.4 1.3-.3 1.3 .4 1.2 .5 1.2 .6 1.3-.1 1.3-1.3 1.2-.2 1.2 1 1.3 .3 1.3-.6 1.2-.3 1.2 .4 1.3 .6 1.3 .5 1.2 .1 1.2-.8 1.3-.6 1.3-.1 1.2 .4 1.2 .1 1.3 .3 1.3-.2 1.2-.3 1.2-.4 1.3 .4 1.3-.2 1.2-.3 1.2 .3 1.3 .1 1.3-.3 1.2-.1 1.2 .1 1.3 .3 1.3 .4 1.2 .5 1.2-.5 1.3-.4 1.3 .7 1.2 0 1.2-.8 1.3 .2 1.3 .1 1.2 .2 1.2 .3 1.3 .1 1.3-.1 1.2-.1 1.2-.2 1.3-.3 1.3-.1 1.2-.7 1.2 .2 1.3 1 1.3 .1 1.2 .5 1.2 .2 1.3-.5 1.3-1 1.2-.4 1.2 .5 1.3 .1 1.3 .5 1.2 .2 1.2 .4 1.3-.1 1.3-.1 1.2-.6 1.2-.3 1.3 .4 1.3-.4 1.2-.1 1.2 .2 1.3 .7 1.3 0 1.2 .1 1.2-.3 1.3-.6 1.3 0 1.2 .1 1.2-.2 1.3 .4 1.3 .1 1.2 0 1.2-.1 1.3-.1 1.3 0 1.2 0 1.2 0 1.3 .2 1.3 0 1.2-.3 1.2 0 1.3 .6 1.3-.5 1.2 .1 1.2 .6 1.3-.1 1.3-.9 1.2-.1 1.2-.1 1.3 .2 1.3 .3 1.2-.3 1.2-.1 1.3-.3 1.3 .7 1.2 .4 1.2 1.1 1.3-.4 1.3-1.6 1.2-.6 1.2-1.6 1.3 .1 1.3 1.5 1.2 1.2 1.2-.2 1.3-1.3 1.3 1.2 1.2 1.5 1.2-.8 1.3-.1 1.3-1.7 1.2 .8 1.2-.2 1.3 .8 1.3-.6 1.2 .7 1.2-1.8 1.3 1.8 1.3 .9 1.2-.4 1.2-.4 1.3 .3 1.3-.5 1.2 0 1.2-1 1.3 1.1 1.3-1.2 1.2 1.6 1.2-1.3 1.3 .5 1.3 .8 1.2 .1 1.2-.7 1.3-.2 1.3 1.6 1.2-2.2 1.2-1.1 1.3 3.4 1.3-.4 1.2-.9 1.2 .2 1.3-1.3 1.3 1.2 1.2 .7 1.2 .4 1.3-.3 1.3-1.9 1.2 1.4 1.2 .5 1.3 0 1.3 .4 1.2 1.1 1.2 .3 1.3-3.1 1.3 .4 1.2 .4 1.2-.2 1.3 0 1.3-.2 1.2-.8 1.2 1.3 1.3 .6 1.3-.7 1.2 .9 1.2-.8 1.3-1.2 1.3-.8 1.2 0 1.2 .1 1.3-.6 1.3 .9 1.2 .7 1.2 .8 1.3 .7 1.3-1.4 1.2-.1 1.2 1.3 1.3 .1 1.3-1.5 1.2 1.7 1.2-2.7 1.3 0 1.3 1.2 1.2 .3 1.2 .6 1.3-.4 1.3-.8 1.2 1.1 1.2-.1 1.3-.7 1.3 .5 1.2 1.3 1.2-1.3 1.3 1.3 1.3-1.3 1.2 1.4 1.2-.5 1.3-.8 1.3-.3 1.2-1.1 1.2 .5 1.3 1 1.3 0 1.2 .7 1.2 .5 1.3 .8 1.3 1.1 1.2-2.8 1.2-1.9 1.3 1.4 1.3 .8 1.2-2.3 1.2 .1 1.3 1.8 1.3-1 1.2-.3 1.2 .9 1.3-.4 1.3 .6 1.2-.4 1.2-.7 1.3 0 1.3 1 1.2-1.4 1.2 1.5 1.3-.1 1.3 .5 1.2-2.4 1.2 1.4 1.3-.2 1.3-1 1.2 .4 1.2 1.3 1.3-.7 1.3-.6 1.2-1 1.2 1.1 1.3 .5 1.3-.3 1.2 .7 1.2-.7 1.3 .1 1.3 .2 1.2 1.2 1.2-1 1.3-1.4 1.3 1 1.2-.2 1.2-1 1.3 .8 1.3-.2 1.2 .7 1.2 .2 1.3 .2 1.3 .4 1.2 1.3 1.2-2.1 1.3 .5 1.3 1 1.2-.1 1.2-2 1.3-.1 1.3-.2 1.2 .4 1.2 .9 1.3-.1 1.3-.4 1.2 .9 1.2-1.4 1.3-.9 1.3 2.2 1.2-.1 1.2 .4 1.3 .2 1.3-1.6 1.2-.1 1.2 1.6 1.3-.8 1.3 0 1.2 1.8 1.2-.2 1.3-.1 1.3-1.3 1.2-1.4 1.2-.3 1.3 .8 1.3 1.3 1.2 .4 1.2 .5 1.3-1.1 1.3 .2 1.2-1.6 1.2 .8 1.3 .2 1.3-.9 1.2 .9 1.2 .1 1.3 .3 1.3 .4 1.2 1.4 1.2 .6 1.3-.5 1.3-.1 1.2-1.6 1.2 1 1.3-2.8 1.3 .2 1.2 1.3 1.2-1.1 1.3 1.3 1.3-1.2 1.2 .4 1.2-.5 1.3 .9 1.3-1.6 1.2 1.6 1.2-.1 1.3 .1 1.3-.1 1.2 .1 1.2 .8 1.3-.4 1.3-.3 1.2-.8 1.2 1.5 1.3-1.3 1.3 .5 1.2-.5 1.2 .6 1.3-.6 1.3 1.2 1.2-1.2 1.2-.9 1.3 1.1 1.3 1.4 1.2-.2 1.2-.9 1.3 0 1.3-.2 1.2-.6 1.2 .9 1.3-.3 1.3-.7 1.2 .8 1.2 0 1.3 .2 1.3-.2 1.2 .6 1.2-.1 1.3-.7 1.3-.2 1.2 .4 1.2 .1 1.3 .3 1.3 .1 1.2-.3 1.2 .1 1.3-.2 1.3-.3 1.2-.2 1.2 .1 1.3 0 1.3-.1 1.2 .2 1.2-.1 1.3-.2 1.3 0 1.2 .7 1.2 .1 1.3 .1 1.3 .4 1.2-.4 1.2-.4 1.3-.8 1.3 .2 1.2 .6 1.2 .2 1.3-.3 1.3 .4 1.2 .2 1.2-.3 1.3 .1 1.3-.2 1.2-.1 1.2 .7 1.3-.3 1.3 .2 1.2 .2 1.2-.8 1.3-.8 1.3 .8 1.2 .1 1.2 0 1.3-.6 1.3-.2 1.2 .2 1.2 .7 1.3 .4 1.3-.3 1.2-.3 1.2 .4 1.3-.4 1.3-.1 1.2 .8 1.2-.5 1.3 .1 1.3-.2 1.2-.5 1.2 .4 1.3 .3 1.3 .3 1.2-.9 1.2 .2 1.3-.3 1.3 .1 1.2 .3 1.2 .9 1.3-1.1 1.3-.6 1.2 .1 1.2 .2 1.3 .7 1.3 .6 1.2-.1 1.2 0 1.3-.7 1.3-.5 1.2-.1 1.2 .7 1.3-.2 1.3 .1 1.2 0 1.2 .5 1.3 0 1.3-.1 1.2-.5 1.2 .4 1.3 .1 1.3-.1 1.2 .5 1.2-.5 1.3-.3 1.3 .1 1.2 .5 1.2 .1 1.3-.1 1.3 0 1.2-.7 1.2-.7 1.3 0 1.3 1 1.2 .3 1.2 0 1.3-.2 1.3-.2 1.2 .1 1.2 .3 1.3-.5 1.3-.4 1.2-.1 1.2 .8 1.3 .4 1.3-.1 1.2-.5 1.2 .2 1.3 .5 1.3-.7 1.2-.9 1.2 0 1.3 1.2 1.3-.3 1.2-.1 1.2 0 1.3-.2 1.3 0 1.2 .3 1.2-.2 1.3 .1 1.3-.1 1.2 .6 1.2 .7 1.3 .8 1.3-.8 1.2-.8 1.2-.3 1.3-.1 1.3 0 1.2-.5 1.2 .2 1.3 .7 1.3 .1 1.2 .1 1.2-.6 1.3 0 1.3 .3 1.2-.3 1.2-.1 1.3 .1 1.3 0 1.2 .4 1.2-.3 1.3-.5 1.3 .5 1.2 .5 1.2-.4 1.3-.3 1.3-.3 1.2 .3"/>
<path d="M93.5 497.2l1.3 .2 1.2 .2 1.2-.2 1.3-.4 1.3-.1 1.2 .2 1.2 .6 1.3-.2 1.3-.3 1.2-.6 1.2 .3 1.3 .2 1.3-.2 1.2-.1 1.2 .2 1.3 .5 1.3 .4 1.2-.4 1.2 .1 1.3 .4 1.3-.6 1.2-.1 1.2 .1 1.3 .1 1.3-.2 1.2 .5 1.2-.6 1.3-.2 1.3 .3 1.2 0 1.2-.2 1.3-.2 1.3 .3 1.2 .6 1.2 .1 1.3 .4 1.3-.3 1.2-.6 1.2 .4 1.3-.3 1.3 .1 1.2 .1 1.2-.4 1.3 .1 1.3 .1 1.2 .3 1.2-.1 1.3-.7 1.3-.1 1.2-.1 1.2-.1 1.3 0 1.3 .3 1.2-.2 1.2 .4 1.3 .4 1.3-.2 1.2-.4 1.2 .1 1.3-.6 1.3-.4 1.2 .6 1.2 .8 1.3-.2 1.3 .2 1.2-.2 1.2 0 1.3 .5 1.3 .2 1.2-.3 1.2 .2 1.3 .1 1.3 .1 1.2-.9 1.2 .1 1.3 .1 1.3 .2 1.2-.2 1.2-1 1.3 .4 1.3 1.1 1.2-.3 1.2 0 1.3-.1 1.3 .1 1.2 .2 1.2-.2 1.3-.5 1.3 .3 1.2-.2 1.2-.1 1.3 .3 1.3 .1 1.2 .4 1.2 0 1.3 .2 1.3-.2 1.2 0 1.2 .1 1.3-.3 1.3-.7 1.2-.1 1.2 .4 1.3 .3 1.3 .3 1.2-.5 1.2-.6 1.3-.1 1.3 .1 1.2 1.4 1.2 .3 1.3-.3 1.3-.1 1.2-.7 1.2-.4 1.3 0 1.3 .1 1.2-.2 1.2 .2 1.3 .8 1.3 .4 1.2-.6 1.2-.1 1.3-.2 1.3-.4 1.2-.5 1.2 .4 1.3 .6 1.3 .3 1.2 .5 1.2 0 1.3-1.1 1.3-.5 1.2-.2 1.2 .3 1.3 .4 1.3 .4 1.2 .2 1.2-.1 1.3-.3 1.3 .4 1.2 .3 1.2 .1 1.3-.1 1.3-.1 1.2-.3 1.2-.2 1.3-.3 1.3 .5 1.2 .3 1.2 .3 1.3-.9 1.3-.3 1.2 0 1.2 .6 1.3 .1 1.3-.1 1.2 .4 1.2 .4 1.3-.8 1.3-.4 1.2-.4 1.2 0 1.3 .1 1.3 .4 1.2 .3 1.2-.2 1.3-.6 1.3 .4 1.2 0 1.2 .3 1.3 .3 1.3-.4 1.2-.3 1.2 .4 1.3 .1 1.3-.2 1.2-.1 1.2-.2 1.3 .3 1.3 .2 1.2 .1 1.2 .3 1.3-.6 1.3-.8 1.2-.6 1.2 .4 1.3 1.5 1.3-.3 1.2-.2 1.2 .6 1.3 .1 1.3-1 1.2 .6 1.2-1.7 1.3-.5 1.3 1 1.2 1.2 1.2 .3 1.3-.1 1.3-.9 1.2-.6 1.2 1.2 1.3-.4 1.3-.4 1.2 2 1.2-1.8 1.3 1.3 1.3-1 1.2 0 1.2 1.3 1.3-2 1.3 0 1.2 .1 1.2 1.4 1.3-2.1 1.3-1.7 1.2 .9 1.2 1.6 1.3-.3 1.3 .1 1.2 2.4 1.2-.9 1.3-.7 1.3-.5 1.2 1.6 1.2 0 1.3 .3 1.3-.6 1.2-1.6 1.2 .7 1.3-1.4 1.3-.8 1.2 2.1 1.2 .2 1.3 1.5 1.3-2.2 1.2-.8 1.2 1.6 1.3 .5 1.3-1.9 1.2 .9 1.2 .9 1.3-.6 1.3 1.4 1.2-1.6 1.2 .4 1.3 .3 1.3 1.1 1.2-1.8 1.2-.4 1.3 .9 1.3-.2 1.2-1.1 1.2 .4 1.3 1 1.3 .3 1.2-2 1.2 .8 1.3-.1 1.3 1.7 1.2-.8 1.2 1.9 1.3-1 1.3 .1 1.2-1.7 1.2-.1 1.3 1 1.3 .8 1.2-.3 1.2-2.2 1.3 1.2 1.3-1.2 1.2 2.2 1.2-.5 1.3 .6 1.3-2.5 1.2 .9 1.2 2 1.3-1.1 1.3-.8 1.2-.8 1.2-.2 1.3 1.9 1.3-1.6 1.2 1.2 1.2 .3 1.3-1.1 1.3 1.4 1.2 1.4 1.2 .1 1.3-1.4 1.3-.8 1.2 .2 1.2-.4 1.3 1.4 1.3-1.9 1.2 .9 1.2-2.4 1.3 1.7 1.3-.1 1.2-1.8 1.2 1.7 1.3 1.4 1.3-2.3 1.2 .9 1.2 1 1.3-.3 1.3-.3 1.2-.7 1.2-.1 1.3 .5 1.3-.1 1.2-1.2 1.2 1.1 1.3 .5 1.3-.2 1.2-.1 1.2 2.1 1.3-.2 1.3-1.9 1.2 .1 1.2 .7 1.3-1 1.3 1.3 1.2 .3 1.2-1.2 1.3 .1 1.3 1.7 1.2-.9 1.2 .4 1.3-1.7 1.3 1.4 1.2-.1 1.2-.3 1.3 .2 1.3-.3 1.2-1.7 1.2 1.7 1.3 .7 1.3-2 1.2 1.9 1.2-.8 1.3 0 1.3 .8 1.2-.4 1.2 1.1 1.3-1 1.3-2.1 1.2 .5 1.2 1.4 1.3-.2 1.3-.6 1.2 2.6 1.2-2.2 1.3 1 1.3-.1 1.2-.4 1.2 .5 1.3 0 1.3-2.3 1.2 .9 1.2 .8 1.3-.3 1.3 0 1.2 .3 1.2 .3 1.3-.8 1.3 .5 1.2 .3 1.2 0 1.3-.9 1.3 1 1.2-1.7 1.2 2.4 1.3-2.5 1.3-.2 1.2 .1 1.2-1.6 1.3 3.4 1.3 1 1.2-.6 1.2-.8 1.3 .1 1.3-.4 1.2-2.1 1.2 3 1.3-.2 1.3-.2 1.2-1.6 1.2 .1 1.3 2 1.3 .5 1.2-1.2 1.2 1.7 1.3 .3 1.3-.5 1.2-1.2 1.2-1.1 1.3 .4 1.3 1 1.2-.9 1.2 .1 1.3-.6 1.3 .9 1.2 .4 1.2 .3 1.3 .5 1.3-1.4 1.2 1.1 1.2-1.2 1.3 .6 1.3-1.2 1.2 .5 1.2 1.1 1.3 .1 1.3-1.3 1.2 2.6 1.2-3.2 1.3 2.6 1.3-.2 1.2-.8 1.2-2.3 1.3 1.5 1.3 1.2 1.2-1.3 1.2 .3 1.3-.8 1.3 .5 1.2-.7 1.2 1 1.3-.5 1.3-.3 1.2-.2 1.2-.4 1.3 2.9 1.3-1.6 1.2-.7 1.2 .9 1.3 .3 1.3-.6 1.2-1 1.2 0 1.3 .8 1.3 .6 1.2 .2 1.2-.1 1.3-.3 1.3 .2 1.2 .3 1.2 .2 1.3 0 1.3-.3 1.2-.9 1.2 0 1.3 .7 1.3 .1 1.2-.3 1.2-.3 1.3-.1 1.3 .2 1.2-.4 1.2-1 1.3-1.5 1.3 1.5 1.2 1.3 1.2-.4 1.3-.1 1.3 .2 1.2 .2 1.2-.1 1.3 .6 1.3 .2 1.2-.4 1.2 .2 1.3 .3 1.3-.2 1.2-.1 1.2-.2 1.3-.2 1.3 .9 1.2 .1 1.2-.7 1.3 0 1.3 0 1.2 .1 1.2 .3 1.3-.1 1.3 .2 1.2-.1 1.2-.2 1.3-.2 1.3 .1 1.2-.2 1.2-.8 1.3 .3 1.3 .2 1.2-.1 1.2 .3 1.3 .7 1.3 0 1.2-.6 1.2 .2 1.3 .7 1.3-.3 1.2 .1 1.2-.2 1.3-.3 1.3-.3 1.2-.2 1.2 .2 1.3 .6 1.3 0 1.2-.2 1.2-.1 1.3 0 1.3-.3 1.2-.1 1.2 .3 1.3 .6 1.3-.1 1.2-.6 1.2-.6 1.3-.1 1.3 .5 1.2 .4 1.2 .2 1.3-.1 1.3-.2 1.2-.1 1.2-.1 1.3 .2 1.3-.2 1.2-.1 1.2-.1 1.3 .2 1.3 .4 1.2 0 1.2 .2 1.3 .6 1.3 .2 1.2-1.1 1.2-.2 1.3 .1 1.3 .7 1.2 .2 1.2 .1 1.3-.5 1.3 .2 1.2 .1 1.2-.4 1.3-.5 1.3 0 1.2 .3 1.2 .3 1.3-.3 1.3-.6 1.2-.4 1.2 .3 1.3 .2 1.3 .3 1.2 .2 1.2 0 1.3-.5 1.3-.2 1.2 .2 1.2-.2 1.3 .6 1.3 0 1.2-.2 1.2 .5 1.3-.1 1.3 .1 1.2-.5 1.2-.1 1.3 .1 1.3 .3 1.2-.3 1.2-.5 1.3 .4 1.3 0 1.2 .2 1.2-.1 1.3-.1 1.3 .3 1.2-.2 1.2 .2 1.3 .1 1.3-.3 1.2-.3 1.2 0 1.3 .3 1.3 .5 1.2 0 1.2-.1 1.3-.1 1.3 .1 1.2 .2 1.2-.3 1.3-.3 1.3 0 1.2 0"/>
<path d="M93.5 507.4l1.3 .2 1.2-.3 1.2 .2 1.3-.6 1.3 .6 1.2 .2 1.2-.5 1.3 0 1.3 .9 1.2-.1 1.2-.3 1.3 .7 1.3-.8 1.2-.5 1.2 .3 1.3 .5 1.3-.3 1.2 0 1.2 .3 1.3 .5 1.3-.3 1.2-.1 1.2-.4 1.3 0 1.3 .5 1.2 .7 1.2 0 1.3-1.3 1.3-.6 1.2 .2 1.2 .3 1.3 .8 1.3 .3 1.2-.6 1.2 .3 1.3-.1 1.3-.3 1.2-.1 1.2 .1 1.3 .7 1.3-.6 1.2 0 1.2-.3 1.3 .7 1.3 .2 1.2-.3 1.2-.4 1.3 0 1.3 .8 1.2-.3 1.2-.5 1.3 .2 1.3 0 1.2 0 1.2 .5 1.3 .2 1.3-.3 1.2-.6 1.2 .3 1.3 0 1.3-.8 1.2-.1 1.2 .2 1.3 .3 1.3-.2 1.2-.3 1.2 .2 1.3-.1 1.3 .1 1.2 0 1.2 .2 1.3 .4 1.3-.2 1.2 .1 1.2-.3 1.3-.7 1.3 .5 1.2 .4 1.2 0 1.3 .4 1.3 0 1.2-.8 1.2-1.4 1.3 .6 1.3 1.3 1.2 .7 1.2-.3 1.3-.1 1.3 .4 1.2 .1 1.2-.2 1.3-.4 1.3 0 1.2-.3 1.2 .5 1.3 0 1.3-.3 1.2-.6 1.2 .2 1.3 .3 1.3 0 1.2-.4 1.2 0 1.3 .3 1.3 .4 1.2-.1 1.2-.8 1.3 .3 1.3 .5 1.2 0 1.2 .4 1.3 0 1.3-.4 1.2-.3 1.2-.3 1.3 .5 1.3 .5 1.2-.3 1.2-.4 1.3 0 1.3 0 1.2-.1 1.2 .6 1.3-.1 1.3 0 1.2 .1 1.2-.4 1.3-.1 1.3 .1 1.2-.5 1.2 .1 1.3 .6 1.3-.1 1.2-.6 1.2 .2 1.3 .2 1.3 .1 1.2-.1 1.2 .2 1.3-.2 1.3 .3 1.2 0 1.2-.1 1.3 .4 1.3-.6 1.2-.9 1.2 .4 1.3 .5 1.3 .6 1.2 .2 1.2-.7 1.3 .4 1.3 0 1.2-.5 1.2-.3 1.3-.3 1.3 .1 1.2 1 1.2-.1 1.3-.7 1.3-.2 1.2 .2 1.2 .2 1.3 .3 1.3-.5 1.2 0 1.2-.1 1.3 .8 1.3 .6 1.2-.5 1.2-.6 1.3 .2 1.3 .3 1.2 0 1.2 .3 1.3-.2 1.3-.4 1.2 .4 1.2 .1 1.3 0 1.3 .2 1.2-.5 1.2-.5 1.3 .3 1.3 .7 1.2-.1 1.2-.2 1.3 .4 1.3-.1 1.2 .2 1.2-.7 1.3 0 1.3-.7 1.2-1.2 1.2-2.2 1.3 4.2 1.3 1.6 1.2-5 1.2 1.9 1.3-2.1 1.3 .1 1.2 5.7 1.2-2.9 1.3 2.8 1.3-1.1 1.2-3.4 1.2 1.7 1.3 .6 1.3-.5 1.2 1.4 1.2-.5 1.3-1.1 1.3-.1 1.2 .9 1.2-1.2 1.3 .5 1.3-.5 1.2 .3 1.2 2.4 1.3-1.1 1.3-.3 1.2-.5 1.2-.5 1.3 .4 1.3-.8 1.2 .2 1.2 0 1.3 .6 1.3-.6 1.2 .1 1.2-.5 1.3 3.6 1.3-2.1 1.2-1.1 1.2 0 1.3 .7 1.3 1.1 1.2-1.7 1.2-.5 1.3 .3 1.3 .6 1.2-.7 1.2 1.7 1.3-1.4 1.3 .4 1.2 .3 1.2 1 1.3 .4 1.3-.3 1.2-.8 1.2-.8 1.3-.2 1.3 1.3 1.2-1.3 1.2 1.6 1.3-.6 1.3 .2 1.2 .9 1.2-.7 1.3 0 1.3 .7 1.2 .3 1.2-1.8 1.3-.9 1.3 1.8 1.2 .6 1.2-1.8 1.3 .5 1.3 .2 1.2-.8 1.2 .8 1.3 1.1 1.3-.3 1.2 .2 1.2-.8 1.3-.6 1.3 1 1.2-.7 1.2-1.5 1.3 .5 1.3 1.5 1.2 .8 1.2-2 1.3-.5 1.3 .3 1.2-.9 1.2 .2 1.3 .4 1.3 0 1.2 3 1.2 .3 1.3-.3 1.3-.5 1.2-1.6 1.2 .1 1.3-.5 1.3 1 1.2-.6 1.2-.5 1.3 1.9 1.3-.7 1.2-.3 1.2-2.9 1.3 .8 1.3 .9 1.2-.3 1.2-.7 1.3 1.1 1.3-1.9 1.2 3.3 1.2-.1 1.3-.1 1.3 .1 1.2-1.3 1.2 .5 1.3 .1 1.3 .9 1.2 .7 1.2-2.2 1.3 .9 1.3-1.2 1.2-1.2 1.2 2.6 1.3-1.7 1.3 1.2 1.2 .6 1.2-.9 1.3-.4 1.3 1.1 1.2 1.4 1.2-1.8 1.3 .4 1.3 .9 1.2-1.9 1.2 .2 1.3 .8 1.3 .2 1.2 .1 1.2-.9 1.3 .4 1.3-1 1.2 2.3 1.2-.8 1.3-1 1.3-.1 1.2 .5 1.2-.3 1.3 .5 1.3 .1 1.2-1.4 1.2 .6 1.3 .5 1.3 0 1.2-.5 1.2 .8 1.3 .5 1.3-.1 1.2-.2 1.2-.6 1.3-.6 1.3 1.2 1.2-.4 1.2-.7 1.3-.3 1.3 1.7 1.2-.3 1.2-.7 1.3-.5 1.3 .7 1.2 .6 1.2 .3 1.3 .1 1.3-.3 1.2-.8 1.2-1.1 1.3 .9 1.3 .3 1.2-1.6 1.2 1 1.3 1.1 1.3-.2 1.2-.5 1.2 1 1.3-.9 1.3 .6 1.2-.9 1.2 0 1.3 .3 1.3-1.5 1.2 1.2 1.2 .1 1.3 1 1.3-1.4 1.2 .5 1.2 1.9 1.3 .2 1.3-1.7 1.2-.9 1.2-.7 1.3 .5 1.3 .6 1.2 .1 1.2-.6 1.3 1.3 1.3 1.1 1.2-2.4 1.2 .1 1.3 1.4 1.3-.9 1.2 1.5 1.2 0 1.3 0 1.3-2.1 1.2 1 1.2 0 1.3 .1 1.3 .3 1.2 .9 1.2-1.7 1.3 0 1.3 0 1.2-.6 1.2-.1 1.3-.3 1.3 .3 1.2 .5 1.2-.1 1.3-.5 1.3-.1 1.2 .3 1.2 .9 1.3-.5 1.3 1.2 1.2-2.9 1.2 1.4 1.3 .5 1.3 .3 1.2 .2 1.2-.8 1.3 0 1.3 .4 1.2 0 1.2 0 1.3 .3 1.3 .1 1.2-.3 1.2-.3 1.3-.2 1.3 .9 1.2 .3 1.2-.5 1.3 .2 1.3-.5 1.2-.2 1.2 .5 1.3-.1 1.3-.4 1.2 .5 1.2 .3 1.3 0 1.3 .2 1.2-.1 1.2-.2 1.3 0 1.3 .3 1.2 .4 1.2-.5 1.3-1 1.3-.8 1.2-.8 1.2 .9 1.3 .5 1.3 .2 1.2 .8 1.2-.5 1.3-.5 1.3 .9 1.2-.2 1.2-.4 1.3 .1 1.3 .2 1.2 .2 1.2 .3 1.3-.6 1.3-.2 1.2 .3 1.2-.4 1.3-.1 1.3-.3 1.2 .2 1.2 .2 1.3 .2 1.3-.7 1.2-.1 1.2 .8 1.3 .5 1.3-.1 1.2-.3 1.2 .1 1.3 .1 1.3-.1 1.2-.2 1.2 .1 1.3 .6 1.3 .2 1.2-.2 1.2-.6 1.3 0 1.3-.1 1.2 .5 1.2 0 1.3 0 1.3 .5 1.2 .3 1.2-.4 1.3-.5 1.3-.1 1.2 .2 1.2-.4 1.3 .4 1.3 .6 1.2-.6 1.2-.7 1.3-.1 1.3 .3 1.2 .1 1.2 .1 1.3 .3 1.3 .1 1.2 .1 1.2-.1 1.3-.4 1.3 .2 1.2-.4 1.2 .3 1.3-.5 1.3-.3 1.2 .7 1.2 .3 1.3-.1 1.3-.2 1.2 0 1.2 .2 1.3 .1 1.3-.3 1.2-.3 1.2-.2 1.3 .2 1.3 .4 1.2-.4 1.2-.6 1.3-.1 1.3 .1 1.2-.2 1.2 .1 1.3 .2 1.3 .6 1.2 .5 1.2-.3 1.3 .2 1.3-.4 1.2 .1 1.2 0 1.3 .2 1.3 .1 1.2 .4 1.2 0 1.3-.6 1.3-.5 1.2 .2 1.2 .4 1.3 .1 1.3-.1 1.2 0 1.2 .1 1.3 .4 1.3 .3 1.2-.2 1.2-.6 1.3-.1 1.3 .4 1.2-.2 1.2 .2 1.3 .1 1.3 .1 1.2 .2 1.2 0 1.3-.1 1.3-.1 1.2 .2 1.2 .1 1.3-.3 1.3-.1 1.2 0 1.2-.1 1.3 .2 1.3-.1 1.2 0 1.2 0 1.3-.1 1.3 .2 1.2 0"/>
<path d="M93.5 518.3l1.3 .4 1.2-.3 1.2-.6 1.3-.2 1.3 .5 1.2-.1 1.2 .2 1.3 0 1.3 .1 1.2-.4 1.2 .5 1.3 .2 1.3-.8 1.2 0 1.2 .5 1.3 .3 1.3 .1 1.2 0 1.2-.2 1.3 .3 1.3 .1 1.2-.2 1.2-.5 1.3-.1 1.3-.1 1.2 .2 1.2 .1 1.3-.2 1.3-.1 1.2-.2 1.2-.2 1.3 .8 1.3 .3 1.2-.8 1.2-.1 1.3-.1 1.3 .3 1.2 .5 1.2 .3 1.3 .2 1.3-.5 1.2 .1 1.2-.4 1.3-.2 1.3-.1 1.2 0 1.2 0 1.3 .1 1.3 .3 1.2 .2 1.2-.5 1.3 .2 1.3 .2 1.2 .2 1.2-.4 1.3 0 1.3 .1 1.2-.4 1.2 .2 1.3 .5 1.3 .6 1.2-.4 1.2-.6 1.3-.4 1.3 0 1.2 .3 1.2-.1 1.3 .1 1.3-.5 1.2-.3 1.2 .3 1.3-.3 1.3 .4 1.2 .3 1.2-.2 1.3 .3 1.3 .1 1.2 .2 1.2-.2 1.3-.2 1.3 .5 1.2 0 1.2-.2 1.3-.1 1.3 .1 1.2 .4 1.2 .1 1.3-.5 1.3-.7 1.2-.1 1.2 .2 1.3-.3 1.3 .2 1.2 0 1.2 .1 1.3 .5 1.3 .2 1.2-.2 1.2 .4 1.3 .1 1.3-.1 1.2 0 1.2-.4 1.3-.1 1.3 .3 1.2-.3 1.2 .1 1.3-.3 1.3-.3 1.2-.4 1.2 .1 1.3 .4 1.3-.2 1.2 .1 1.2 .8 1.3 .2 1.3-.1 1.2-.2 1.2-.1 1.3 .1 1.3-.1 1.2 .4 1.2-.6 1.3-.6 1.3 .4 1.2 .3 1.2 .3 1.3 .3 1.3-.5 1.2 0 1.2-.3 1.3-.5 1.3 .5 1.2 0 1.2 .3 1.3 0 1.3 .2 1.2 .3 1.2-.3 1.3-.2 1.3 .1 1.2 .1 1.2 .1 1.3 .8 1.3-.3 1.2-.5 1.2 0 1.3 .2 1.3-.2 1.2-.1 1.2-.1 1.3-.4 1.3 0 1.2 .4 1.2-.2 1.3 .2 1.3-.2 1.2 .1 1.2 0 1.3-.1 1.3-.6 1.2 0 1.2 .3 1.3-.1 1.3 .1 1.2-.1 1.2 .2 1.3 .1 1.3-.3 1.2-.2 1.2 .1 1.3-.4 1.3 .8 1.2 .2 1.2 .1 1.3 .3 1.3-.1 1.2-.1 1.2 .1 1.3-.2 1.3-.4 1.2-.3 1.2 .5 1.3 0 1.3-.2 1.2-.5 1.2-.6 1.3 .6 1.3 1 1.2-.9 1.2 1.7 1.3-.6 1.3-1.2 1.2-.7 1.2 1.8 1.3 1.2 1.3-1.4 1.2 1.6 1.2-2.1 1.3 .5 1.3 0 1.2-4.6 1.2 4.2 1.3-2.5 1.3 1.5 1.2 .2 1.2 1.7 1.3 .3 1.3-1.3 1.2-.1 1.2-.3 1.3-.2 1.3 1.2 1.2 .5 1.2-.8 1.3-.1 1.3 .8 1.2 .9 1.2 .3 1.3-.1 1.3-.7 1.2-2.4 1.2 1.2 1.3 1.1 1.3-1 1.2-.2 1.2 0 1.3-.6 1.3 .6 1.2 .8 1.2-.4 1.3-1.4 1.3 1.8 1.2 0 1.2-1.3 1.3 1.4 1.3-1.7 1.2 0 1.2 1.2 1.3 .9 1.3-.3 1.2-1.4 1.2 .7 1.3 .6 1.3 1 1.2 .2 1.2-.6 1.3-1.2 1.3 .6 1.2 0 1.2-.3 1.3 .8 1.3-1 1.2 .1 1.2-.2 1.3 .1 1.3-.2 1.2-.1 1.2-1.1 1.3 1.5 1.3-.7 1.2 1.1 1.2-1.2 1.3 1.5 1.3 0 1.2-.5 1.2-1.9 1.3 3.2 1.3-1.1 1.2 .6 1.2-1.6 1.3 1.1 1.3-3.9 1.2 3.4 1.2-.5 1.3 1 1.3-1.1 1.2 .3 1.2-1.8 1.3 1.6 1.3 .5 1.2 .4 1.2 .7 1.3-.9 1.3-.1 1.2-.9 1.2-.5 1.3 .2 1.3 1.6 1.2 .1 1.2 2.3 1.3-2.2 1.3-.3 1.2 .1 1.2 .2 1.3-3.4 1.3 1.7 1.2 .9 1.2 .1 1.3-.4 1.3-1 1.2 .8 1.2-1.8 1.3 3.9 1.3-1.2 1.2 .6 1.2-2 1.3 .7 1.3 0 1.2 .6 1.2-1.5 1.3 .6 1.3-1.3 1.2 1.1 1.2 2.3 1.3-.7 1.3 .9 1.2-1.5 1.2 0 1.3 1.5 1.3-2.8 1.2 0 1.2 1 1.3 1.3 1.3 .2 1.2-.2 1.2-.2 1.3 .2 1.3-.2 1.2-1.4 1.2-.7 1.3 .8 1.3 .2 1.2-.5 1.2 2.4 1.3-2.1 1.3 .8 1.2-.9 1.2 .2 1.3-.5 1.3 1.9 1.2-1.8 1.2 .3 1.3 .6 1.3-1 1.2-.3 1.2 .8 1.3-.4 1.3-.1 1.2 1.3 1.2 .2 1.3-.3 1.3-.6 1.2-.4 1.2-.4 1.3 .1 1.3 1.2 1.2 .5 1.2-1.3 1.3-.4 1.3 .9 1.2-.8 1.2 .7 1.3 0 1.3 1.4 1.2-2.1 1.2 .5 1.3 2.3 1.3 .1 1.2-1.5 1.2-.3 1.3-.4 1.3-1.5 1.2 .2 1.2 1 1.3 .4 1.3-.7 1.2-.1 1.2-2.1 1.3 1 1.3 .8 1.2 1.7 1.2 .2 1.3-1.4 1.3 1.4 1.2-1.4 1.2 .4 1.3 .4 1.3-.7 1.2-2 1.2 2.9 1.3-1.6 1.3 1.4 1.2 .6 1.2 2.5 1.3-1.4 1.3-1.4 1.2-3.3 1.2 .2 1.3 .7 1.3 1 1.2 .3 1.2 .7 1.3 .8 1.3-1.2 1.2 .7 1.2-.4 1.3-.1 1.3-.4 1.2-1.2 1.2 2.7 1.3 1 1.3-.4 1.2-.2 1.2-1.3 1.3-.3 1.3-.7 1.2 .6 1.2-1 1.3-.3 1.3 .6 1.2 0 1.2-.3 1.3 .7 1.3-.7 1.2-.7 1.2 2.1 1.3 0 1.3 1.5 1.2-1.5 1.2-1.6 1.3 1.1 1.3-.6 1.2 .3 1.2 1.1 1.3-.1 1.3-1 1.2 0 1.2 .7 1.3 .2 1.3 0 1.2 .1 1.2-.5 1.3-.5 1.3 .1 1.2 .2 1.2 .4 1.3 .3 1.3-.8 1.2 .1 1.2 .7 1.3 .6 1.3-.1 1.2-.2 1.2-.6 1.3-.3 1.3 .1 1.2 .2 1.2-.2 1.3-.1 1.3 0 1.2 .6 1.2-.3 1.3 .4 1.3 .1 1.2-.4 1.2-.2 1.3 .5 1.3-.8 1.2-.7 1.2 .5 1.3 .4 1.3-.2 1.2 .3 1.2 .4 1.3-.1 1.3-.5 1.2-.2 1.2-.4 1.3 .6 1.3 .4 1.2-.8 1.2 .2 1.3 0 1.3 .1 1.2 .1 1.2-.2 1.3-.2 1.3 .2 1.2 .5 1.2-.2 1.3-.1 1.3 .1 1.2 .1 1.2-.1 1.3-.5 1.3 .1 1.2 .7 1.2 .4 1.3-.6 1.3-.8 1.2-.3 1.2 .1 1.3 .2 1.3 .5 1.2 .6 1.2-.3 1.3-.2 1.3 0 1.2 .1 1.2-.7 1.3-.3 1.3 .5 1.2-.1 1.2-.3 1.3 .5 1.3 .5 1.2 .4 1.2-.6 1.3-.5 1.3 .7 1.2 .3 1.2 .1 1.3 .1 1.3-.3 1.2-.3 1.2 .2 1.3-.5 1.3 0 1.2 .1 1.2-.1 1.3 .1 1.3 .1 1.2-.1 1.2-.1 1.3 .2 1.3 .3 1.2 .2 1.2-.4 1.3 .1 1.3-.4 1.2-.9 1.2 .6 1.3-.3 1.3 .1 1.2 .5 1.2 .4 1.3 .2 1.3-.1 1.2 .2 1.2-.1 1.3-.6 1.3 .3 1.2 .4 1.2 .2 1.3-.1 1.3 .2 1.2-.4 1.2-.6 1.3 .4 1.3 .3 1.2-.3 1.2 .1 1.3 0 1.3-.4 1.2 .1 1.2 0 1.3 0 1.3-.1 1.2 0 1.2-.5 1.3 .2 1.3 .5 1.2 .4 1.2 0 1.3-.6 1.3 .2 1.2 .6 1.2 0 1.3-.4 1.3-.9 1.2 .3 1.2 .3 1.3 .2 1.3-.2 1.2-.1 1.2-.1 1.3 .6 1.3-.1 1.2-.1 1.2 .4 1.3-.1 1.3-.8 1.2-.1 1.2 .7 1.3 .2 1.3-.8 1.2-.1 1.2 .8 1.3 .5 1.3-.7 1.2 .1"/>
<path d="M93.5 528.5l1.3 0 1.2 .1 1.2-.4 1.3-.1 1.3 .8 1.2 .4 1.2 0 1.3-.6 1.3-.1 1.2-.1 1.2 .1 1.3-.4 1.3-.2 1.2 .4 1.2 .2 1.3 .2 1.3-.6 1.2 .3 1.2 .7 1.3 .3 1.3-.8 1.2 0 1.2-.2 1.3 .2 1.3 0 1.2-.3 1.2 .4 1.3-.3 1.3 0 1.2-.3 1.2 .1 1.3 0 1.3 .5 1.2 .2 1.2 .7 1.3-.3 1.3-.1 1.2-.1 1.2 .3 1.3-.2 1.3-.7 1.2-.8 1.2 0 1.3 .4 1.3 0 1.2-.3 1.2 .8 1.3 0 1.3 .2 1.2-.5 1.2-.2 1.3-.2 1.3 .8 1.2-.1 1.2 .3 1.3 .1 1.3-.3 1.2-.8 1.2-.4 1.3 .6 1.3 .3 1.2 .1 1.2 .5 1.3 .3 1.3-.4 1.2-.6 1.2-.3 1.3-.3 1.3-.3 1.2 .8 1.2 .3 1.3-.1 1.3-.3 1.2-.1 1.2-.2 1.3-.2 1.3 .6 1.2 .4 1.2-.1 1.3-.1 1.3-.1 1.2-.6 1.2 .3 1.3 0 1.3-.4 1.2 .3 1.2 .6 1.3 .1 1.3-.3 1.2 .2 1.2-.4 1.3 .4 1.3 .5 1.2-.3 1.2 .2 1.3-.3 1.3 .1 1.2 1.2 1.2 1.6 1.3-.8 1.3-1.9 1.2-.3 1.2-.5 1.3 .2 1.3 0 1.2-.2 1.2 .1 1.3 .2 1.3 .4 1.2-.4 1.2-.7 1.3 .7 1.3-.1 1.2 .1 1.2 .1 1.3 0 1.3-.2 1.2 .3 1.2 .1 1.3-.2 1.3-.1 1.2 .3 1.2 .2 1.3-.5 1.3-.1 1.2 .1 1.2 0 1.3 .2 1.3 .4 1.2 .1 1.2-.4 1.3-.6 1.3 .2 1.2 .7 1.2-.3 1.3-.9 1.3 .4 1.2-.1 1.2 .1 1.3 .6 1.3 .3 1.2-.2 1.2 .1 1.3 .1 1.3-.2 1.2-.5 1.2 .1 1.3-.2 1.3 .3 1.2-.3 1.2 .2 1.3 .1 1.3-.5 1.2 .3 1.2-1.3 1.3-2 1.3 1.1 1.2 1.5 1.2 1 1.3-.3 1.3-.5 1.2 .2 1.2 .4 1.3 .2 1.3-.4 1.2 .4 1.2-.1 1.3-.6 1.3-.7 1.2 .6 1.2 .5 1.3-.1 1.3 .3 1.2 0 1.2-.2 1.3-.4 1.3 .5 1.2 .4 1.2 .1 1.3-.2 1.3 .2 1.2-.2 1.2-.7 1.3-.1 1.3 .9 1.2 0 1.2-.5 1.3 .4 1.3 .2 1.2 .3 1.2 .2 1.3-.1 1.3-1.6 1.2-1.1 1.2-2.6 1.3 2.1 1.3 3 1.2-2.9 1.2 3.9 1.3 .5 1.3-1.1 1.2-4.9 1.2 3.7 1.3 0 1.3-1.4 1.2 2.2 1.2-.8 1.3 .1 1.3 1.6 1.2-.7 1.2 0 1.3-1.2 1.3 .8 1.2 0 1.2-.3 1.3-.1 1.3-.2 1.2-.2 1.2 .9 1.3-1.8 1.3 1.1 1.2 .2 1.2-.4 1.3-.3 1.3 .9 1.2-.2 1.2-1.1 1.3 1.2 1.3 0 1.2-.8 1.2 .6 1.3-.3 1.3 1.3 1.2-.5 1.2 .8 1.3-1.1 1.3 .1 1.2-.4 1.2-.3 1.3-.3 1.3 .9 1.2 0 1.2-.9 1.3 0 1.3 0 1.2-.5 1.2 1.7 1.3-.3 1.3-2.1 1.2 1.1 1.2 .6 1.3 .3 1.3 .5 1.2-.7 1.2-.1 1.3 1.4 1.3-.5 1.2-.8 1.2 .1 1.3 .4 1.3-1.7 1.2 1.1 1.2-1.6 1.3 1.5 1.3-.7 1.2 .2 1.2 .7 1.3 .1 1.3-.3 1.2 1.1 1.2 .1 1.3-1.7 1.3 .9 1.2 0 1.2-.8 1.3 1.3 1.3-1.2 1.2 .7 1.2 .3 1.3-.3 1.3-2.4 1.2 2 1.2 .4 1.3 .8 1.3-.6 1.2-.7 1.2 1.9 1.3-.9 1.3 .5 1.2 2.1 1.2-1 1.3-.2 1.3-2.2 1.2-1.1 1.2 .7 1.3 1.8 1.3-1.7 1.2-.7 1.2 1 1.3 0 1.3 .1 1.2-.5 1.2 1.5 1.3-1.2 1.3-1 1.2 1.2 1.2 .3 1.3-.9 1.3-.3 1.2-.1 1.2 2.5 1.3 .2 1.3-.4 1.2-1.4 1.2 .8 1.3-3.1 1.3 1.6 1.2-.4 1.2-.2 1.3-.9 1.3 2.6 1.2-.5 1.2 .8 1.3 .3 1.3-.3 1.2 1.1 1.2-.8 1.3 0 1.3-.8 1.2 .6 1.2 .1 1.3 .1 1.3 .5 1.2-2 1.2-.4 1.3 .4 1.3 .9 1.2-1 1.2-.3 1.3 .9 1.3 .1 1.2-.3 1.2-1.1 1.3 1.3 1.3 .7 1.2-1 1.2 .4 1.3 .6 1.3 1.7 1.2-2.1 1.2-.9 1.3-.3 1.3-.4 1.2 .3 1.2 .8 1.3-.9 1.3 1.2 1.2 1.7 1.2 .3 1.3 0 1.3-2.5 1.2 .1 1.2 1 1.3 .1 1.3-1.2 1.2 2.1 1.2-.9 1.3-1 1.3-.9 1.2 1.3 1.2 .1 1.3 1.2 1.3-2.1 1.2 .5 1.2-.9 1.3 1.6 1.3 0 1.2-2.4 1.2 .6 1.3 1.8 1.3-.7 1.2 .9 1.2-1 1.3 .2 1.3-.8 1.2 1.9 1.2-1.8 1.3 .9 1.3 .8 1.2-1 1.2 .4 1.3-2.1 1.3 2.4 1.2-.3 1.2 1.1 1.3-.8 1.3-2.4 1.2 2.6 1.2-.3 1.3-1 1.3-.4 1.2 .8 1.2 1.2 1.3 .4 1.3-.6 1.2-1.8 1.2-.2 1.3 1.2 1.3 .7 1.2-.4 1.2 .9 1.3-1.9 1.3-.1 1.2 .6 1.2-.3 1.3 .4 1.3-1.1 1.2 .3 1.2 1.4 1.3 .2 1.3-.1 1.2-1.6 1.2-.4 1.3 .5 1.3 .8 1.2 0 1.2-1.9 1.3 .9 1.3-.1 1.2-.1 1.2 .5 1.3 0 1.3-.1 1.2 .8 1.2-1.1 1.3 1.4 1.3 1.2 1.2-1.1 1.2-.5 1.3 .5 1.3 .3 1.2-.2 1.2 .1 1.3-.1 1.3-.5 1.2 .1 1.2-.1 1.3 .3 1.3 .3 1.2-.5 1.2-.1 1.3 .4 1.3 .3 1.2-.1 1.2-.2 1.3 .1 1.3-.2 1.2-.2 1.2 .2 1.3-.1 1.3-.7 1.2 .4 1.2 .4 1.3 .2 1.3 .8 1.2-.1 1.2-.9 1.3-.1 1.3 0 1.2-.1 1.2-.6 1.3-.1 1.3 .7 1.2-.2 1.2 .1 1.3 .7 1.3-.4 1.2 .5 1.2 .4 1.3-.9 1.3-.7 1.2-.1 1.2 .5 1.3 0 1.3-.1 1.2 .5 1.2 .7 1.3 .2 1.3-.6 1.2 .3 1.2 0 1.3-.7 1.3-.4 1.2 .1 1.2-.2 1.3 .4 1.3 .8 1.2-.3 1.2-.5 1.3-.1 1.3 .5 1.2 .2 1.2 .3 1.3-.5 1.3-.3 1.2-.2 1.2 .2 1.3 0 1.3-.2 1.2 .3 1.2-.2 1.3-.8 1.3 .4 1.2 .3 1.2 .1 1.3 0 1.3 .2 1.2-.2 1.2-.1 1.3-.1 1.3 .2 1.2 .4 1.2 .4 1.3 0 1.3-.8 1.2 .2 1.2 0 1.3-.4 1.3-.1 1.2-.3 1.2-.2 1.3 .4 1.3 .4 1.2-.2 1.2 .3 1.3 .1 1.3-.4 1.2 0 1.2 0 1.3 .2 1.3 0 1.2-.3 1.2-.1 1.3 .4 1.3 .2 1.2 .1 1.2-.2 1.3 .2 1.3 .1 1.2-.2 1.2 .1 1.3-.2 1.3 .3 1.2-.5 1.2-.2 1.3 .7 1.3 .1 1.2-.8 1.2 0 1.3 .2 1.3 .5 1.2-.1 1.2 .2 1.3 .4 1.3-.3 1.2-.1 1.2 .4 1.3 .3 1.3-.5 1.2-.4 1.2 .6 1.3-.3 1.3-.4 1.2 .1 1.2-.2 1.3-.2 1.3 .2 1.2-.2 1.2-.7 1.3 0 1.3 .4 1.2 .6 1.2-.3 1.3 0 1.3 0 1.2-.3 1.2 .6 1.3 .4 1.3-.1 1.2-.4 1.2-.2 1.3-.1 1.3 0 1.2 .1 1.2-.1 1.3 .4 1.3 0 1.2 .6 1.2-.1 1.3-.5 1.3 .3 1.2 .1"/>
<path d="M93.5 538.6l1.3 .5 1.2-.2 1.2-.3 1.3 0 1.3-.8 1.2 .7 1.2 .1 1.3 0 1.3 .2 1.2 .2 1.2 .1 1.3-.4 1.3-.2 1.2-.1 1.2 .3 1.3 .3 1.3 0 1.2-.1 1.2 .2 1.3 0 1.3 .9 1.2-.1 1.2-.5 1.3-.4 1.3 .1 1.2 0 1.2 0 1.3 0 1.3-.3 1.2-.5 1.2 .7 1.3 .5 1.3-.6 1.2-.3 1.2 0 1.3 .1 1.3 .2 1.2-.1 1.2-.6 1.3-.4 1.3 .5 1.2-.1 1.2 .2 1.3 .3 1.3 .1 1.2 0 1.2 0 1.3-.3 1.3 .4 1.2 .1 1.2 0 1.3 0 1.3 .2 1.2-.7 1.2-.1 1.3 .4 1.3-.2 1.2 .2 1.2 .6 1.3-.3 1.3-.2 1.2 .1 1.2 .3 1.3 .1 1.3-.6 1.2 .2 1.2-.1 1.3-.1 1.3-.1 1.2 .1 1.2 0 1.3-.1 1.3 .2 1.2 .6 1.2-.1 1.3-.2 1.3 .1 1.2 .1 1.2-.4 1.3 .1 1.3 .1 1.2 .1 1.2 .4 1.3-.3 1.3 .3 1.2-.5 1.2-.2 1.3-.2 1.3-.1 1.2 0 1.2 .9 1.3 1.4 1.3-1.3 1.2-.8 1.2-.7 1.3 .8 1.3-.1 1.2 .1 1.2-.4 1.3 .2 1.3 .4 1.2-.3 1.2 .2 1.3-.2 1.3-.6 1.2 .7 1.2 .1 1.3 .1 1.3 .4 1.2-.5 1.2 0 1.3-1.1 1.3 .1 1.2 .8 1.2-.2 1.3 .2 1.3 0 1.2 .4 1.2-.2 1.3-.5 1.3 .1 1.2 0 1.2-.2 1.3-.2 1.3 .3 1.2 .2 1.2 .7 1.3 0 1.3-.2 1.2-.4 1.2 .2 1.3-.2 1.3-.2 1.2 .4 1.2-.2 1.3 0 1.3 .3 1.2-.3 1.2-.5 1.3-.1 1.3 .4 1.2 .3 1.2-.1 1.3-.2 1.3-.2 1.2-.2 1.2-.2 1.3 .4 1.3 .7 1.2 .5 1.2 0 1.3 .1 1.3-.5 1.2-.4 1.2 .5 1.3 .1 1.3 .1 1.2 .4 1.2 .2 1.3-.9 1.3 .1 1.2-.2 1.2-.3 1.3-.3 1.3 .6 1.2 .3 1.2-.4 1.3-.3 1.3-.2 1.2 .6 1.2 .4 1.3-.2 1.3 0 1.2-.4 1.2-.1 1.3 0 1.3 .2 1.2-.8 1.2 .6 1.3 .5 1.3 0 1.2 0 1.2-.2 1.3-.2 1.3-.1 1.2 .3 1.2 .5 1.3-.3 1.3-.4 1.2 .1 1.2-1.2 1.3-.2 1.3-.3 1.2-1.2 1.2 1.7 1.3-.7 1.3 4 1.2 2.1 1.2-4.2 1.3-3.2 1.3 1.9 1.2 2.4 1.2-1.8 1.3-2.8 1.3 6.2 1.2-3 1.2 .4 1.3 .9 1.3-.5 1.2-2.2 1.2 1.1 1.3-1 1.3 1.5 1.2-.6 1.2 .7 1.3-1.5 1.3 .7 1.2 1.1 1.2-1 1.3 1 1.3-.9 1.2-.4 1.2 1.3 1.3 .1 1.3 .2 1.2 .9 1.2 .5 1.3-3.3 1.3 1.5 1.2 .2 1.2 .2 1.3 .3 1.3-.7 1.2 .7 1.2-1.3 1.3 .7 1.3-.7 1.2 .6 1.2-.1 1.3 1.2 1.3-2.2 1.2 1.8 1.2-.3 1.3-1 1.3-.4 1.2 .3 1.2 .6 1.3-.1 1.3 1.4 1.2-2.2 1.2 .1 1.3 .6 1.3 .7 1.2-.9 1.2-.1 1.3 .8 1.3-.8 1.2-.6 1.2-1.2 1.3 1.5 1.3-1.5 1.2 1.8 1.2 1.2 1.3 0 1.3 .3 1.2-1.7 1.2 1.3 1.3-.7 1.3-.1 1.2-.5 1.2 .2 1.3-.2 1.3 .4 1.2-.5 1.2 .6 1.3-.5 1.3 1.6 1.2-.6 1.2-1.8 1.3-1.3 1.3 .6 1.2 3.2 1.2 .1 1.3-1.7 1.3 .9 1.2-2.3 1.2 2.2 1.3 .1 1.3-1.3 1.2 1.8 1.2 .7 1.3 .2 1.3-3.3 1.2 2.7 1.2-.4 1.3 0 1.3-.8 1.2 1.4 1.2-.4 1.3-1.2 1.3-.8 1.2 1.7 1.2-.5 1.3-1.2 1.3 .7 1.2-1.2 1.2 2 1.3 1.4 1.3-1.7 1.2 .8 1.2-1.6 1.3-.2 1.3 .7 1.2-.3 1.2 .8 1.3-.3 1.3-.3 1.2-.2 1.2 1.1 1.3-.9 1.3-1.8 1.2 1.2 1.2 .5 1.3 1 1.3 0 1.2-.8 1.2-.2 1.3 0 1.3 0 1.2-.4 1.2-.3 1.3-.9 1.3 .5 1.2 .2 1.2 .5 1.3 .4 1.3 .2 1.2 .9 1.2-1.8 1.3 1.3 1.3-.8 1.2-.9 1.2 1.8 1.3-1.1 1.3 1.3 1.2-.7 1.2 1.2 1.3-1.7 1.3 0 1.2 .8 1.2-.1 1.3 .4 1.3 .6 1.2-1.1 1.2-2 1.3 .5 1.3 1.1 1.2 .8 1.2-1.8 1.3-.5 1.3 .8 1.2 .5 1.2-1.5 1.3 .6 1.3 2.2 1.2-.7 1.2-.7 1.3 1.6 1.3-.6 1.2 .4 1.2-.4 1.3-.6 1.3-1.4 1.2 1.2 1.2 .9 1.3-2.3 1.3 1.1 1.2-1.2 1.2-.3 1.3 1.6 1.3-.2 1.2 0 1.2 .8 1.3-.5 1.3-1.4 1.2 2.3 1.2 .1 1.3 0 1.3 .8 1.2 .6 1.2-1 1.3-1.2 1.3 1.5 1.2-.4 1.2 .7 1.3 .4 1.3-2.3 1.2 .9 1.2-.8 1.3 1 1.3 .5 1.2 .8 1.2-.8 1.3 .1 1.3 1.3 1.2-1.5 1.2-2.1 1.3 2.5 1.3-3.3 1.2 1.8 1.2 1.6 1.3-2.7 1.3 1.2 1.2 .1 1.2-1.5 1.3-.4 1.3 .9 1.2 .6 1.2-1.4 1.3-.1 1.3 1 1.2-.2 1.2 1.9 1.3-.5 1.3-1.8 1.2 .9 1.2 1.2 1.3 .5 1.3-1.7 1.2 .2 1.2 1.2 1.3-.4 1.3-.2 1.2-.3 1.2 .4 1.3-.4 1.3-.6 1.2 .2 1.2-.4 1.3 .3 1.3 0 1.2 .1 1.2-.3 1.3 .1 1.3 .8 1.2 .8 1.2-.5 1.3-.4 1.3-.4 1.2 .4 1.2 .3 1.3 0 1.3-.5 1.2-.2 1.2 .1 1.3-.2 1.3 .2 1.2 0 1.2-.2 1.3 0 1.3 0 1.2-.1 1.2 .1 1.3 0 1.3 0 1.2 0 1.2 .5 1.3 0 1.3-.3 1.2 .4 1.2-.1 1.3-.8 1.3 .3 1.2 .6 1.2-.5 1.3 .4 1.3-.3 1.2 .2 1.2-.6 1.3 .2 1.3-.1 1.2-.4 1.2 .1 1.3-.1 1.3 .5 1.2 .9 1.2 .2 1.3-1.1 1.3 .1 1.2 .2 1.2-.7 1.3 0 1.3 .6 1.2 .1 1.2-.4 1.3-.2 1.3 .3 1.2 .1 1.2-.7 1.3-.3 1.3 .9 1.2 0 1.2-.1 1.3 .2 1.3-.3 1.2 .3 1.2 .2 1.3 .1 1.3-.2 1.2 0 1.2-.2 1.3 .7 1.3-.2 1.2-.5 1.2 0 1.3-.2 1.3 .1 1.2 .9 1.2 1.6 1.3-.8 1.3-1.1 1.2-.7 1.2 .1 1.3 .7 1.3 .3 1.2-.8 1.2-.4 1.3 .4 1.3 .8 1.2-.3 1.2-.4 1.3 .3 1.3 .4 1.2 .7 1.2 .9 1.3-.6 1.3-1.1 1.2-.4 1.2-.1 1.3-.4 1.3 0 1.2 .9 1.2 .4 1.3-.2 1.3-.3 1.2 0 1.2-.1 1.3 .6 1.3 1.7 1.2 .1 1.2-1.2 1.3-1 1.3 .1 1.2 .3 1.2-1 1.3-.4 1.3 0 1.2-.2 1.2 .6 1.3-.1 1.3-.2 1.2-.4 1.2-.3 1.3-.6 1.3 .1 1.2 1.2 1.2 .5 1.3 0 1.3 .2 1.2 0 1.2-.1 1.3-.4 1.3-.6 1.2-.3 1.2 .3 1.3 .1 1.3-.2 1.2 .5 1.2 .9 1.3 .2 1.3-.3 1.2-.1 1.2 .6 1.3-.7 1.3-.5 1.2 .1 1.2 .6 1.3-.2 1.3 0 1.2-.2 1.2-.4 1.3 0 1.3 .6 1.2 0 1.2-.2 1.3 .3 1.3 .6 1.2-.3 1.2-.6 1.3-.4 1.3 .3 1.2 0"/>
</g>
<line x1="230.50" y1="103.30" x2="230.50" y2="562.40" stroke="rgb(236,120,80)" stroke-width="3" stroke-dasharray="20.3 13.5"/>
<line x1="367.30" y1="103.30" x2="367.30" y2="562.40" stroke="rgb(70,150,70)" stroke-width="2.8" stroke-dasharray="20.3 13.5"/>
<text x="235.5" y="106.4" font-size="22" fill="rgb(220,85,35)" text-anchor="start" textLength="29" lengthAdjust="spacing" >(a)</text>
<text x="369.8" y="106.4" font-size="22" fill="rgb(30,120,30)" text-anchor="start" textLength="29" lengthAdjust="spacing" >(b)</text>
<line x1="71.00" y1="562.40" x2="868.50" y2="562.40" stroke="#333" stroke-width="1.2" />
<line x1="93.70" y1="558.00" x2="93.70" y2="562.40" stroke="#333" stroke-width="1" />
<line x1="264.70" y1="558.00" x2="264.70" y2="562.40" stroke="#333" stroke-width="1" />
<line x1="435.70" y1="558.00" x2="435.70" y2="562.40" stroke="#333" stroke-width="1" />
<line x1="606.70" y1="558.00" x2="606.70" y2="562.40" stroke="#333" stroke-width="1" />
<line x1="777.70" y1="558.00" x2="777.70" y2="562.40" stroke="#333" stroke-width="1" />
<text x="69.5" y="330.4" font-size="44.5" fill="#111" text-anchor="middle" textLength="243" lengthAdjust="spacingAndGlyphs" transform="rotate(-90 69.5 330.4)" >EEG Channels</text>
<text x="419.5" y="601.7" font-size="40" fill="#111" text-anchor="start" textLength="71" lengthAdjust="spacingAndGlyphs" >time</text>
<line x1="985.20" y1="90.00" x2="962.65" y2="96.35" stroke="#111" stroke-width="1" />
<path d="M956.80,98.00 L964.79,93.15 L963.30,96.17 L966.14,97.97 Z" fill="#111"/>
<line x1="985.20" y1="109.30" x2="932.30" y2="125.70" stroke="#111" stroke-width="1" />
<path d="M926.50,127.50 L934.36,122.45 L932.95,125.50 L935.84,127.22 Z" fill="#111"/>
<line x1="985.20" y1="129.00" x2="902.36" y2="151.41" stroke="#111" stroke-width="1" />
<path d="M896.50,153.00 L904.53,148.24 L903.02,151.24 L905.84,153.06 Z" fill="#111"/>
<line x1="895.60" y1="241.50" x2="1133.75" y2="245.15" stroke="#000" stroke-width="1.6" />
<path d="M1143.20,245.30 L1128.14,249.07 L1132.70,245.14 L1128.26,241.07 Z" fill="#000"/>
<line x1="925.90" y1="291.50" x2="1121.75" y2="296.17" stroke="#000" stroke-width="1.6" />
<path d="M1131.20,296.40 L1116.11,300.04 L1120.70,296.15 L1116.30,292.04 Z" fill="#000"/>
<line x1="955.90" y1="308.20" x2="1127.55" y2="312.18" stroke="#000" stroke-width="1.6" />
<path d="M1137.00,312.40 L1121.91,316.05 L1126.50,312.16 L1122.10,308.05 Z" fill="#000"/>
<rect x="1021.0" y="256.8" width="4.2" height="4.8" transform="rotate(30 1023.1 259.2)" fill="#000"/>
<rect x="1020.5" y="269.5" width="4.2" height="4.8" transform="rotate(30 1022.6 271.9)" fill="#000"/>
<rect x="1019.6" y="283.6" width="4.2" height="4.8" transform="rotate(30 1021.7 286)" fill="#000"/>
<text x="1106" y="216.2" font-size="40" fill="#111" text-anchor="start" textLength="244.8" lengthAdjust="spacingAndGlyphs" >Bandpass filter</text>
<text x="1045" y="370.2" font-size="40" fill="#111" text-anchor="start" textLength="362.4" lengthAdjust="spacingAndGlyphs" >Hilbert transformation</text>
<path d="M1163.5,266.9 L1165.6,264.2 L1167.7,261.6 L1169.3,256.8 L1170.9,257.9 L1172.0,256.3 L1174.1,255.2 L1176.2,264.8 L1177.8,256.8 L1179.4,263.2 L1181.0,264.2 L1182.6,260.0 L1184.7,256.8 L1186.3,255.2 L1187.9,263.2 L1188.9,261.1 L1190.5,266.4 L1192.1,256.8 L1193.7,262.1 L1194.8,263.7 L1196.4,256.8 L1197.4,256.3 L1199.0,262.7 L1200.6,260.0 L1202.2,257.4 L1204.3,255.2 L1205.9,264.8 L1207.5,256.3 L1208.0,262.1 L1209.6,268.0 L1211.2,253.6 L1212.8,242.5 L1214.9,283.3 L1216.5,266.4 L1218.1,267.4 L1220.2,243.0 L1221.8,274.3 L1224.0,245.2 L1225.5,278.6 L1227.7,233.5 L1229.8,290.2 L1231.4,239.9 L1233.0,260.0 L1234.6,279.1 L1236.1,255.8 L1237.7,256.8 L1238.8,268.0 L1240.4,247.3 L1243.0,246.2 L1244.6,262.1 L1246.2,271.7 L1248.3,251.5 L1249.9,255.8 L1251.5,252.6 L1254.2,252.6 L1255.8,260.0 L1258.4,266.4 L1260.5,250.5 L1262.1,253.6 L1264.3,258.9 L1265.9,266.4 L1267.4,256.8 L1269.6,267.4 L1271.2,264.2 L1272.7,260.0 L1274.9,256.8 L1277.0,256.8 L1279.1,258.9 L1281.2,260.0 L1282.8,269.6 L1284.4,255.8 L1286.5,261.1 L1288.1,264.2 L1289.7,258.9 L1291.3,261.6 L1293.4,258.9 L1295.0,262.1 L1296.6,260.0" fill="none" stroke="#000" stroke-width="1.5" stroke-linejoin="round" />
<path d="M1163.5,319.2 L1164.0,315.9 L1164.4,319.0 L1164.9,317.4 L1165.3,318.6 L1165.8,316.0 L1166.2,317.4 L1166.7,317.6 L1167.1,314.2 L1167.6,318.2 L1168.0,314.4 L1168.5,319.3 L1168.9,319.7 L1169.4,312.0 L1169.8,321.0 L1170.3,313.2 L1170.7,314.8 L1171.2,315.2 L1171.6,318.7 L1172.1,317.7 L1172.5,319.2 L1173.0,314.7 L1173.4,321.1 L1173.9,310.5 L1174.3,309.9 L1174.8,317.8 L1175.2,317.0 L1175.7,318.9 L1176.1,317.9 L1176.6,313.4 L1177.0,313.0 L1177.5,317.6 L1177.9,314.0 L1178.4,322.1 L1178.8,318.6 L1179.3,309.0 L1179.7,318.8 L1180.2,314.7 L1180.6,320.1 L1181.1,324.0 L1181.5,318.3 L1182.0,314.7 L1182.4,319.7 L1182.9,322.4 L1183.3,318.0 L1183.8,317.7 L1184.2,323.5 L1184.7,320.7 L1185.1,313.3 L1185.6,313.6 L1186.0,316.0 L1186.5,317.3 L1186.9,316.4 L1187.4,316.0 L1187.8,320.7 L1188.3,315.2 L1188.7,321.5 L1189.2,315.7 L1189.6,315.8 L1190.1,320.0 L1190.5,321.5 L1191.0,316.0 L1191.4,320.7 L1191.9,317.8 L1192.3,312.7 L1192.8,320.7 L1193.2,314.9 L1193.7,318.6 L1194.1,325.0 L1194.6,320.0 L1195.0,314.0 L1195.5,308.9 L1195.9,316.9 L1196.4,314.7 L1196.8,318.9 L1197.3,318.0 L1197.7,321.1 L1198.2,314.6 L1198.6,326.9 L1199.1,319.1 L1199.5,315.9 L1200.0,318.5 L1200.4,314.9 L1200.9,310.0 L1201.3,316.8 L1201.8,317.1 L1202.2,320.1 L1202.7,318.0 L1203.1,320.5 L1203.6,309.8 L1204.0,313.2 L1204.5,317.8 L1204.9,314.4 L1205.4,320.7 L1205.8,311.2 L1206.3,313.1 L1206.7,312.5 L1207.2,315.7 L1207.6,320.6 L1208.1,314.8 L1208.5,307.5 L1209.0,317.0 L1209.4,310.4 L1209.9,320.2 L1210.3,304.9 L1210.8,315.6 L1211.2,319.6 L1211.7,321.2 L1212.1,315.1 L1212.6,327.0 L1213.0,332.6 L1213.5,322.3 L1213.9,308.2 L1214.4,309.0 L1214.8,311.0 L1215.3,330.1 L1215.7,319.3 L1216.2,319.4 L1216.6,302.3 L1217.1,312.6 L1217.5,316.4 L1218.0,314.3 L1218.4,308.3 L1218.9,293.5 L1219.3,309.5 L1219.8,341.0 L1220.2,315.4 L1220.7,308.6 L1221.1,307.1 L1221.6,313.7 L1222.0,313.0 L1222.5,320.8 L1222.9,296.9 L1223.4,307.6 L1223.8,314.5 L1224.3,294.4 L1224.7,341.3 L1225.2,298.6 L1225.6,312.7 L1226.1,311.6 L1226.5,306.0 L1227.0,307.9 L1227.4,324.1 L1227.9,293.9 L1228.3,305.2 L1228.8,315.7 L1229.2,312.2 L1229.7,337.8 L1230.1,336.2 L1230.6,312.4 L1231.0,313.1 L1231.5,317.7 L1231.9,307.0 L1232.4,299.9 L1232.8,339.0 L1233.3,312.1 L1233.7,302.2 L1234.2,305.9 L1234.6,335.3 L1235.1,308.6 L1235.5,315.3 L1236.0,307.6 L1236.4,324.0 L1236.9,299.9 L1237.3,320.9 L1237.8,315.3 L1238.2,325.5 L1238.7,297.7 L1239.1,331.0 L1239.6,320.3 L1240.0,313.5 L1240.5,318.8 L1240.9,318.7 L1241.4,328.2 L1241.8,310.5 L1242.3,323.1 L1242.7,320.6 L1243.2,321.2 L1243.6,311.3 L1244.1,322.8 L1244.5,319.1 L1245.0,317.3 L1245.4,314.3 L1245.9,317.3 L1246.3,315.4 L1246.8,321.0 L1247.2,317.3 L1247.7,311.6 L1248.1,303.1 L1248.6,315.4 L1249.0,313.3 L1249.5,314.0 L1249.9,319.3 L1250.4,310.9 L1250.8,316.5 L1251.3,314.3 L1251.7,312.2 L1252.2,316.5 L1252.6,315.7 L1253.1,309.8 L1253.5,315.5 L1254.0,315.1 L1254.4,318.9 L1254.9,312.4 L1255.3,318.2 L1255.8,316.3 L1256.2,316.2 L1256.7,314.7 L1257.1,317.0 L1257.6,315.3 L1258.0,320.2 L1258.5,317.0 L1258.9,311.4 L1259.4,319.8 L1259.8,311.1 L1260.3,314.4 L1260.7,324.9 L1261.2,319.8 L1261.6,316.5 L1262.1,315.7 L1262.5,311.0 L1263.0,318.4 L1263.4,309.3 L1263.9,323.1 L1264.3,316.5 L1264.8,313.5 L1265.2,322.5 L1265.7,319.6 L1266.1,310.3 L1266.6,315.2 L1267.0,314.4 L1267.5,322.2 L1267.9,322.9 L1268.4,316.4 L1268.8,321.5 L1269.3,316.9 L1269.7,316.3 L1270.2,316.5 L1270.6,314.3 L1271.1,317.6 L1271.5,316.9 L1272.0,320.6 L1272.4,311.6 L1272.9,315.8 L1273.3,320.3 L1273.8,317.6 L1274.2,311.3 L1274.7,319.5 L1275.1,319.2 L1275.6,317.7 L1276.0,314.5 L1276.5,315.3 L1276.9,316.8 L1277.4,309.8 L1277.8,314.2 L1278.3,313.4 L1278.7,323.6 L1279.2,311.3 L1279.6,316.0 L1280.1,318.4 L1280.5,319.5 L1281.0,317.2 L1281.4,317.4 L1281.9,317.3 L1282.3,314.3 L1282.8,311.2 L1283.2,323.2 L1283.7,322.3 L1284.1,312.8 L1284.6,319.1 L1285.0,329.3 L1285.5,320.7 L1285.9,334.8 L1286.4,314.1 L1286.8,316.5 L1287.3,321.5 L1287.7,322.8 L1288.2,313.5 L1288.6,317.8 L1289.1,320.3 L1289.5,325.5 L1290.0,329.6 L1290.4,309.4 L1290.9,315.6 L1291.3,318.5 L1291.8,316.8 L1292.2,312.5 L1292.7,314.6 L1293.1,318.4 L1293.6,316.0 L1294.0,316.8 L1294.5,316.5 L1294.9,320.4 L1295.4,317.4 L1295.8,316.1 L1296.3,319.1 L1296.7,313.6 L1297.2,315.1" fill="none" stroke="#000" stroke-width="1.7" stroke-linejoin="round" />
<line x1="1226.00" y1="384.00" x2="1226.00" y2="594.55" stroke="#000" stroke-width="1.6" />
<path d="M1226.00,604.00 L1221.50,589.00 L1226.00,593.50 L1230.50,589.00 Z" fill="#000"/>
<text x="1348.5" y="592.3" font-size="73" fill="#000" text-anchor="start" textLength="48.5" lengthAdjust="spacingAndGlyphs" >B</text>
<rect x="773.95" y="611.95" width="638.10" height="385.70" fill="#fff" stroke="#333" stroke-width="3.9"/>
<line x1="827.20" y1="622.40" x2="827.20" y2="776.90" stroke="#f1f1f1" stroke-width="1" />
<line x1="887.50" y1="622.40" x2="887.50" y2="776.90" stroke="#f1f1f1" stroke-width="1" />
<line x1="947.80" y1="622.40" x2="947.80" y2="776.90" stroke="#f1f1f1" stroke-width="1" />
<line x1="1008.10" y1="622.40" x2="1008.10" y2="776.90" stroke="#f1f1f1" stroke-width="1" />
<line x1="1068.40" y1="622.40" x2="1068.40" y2="776.90" stroke="#f1f1f1" stroke-width="1" />
<line x1="826.00" y1="650.20" x2="1088.50" y2="650.20" stroke="#f1f1f1" stroke-width="1" />
<line x1="826.00" y1="678.60" x2="1088.50" y2="678.60" stroke="#f1f1f1" stroke-width="1" />
<line x1="826.00" y1="706.60" x2="1088.50" y2="706.60" stroke="#f1f1f1" stroke-width="1" />
<line x1="826.00" y1="734.70" x2="1088.50" y2="734.70" stroke="#f1f1f1" stroke-width="1" />
<line x1="826.00" y1="762.70" x2="1088.50" y2="762.70" stroke="#f1f1f1" stroke-width="1" />
<rect x="826" y="622.4" width="262.5" height="154.5" fill="none" stroke="#777" stroke-width="1"/>
<line x1="826.00" y1="776.90" x2="1088.50" y2="776.90" stroke="#444" stroke-width="1.2" />
<line x1="826.00" y1="622.40" x2="826.00" y2="776.90" stroke="#444" stroke-width="1.2" />
<line x1="827.20" y1="773.40" x2="827.20" y2="776.90" stroke="#444" stroke-width="1" />
<line x1="887.50" y1="773.40" x2="887.50" y2="776.90" stroke="#444" stroke-width="1" />
<line x1="947.80" y1="773.40" x2="947.80" y2="776.90" stroke="#444" stroke-width="1" />
<line x1="1008.10" y1="773.40" x2="1008.10" y2="776.90" stroke="#444" stroke-width="1" />
<line x1="1068.40" y1="773.40" x2="1068.40" y2="776.90" stroke="#444" stroke-width="1" />
<line x1="826.00" y1="650.20" x2="829.50" y2="650.20" stroke="#444" stroke-width="1" />
<line x1="826.00" y1="678.60" x2="829.50" y2="678.60" stroke="#444" stroke-width="1" />
<line x1="826.00" y1="706.60" x2="829.50" y2="706.60" stroke="#444" stroke-width="1" />
<line x1="826.00" y1="734.70" x2="829.50" y2="734.70" stroke="#444" stroke-width="1" />
<line x1="826.00" y1="762.70" x2="829.50" y2="762.70" stroke="#444" stroke-width="1" />
<line x1="827.20" y1="812.40" x2="827.20" y2="966.60" stroke="#f1f1f1" stroke-width="1" />
<line x1="887.50" y1="812.40" x2="887.50" y2="966.60" stroke="#f1f1f1" stroke-width="1" />
<line x1="947.80" y1="812.40" x2="947.80" y2="966.60" stroke="#f1f1f1" stroke-width="1" />
<line x1="1008.10" y1="812.40" x2="1008.10" y2="966.60" stroke="#f1f1f1" stroke-width="1" />
<line x1="1068.40" y1="812.40" x2="1068.40" y2="966.60" stroke="#f1f1f1" stroke-width="1" />
<line x1="826.00" y1="840.40" x2="1088.50" y2="840.40" stroke="#f1f1f1" stroke-width="1" />
<line x1="826.00" y1="868.60" x2="1088.50" y2="868.60" stroke="#f1f1f1" stroke-width="1" />
<line x1="826.00" y1="896.40" x2="1088.50" y2="896.40" stroke="#f1f1f1" stroke-width="1" />
<line x1="826.00" y1="924.40" x2="1088.50" y2="924.40" stroke="#f1f1f1" stroke-width="1" />
<line x1="826.00" y1="952.40" x2="1088.50" y2="952.40" stroke="#f1f1f1" stroke-width="1" />
<rect x="826" y="812.4" width="262.5" height="154.20000000000005" fill="none" stroke="#777" stroke-width="1"/>
<line x1="826.00" y1="966.60" x2="1088.50" y2="966.60" stroke="#444" stroke-width="1.2" />
<line x1="826.00" y1="812.40" x2="826.00" y2="966.60" stroke="#444" stroke-width="1.2" />
<line x1="827.20" y1="963.10" x2="827.20" y2="966.60" stroke="#444" stroke-width="1" />
<line x1="887.50" y1="963.10" x2="887.50" y2="966.60" stroke="#444" stroke-width="1" />
<line x1="947.80" y1="963.10" x2="947.80" y2="966.60" stroke="#444" stroke-width="1" />
<line x1="1008.10" y1="963.10" x2="1008.10" y2="966.60" stroke="#444" stroke-width="1" />
<line x1="1068.40" y1="963.10" x2="1068.40" y2="966.60" stroke="#444" stroke-width="1" />
<line x1="826.00" y1="840.40" x2="829.50" y2="840.40" stroke="#444" stroke-width="1" />
<line x1="826.00" y1="868.60" x2="829.50" y2="868.60" stroke="#444" stroke-width="1" />
<line x1="826.00" y1="896.40" x2="829.50" y2="896.40" stroke="#444" stroke-width="1" />
<line x1="826.00" y1="924.40" x2="829.50" y2="924.40" stroke="#444" stroke-width="1" />
<line x1="826.00" y1="952.40" x2="829.50" y2="952.40" stroke="#444" stroke-width="1" />
<line x1="1153.70" y1="622.60" x2="1153.70" y2="776.80" stroke="#f1f1f1" stroke-width="1" />
<line x1="1200.40" y1="622.60" x2="1200.40" y2="776.80" stroke="#f1f1f1" stroke-width="1" />
<line x1="1247.10" y1="622.60" x2="1247.10" y2="776.80" stroke="#f1f1f1" stroke-width="1" />
<line x1="1293.80" y1="622.60" x2="1293.80" y2="776.80" stroke="#f1f1f1" stroke-width="1" />
<line x1="1340.50" y1="622.60" x2="1340.50" y2="776.80" stroke="#f1f1f1" stroke-width="1" />
<line x1="1387.20" y1="622.60" x2="1387.20" y2="776.80" stroke="#f1f1f1" stroke-width="1" />
<line x1="1139.70" y1="646.00" x2="1401.60" y2="646.00" stroke="#f1f1f1" stroke-width="1" />
<line x1="1139.70" y1="677.60" x2="1401.60" y2="677.60" stroke="#f1f1f1" stroke-width="1" />
<line x1="1139.70" y1="709.20" x2="1401.60" y2="709.20" stroke="#f1f1f1" stroke-width="1" />
<line x1="1139.70" y1="741.10" x2="1401.60" y2="741.10" stroke="#f1f1f1" stroke-width="1" />
<line x1="1139.70" y1="772.20" x2="1401.60" y2="772.20" stroke="#f1f1f1" stroke-width="1" />
<rect x="1139.7" y="622.6" width="261.89999999999986" height="154.19999999999993" fill="none" stroke="#777" stroke-width="1"/>
<line x1="1139.70" y1="776.80" x2="1401.60" y2="776.80" stroke="#444" stroke-width="1.2" />
<line x1="1139.70" y1="622.60" x2="1139.70" y2="776.80" stroke="#444" stroke-width="1.2" />
<line x1="1153.70" y1="773.30" x2="1153.70" y2="776.80" stroke="#444" stroke-width="1" />
<line x1="1200.40" y1="773.30" x2="1200.40" y2="776.80" stroke="#444" stroke-width="1" />
<line x1="1247.10" y1="773.30" x2="1247.10" y2="776.80" stroke="#444" stroke-width="1" />
<line x1="1293.80" y1="773.30" x2="1293.80" y2="776.80" stroke="#444" stroke-width="1" />
<line x1="1340.50" y1="773.30" x2="1340.50" y2="776.80" stroke="#444" stroke-width="1" />
<line x1="1387.20" y1="773.30" x2="1387.20" y2="776.80" stroke="#444" stroke-width="1" />
<line x1="1139.70" y1="646.00" x2="1143.20" y2="646.00" stroke="#444" stroke-width="1" />
<line x1="1139.70" y1="677.60" x2="1143.20" y2="677.60" stroke="#444" stroke-width="1" />
<line x1="1139.70" y1="709.20" x2="1143.20" y2="709.20" stroke="#444" stroke-width="1" />
<line x1="1139.70" y1="741.10" x2="1143.20" y2="741.10" stroke="#444" stroke-width="1" />
<line x1="1139.70" y1="772.20" x2="1143.20" y2="772.20" stroke="#444" stroke-width="1" />
<line x1="1153.70" y1="812.10" x2="1153.70" y2="966.80" stroke="#f1f1f1" stroke-width="1" />
<line x1="1200.40" y1="812.10" x2="1200.40" y2="966.80" stroke="#f1f1f1" stroke-width="1" />
<line x1="1247.10" y1="812.10" x2="1247.10" y2="966.80" stroke="#f1f1f1" stroke-width="1" />
<line x1="1293.80" y1="812.10" x2="1293.80" y2="966.80" stroke="#f1f1f1" stroke-width="1" />
<line x1="1340.50" y1="812.10" x2="1340.50" y2="966.80" stroke="#f1f1f1" stroke-width="1" />
<line x1="1387.20" y1="812.10" x2="1387.20" y2="966.80" stroke="#f1f1f1" stroke-width="1" />
<line x1="1139.70" y1="816.50" x2="1401.60" y2="816.50" stroke="#f1f1f1" stroke-width="1" />
<line x1="1139.70" y1="853.20" x2="1401.60" y2="853.20" stroke="#f1f1f1" stroke-width="1" />
<line x1="1139.70" y1="889.60" x2="1401.60" y2="889.60" stroke="#f1f1f1" stroke-width="1" />
<line x1="1139.70" y1="926.00" x2="1401.60" y2="926.00" stroke="#f1f1f1" stroke-width="1" />
<line x1="1139.70" y1="962.20" x2="1401.60" y2="962.20" stroke="#f1f1f1" stroke-width="1" />
<rect x="1139.7" y="812.1" width="261.89999999999986" height="154.69999999999993" fill="none" stroke="#777" stroke-width="1"/>
<line x1="1139.70" y1="966.80" x2="1401.60" y2="966.80" stroke="#444" stroke-width="1.2" />
<line x1="1139.70" y1="812.10" x2="1139.70" y2="966.80" stroke="#444" stroke-width="1.2" />
<line x1="1153.70" y1="963.30" x2="1153.70" y2="966.80" stroke="#444" stroke-width="1" />
<line x1="1200.40" y1="963.30" x2="1200.40" y2="966.80" stroke="#444" stroke-width="1" />
<line x1="1247.10" y1="963.30" x2="1247.10" y2="966.80" stroke="#444" stroke-width="1" />
<line x1="1293.80" y1="963.30" x2="1293.80" y2="966.80" stroke="#444" stroke-width="1" />
<line x1="1340.50" y1="963.30" x2="1340.50" y2="966.80" stroke="#444" stroke-width="1" />
<line x1="1387.20" y1="963.30" x2="1387.20" y2="966.80" stroke="#444" stroke-width="1" />
<line x1="1139.70" y1="816.50" x2="1143.20" y2="816.50" stroke="#444" stroke-width="1" />
<line x1="1139.70" y1="853.20" x2="1143.20" y2="853.20" stroke="#444" stroke-width="1" />
<line x1="1139.70" y1="889.60" x2="1143.20" y2="889.60" stroke="#444" stroke-width="1" />
<line x1="1139.70" y1="926.00" x2="1143.20" y2="926.00" stroke="#444" stroke-width="1" />
<line x1="1139.70" y1="962.20" x2="1143.20" y2="962.20" stroke="#444" stroke-width="1" />
<line x1="1153.70" y1="772.20" x2="1387.40" y2="772.20" stroke="#333" stroke-width="1.1" />
<line x1="1153.70" y1="962.20" x2="1387.40" y2="962.20" stroke="#333" stroke-width="1.1" />
<rect x="1153.70" y="715.59" width="4.8" height="56.61" fill="#ff4a0a" stroke="#3a1a0a" stroke-width="0.6"/>
<rect x="1158.50" y="627.53" width="4.8" height="144.67" fill="#ff4a0a" stroke="#3a1a0a" stroke-width="0.6"/>
<rect x="1163.30" y="734.46" width="4.8" height="37.74" fill="#ff4a0a" stroke="#3a1a0a" stroke-width="0.6"/>
<rect x="1168.10" y="759.62" width="4.8" height="12.58" fill="#ff4a0a" stroke="#3a1a0a" stroke-width="0.6"/>
<rect x="1172.90" y="765.91" width="4.8" height="6.29" fill="#ff4a0a" stroke="#3a1a0a" stroke-width="0.6"/>
<rect x="1177.70" y="765.91" width="4.8" height="6.29" fill="#ff4a0a" stroke="#3a1a0a" stroke-width="0.6"/>
<rect x="1154.20" y="889.40" width="4.68" height="72.80" fill="#0c7a0c" stroke="#0a2a0a" stroke-width="0.6"/>
<rect x="1158.88" y="853.00" width="4.68" height="109.20" fill="#0c7a0c" stroke="#0a2a0a" stroke-width="0.6"/>
<rect x="1163.56" y="889.40" width="4.68" height="72.80" fill="#0c7a0c" stroke="#0a2a0a" stroke-width="0.6"/>
<rect x="1168.24" y="889.40" width="4.68" height="72.80" fill="#0c7a0c" stroke="#0a2a0a" stroke-width="0.6"/>
<rect x="1172.92" y="889.40" width="4.68" height="72.80" fill="#0c7a0c" stroke="#0a2a0a" stroke-width="0.6"/>
<rect x="1177.60" y="889.40" width="4.68" height="72.80" fill="#0c7a0c" stroke="#0a2a0a" stroke-width="0.6"/>
<rect x="1182.28" y="889.40" width="4.68" height="72.80" fill="#0c7a0c" stroke="#0a2a0a" stroke-width="0.6"/>
<rect x="1191.64" y="816.60" width="4.68" height="145.60" fill="#0c7a0c" stroke="#0a2a0a" stroke-width="0.6"/>
<rect x="1196.32" y="925.80" width="4.68" height="36.40" fill="#0c7a0c" stroke="#0a2a0a" stroke-width="0.6"/>
<rect x="1201.00" y="853.00" width="4.68" height="109.20" fill="#0c7a0c" stroke="#0a2a0a" stroke-width="0.6"/>
<rect x="1205.68" y="889.40" width="4.68" height="72.80" fill="#0c7a0c" stroke="#0a2a0a" stroke-width="0.6"/>
<rect x="1215.04" y="925.80" width="4.68" height="36.40" fill="#0c7a0c" stroke="#0a2a0a" stroke-width="0.6"/>
<rect x="1219.72" y="925.80" width="4.68" height="36.40" fill="#0c7a0c" stroke="#0a2a0a" stroke-width="0.6"/>
<rect x="1252.48" y="889.40" width="4.68" height="72.80" fill="#0c7a0c" stroke="#0a2a0a" stroke-width="0.6"/>
<rect x="1257.16" y="889.40" width="4.68" height="72.80" fill="#0c7a0c" stroke="#0a2a0a" stroke-width="0.6"/>
<rect x="1261.84" y="889.40" width="4.68" height="72.80" fill="#0c7a0c" stroke="#0a2a0a" stroke-width="0.6"/>
<rect x="1271.20" y="889.40" width="4.68" height="72.80" fill="#0c7a0c" stroke="#0a2a0a" stroke-width="0.6"/>
<rect x="1280.56" y="925.80" width="4.68" height="36.40" fill="#0c7a0c" stroke="#0a2a0a" stroke-width="0.6"/>
<rect x="1289.92" y="889.40" width="4.68" height="72.80" fill="#0c7a0c" stroke="#0a2a0a" stroke-width="0.6"/>
<rect x="1299.28" y="925.80" width="4.68" height="36.40" fill="#0c7a0c" stroke="#0a2a0a" stroke-width="0.6"/>
<rect x="1327.36" y="925.80" width="4.68" height="36.40" fill="#0c7a0c" stroke="#0a2a0a" stroke-width="0.6"/>
<rect x="1346.08" y="925.80" width="4.68" height="36.40" fill="#0c7a0c" stroke="#0a2a0a" stroke-width="0.6"/>
<rect x="1378.84" y="925.80" width="4.68" height="36.40" fill="#0c7a0c" stroke="#0a2a0a" stroke-width="0.6"/>
<circle cx="833.50" cy="758.23" r="1.7" fill="#d8501e" stroke="#4a1a08" stroke-width="0.9"/>
<circle cx="839.53" cy="758.93" r="1.7" fill="#d8501e" stroke="#4a1a08" stroke-width="0.9"/>
<circle cx="845.56" cy="758.93" r="1.7" fill="#d8501e" stroke="#4a1a08" stroke-width="0.9"/>
<circle cx="851.59" cy="759.63" r="1.7" fill="#d8501e" stroke="#4a1a08" stroke-width="0.9"/>
<circle cx="857.62" cy="759.86" r="1.7" fill="#d8501e" stroke="#4a1a08" stroke-width="0.9"/>
<circle cx="863.65" cy="759.86" r="1.7" fill="#d8501e" stroke="#4a1a08" stroke-width="0.9"/>
<circle cx="869.68" cy="760.09" r="1.7" fill="#d8501e" stroke="#4a1a08" stroke-width="0.9"/>
<circle cx="875.71" cy="760.09" r="1.7" fill="#d8501e" stroke="#4a1a08" stroke-width="0.9"/>
<circle cx="881.74" cy="760.56" r="1.7" fill="#d8501e" stroke="#4a1a08" stroke-width="0.9"/>
<circle cx="887.77" cy="760.09" r="1.7" fill="#d8501e" stroke="#4a1a08" stroke-width="0.9"/>
<circle cx="893.80" cy="760.79" r="1.7" fill="#d8501e" stroke="#4a1a08" stroke-width="0.9"/>
<circle cx="899.83" cy="758.69" r="1.7" fill="#d8501e" stroke="#4a1a08" stroke-width="0.9"/>
<circle cx="905.86" cy="759.39" r="1.7" fill="#d8501e" stroke="#4a1a08" stroke-width="0.9"/>
<circle cx="911.89" cy="761.03" r="1.7" fill="#d8501e" stroke="#4a1a08" stroke-width="0.9"/>
<circle cx="917.92" cy="758.23" r="1.7" fill="#d8501e" stroke="#4a1a08" stroke-width="0.9"/>
<circle cx="923.95" cy="755.89" r="1.7" fill="#d8501e" stroke="#4a1a08" stroke-width="0.9"/>
<circle cx="929.98" cy="754.26" r="1.7" fill="#d8501e" stroke="#4a1a08" stroke-width="0.9"/>
<circle cx="936.01" cy="756.59" r="1.7" fill="#d8501e" stroke="#4a1a08" stroke-width="0.9"/>
<circle cx="942.04" cy="760.09" r="1.7" fill="#d8501e" stroke="#4a1a08" stroke-width="0.9"/>
<circle cx="948.07" cy="756.36" r="1.7" fill="#d8501e" stroke="#4a1a08" stroke-width="0.9"/>
<circle cx="954.10" cy="756.13" r="1.7" fill="#d8501e" stroke="#4a1a08" stroke-width="0.9"/>
<circle cx="960.13" cy="757.99" r="1.7" fill="#d8501e" stroke="#4a1a08" stroke-width="0.9"/>
<circle cx="966.16" cy="757.99" r="1.7" fill="#d8501e" stroke="#4a1a08" stroke-width="0.9"/>
<circle cx="972.19" cy="754.03" r="1.7" fill="#d8501e" stroke="#4a1a08" stroke-width="0.9"/>
<circle cx="978.22" cy="748.66" r="1.7" fill="#d8501e" stroke="#4a1a08" stroke-width="0.9"/>
<circle cx="984.25" cy="749.36" r="1.7" fill="#d8501e" stroke="#4a1a08" stroke-width="0.9"/>
<circle cx="990.28" cy="754.73" r="1.7" fill="#d8501e" stroke="#4a1a08" stroke-width="0.9"/>
<circle cx="996.31" cy="759.63" r="1.7" fill="#d8501e" stroke="#4a1a08" stroke-width="0.9"/>
<circle cx="1002.34" cy="762.66" r="1.7" fill="#d8501e" stroke="#4a1a08" stroke-width="0.9"/>
<circle cx="1008.37" cy="761.03" r="1.7" fill="#d8501e" stroke="#4a1a08" stroke-width="0.9"/>
<circle cx="1014.40" cy="758.93" r="1.7" fill="#d8501e" stroke="#4a1a08" stroke-width="0.9"/>
<circle cx="1020.43" cy="756.59" r="1.7" fill="#d8501e" stroke="#4a1a08" stroke-width="0.9"/>
<circle cx="1026.46" cy="759.86" r="1.7" fill="#d8501e" stroke="#4a1a08" stroke-width="0.9"/>
<circle cx="1032.49" cy="759.39" r="1.7" fill="#d8501e" stroke="#4a1a08" stroke-width="0.9"/>
<circle cx="1038.52" cy="758.23" r="1.7" fill="#d8501e" stroke="#4a1a08" stroke-width="0.9"/>
<circle cx="1044.55" cy="761.03" r="1.7" fill="#d8501e" stroke="#4a1a08" stroke-width="0.9"/>
<circle cx="1050.58" cy="758.69" r="1.7" fill="#d8501e" stroke="#4a1a08" stroke-width="0.9"/>
<circle cx="1056.61" cy="760.09" r="1.7" fill="#d8501e" stroke="#4a1a08" stroke-width="0.9"/>
<circle cx="1062.64" cy="761.03" r="1.7" fill="#d8501e" stroke="#4a1a08" stroke-width="0.9"/>
<circle cx="1068.67" cy="758.23" r="1.7" fill="#d8501e" stroke="#4a1a08" stroke-width="0.9"/>
<circle cx="1074.70" cy="758.93" r="1.7" fill="#d8501e" stroke="#4a1a08" stroke-width="0.9"/>
<circle cx="1080.73" cy="758.46" r="1.7" fill="#d8501e" stroke="#4a1a08" stroke-width="0.9"/>
<circle cx="833.50" cy="919.72" r="1.8" fill="#1f6a1f" stroke="#0a2a0a" stroke-width="0.9"/>
<circle cx="839.53" cy="938.16" r="1.8" fill="#1f6a1f" stroke="#0a2a0a" stroke-width="0.9"/>
<circle cx="845.56" cy="934.66" r="1.8" fill="#1f6a1f" stroke="#0a2a0a" stroke-width="0.9"/>
<circle cx="851.59" cy="941.42" r="1.8" fill="#1f6a1f" stroke="#0a2a0a" stroke-width="0.9"/>
<circle cx="857.62" cy="939.79" r="1.8" fill="#1f6a1f" stroke="#0a2a0a" stroke-width="0.9"/>
<circle cx="863.65" cy="943.06" r="1.8" fill="#1f6a1f" stroke="#0a2a0a" stroke-width="0.9"/>
<circle cx="869.68" cy="944.46" r="1.8" fill="#1f6a1f" stroke="#0a2a0a" stroke-width="0.9"/>
<circle cx="875.71" cy="946.56" r="1.8" fill="#1f6a1f" stroke="#0a2a0a" stroke-width="0.9"/>
<circle cx="881.74" cy="948.19" r="1.8" fill="#1f6a1f" stroke="#0a2a0a" stroke-width="0.9"/>
<circle cx="887.77" cy="949.82" r="1.8" fill="#1f6a1f" stroke="#0a2a0a" stroke-width="0.9"/>
<circle cx="893.80" cy="950.76" r="1.8" fill="#1f6a1f" stroke="#0a2a0a" stroke-width="0.9"/>
<circle cx="899.83" cy="947.49" r="1.8" fill="#1f6a1f" stroke="#0a2a0a" stroke-width="0.9"/>
<circle cx="905.86" cy="949.12" r="1.8" fill="#1f6a1f" stroke="#0a2a0a" stroke-width="0.9"/>
<circle cx="911.89" cy="928.59" r="1.8" fill="#1f6a1f" stroke="#0a2a0a" stroke-width="0.9"/>
<circle cx="917.92" cy="912.25" r="1.8" fill="#1f6a1f" stroke="#0a2a0a" stroke-width="0.9"/>
<circle cx="923.95" cy="869.08" r="1.8" fill="#1f6a1f" stroke="#0a2a0a" stroke-width="0.9"/>
<circle cx="929.98" cy="816.57" r="1.8" fill="#1f6a1f" stroke="#0a2a0a" stroke-width="0.9"/>
<circle cx="942.04" cy="921.59" r="1.8" fill="#1f6a1f" stroke="#0a2a0a" stroke-width="0.9"/>
<circle cx="948.07" cy="928.59" r="1.8" fill="#1f6a1f" stroke="#0a2a0a" stroke-width="0.9"/>
<circle cx="954.10" cy="946.09" r="1.8" fill="#1f6a1f" stroke="#0a2a0a" stroke-width="0.9"/>
<circle cx="960.13" cy="924.85" r="1.8" fill="#1f6a1f" stroke="#0a2a0a" stroke-width="0.9"/>
<circle cx="966.16" cy="937.92" r="1.8" fill="#1f6a1f" stroke="#0a2a0a" stroke-width="0.9"/>
<circle cx="972.19" cy="893.58" r="1.8" fill="#1f6a1f" stroke="#0a2a0a" stroke-width="0.9"/>
<circle cx="984.25" cy="863.94" r="1.8" fill="#1f6a1f" stroke="#0a2a0a" stroke-width="0.9"/>
<circle cx="990.28" cy="923.45" r="1.8" fill="#1f6a1f" stroke="#0a2a0a" stroke-width="0.9"/>
<circle cx="996.31" cy="888.45" r="1.8" fill="#1f6a1f" stroke="#0a2a0a" stroke-width="0.9"/>
<circle cx="1002.34" cy="870.71" r="1.8" fill="#1f6a1f" stroke="#0a2a0a" stroke-width="0.9"/>
<circle cx="1008.37" cy="885.65" r="1.8" fill="#1f6a1f" stroke="#0a2a0a" stroke-width="0.9"/>
<circle cx="1014.40" cy="889.61" r="1.8" fill="#1f6a1f" stroke="#0a2a0a" stroke-width="0.9"/>
<circle cx="1020.43" cy="880.28" r="1.8" fill="#1f6a1f" stroke="#0a2a0a" stroke-width="0.9"/>
<circle cx="1026.46" cy="876.31" r="1.8" fill="#1f6a1f" stroke="#0a2a0a" stroke-width="0.9"/>
<circle cx="1032.49" cy="891.25" r="1.8" fill="#1f6a1f" stroke="#0a2a0a" stroke-width="0.9"/>
<circle cx="1038.52" cy="923.45" r="1.8" fill="#1f6a1f" stroke="#0a2a0a" stroke-width="0.9"/>
<circle cx="1044.55" cy="879.81" r="1.8" fill="#1f6a1f" stroke="#0a2a0a" stroke-width="0.9"/>
<circle cx="1050.58" cy="887.51" r="1.8" fill="#1f6a1f" stroke="#0a2a0a" stroke-width="0.9"/>
<circle cx="1056.61" cy="927.65" r="1.8" fill="#1f6a1f" stroke="#0a2a0a" stroke-width="0.9"/>
<circle cx="1062.64" cy="934.42" r="1.8" fill="#1f6a1f" stroke="#0a2a0a" stroke-width="0.9"/>
<circle cx="1068.67" cy="914.82" r="1.8" fill="#1f6a1f" stroke="#0a2a0a" stroke-width="0.9"/>
<circle cx="1074.70" cy="922.52" r="1.8" fill="#1f6a1f" stroke="#0a2a0a" stroke-width="0.9"/>
<circle cx="1080.73" cy="929.05" r="1.8" fill="#1f6a1f" stroke="#0a2a0a" stroke-width="0.9"/>
<text x="819" y="692.8" font-size="23.5" fill="#111" text-anchor="middle" textLength="120" lengthAdjust="spacingAndGlyphs" transform="rotate(-90 819 692.8)" >channels AA</text>
<text x="818" y="888.7" font-size="23.5" fill="#111" text-anchor="middle" textLength="119" lengthAdjust="spacingAndGlyphs" transform="rotate(-90 818 888.7)" >channels AA</text>
<text x="1124.4" y="701.6" font-size="23" fill="#111" text-anchor="middle" textLength="153.5" lengthAdjust="spacingAndGlyphs" transform="rotate(-90 1124.4 701.6)" >channels per bin</text>
<text x="1126.5" y="891.1" font-size="23" fill="#111" text-anchor="middle" textLength="152.4" lengthAdjust="spacingAndGlyphs" transform="rotate(-90 1126.5 891.1)" >channels per bin</text>
<text x="912.4" y="987.9" font-size="23" fill="#111" text-anchor="start" textLength="80.5" lengthAdjust="spacingAndGlyphs" >channels</text>
<text x="1255.4" y="986.8" font-size="23" fill="#111" text-anchor="start" textLength="37.4" lengthAdjust="spacingAndGlyphs" >bins</text>
<text x="834.2" y="648.5" font-size="22" fill="rgb(220,85,35)" text-anchor="start" textLength="31" lengthAdjust="spacing" >(a)</text>
<text x="832.5" y="838.5" font-size="22" fill="rgb(30,120,30)" text-anchor="start" textLength="31" lengthAdjust="spacing" >(b)</text>
<line x1="229.80" y1="625.00" x2="229.80" y2="743.10" stroke="#ff4500" stroke-width="3" />
<path d="M229.80,762.30 L221.80,735.30 L229.80,740.97 L237.80,735.30 Z" fill="#ff4500"/>
<line x1="229.80" y1="805.00" x2="229.80" y2="981.50" stroke="#ff4500" stroke-width="3" />
<path d="M229.80,1000.70 L221.80,973.70 L229.80,979.37 L237.80,973.70 Z" fill="#ff4500"/>
<line x1="388.40" y1="779.00" x2="738.83" y2="731.00" stroke="#ff4500" stroke-width="3.2" />
<path d="M761.50,727.90 L732.08,741.52 L736.32,731.35 L729.50,722.69 Z" fill="#ff4500"/>
<line x1="367.50" y1="620.30" x2="367.50" y2="766.40" stroke="#008000" stroke-width="2" />
<line x1="367.60" y1="804.00" x2="367.60" y2="824.58" stroke="#008000" stroke-width="3.5" />
<path d="M367.60,845.20 L357.60,816.20 L367.60,822.29 L377.60,816.20 Z" fill="#008000"/>
<line x1="367.00" y1="878.40" x2="366.59" y2="979.37" stroke="#008000" stroke-width="3.5" />
<path d="M366.50,1000.70 L357.12,970.66 L366.60,977.00 L376.12,970.74 Z" fill="#008000"/>
<line x1="558.80" y1="859.80" x2="751.56" y2="898.78" stroke="#008000" stroke-width="2.3" />
<path d="M768.50,902.20 L743.59,904.30 L749.68,898.39 L746.36,890.58 Z" fill="#008000"/>
<text x="141" y="792.4" font-size="40.5" fill="#ff4500" text-anchor="start" textLength="240.4" lengthAdjust="spacingAndGlyphs" >Before Seizure</text>
<text x="306.7" y="871.6" font-size="40.5" fill="#008000" text-anchor="start" textLength="245" lengthAdjust="spacingAndGlyphs" >During Seizure</text>
<text x="11.5" y="988.5" font-size="75" fill="#000" text-anchor="start" textLength="51" lengthAdjust="spacingAndGlyphs" >C</text>
<rect x="3.00" y="1005.70" width="900.30" height="488.50" fill="#fff" stroke="#333" stroke-width="4"/>
<line x1="84.70" y1="1031.00" x2="84.70" y2="1452.00" stroke="#ececec" stroke-width="1" />
<line x1="255.70" y1="1031.00" x2="255.70" y2="1452.00" stroke="#ececec" stroke-width="1" />
<line x1="426.70" y1="1031.00" x2="426.70" y2="1452.00" stroke="#ececec" stroke-width="1" />
<line x1="597.70" y1="1031.00" x2="597.70" y2="1452.00" stroke="#ececec" stroke-width="1" />
<line x1="768.70" y1="1031.00" x2="768.70" y2="1452.00" stroke="#ececec" stroke-width="1" />
<line x1="62.00" y1="1043.40" x2="862.00" y2="1043.40" stroke="#ececec" stroke-width="1" />
<line x1="62.00" y1="1123.00" x2="862.00" y2="1123.00" stroke="#ececec" stroke-width="1" />
<line x1="62.00" y1="1202.30" x2="862.00" y2="1202.30" stroke="#ececec" stroke-width="1" />
<line x1="62.00" y1="1281.40" x2="862.00" y2="1281.40" stroke="#ececec" stroke-width="1" />
<line x1="62.00" y1="1360.70" x2="862.00" y2="1360.70" stroke="#ececec" stroke-width="1" />
<line x1="62.00" y1="1440.50" x2="862.00" y2="1440.50" stroke="#ececec" stroke-width="1" />
<rect x="290.3" y="1043.3" width="343.5" height="397.2" fill="#e3e3e3"/>
<line x1="426.70" y1="1043.30" x2="426.70" y2="1440.50" stroke="#d6d6d6" stroke-width="1" />
<line x1="597.70" y1="1043.30" x2="597.70" y2="1440.50" stroke="#d6d6d6" stroke-width="1" />
<line x1="62.00" y1="1031.40" x2="62.00" y2="1452.20" stroke="#555" stroke-width="1.2" />
<line x1="62.00" y1="1452.20" x2="861.50" y2="1452.20" stroke="#444" stroke-width="1.2" />
<line x1="62.00" y1="1043.40" x2="66.00" y2="1043.40" stroke="#444" stroke-width="1" />
<line x1="62.00" y1="1123.00" x2="66.00" y2="1123.00" stroke="#444" stroke-width="1" />
<line x1="62.00" y1="1202.30" x2="66.00" y2="1202.30" stroke="#444" stroke-width="1" />
<line x1="62.00" y1="1281.40" x2="66.00" y2="1281.40" stroke="#444" stroke-width="1" />
<line x1="62.00" y1="1360.70" x2="66.00" y2="1360.70" stroke="#444" stroke-width="1" />
<line x1="62.00" y1="1440.50" x2="66.00" y2="1440.50" stroke="#444" stroke-width="1" />
<line x1="84.70" y1="1448.00" x2="84.70" y2="1452.20" stroke="#444" stroke-width="1" />
<line x1="255.70" y1="1448.00" x2="255.70" y2="1452.20" stroke="#444" stroke-width="1" />
<line x1="426.70" y1="1448.00" x2="426.70" y2="1452.20" stroke="#444" stroke-width="1" />
<line x1="597.70" y1="1448.00" x2="597.70" y2="1452.20" stroke="#444" stroke-width="1" />
<line x1="768.70" y1="1448.00" x2="768.70" y2="1452.20" stroke="#444" stroke-width="1" />
<g opacity="0.35"><path d="M84.5 1333.9V1410.8M85.5 1295.2V1382.2M86.5 1297.6V1368.6M87.5 1304.4V1382.3M88.5 1283V1352.5M89.5 1306.5V1372.3M90.5 1296.3V1389.4M91.5 1297V1341.7M92.5 1298.5V1360M93.5 1291.2V1357.9M94.5 1304.3V1369.8M95.5 1329.3V1394.7M96.5 1309.8V1377.6M97.5 1308.7V1373M98.5 1303.8V1370.5M99.5 1287.7V1386.7M100.5 1318V1391.1M101.5 1294V1350.8M102.5 1329.8V1397.3M103.5 1313.1V1378.7M104.5 1292.1V1361M105.5 1300.5V1372M106.5 1289.5V1373.5M107.5 1296V1390.9M108.5 1294.3V1383M109.5 1298.1V1387.3M110.5 1318.8V1423.3M111.5 1330.6V1382.4M112.5 1337.1V1392.5M113.5 1332.2V1424.3M114.5 1310.2V1408.8M115.5 1303V1403M116.5 1301.2V1405.3M117.5 1307.2V1402.2M118.5 1298.6V1398.8M119.5 1304V1379.6M120.5 1301.3V1375.8M121.5 1307.2V1368.3M122.5 1285V1351.2M123.5 1283.6V1369.4M124.5 1289.2V1338.6M125.5 1293.8V1365.2M126.5 1327.4V1399M127.5 1300.5V1386.4M128.5 1301.4V1440.5M129.5 1301.6V1399M130.5 1331.1V1391.5M131.5 1321.2V1397.1M132.5 1298.8V1394M133.5 1290.1V1391.3M134.5 1304.1V1392.3M135.5 1294.7V1396.7M136.5 1317.9V1402.1M137.5 1328.5V1404.7M138.5 1314.5V1405.4M139.5 1305.6V1406.2M140.5 1293.2V1384.6M141.5 1319.9V1367.1M142.5 1305.2V1401.8M143.5 1298.9V1384.1M144.5 1314.5V1401.8M145.5 1315.5V1392.3M146.5 1304.2V1386.7M147.5 1302.4V1359.3M148.5 1323.4V1385.9M149.5 1272.2V1374.5M150.5 1273.3V1349M151.5 1288.7V1364.2M152.5 1298.7V1374.7M153.5 1321.4V1383.9M154.5 1303.1V1375.3M155.5 1283.9V1355.1M156.5 1282.6V1376.2M157.5 1290.8V1379.3M158.5 1285.4V1352.9M159.5 1321.3V1379.5M160.5 1295.6V1369.8M161.5 1290.3V1382.7M162.5 1293.6V1411.5M163.5 1287.3V1392.9M164.5 1317.3V1381M165.5 1316.8V1384M166.5 1289.1V1364.1M167.5 1304.5V1384.1M168.5 1285V1381.1M169.5 1303.8V1370.7M170.5 1273V1339.8M171.5 1270.9V1359.6M172.5 1282.9V1346.2M173.5 1290.1V1378.6M174.5 1277.6V1361.1M175.5 1281.2V1364.4M176.5 1295.7V1358M177.5 1276.4V1381.3M178.5 1269.8V1328.6M179.5 1261.3V1337.3M180.5 1257.5V1342.3M181.5 1291.1V1358.8M182.5 1258.4V1345.6M183.5 1206.8V1338M184.5 1269.4V1352.6M185.5 1257.7V1365.1M186.5 1275.9V1361.9M187.5 1269.2V1359.6M188.5 1259.9V1319.1M189.5 1260.7V1325.1M190.5 1246.9V1350.4M191.5 1266.3V1351.1M192.5 1250.4V1358.9M193.5 1274V1344.5M194.5 1265.3V1361.5M195.5 1215.2V1347.6M196.5 1265.1V1345.4M197.5 1263.3V1359M198.5 1261.2V1338.7M199.5 1298.3V1363.7M200.5 1274.2V1367.2M201.5 1272.3V1347.4M202.5 1273V1361.5M203.5 1284.6V1370.6M204.5 1272.2V1366.2M205.5 1280.4V1361.7M206.5 1254.7V1357.9M207.5 1275.6V1358.3M208.5 1284.1V1346.4M209.5 1261.4V1360.5M210.5 1274.5V1352.6M211.5 1287.4V1369.1M212.5 1262.5V1325.6M213.5 1278.1V1362.9M214.5 1268.1V1342.5M215.5 1261.9V1333M216.5 1293.4V1361M217.5 1296.4V1386M218.5 1293.2V1349.1M219.5 1283.9V1378.4M220.5 1310V1388M221.5 1281.3V1353.4M222.5 1278.1V1381.9M223.5 1311.1V1369.6M224.5 1273.7V1367.3M225.5 1272.9V1368.8M226.5 1293.2V1357.4M227.5 1304V1352.4M228.5 1276.3V1358.3M229.5 1273.8V1379.7M230.5 1319V1372.9M231.5 1247V1347.9M232.5 1301.5V1386.2M233.5 1290.5V1380.6M234.5 1317.1V1381.5M235.5 1270.9V1365.6M236.5 1288.5V1375.3M237.5 1268.2V1368.5M238.5 1276.7V1350.3M239.5 1265V1344.3M240.5 1272.8V1368.8M241.5 1281.2V1353M242.5 1299.9V1364.3M243.5 1286.3V1354M244.5 1296.3V1440.5M245.5 1282.8V1388.4M246.5 1292.7V1381.7M247.5 1293.1V1367.6M248.5 1287.9V1378.1M249.5 1306.3V1363.6M250.5 1274.7V1380.9M251.5 1285.6V1347.1M252.5 1268.7V1365.4M253.5 1265.2V1348.7M254.5 1272V1424.1M255.5 1263.3V1321.4M256.5 1283.6V1363.8M257.5 1296.2V1345.1M258.5 1290.2V1350.2M259.5 1273.6V1359.8M260.5 1272V1348.3M261.5 1286.1V1340.2M262.5 1286.9V1351.8M263.5 1272.9V1349.5M264.5 1258.5V1364.3M265.5 1292.4V1348.4M266.5 1292.8V1374.4M267.5 1277.4V1380.2M268.5 1287V1375M269.5 1313.2V1378.2M270.5 1280.4V1354.4M271.5 1279.7V1346.1M272.5 1270.2V1376.6M273.5 1269.9V1366.6M274.5 1289.9V1356.8M275.5 1283.7V1355.4M276.5 1290.5V1357.8M277.5 1308.7V1360.1M278.5 1280.6V1369.4M279.5 1278.8V1372.9M280.5 1288.1V1357.8M281.5 1311.1V1389.1M282.5 1285.7V1373.3M283.5 1286.8V1392.6M284.5 1314.6V1393.4M285.5 1299.1V1386.2M286.5 1292.6V1375.3M287.5 1285.5V1386.7M288.5 1267.9V1356.6M289.5 1276V1339.1M290.5 1254.5V1329M291.5 1249.7V1327.9M292.5 1230.2V1309M293.5 1216.3V1301.6M294.5 1213.1V1307.8M295.5 1244.5V1311.4M296.5 1237.9V1301.6M297.5 1242.9V1308.2M298.5 1240.1V1347M299.5 1245.5V1341.4M300.5 1243.6V1336.4M301.5 1235.3V1321.2M302.5 1225.6V1321.3M303.5 1210.9V1296.4M304.5 1198.9V1305.7M305.5 1225.2V1278M306.5 1239.7V1284.8M307.5 1221.8V1279.6M308.5 1210.4V1318.8M309.5 1195.2V1279.5M310.5 1181.3V1246.6M311.5 1185.8V1246.7M312.5 1146.1V1234.1M313.5 1171.5V1246.8M314.5 1131.8V1217.6M315.5 1147.8V1232.5M316.5 1128V1202M317.5 1157.8V1191.1M318.5 1141.5V1226.6M319.5 1121.8V1188.4M320.5 1143.5V1208.1M321.5 1126.2V1215.5M322.5 1132.1V1202.4M323.5 1150.1V1199.6M324.5 1146.2V1196.8M325.5 1154.1V1222.8M326.5 1155.1V1227.7M327.5 1137.4V1190.1M328.5 1131.8V1178.4M329.5 1090V1156.5M330.5 1086.9V1137.3M331.5 1077.2V1143.2M332.5 1102.2V1160.2M333.5 1109.2V1155.2M334.5 1074.8V1131.1M335.5 1094.6V1151.1M336.5 1104.2V1161.8M337.5 1089.4V1159.8M338.5 1087.4V1147.1M339.5 1043.4V1164.2M340.5 1077.7V1163.5M341.5 1092.7V1149.5M342.5 1088.3V1154.2M343.5 1084.2V1147.8M344.5 1069.9V1134.6M345.5 1081.3V1132.1M346.5 1060.5V1147.2M347.5 1059.5V1127.3M348.5 1092.5V1137.6M349.5 1062.5V1128.3M350.5 1065.7V1122.5M351.5 1066.1V1129.8M352.5 1085.7V1138.3M353.5 1084.6V1114.9M354.5 1043.4V1153.3M355.5 1076V1151M356.5 1069.6V1136.3M357.5 1091.1V1160.6M358.5 1078.6V1159.6M359.5 1098.9V1154.3M360.5 1084V1161.8M361.5 1110.7V1169.4M362.5 1090.5V1182.6M363.5 1117.6V1186.7M364.5 1102.9V1162.7M365.5 1101.8V1161.9M366.5 1112.1V1184.3M367.5 1101.3V1194.4M368.5 1102.5V1170.2M369.5 1128.4V1189.6M370.5 1114.3V1182.1M371.5 1104.6V1170.2M372.5 1124.6V1178.4M373.5 1106.1V1183.2M374.5 1130.4V1185.2M375.5 1108.9V1208.9M376.5 1116.6V1253.5M377.5 1118.4V1195.8M378.5 1147.3V1202.1M379.5 1130V1186.5M380.5 1120.5V1183.1M381.5 1137.1V1210.9M382.5 1122.1V1196.4M383.5 1154.3V1226.4M384.5 1131.5V1218.4M385.5 1148.1V1231.6M386.5 1159.4V1213.1M387.5 1165.2V1242.9M388.5 1139.8V1235.2M389.5 1158.8V1241.4M390.5 1141V1244.1M391.5 1139.9V1236.2M392.5 1151.1V1248.3M393.5 1140.8V1248.8M394.5 1139.4V1226.3M395.5 1143.2V1262.8M396.5 1180.7V1245.1M397.5 1181.4V1249.4M398.5 1182V1240.3M399.5 1168V1238.7M400.5 1160.5V1249.5M401.5 1152.1V1260.8M402.5 1160.5V1267.8M403.5 1162.5V1231.3M404.5 1155.9V1257.3M405.5 1171.1V1271.7M406.5 1171.8V1321.3M407.5 1175.7V1255M408.5 1099.1V1247.8M409.5 1194V1268.6M410.5 1182V1274.9M411.5 1197.1V1281.9M412.5 1182.8V1283.5M413.5 1184.9V1310M414.5 1180V1258.6M415.5 1175.5V1282.6M416.5 1175.1V1269.3M417.5 1176.2V1270.5M418.5 1170.6V1272.7M419.5 1150.3V1245.1M420.5 1190.8V1264.8M421.5 1168.5V1245.9M422.5 1184.1V1259.2M423.5 1160.1V1274.2M424.5 1182.5V1279.3M425.5 1176V1286.1M426.5 1191.7V1254.7M427.5 1191.5V1261.2M428.5 1205.6V1350M429.5 1211.7V1266.9M430.5 1188.3V1295.5M431.5 1173.8V1295.7M432.5 1173V1268.6M433.5 1170.8V1281.8M434.5 1190.5V1293.3M435.5 1189.7V1275.5M436.5 1173.8V1278.4M437.5 1188.1V1295.7M438.5 1190.5V1340.9M439.5 1199.7V1270.3M440.5 1221.7V1287.8M441.5 1197.7V1304.4M442.5 1178.5V1303.7M443.5 1189.9V1295.9M444.5 1198.7V1249.1M445.5 1198V1240M446.5 1195.2V1327.7M447.5 1181.3V1283.9M448.5 1189.6V1298.8M449.5 1171.8V1284.1M450.5 1186.3V1297.4M451.5 1169.6V1285.2M452.5 1171.8V1273.6M453.5 1168.8V1296.6M454.5 1181.7V1292.8M455.5 1202.6V1276.5M456.5 1179.8V1293.1M457.5 1199.2V1291.8M458.5 1186.6V1308.3M459.5 1208.4V1312.3M460.5 1212.4V1298.2M461.5 1225.7V1308M462.5 1192.6V1286.7M463.5 1240.7V1310.2M464.5 1195V1304.4M465.5 1213.9V1321.6M466.5 1201.1V1303M467.5 1187.4V1316.9M468.5 1209.3V1303.3M469.5 1232.3V1292.3M470.5 1209.2V1308.1M471.5 1214.3V1317.8M472.5 1158.6V1305.4M473.5 1190V1314.5M474.5 1229.2V1286.7M475.5 1189.4V1291.3M476.5 1204.5V1304.5M477.5 1195.7V1281.8M478.5 1213.1V1313M479.5 1153.9V1307.8M480.5 1198.2V1355.5M481.5 1237V1302.6M482.5 1199.6V1329.3M483.5 1213.6V1331.5M484.5 1222.7V1331.1M485.5 1198V1286.2M486.5 1208.4V1331.2M487.5 1199.8V1285.5M488.5 1202.6V1296.5M489.5 1215.6V1337.9M490.5 1207V1324M491.5 1207.6V1311.2M492.5 1207.5V1293.3M493.5 1206.8V1325.4M494.5 1204.7V1323.5M495.5 1233.2V1328.9M496.5 1250.1V1332.7M497.5 1225V1335.4M498.5 1240.1V1300M499.5 1230.4V1329.6M500.5 1200.6V1317.8M501.5 1201.8V1305.3M502.5 1233.5V1337.7M503.5 1142.4V1318.6M504.5 1205.2V1323.9M505.5 1211.5V1317.6M506.5 1207.5V1343.6M507.5 1234.2V1327.5M508.5 1221.3V1340.3M509.5 1241.5V1334.2M510.5 1203.2V1337.4M511.5 1242.8V1311.9M512.5 1203.1V1328.7M513.5 1241.1V1320.6M514.5 1242.8V1305.9M515.5 1225.5V1350.8M516.5 1250.8V1308.2M517.5 1228.4V1350.4M518.5 1219.1V1357.1M519.5 1217.9V1311.9M520.5 1212.3V1349.2M521.5 1251.2V1350.4M522.5 1242V1349.3M523.5 1236.5V1347.3M524.5 1256.4V1316.8M525.5 1240.1V1313.5M526.5 1224.7V1338.4M527.5 1247.7V1351M528.5 1215.9V1336.4M529.5 1249.5V1321.8M530.5 1264.3V1340.8M531.5 1266.2V1357.3M532.5 1226V1321M533.5 1218.9V1347.9M534.5 1224.7V1359.8M535.5 1239.1V1333.6M536.5 1225.5V1342.6M537.5 1240.2V1370.3M538.5 1231.8V1370.3M539.5 1256.8V1335.2M540.5 1275.9V1360.6M541.5 1217.5V1342.4M542.5 1275.9V1356.6M543.5 1242.5V1295.8M544.5 1145.8V1330.3M545.5 1229.2V1353.4M546.5 1250.4V1369.2M547.5 1229.6V1365.9M548.5 1225.8V1335.2M549.5 1220.6V1348M550.5 1229.4V1360.4M551.5 1219.9V1351.5M552.5 1220.2V1334.2M553.5 1231.8V1362.5M554.5 1238.6V1362.4M555.5 1222.2V1344M556.5 1223.9V1367.3M557.5 1227.5V1369.4M558.5 1227.9V1354.4M559.5 1259.2V1351.9M560.5 1245.9V1341.1M561.5 1234.6V1347.1M562.5 1243.8V1331.1M563.5 1219.1V1359.2M564.5 1252.6V1351.9M565.5 1243.3V1346.6M566.5 1244.3V1339.2M567.5 1232.2V1348.4M568.5 1246V1373.7M569.5 1257.8V1386.5M570.5 1243.2V1351.6M571.5 1273.2V1338.5M572.5 1282.4V1394.5M573.5 1310.6V1440.5M574.5 1276.6V1362.5M575.5 1278.6V1332M576.5 1240.7V1334.2M577.5 1281.8V1368.9M578.5 1275.6V1440.5M579.5 1277.7V1371.6M580.5 1267.7V1359.7M581.5 1278V1403.4M582.5 1267.7V1389.3M583.5 1249V1402.2M584.5 1249.6V1361.7M585.5 1252.9V1410.3M586.5 1274.5V1384.3M587.5 1260.6V1411.1M588.5 1284.4V1422.6M589.5 1264.7V1419.6M590.5 1314.6V1401.3M591.5 1283.2V1424.1M592.5 1263V1422.6M593.5 1264.8V1408.4M594.5 1287.9V1414.7M595.5 1278.2V1413.3M596.5 1255.5V1381.9M597.5 1239.8V1346.5M598.5 1260.9V1440.5M599.5 1252.9V1414.1M600.5 1307.2V1387.3M601.5 1261.7V1425.7M602.5 1262.8V1380.3M603.5 1306.6V1431.6M604.5 1286V1416M605.5 1305.9V1406.9M606.5 1268V1398.9M607.5 1311V1440.5M608.5 1297.5V1408.1M609.5 1317V1385.7M610.5 1295.4V1376.2M611.5 1281.6V1387.5M612.5 1281.7V1426.7M613.5 1268.7V1376M614.5 1283.2V1410.3M615.5 1339.5V1407.6M616.5 1278.1V1414.9M617.5 1305.9V1435.8M618.5 1307.7V1415.9M619.5 1345.8V1440.4M620.5 1287V1436.5M621.5 1273.5V1433.5M622.5 1297.9V1437.1M623.5 1289.3V1434.5M624.5 1291.9V1430.9M625.5 1295.4V1431.8M626.5 1265.9V1382.5M627.5 1278.1V1434.1M628.5 1306.5V1386.4M629.5 1298V1415.6M630.5 1273.9V1392.7M631.5 1287.9V1399.7M632.5 1328.7V1421M633.5 1349.8V1440.5M634.5 1352.2V1440.5M635.5 1371.3V1440.5M636.5 1370.2V1438M637.5 1360.7V1440.5M638.5 1370.4V1440.5M639.5 1367.6V1440.5M640.5 1361.5V1440.5M641.5 1364.5V1440.5M642.5 1354.9V1440.5M643.5 1356.3V1440.5M644.5 1357.5V1440.5M645.5 1351.9V1440.5M646.5 1369.3V1440.5M647.5 1352.7V1419.6M648.5 1352.8V1440.5M649.5 1368.4V1440.5M650.5 1362.9V1440.5M651.5 1342V1433.2M652.5 1356.1V1431.6M653.5 1345V1440.5M654.5 1390.3V1434.1M655.5 1383.4V1440.5M656.5 1394.1V1440.5M657.5 1371.5V1440.5M658.5 1371.9V1440.5M659.5 1376.7V1440.5M660.5 1363.6V1440.5M661.5 1367.8V1440.5M662.5 1368.2V1427M663.5 1342.7V1427.5M664.5 1342V1421.7M665.5 1364.3V1430M666.5 1384.3V1440.5M667.5 1355.4V1427.3M668.5 1380V1440.5M669.5 1374.1V1440.5M670.5 1376.8V1432.5M671.5 1353.1V1440.5M672.5 1369.9V1440.5M673.5 1361.8V1440.5M674.5 1355.7V1440.5M675.5 1392.6V1440.5M676.5 1356.5V1440.5M677.5 1367.5V1440.5M678.5 1355.9V1440.5M679.5 1360.9V1440.5M680.5 1355.7V1440.5M681.5 1382.2V1440.5M682.5 1368.7V1440.5M683.5 1380.7V1440.5M684.5 1367V1439.8M685.5 1375.1V1440.5M686.5 1345.2V1440.5M687.5 1376.4V1440.5M688.5 1376.8V1440.5M689.5 1355V1440.5M690.5 1357.4V1440.5M691.5 1378.2V1440.3M692.5 1378.6V1440.5M693.5 1381.4V1440.5M694.5 1339.6V1440.5M695.5 1341.6V1424.7M696.5 1342.2V1431.6M697.5 1337.5V1423.2M698.5 1352V1429.7M699.5 1367.1V1409.8M700.5 1344.5V1427.3M701.5 1347.7V1428.6M702.5 1344.6V1427.5M703.5 1339.9V1440.5M704.5 1341.5V1440.5M705.5 1383.4V1440.1M706.5 1386.8V1440.5M707.5 1349.6V1429M708.5 1391.2V1439.2M709.5 1352.3V1440.5M710.5 1371.3V1440.5M711.5 1355.9V1440.5M712.5 1376.2V1440.5M713.5 1346.9V1440.5M714.5 1352.5V1440.5M715.5 1371.9V1435.4M716.5 1372V1440.5M717.5 1358.5V1425.3M718.5 1390.2V1440.5M719.5 1364V1440.5M720.5 1363.6V1440.5M721.5 1351.3V1437.9M722.5 1370.6V1440.5M723.5 1349V1440.5M724.5 1374.3V1421.6M725.5 1371.2V1426.5M726.5 1347.6V1429.3M727.5 1341V1440.4M728.5 1345.1V1440.5M729.5 1354.7V1440.5M730.5 1365.3V1440.5M731.5 1368V1440.5M732.5 1356.6V1440.5M733.5 1365.4V1440.5M734.5 1377.6V1440.5M735.5 1365V1415.2M736.5 1341.7V1440.5M737.5 1356.9V1426.6M738.5 1349.3V1427.4M739.5 1375.8V1440.5M740.5 1345V1436.7M741.5 1380.5V1440.5M742.5 1398.1V1440.5M743.5 1366.9V1440.5M744.5 1352.4V1440.5M745.5 1352.8V1433M746.5 1343.4V1440.5M747.5 1341.4V1440.5M748.5 1342.1V1424M749.5 1377.1V1440.5M750.5 1370V1440.5M751.5 1376.3V1440.5M752.5 1361.5V1440.5M753.5 1375.1V1440.5M754.5 1373.1V1440.5M755.5 1347.8V1440.5M756.5 1381.2V1440.5M757.5 1377.5V1440.5M758.5 1345.7V1440.5M759.5 1371.4V1425.3M760.5 1350V1424.9M761.5 1355.2V1430.8M762.5 1363.3V1439.6M763.5 1356.3V1440.5M764.5 1359.8V1440.5M765.5 1348.2V1440.5M766.5 1372.8V1440.5M767.5 1352.6V1440.5M768.5 1366.8V1440.5M769.5 1343.3V1440.5M770.5 1339.1V1440.5M771.5 1367.9V1439.5M772.5 1336.5V1430.6M773.5 1365.1V1440.5M774.5 1356.9V1440.5M775.5 1355.4V1440.5M776.5 1346.7V1440.5M777.5 1373.5V1440.3M778.5 1352.1V1440.5M779.5 1386.7V1440.5M780.5 1356.7V1440.5M781.5 1365V1434.2M782.5 1336.1V1429.8M783.5 1337.3V1428.4M784.5 1354.2V1404.3M785.5 1352.3V1440.5M786.5 1305.1V1440.5M787.5 1370.4V1434.6M788.5 1373.9V1429.5M789.5 1355.6V1440.5M790.5 1378.2V1420.1M791.5 1343V1431.2M792.5 1372.3V1440.5M793.5 1379.5V1440.5M794.5 1381.1V1440.5M795.5 1351.1V1440.5M796.5 1348.6V1440.5M797.5 1345.2V1440.5M798.5 1380.9V1440.5M799.5 1393.3V1440.5M800.5 1363.7V1440.5M801.5 1348.9V1440.5M802.5 1374.1V1440.5M803.5 1362.5V1440.5M804.5 1374.4V1440.5M805.5 1350.4V1434.7M806.5 1339V1440.5M807.5 1362.8V1428.6M808.5 1352V1433.7M809.5 1335.4V1440.5M810.5 1376.8V1440.5M811.5 1345.7V1425.9M812.5 1335.1V1440.5M813.5 1373.7V1440.5M814.5 1331V1440.5M815.5 1334.4V1418M816.5 1322.8V1425.8M817.5 1358.4V1436.6M818.5 1325V1426.5M819.5 1328.6V1440.3M820.5 1344.4V1440.5M821.5 1332.2V1418.3M822.5 1349.1V1440.5M823.5 1329.8V1424.9M824.5 1367.6V1408.1M825.5 1334V1433.8M826.5 1329.1V1440.5M827.5 1336.7V1432.9M828.5 1350.4V1440.5M829.5 1348.9V1440.5M830.5 1364.8V1440.5M831.5 1378.2V1440.5M832.5 1347.7V1422.6M833.5 1369.1V1440.5M834.5 1346.3V1440.5M835.5 1375.9V1433.2M836.5 1364.5V1440.5M837.5 1352.6V1418.8M838.5 1349.9V1440.2M839.5 1375.3V1439.3" fill="none" stroke="rgb(121,115,201)" stroke-width="1"/></g>
<path d="M84 1359.5l.5-4 .5-5.4 .5-5.9 .5-5.8 .5-4.7 .5-2.7 .5-.2 .5 1.5 .5 2.1 .5 2 .5 1.5 .5 .5 .5-.4 .5-.8 .5-1 .5-.6 .5 0 .5 1.1 .5 1.9 .5 2.1 .5 2 .5 1.5 .5 .4 .5-.9 .5-1.9 .5-2.2 .5-2 .5-1.3 .5-.3 .5 .8 .5 1.3 .5 1.5 .5 1.5 .5 1.5 .5 1.5 .5 1.2 .5 .6 .5-.1 .5-.6 .5-.7 .5-.8 .5-.7 .5-.8 .5-.8 .5-.8 .5-.7 .5-.8 .5-.8 .5-.6 .5-.1 .5 1.1 .5 2.8 .5 4.1 .5 4.5 .5 4.4 .5 3.5 .5 2 .5 .4 .5-.6 .5-1 .5-1.1 .5-1.1 .5-1.1 .5-1.1 .5-1.1 .5-1.1 .5-1.3 .5-1.5 .5-1.8 .5-2.1 .5-2.1 .5-2.3 .5-2.2 .5-2.1 .5-1.9 .5-1.2 .5-.1 .5 1 .5 1.6 .5 1.7 .5 1.8 .5 1.9 .5 1.8 .5 1.8 .5 1.8 .5 1.7 .5 1.8 .5 1.7 .5 1.5 .5 .9 .5-.2 .5-1.3 .5-2 .5-2.3 .5-2.4 .5-2.3 .5-2.3 .5-1.8 .5-.9 .5 .5 .5 1.5 .5 1.8 .5 2 .5 2 .5 1.9 .5 1.9 .5 1.6 .5 1.1 .5 .6 .5 .3 .5 .1 .5 .1 .5 .1 .5 .1 .5 0 .5-.3 .5-.7 .5-.9 .5-1.1 .5-1.1 .5-1.1 .5-1.2 .5-1.2 .5-1.5 .5-2.1 .5-2.7 .5-3 .5-3.2 .5-3.2 .5-3.2 .5-3 .5-2.6 .5-1.2 .5 .5 .5 1.8 .5 2.4 .5 2.5 .5 2.4 .5 2.5 .5 2.1 .5 1.4 .5 0 .5-1.4 .5-2.4 .5-2.6 .5-2.3 .5-1.3 .5 .3 .5 1.5 .5 2.1 .5 2.3 .5 2.4 .5 2.3 .5 2.1 .5 1.6 .5 .7 .5-.2 .5-.8 .5-1.1 .5-1.1 .5-1.1 .5-1.1 .5-1.1 .5-1.1 .5-1.1 .5-1.1 .5-1.1 .5-1.2 .5-1.2 .5-1.1 .5-1.2 .5-1.2 .5-1.1 .5-1 .5-.4 .5 .3 .5 1 .5 1.5 .5 1.6 .5 1.6 .5 1.7 .5 1.5 .5 1.1 .5 .1 .5-1.4 .5-2.3 .5-2.8 .5-2.9 .5-3 .5-2.9 .5-2.9 .5-2.9 .5-2.8 .5-2.5 .5-1.8 .5-.6 .5 .4 .5 .8 .5 1 .5 1 .5 1 .5 .9 .5 .6 .5 0 .5-.7 .5-1.1 .5-1.4 .5-1.4 .5-1.3 .5-1.4 .5-1.4 .5-1.4 .5-1.3 .5-.7 .5 .6 .5 2.4 .5 3.7 .5 4.3 .5 4.1 .5 3.5 .5 2.3 .5 .7 .5-.4 .5-.7 .5-.9 .5-.9 .5-.9 .5-.9 .5-.8 .5-.9 .5-.5 .5 0 .5 .8 .5 1.4 .5 1.6 .5 1.5 .5 1.1 .5 0 .5-1.1 .5-2 .5-2.3 .5-2.3 .5-2.3 .5-2.3 .5-1.9 .5-1 .5 .3 .5 1.5 .5 1.9 .5 2.2 .5 2.2 .5 2.1 .5 1.9 .5 1.2 .5 0 .5-1.2 .5-2.1 .5-2.2 .5-1.9 .5-.7 .5 1 .5 2.7 .5 3.6 .5 4 .5 4 .5 4 .5 3.8 .5 3.2 .5 1.9 .5 .2 .5-.8 .5-1.2 .5-1.3 .5-1.4 .5-1.3 .5-1.2 .5-1.2 .5-.9 .5-.6 .5-.6 .5-.5 .5-.5 .5-.5 .5-.5 .5-.5 .5-.5 .5-.4 .5 0 .5 .4 .5 1 .5 1.3 .5 1.4 .5 1.5 .5 1.5 .5 1.4 .5 1.1 .5 .4 .5-.6 .5-1.4 .5-1.9 .5-1.9 .5-1.8 .5-1.6 .5-1.2 .5-1 .5-.9 .5-.9 .5-.9 .5-.9 .5-.9 .5-.8 .5-.8 .5-.5 .5 .3 .5 1.4 .5 2.3 .5 2.5 .5 2.6 .5 2.6 .5 2.6 .5 2.4 .5 2 .5 1.1 .5 .1 .5-.4 .5-.6 .5-.6 .5-.7 .5-.7 .5-.8 .5-.9 .5-1.2 .5-1.4 .5-1.5 .5-1.5 .5-1.5 .5-1.4 .5-1.5 .5-1.5 .5-1.5 .5-1.2 .5-.7 .5 .2 .5 1 .5 1.5 .5 1.6 .5 1.7 .5 1.7 .5 1.5 .5 1.1 .5 .3 .5-.7 .5-1.4 .5-1.7 .5-1.7 .5-1.7 .5-1.8 .5-1.7 .5-1.7 .5-1.6 .5-1.2 .5 .1 .5 1.8 .5 3.2 .5 4 .5 4.2 .5 4.1 .5 3.8 .5 2.8 .5 1 .5-1 .5-2.2 .5-2.6 .5-2.6 .5-2.5 .5-1.8 .5-1 .5-.1 .5 .5 .5 .6 .5 .6 .5 .6 .5 .6 .5 .7 .5 .6 .5 .6 .5 .7 .5 .8 .5 1 .5 .9 .5 1 .5 1 .5 1 .5 1.1 .5 1 .5 1 .5 1 .5 .9 .5 .7 .5 .4 .5 .3 .5 .2 .5 .1 .5 .2 .5 0 .5-.7 .5-2.4 .5-5.2 .5-7.7 .5-9.3 .5-9.7 .5-9.3 .5-8.5 .5-7.2 .5-6.3 .5-5.9 .5-5.4 .5-4.2 .5-1.9 .5 1 .5 2.9 .5 3.7 .5 3.9 .5 3.9 .5 3.9 .5 4 .5 3.8 .5 3.8 .5 2.9 .5 1.2 .5-1.4 .5-3.1 .5-3.9 .5-4.1 .5-4.1 .5-4.1 .5-4.1 .5-4.1 .5-3.9 .5-3.6 .5-2.4 .5-.5 .5 1.3 .5 2.2 .5 2.6 .5 2.6 .5 2.1 .5 .9 .5-1.9 .5-5.2 .5-7.4 .5-8.4 .5-8.5 .5-8.5 .5-8.5 .5-8.5 .5-7.9 .5-6.6 .5-4.6 .5-2.5 .5-1.5 .5-1.1 .5-1 .5-1 .5-1 .5-1.2 .5-1.2 .5-1.5 .5-1.7 .5-1.6 .5-1.4 .5-.8 .5 .3 .5 1.5 .5 2.2 .5 2.6 .5 2.6 .5 2.6 .5 2.6 .5 2.6 .5 2.5 .5 2.4 .5 1.2 .5-1.5 .5-5.2 .5-7.8 .5-9 .5-9.2 .5-9.3 .5-9.1 .5-8.6 .5-7 .5-4.6 .5-2.3 .5-1.1 .5-.6 .5-.5 .5-.5 .5-.4 .5-.3 .5-.1 .5 .3 .5 .6 .5 .6 .5 .7 .5 .7 .5 .6 .5 .6 .5 .3 .5 .1 .5-.1 .5-.3 .5-.3 .5-.4 .5-.3 .5-.4 .5-.7 .5-1.1 .5-1.7 .5-2.1 .5-2.2 .5-2.3 .5-2.2 .5-1.8 .5-1.3 .5-.8 .5-.3 .5-.2 .5-.2 .5-.2 .5-.1 .5 0 .5 .3 .5 .4 .5 .5 .5 .5 .5 .6 .5 .5 .5 .6 .5 .8 .5 1.2 .5 1.5 .5 1.7 .5 1.8 .5 1.8 .5 1.8 .5 1.9 .5 2 .5 1.9 .5 2 .5 2 .5 2 .5 1.9 .5 1.9 .5 1.7 .5 1.7 .5 1.5 .5 1.5 .5 1.5 .5 1.5 .5 1.5 .5 1.4 .5 1.1 .5 .9 .5 .6 .5 .5 .5 .5 .5 .5 .5 .5 .5 .5 .5 .5 .5 .5 .5 .5 .5 .5 .5 .6 .5 .6 .5 .6 .5 .7 .5 .6 .5 .7 .5 .6 .5 .6 .5 .7 .5 .6 .5 .8 .5 .9 .5 1.1 .5 1.2 .5 1.2 .5 1.3 .5 1.2 .5 1.3 .5 1.2 .5 1.3 .5 1.2 .5 1.3 .5 1.4 .5 1.4 .5 1.6 .5 1.6 .5 1.6 .5 1.6 .5 1.5 .5 1.6 .5 1.6 .5 1.6 .5 1.6 .5 1.6 .5 1.6 .5 1.4 .5 1 .5 .4 .5 0 .5-.2 .5-.4 .5-.3 .5-.3 .5-.2 .5 0 .5 .6 .5 1 .5 1.4 .5 1.4 .5 1.6 .5 1.5 .5 1.4 .5 1.4 .5 1.2 .5 .9 .5 .6 .5 .5 .5 .5 .5 .5 .5 .5 .5 .5 .5 .5 .5 .5 .5 .5 .5 .5 .5 .5 .5 .5 .5 .5 .5 .5 .5 .5 .5 .5 .5 .5 .5 .5 .5 .4 .5 .5 .5 .5 .5 .5 .5 .6 .5 .8 .5 1.1 .5 1.4 .5 1.7 .5 1.6 .5 1.4 .5 .7 .5-.5 .5-1.4 .5-1.8 .5-2 .5-2 .5-2 .5-2 .5-1.9 .5-2 .5-2 .5-2 .5-1.9 .5-1.7 .5-.8 .5 .4 .5 1.6 .5 2.2 .5 2.5 .5 2.5 .5 2.5 .5 2.5 .5 2.2 .5 1.8 .5 1.3 .5 .9 .5 .8 .5 .7 .5 .8 .5 .7 .5 .8 .5 .7 .5 .7 .5 .6 .5 .4 .5-.1 .5-.4 .5-.5 .5-.6 .5-.6 .5-.7 .5-.6 .5-.6 .5-.6 .5-.5 .5-.1 .5 .3 .5 1 .5 1.3 .5 1.5 .5 1.4 .5 1.5 .5 1.5 .5 1.2 .5 .8 .5 .1 .5-.4 .5-.6 .5-.6 .5-.6 .5-.6 .5-.7 .5-.6 .5-.6 .5-.6 .5-.6 .5-.5 .5-.5 .5-.5 .5-.5 .5-.4 .5-.5 .5-.5 .5-.4 .5-.5 .5-.5 .5-.4 .5-.5 .5-.4 .5-.2 .5 0 .5 .5 .5 .7 .5 .8 .5 .8 .5 .9 .5 .8 .5 .9 .5 1 .5 1.3 .5 1.5 .5 1.7 .5 1.7 .5 1.7 .5 1.8 .5 1.7 .5 1.7 .5 1.8 .5 1.7 .5 1.5 .5 1.1 .5 .3 .5-.5 .5-1 .5-1.2 .5-1.3 .5-1.2 .5-1.3 .5-1.2 .5-1.3 .5-1.2 .5-1.1 .5-.6 .5 0 .5 .6 .5 1 .5 1.2 .5 1.1 .5 1.2 .5 1.1 .5 1 .5 .6 .5 0 .5-.6 .5-.9 .5-.9 .5-.8 .5-.2 .5 .4 .5 1.1 .5 1.4 .5 1.5 .5 1.4 .5 1.5 .5 1.5 .5 1.3 .5 .9 .5 .4 .5 0 .5-.3 .5-.3 .5-.3 .5-.4 .5-.3 .5-.2 .5 .2 .5 .5 .5 .8 .5 1 .5 1 .5 1 .5 1 .5 .9 .5 1 .5 1 .5 1 .5 .7 .5 .3 .5-.3 .5-.8 .5-.9 .5-1 .5-.9 .5-.9 .5-.6 .5-.6 .5-.5 .5-.5 .5-.5 .5-.5 .5-.4 .5-.4 .5 0 .5 .2 .5 .5 .5 .6 .5 .6 .5 .5 .5 .6 .5 .6 .5 .6 .5 .6 .5 .6 .5 .5 .5 .6 .5 .6 .5 .6 .5 .6 .5 .4 .5 .1 .5-.5 .5-1 .5-1.5 .5-1.6 .5-1.7 .5-1.6 .5-1.6 .5-1.3 .5-.3 .5 1.4 .5 3.2 .5 4.4 .5 4.6 .5 4.5 .5 3.4 .5 1.9 .5 .5 .5-.3 .5-.6 .5-.6 .5-.7 .5-.6 .5-.8 .5-.8 .5-1 .5-1.2 .5-1.3 .5-1.4 .5-1.3 .5-1.4 .5-1.3 .5-1.1 .5-.5 .5 .2 .5 .9 .5 1.2 .5 1.3 .5 1.3 .5 1.4 .5 1.3 .5 1.2 .5 .9 .5 .6 .5 .4 .5 .1 .5 .2 .5 .1 .5 .1 .5 .2 .5 .1 .5 .1 .5 .2 .5 .4 .5 .8 .5 1.5 .5 2 .5 2.1 .5 2.1 .5 1.7 .5 .8 .5-.7 .5-1.6 .5-2 .5-2.2 .5-2.1 .5-2.2 .5-2 .5-1.5 .5-.3 .5 1.2 .5 2.5 .5 2.9 .5 2.9 .5 2.3 .5 1.3 .5 0 .5-.9 .5-1.2 .5-1.3 .5-1.3 .5-1.3 .5-1.3 .5-1 .5-.8 .5-.3 .5 0 .5 .1 .5 .1 .5 .1 .5 .1 .5 .2 .5 .1 .5 .1 .5 .2 .5 .4 .5 .8 .5 1.1 .5 1.4 .5 1.5 .5 1.3 .5 1 .5 .2 .5-.4 .5-1 .5-1.1 .5-1.1 .5-1.1 .5-1.2 .5-1.1 .5-1.1 .5-1.1 .5-.9 .5-.5 .5 .4 .5 1 .5 1.5 .5 1.6 .5 1.7 .5 1.6 .5 1.7 .5 2 .5 2.9 .5 4 .5 5.3 .5 5.9 .5 5.9 .5 5.4 .5 3.6 .5 .7 .5-1.9 .5-3.5 .5-4 .5-4.1 .5-3.9 .5-3.4 .5-1.9 .5 .1 .5 1.5 .5 2.1 .5 2.3 .5 2.2 .5 2 .5 1.5 .5 .7 .5 .1 .5-.2 .5-.4 .5-.3 .5-.3 .5-.3 .5-.1 .5 .4 .5 1 .5 1.5 .5 1.7 .5 1.7 .5 1.7 .5 1.8 .5 1.7 .5 1.7 .5 1.7 .5 1.7 .5 1.4 .5 .8 .5 .1 .5-.6 .5-.7 .5-.9 .5-.8 .5-.9 .5-.9 .5-1.2 .5-1.8 .5-2.4 .5-2.9 .5-3 .5-3.1 .5-2.9 .5-2.3 .5-.8 .5 1.3 .5 2.8 .5 3.5 .5 3.6 .5 3.6 .5 3.5 .5 3 .5 2.2 .5 1.1 .5 .3 .5 .1 .5 0 .5 0 .5 .1 .5 .3 .5 1.1 .5 2.5 .5 3.9 .5 4.7 .5 4.3 .5 2.8 .5-.1 .5-2.6 .5-4.1 .5-4.5 .5-4.3 .5-3.5 .5-2.1 .5-.9 .5-.1 .5 0 .5 .2 .5 .1 .5 .2 .5 .2 .5 .2 .5 .5 .5 .8 .5 1.2 .5 1.4 .5 1.4 .5 1.4 .5 1.3 .5 .9 .5 .1 .5-.5 .5-1.1 .5-1.2 .5-1.3 .5-1.2 .5-1.3 .5-1.2 .5-1.3 .5-1 .5-.5 .5 .2 .5 .8 .5 1 .5 1.2 .5 1.2 .5 1.1 .5 1.2 .5 1 .5 .7 .5 .2 .5-.1 .5 .1 .5 1.9 .5 5.9 .5 11.6 .5 15.3 .5 15.8 .5 13 .5 8.7 .5 5.7 .5 4.2 .5 4 .5 3.5 .5 2.5 .5 1.4 .5 .5 .5 .1 .5-.1 .5-.2 .5-.8 .5-1.5 .5-2.1 .5-2.2 .5-2.3 .5-2.4 .5-2.3 .5-2.2 .5-1.7 .5-.7 .5 .7 .5 1.7 .5 2.2 .5 2.1 .5 1.6 .5 .6 .5-.6 .5-1.4 .5-1.7 .5-1.8 .5-1.8 .5-1.8 .5-1.6 .5-1.1 .5 .1 .5 1.3 .5 2.3 .5 2.6 .5 2.7 .5 2.7 .5 2.6 .5 2.5 .5 1.8 .5 .8 .5-.2 .5-1 .5-1.3 .5-1.3 .5-1.3 .5-1.4 .5-1.3 .5-1.5 .5-1.7 .5-1.8 .5-2 .5-2 .5-1.7 .5-.9 .5 .4 .5 1.5 .5 2.2 .5 2.4 .5 2.5 .5 2.5 .5 2.4 .5 2 .5 1.1 .5-.4 .5-1.9 .5-2.6 .5-2.8 .5-2.6 .5-1.9 .5-.6 .5 .4 .5 1.1 .5 1.4 .5 1.4 .5 1.3 .5 1.4 .5 1.4 .5 1.4 .5 1.3 .5 .9 .5 .2 .5-1.1 .5-2 .5-2.5 .5-2.6 .5-2.2 .5-1.2 .5 .2 .5 1.5 .5 2.1 .5 2.2 .5 1.7 .5 .6 .5-.8 .5-1.9 .5-2.4 .5-2.3 .5-2 .5-.9 .5 .4 .5 1.5 .5 1.8 .5 2 .5 2 .5 1.9 .5 1.9 .5 1.3 .5-.1 .5-1.8 .5-3.2 .5-3.8 .5-3.8 .5-3.9 .5-3.9 .5-3.6 .5-2.8 .5-1.3 .5 .5 .5 1.9 .5 2.3 .5 2.5 .5 2.5 .5 2.4 .5 2.3 .5 1.8 .5 .7 .5-.5 .5-1.3 .5-1.7 .5-1.6 .5-1.1 .5-.3 .5 .5 .5 1.1 .5 1.4 .5 1.3 .5 1.4 .5 1.3 .5 1.4 .5 1.4 .5 1.3 .5 1.2 .5 .6 .5-.2 .5-1.1 .5-1.7 .5-1.9 .5-1.8 .5-1.2 .5-.2 .5 .7 .5 1.4 .5 1.7 .5 1.7 .5 1.6 .5 1.7 .5 1.4 .5 .8 .5-.2 .5-1.1 .5-1.6 .5-1.7 .5-1.8 .5-1.8 .5-1.8 .5-1.5 .5-.9 .5 0 .5 .9 .5 1.5 .5 1.6 .5 1.7 .5 1.6 .5 1.6 .5 1.2 .5 .3 .5-1 .5-2.1 .5-2.7 .5-2.9 .5-2.8 .5-2.3 .5-1.3 .5 .4 .5 2 .5 2.9 .5 3.3 .5 3.3 .5 3.2 .5 2.6 .5 1.4 .5-.4 .5-1.7 .5-2.2 .5-2.3 .5-2.4 .5-2.3 .5-2.3 .5-2.4 .5-2.3 .5-2.3 .5-1.7 .5-.4 .5 1.2 .5 2.4 .5 3 .5 3.1 .5 3 .5 3.1 .5 3 .5 2.4 .5 1.2 .5-.4 .5-1.7 .5-2.2 .5-2.3 .5-2.3 .5-2.3 .5-2.1 .5-1.7 .5-.8 .5 .4 .5 1.1 .5 1.4 .5 1.5 .5 1.4 .5 1.5 .5 1.4 .5 1.2 .5 .6 .5 0 .5-.4 .5-.6 .5-.6 .5-.7 .5-.6 .5-.6 .5-.6 .5-.7 .5-.5 .5-.5 .5-.3 .5-.1 .5 .1 .5 .1 .5 .1 .5 .1 .5 .2 .5 .1 .5 .1 .5 .1 .5 .2 .5 .2 .5 .3 .5 .4 .5 .5 .5 .5 .5 .5 .5 .5 .5 .4 .5 .3 .5-.2 .5-1 .5-1.8 .5-2.2 .5-2.3 .5-2.3 .5-2.3 .5-1.9 .5-1 .5 .3 .5 1.1 .5 1.5 .5 1.5 .5 1.6 .5 1.6 .5 1.6 .5 1.6 .5 1.5 .5 1.6 .5 1.5 .5 1.2 .5 .4 .5-.8 .5-1.7 .5-2.2 .5-2.4 .5-2.4 .5-2.4 .5-2.4 .5-2.4 .5-2.4 .5-2.3 .5-1.7 .5-.5 .5 1.1 .5 2.3 .5 2.9 .5 3 .5 3 .5 3 .5 2.9 .5 2.3 .5 1.2 .5-.4 .5-1.7 .5-2.1 .5-2 .5-1.2 .5 .8 .5 3.4 .5 4.4 .5 3.1 .5 .8 .5-1 .5-1.6 .5-1.8 .5-1.8 .5-1.8 .5-1.7 .5-1.4 .5-.7 .5 0 .5 .6 .5 .7 .5 .9 .5 .8 .5 .8 .5 .7 .5 .5 .5 0 .5-.7 .5-1 .5-1.2 .5-1.3 .5-1.2 .5-1.3 .5-1.2 .5-1.3 .5-1.2 .5-1.2 .5-.9 .5-.6 .5-.2 .5 0 .5 .1 .5 .2 .5 .2 .5 .1 .5 0 .5-.4 .5-.8 .5-1.4 .5-1.7 .5-1.8 .5-1.8 .5-1.8 .5-1.8 .5-1.5 .5-1 .5 0 .5 .8 .5 1.3 .5 1.4 .5 1.6 .5 1.5 .5 1.4 .5 1.3 .5 .8 .5 .1 .5-.4 .5-.7 .5-.8 .5-.8 .5-.9 .5-.7 .5-.3 .5 .6 .5 2.1 .5 3.3 .5 3.9 .5 4 .5 3.6 .5 2.5 .5 1.2 .5 .2 .5-.2 .5-.3 .5-.4 .5-.3 .5-.4 .5-.4 .5-.6 .5-1 .5-1.1 .5-1.2 .5-1.2 .5-1.2 .5-1.1 .5-.9 .5-.8 .5-.7 .5-.7 .5-.7 .5-.4" fill="none" stroke="#7a0000" stroke-width="2.1" stroke-linejoin="round"/>
<line x1="221.30" y1="1035.00" x2="221.30" y2="1452.00" stroke="rgb(236,120,80)" stroke-width="3" stroke-dasharray="20.3 13.5"/>
<line x1="358.70" y1="1035.00" x2="358.70" y2="1452.00" stroke="rgb(70,150,70)" stroke-width="2.8" stroke-dasharray="20.3 13.5"/>
<text x="226" y="1035" font-size="22" fill="rgb(220,85,35)" text-anchor="start" textLength="30" lengthAdjust="spacing" >(a)</text>
<text x="360.3" y="1035" font-size="22" fill="rgb(30,120,30)" text-anchor="start" textLength="30" lengthAdjust="spacing" >(b)</text>
<text x="43.2" y="1214.5" font-size="41" fill="#111" text-anchor="middle" textLength="318" lengthAdjust="spacingAndGlyphs" transform="rotate(-90 43.2 1214.5)" >Amplitude Entropy</text>
<text x="370" y="1485.8" font-size="40" fill="#111" text-anchor="start" textLength="71" lengthAdjust="spacingAndGlyphs" >time</text>
<line x1="1264.00" y1="1036.20" x2="949.34" y2="1338.25" stroke="#000" stroke-width="2.2" />
<path d="M939.60,1347.60 L950.22,1329.78 L950.42,1337.21 L957.84,1337.72 Z" fill="#000"/>
<text x="1114.3" y="1149.8" font-size="48" fill="#000" text-anchor="middle" textLength="162" lengthAdjust="spacingAndGlyphs" transform="rotate(-43.8 1114.3 1149.8)" >Entropy</text>
</svg></body></html>
